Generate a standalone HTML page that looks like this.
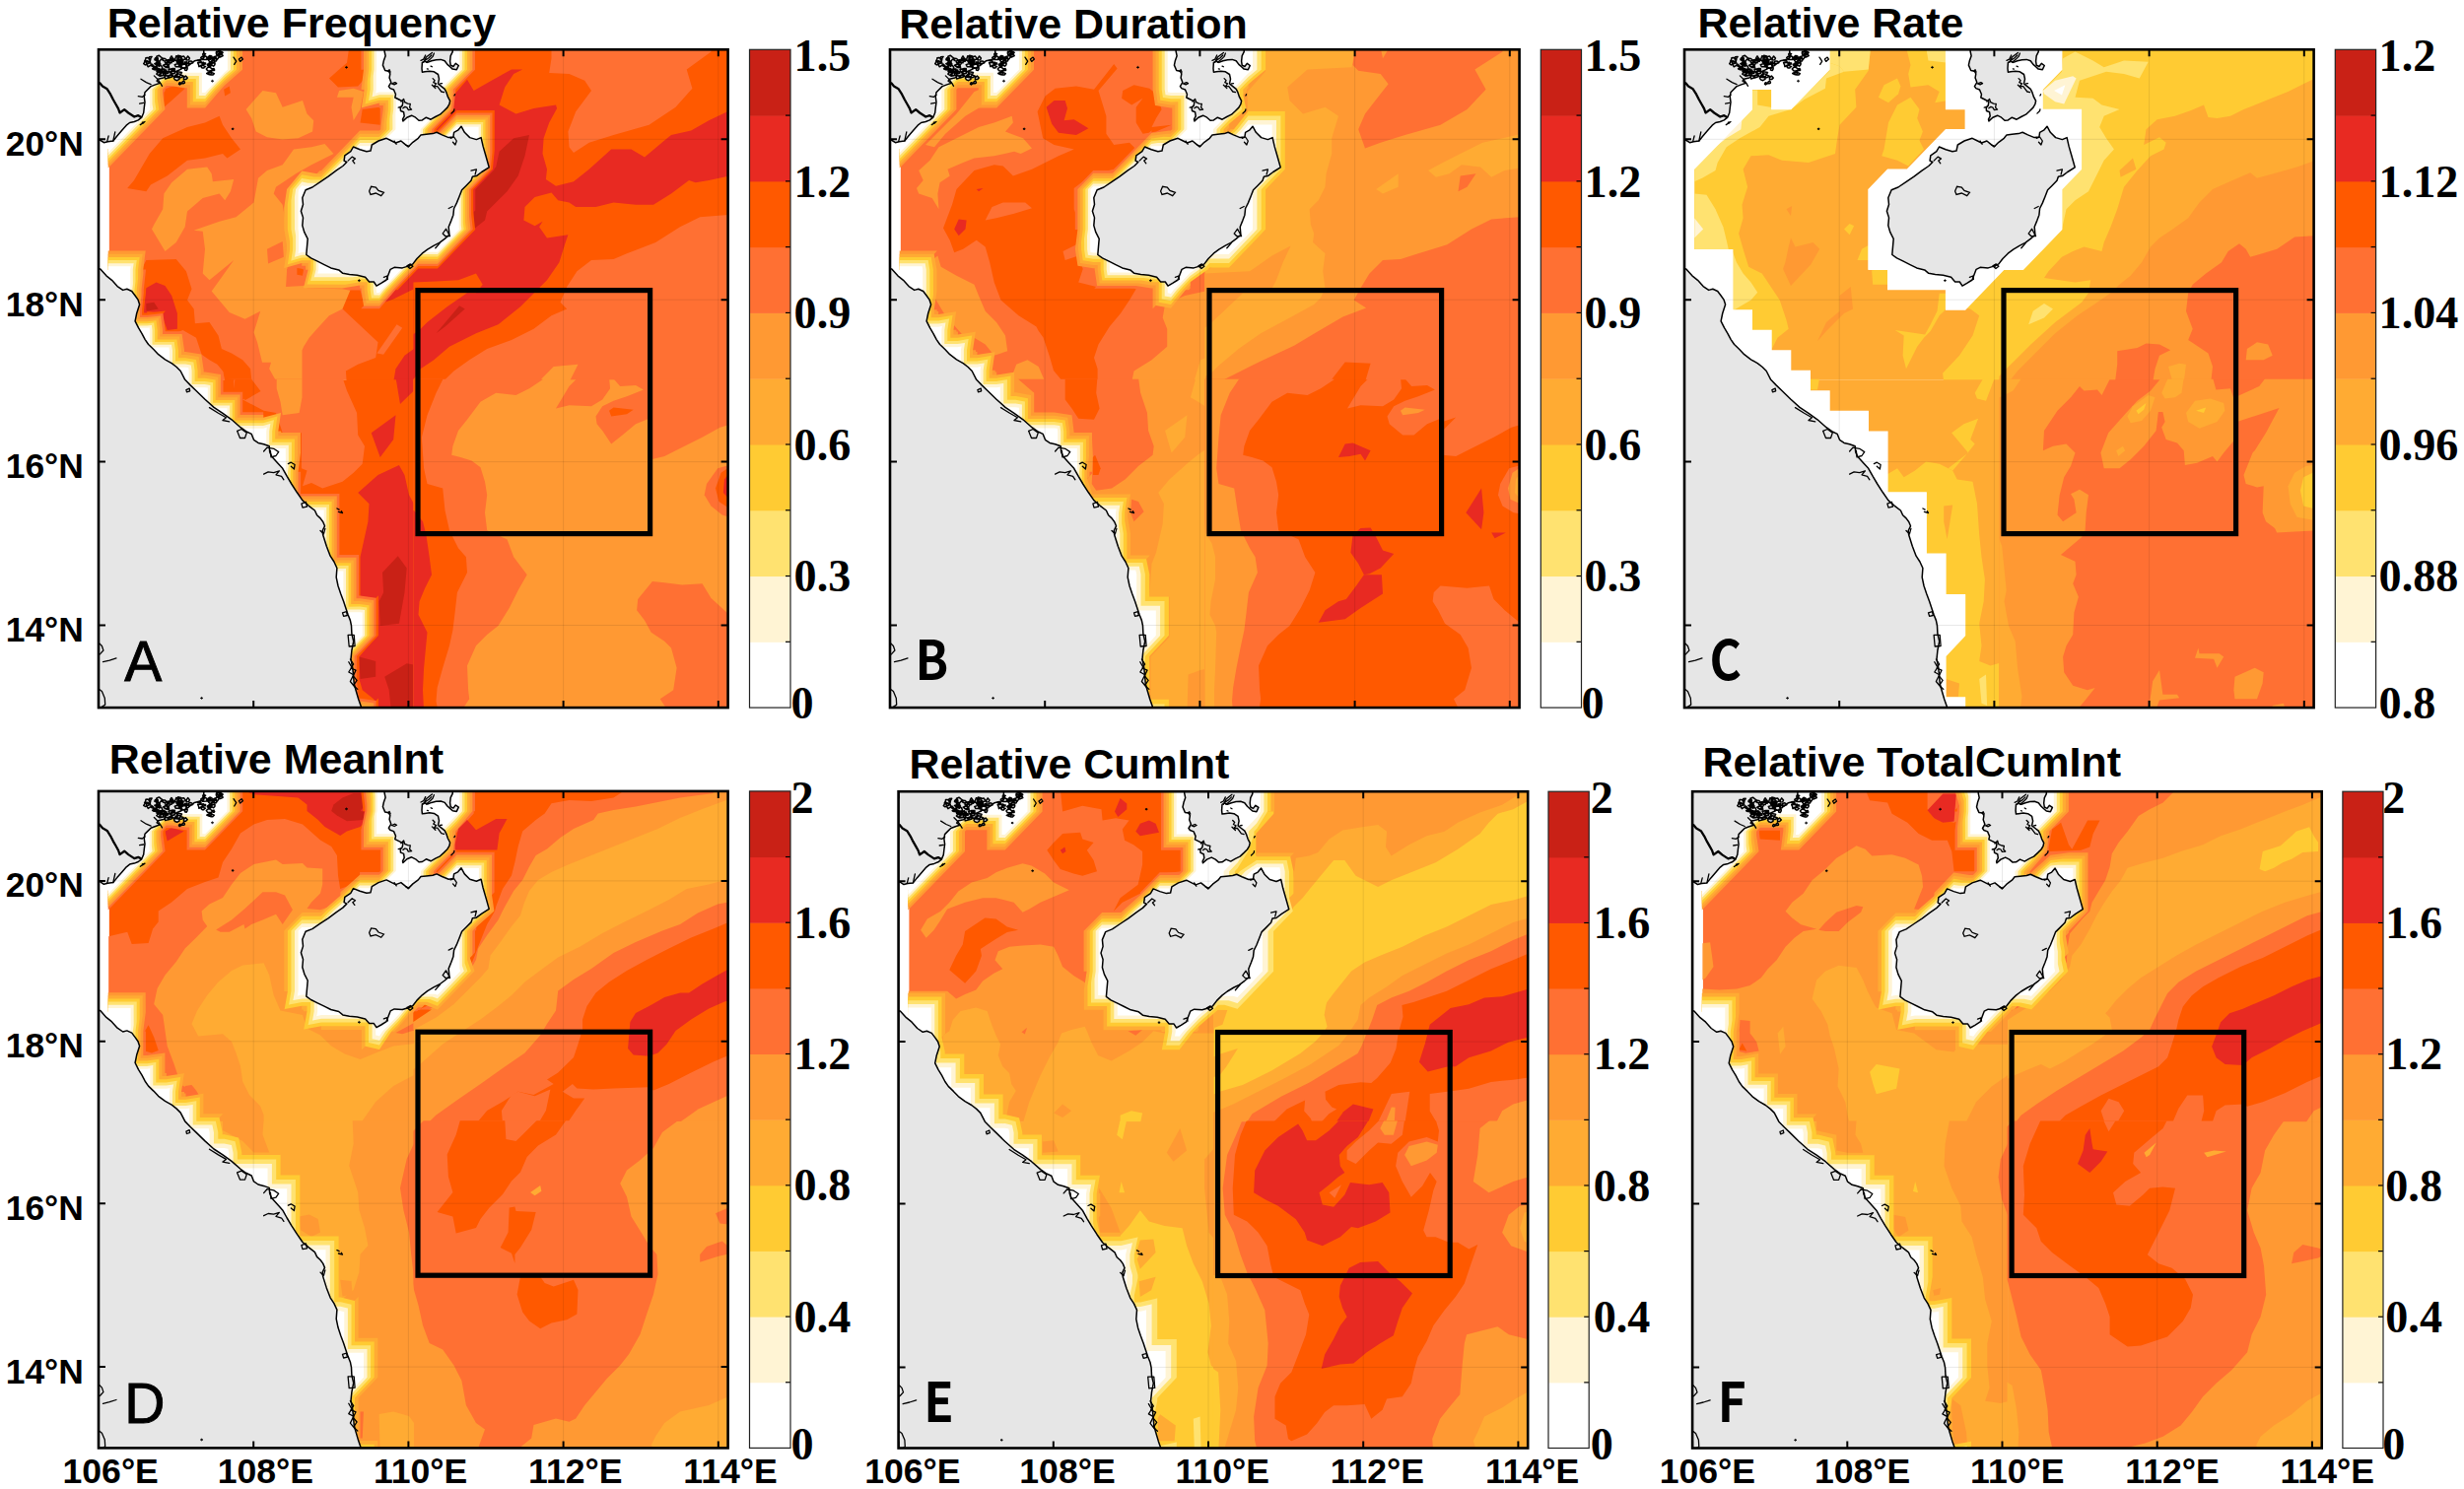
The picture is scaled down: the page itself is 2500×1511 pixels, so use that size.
<!DOCTYPE html>
<html><head><meta charset="utf-8"><title>Relative MHW metrics</title>
<style>html,body{margin:0;padding:0;background:#fff}svg{display:block}</style></head>
<body>
<svg width="2500" height="1511" viewBox="0 0 2500 1511">
<rect width="2500" height="1511" fill="#fff"/>
<clipPath id="cpA"><rect x="0" y="0" width="638.6" height="667.8"/></clipPath>
<g transform="translate(100.0,50.3)" clip-path="url(#cpA)">
<clipPath id="cqATL"><rect x="10.200000000000001" y="-0.6" width="310.4" height="336.2"/></clipPath>
<g clip-path="url(#cqATL)">
<rect x="10.8" y="0" width="309.2" height="335" fill="#ff7033"/>
<polygon points="166.5,41.6 180.0,43.9 186.7,58.5 207.0,51.7 211.5,65.2 218.2,72.0 217.1,83.2 202.5,90.0 186.7,91.1 171.0,88.9 159.7,83.2 155.2,69.7 149.6,60.7 157.5,51.7" fill="#ff9933"/>
<polygon points="244.1,41.6 258.7,39.4 268.9,42.7 265.5,60.7 258.7,72.0 256.5,58.5 258.7,48.4 241.9,48.4" fill="#ff9933"/>
<polygon points="74.2,135.0 90.0,121.5 110.2,119.2 114.7,126.0 115.9,133.9 137.2,131.6 133.9,144.0 128.2,153.0 122.6,146.2 105.7,150.7 90.0,164.2 87.7,180.0 78.7,195.7 67.5,204.7 54.0,182.2 56.2,177.7 65.2,162.0 66.4,146.2" fill="#ff9933"/>
<polygon points="96.7,183.4 122.6,174.4 139.5,169.9 157.5,155.2 162.0,130.5 171.0,122.6 186.7,117.0 198.0,101.2 216.0,99.0 229.5,95.6 238.5,105.7 216.0,117.0 200.2,126.0 180.0,139.5 177.7,146.2 186.7,157.5 189.0,171.0 193.5,202.5 191.2,225.0 211.5,241.9 247.5,243.0 258.7,245.2 247.5,263.2 234.0,270.0 221.6,283.5 213.7,292.5 208.1,301.5 206.5,305.3 206.5,337.5 180.7,337.5 173.2,324.0 175.0,317.5 166.0,317.5 161.1,297.2 157.5,286.9 164.2,265.5 148.5,273.4 132.7,266.6 114.7,245.2 126.0,229.5 137.2,213.7 112.5,234.0 105.7,227.2 108.0,202.5 105.7,184.5" fill="#ff9933"/>
<polygon points="171.0,202.5 186.7,194.6 187.9,210.4 172.1,217.1" fill="#ff7033"/>
<polygon points="191.2,222.7 210.4,219.4 208.1,239.6 190.1,240.7" fill="#ff7033"/>
<polygon points="201.4,221.6 208.1,222.7 207.0,229.5 201.4,228.4" fill="#ff5900"/>
<polygon points="29.2,140.6 36.0,132.7 51.7,105.7 65.2,90.0 90.0,78.7 108.0,74.2 122.6,67.5 126.0,76.5 135.0,90.0 144.0,101.2 130.5,110.2 126.0,105.7 108.0,110.2 90.0,112.5 69.7,128.2 52.9,137.2 48.4,144.0" fill="#ff5900"/>
<polygon points="66.4,39.4 76.5,37.1 87.7,39.4 74.2,51.7 66.4,58.5" fill="#ff5900"/>
<polygon points="234.0,29.2 245.2,19.1 252.0,13.5 254.2,-2.2 272.2,-2.2 270.0,29.2 263.2,37.1 243.0,38.2" fill="#ff5900"/>
<polygon points="267.7,60.7 285.7,58.5 285.7,76.5 265.5,74.2" fill="#ff5900"/>
<polygon points="127.1,40.5 132.7,37.1 133.9,43.9 128.2,47.2" fill="#ff5900"/>
<polygon points="48.4,213.7 78.7,212.6 88.9,225.0 94.5,243.0 90.0,254.2 96.7,263.2 97.9,277.9 112.5,276.7 121.5,290.2 124.9,303.7 135.0,308.2 146.2,315.0 154.1,324.0 155.5,337.5 128.7,337.5 126.0,326.2 120.4,319.5 112.5,315.0 104.6,309.4 99.0,292.5 85.5,284.6 67.5,292.5 45.0,281.2 40.5,247.5 45.0,220.5" fill="#ff5900"/>
<polygon points="48.4,241.9 58.5,236.2 67.5,239.6 74.2,249.7 79.9,267.7 79.9,283.5 69.7,284.6 65.2,272.2 58.5,266.6 45.0,265.5" fill="#e82a22"/>
<polygon points="48.4,257.6 56.2,256.5 60.7,263.2 48.4,265.5" fill="#c92116"/>
<polygon points="247.5,263.2 255.4,244.1 265.5,244.1 270.0,261.0 285.7,261.0 319.9,225.0 326.2,225.0 326.2,342.0 252.0,342.0 250.9,326.2 263.2,319.5 281.2,312.7 283.5,297.0" fill="#ff5900"/>
<polygon points="282.4,308.2 302.6,279.0 308.2,282.4 289.1,309.4" fill="#ff7033"/>
<polygon points="290.2,256.5 319.9,222.7 326.2,222.7 326.2,240.7 319.9,243.0 299.2,253.1" fill="#e82a22"/>
<polygon points="326.2,301.5 319.9,303.7 310.5,310.5 301.5,324.0 299.2,337.5 326.2,337.5" fill="#e82a22"/>
</g>
<clipPath id="cqATR"><rect x="319.4" y="-0.6" width="321.2" height="336.2"/></clipPath>
<g clip-path="url(#cqATR)">
<rect x="320" y="0" width="320" height="335" fill="#ff5900"/>
<polygon points="459.5,-2.2 621.5,-2.2 621.5,2.2 596.7,20.2 602.4,39.4 585.5,58.5 558.5,76.5 522.5,86.6 497.7,94.5 482.0,104.6 477.5,99.0 476.4,83.2 484.2,63.0 500.0,41.6 493.2,31.5 477.5,24.7 457.2,23.6 459.5,9.0" fill="#ff7033"/>
<polygon points="646.2,167.6 639.9,167.6 610.2,169.9 590.0,180.0 565.2,195.7 536.0,207.0 522.5,212.6 500.0,213.7 485.4,225.0 475.2,240.7 468.5,256.5 475.2,263.2 459.5,270.0 441.5,283.5 419.0,294.7 394.2,303.7 376.2,315.0 360.5,326.2 351.5,335.0 349.2,342.0 646.2,342.0" fill="#ff7033"/>
<polygon points="446.0,337.5 461.7,321.7 486.5,319.5 477.5,337.5" fill="#ff9933"/>
<polygon points="361.6,45.0 374.0,30.4 380.7,41.6 398.7,31.5 419.0,20.2 430.2,20.2 421.2,24.7 412.2,38.2 406.6,56.2 423.5,65.2 441.5,59.6 464.0,56.2 465.1,59.6 457.2,74.2 451.6,90.0 450.5,105.7 455.0,121.5 453.9,131.6 464.0,138.4 482.0,133.9 497.7,121.5 520.2,101.2 540.5,101.2 554.0,109.1 574.2,92.2 581.0,86.6 601.2,82.1 619.2,72.0 639.9,61.9 646.2,61.9 646.2,128.2 639.9,128.2 619.2,132.7 605.7,135.0 599.0,132.7 581.0,146.2 563.0,157.5 545.0,157.5 522.5,155.2 504.5,159.7 484.2,159.7 477.5,155.2 466.2,153.0 459.5,145.1 442.6,149.6 432.5,159.7 431.4,173.2 442.6,178.9 450.5,174.4 447.1,180.0 455.0,191.2 476.4,187.9 473.0,198.0 467.4,216.0 455.0,234.0 446.0,243.0 428.0,261.0 405.5,279.0 383.0,288.0 356.0,301.5 340.2,315.0 326.7,324.0 317.8,337.5 317.8,67.5 342.5,67.5" fill="#e82a22"/>
<polygon points="317.8,236.2 342.5,235.1 365.0,234.0 383.0,227.2 389.7,238.5 383.0,247.0 374.0,247.0 353.7,261.0 333.5,276.7 326.7,283.5 317.8,290.2" fill="#ff5900"/>
<polygon points="437.0,86.6 432.5,108.0 425.7,128.2 414.5,144.0 394.2,164.2 392.0,173.2 380.7,182.2 380.7,144.0 387.5,135.0 403.2,119.2 406.6,103.5 421.2,90.0" fill="#c92116"/>
<polygon points="342.5,288.0 366.1,259.9 371.7,263.2 351.5,281.2" fill="#c92116"/>
</g>
<clipPath id="cqABL"><rect x="10.200000000000001" y="334.4" width="310.4" height="336.2"/></clipPath>
<g clip-path="url(#cqABL)">
<rect x="10.8" y="335" width="309.2" height="335" fill="#ff5900"/>
<polygon points="126.0,332.8 137.2,335.0 137.2,344.0 147.4,354.1 146.2,355.2 167.6,366.5 180.0,368.7 186.7,389.0 205.9,389.0 205.9,425.0 211.5,427.2 207.0,443.0 216.0,439.6 227.2,445.2 247.5,438.5 258.7,429.5 267.7,420.5 270.0,402.5 263.2,391.2 262.1,368.7 252.0,346.2 247.5,332.8" fill="#ff7033"/>
<polygon points="127.8,332.8 127.8,337.0 135.0,336.1 138.4,335.0 136.8,345.8 148.9,355.7 164.5,346.7 155.5,335.0 155.5,332.8" fill="#ff5900"/>
<polygon points="180.7,332.8 206.5,332.8 206.5,353.0 203.6,368.7 186.7,371.0 184.5,357.5 180.7,344.0" fill="#ff9933"/>
<polygon points="301.5,332.8 326.2,332.8 326.2,346.2 319.9,346.2 306.0,359.7" fill="#e82a22"/>
<polygon points="276.7,389.0 301.5,371.0 299.2,395.7 285.7,413.7" fill="#e82a22"/>
<polygon points="263.2,449.7 283.5,431.7 304.9,421.6 310.5,431.7 315.0,452.0 319.9,461.0 326.2,461.0 326.2,672.5 285.7,672.5 279.0,659.0 267.7,650.0 264.4,638.7 264.4,616.2 281.2,596.0 281.2,562.2 265.5,557.7 265.5,515.0 273.4,479.0 274.5,461.0" fill="#e82a22"/>
<polygon points="288.0,530.7 303.7,513.9 312.7,526.2 310.5,551.0 304.9,582.5 285.7,584.7 284.6,560.0 289.1,551.0" fill="#c92116"/>
<polygon points="264.4,616.2 281.2,620.7 281.2,636.5 265.5,638.7" fill="#c92116"/>
<polygon points="290.2,636.5 312.7,623.0 326.2,625.2 326.2,672.5 297.0,672.5 294.7,650.0" fill="#c92116"/>
</g>
<clipPath id="cqABR"><rect x="319.4" y="334.4" width="321.2" height="336.2"/></clipPath>
<g clip-path="url(#cqABR)">
<rect x="320" y="335" width="320" height="335" fill="#ff9933"/>
<polygon points="317.8,332.8 450.5,332.8 450.5,335.0 437.0,344.0 423.5,350.7 403.2,348.5 387.5,357.5 374.0,375.5 365.0,386.7 359.4,402.5 358.2,411.5 367.2,413.7 378.5,417.1 387.5,423.9 392.0,438.5 394.2,452.0 392.0,470.0 394.2,488.0 414.5,497.0 421.2,515.0 434.7,533.0 425.7,548.7 416.7,566.7 405.5,584.7 394.2,593.7 383.0,605.0 374.0,625.2 375.1,650.0 376.2,659.0 367.2,672.5 317.8,672.5" fill="#ff7033"/>
<polygon points="317.8,332.8 349.2,332.8 349.2,335.0 342.5,348.5 333.5,371.0 327.9,393.5 330.1,425.0 333.5,440.7 349.2,445.2 351.5,467.7 356.0,488.0 365.0,506.0 372.9,515.0 374.0,530.7 363.9,551.0 361.6,571.2 359.4,589.2 356.0,605.0 349.2,627.5 343.6,647.7 342.5,661.2 344.7,672.5 317.8,672.5" fill="#ff5900"/>
<polygon points="317.8,467.7 320.0,467.7 329.0,479.0 332.4,492.5 335.7,515.0 338.0,533.0 331.2,546.5 325.6,560.0 324.5,573.5 330.1,584.7 333.5,591.5 330.1,627.5 329.0,650.0 330.1,672.5 317.8,672.5" fill="#e82a22"/>
<polygon points="464.0,364.2 477.5,341.7 486.5,332.8 518.0,332.8 519.1,344.0 511.2,355.2 500.0,362.0 477.5,360.9" fill="#ff7033"/>
<polygon points="504.5,372.1 511.2,362.0 522.5,356.4 536.0,351.9 552.9,345.1 545.0,340.6 529.2,341.7 521.4,332.8 558.5,332.8 558.5,374.4 545.0,380.0 531.5,391.2 520.2,400.2 511.2,386.7 505.6,380.0" fill="#ff7033"/>
<polygon points="518.0,366.5 522.5,363.1 542.7,365.4 536.0,369.9 520.2,372.1" fill="#ff5900"/>
<polygon points="560.7,332.8 646.2,332.8 646.2,378.9 630.5,383.4 612.5,393.5 590.0,404.7 574.2,412.6 560.7,416.0" fill="#ff7033"/>
<polygon points="646.2,421.6 639.9,421.6 628.2,425.0 617.0,440.7 614.7,452.0 621.5,463.2 632.7,472.2 639.9,474.5 646.2,474.5" fill="#ff7033"/>
<polygon points="646.2,423.9 639.9,423.9 631.6,429.5 626.0,445.2 629.4,458.7 639.9,465.5 646.2,465.5" fill="#ff5900"/>
<polygon points="646.2,429.5 639.9,429.5 635.0,436.2 633.9,449.7 639.9,456.5 646.2,456.5" fill="#e82a22"/>
<polygon points="561.9,539.7 574.2,540.9 592.2,543.1 612.5,542.0 621.5,556.6 639.9,573.5 646.2,573.5 646.2,672.5 578.7,672.5 569.7,659.0 583.2,650.0 586.6,627.5 581.0,607.2 574.2,600.5 560.7,591.5 554.0,579.1 546.1,569.0 547.2,557.7" fill="#ff7033"/>
</g>
<path d="M383.3,121.1 363.1,141.9 363.4,141.9 363.4,162.1 363.1,162.3 363.4,162.3 363.4,182.9 382.3,163.3 382.3,141.9 402.1,121.3 383.3,121.3ZM29.3,284.8 29.3,285.0 29.5,284.8 49.2,284.8 49.2,265.1 48.2,265.1 48.2,264.0 29.3,264.0 29.3,284.6 29.1,284.8Z" fill="#e82a22" fill-rule="evenodd"/>
<path d="M29.3,284.6 29.1,284.8 29.3,284.8 29.3,285.0 29.5,284.8 48.9,284.8 48.9,285.0 68.0,265.2 49.1,267.3 46.1,267.3 46.1,264.2 48.1,245.0 48.1,243.6 29.3,243.6 29.3,264.1 29.1,264.3 29.3,264.3ZM283.9,553.9 264.9,574.0 265.1,574.0 265.1,594.6 245.3,615.7 245.4,615.7 245.4,636.3 245.3,636.6 245.4,636.6 245.4,657.7 264.2,637.7 264.2,615.6 284.1,594.5 283.9,594.5ZM283.9,678.4 283.9,658.2 264.9,678.4ZM344.0,60.3 323.8,81.1 324.1,81.1 324.1,101.1 323.8,101.3 324.1,101.3 324.1,101.6 324.3,101.3 343.7,101.3 343.7,101.6 363.6,81.1 383.0,81.1 383.0,101.1 382.8,101.3 383.0,101.3 383.0,121.4 363.1,141.9 363.4,141.9 363.4,162.1 363.1,162.3 363.4,162.3 363.4,182.4 343.8,202.7 324.3,202.7 324.3,202.5 324.1,202.7 284.5,243.9 303.5,243.9 324.3,222.2 343.7,222.2 343.7,222.5 382.2,182.6 382.3,182.3 382.1,182.3 380.2,165.3 380.2,141.9 400.1,121.3 399.9,121.3 401.8,102.0 401.8,61.9 402.0,61.7 401.8,61.7 401.8,61.5 401.6,61.7 363.6,61.7 363.6,61.5 343.8,82.0 342.8,82.0 342.8,81.0 362.7,60.5 344.0,60.5Z" fill="#ff5900" fill-rule="evenodd"/>
<path d="M48.9,40.6 48.9,61.0 67.6,41.9 67.6,40.5 68.8,39.3 70.1,39.3 88.8,20.1 68.9,20.1 68.9,19.9 48.9,40.3 48.7,40.6ZM127.8,39.2 127.8,19.9 107.7,40.6 126.5,40.6ZM29.1,264.3 29.3,264.3 29.3,284.6 29.1,284.8 29.3,284.8 29.3,285.0 29.5,284.8 48.9,284.8 48.9,305.1 48.7,305.3 48.9,305.3 48.9,305.5 49.2,305.3 68.6,305.3 68.6,305.5 87.4,285.9 67.6,285.9 67.6,284.5 65.4,267.8 65.7,267.6 65.4,267.6 65.4,267.5 65.2,267.7 49.1,269.4 44.1,269.4 44.1,264.2 45.8,246.9 45.8,243.7 47.9,224.7 47.9,223.1 29.3,223.1 29.3,243.7 29.1,243.9 29.3,243.9 29.3,264.1ZM107.7,346.4 107.9,346.4 107.9,366.8 107.7,367.0 107.9,367.0 107.9,367.2 108.1,367.0 127.5,367.0 127.5,387.4 127.3,387.6 127.5,387.6 127.5,387.8 127.8,387.6 147.2,387.6 147.2,387.8 147.4,387.6 167.2,387.6 167.2,368.0 146.2,368.0 146.2,347.7 146.4,347.5 146.2,347.5 146.2,347.2 146.0,347.5 126.5,347.5 126.5,326.7ZM186.5,449.5 186.5,470.0 186.3,470.2 186.5,470.2 186.5,470.4 186.7,470.2 206.2,470.2 206.2,470.4 206.4,470.2 225.8,470.2 225.8,490.7 225.6,490.9 225.8,490.9 225.8,511.4 225.6,511.6 225.8,511.6 225.8,532.2 225.6,532.4 225.8,532.4 225.8,532.6 226.0,532.4 245.4,532.4 245.4,553.0 245.3,553.2 245.4,553.2 245.4,573.8 245.3,574.0 245.4,574.0 245.4,574.2 245.7,574.0 265.1,574.0 265.1,594.6 245.3,615.7 245.4,615.7 245.4,636.3 245.3,636.6 245.4,636.6 245.4,657.2 245.3,657.5 245.4,657.5 245.4,678.2 245.3,678.4 245.4,678.4 245.4,678.6 245.7,678.4 265.1,678.4 265.1,678.6 265.3,678.4 281.6,678.4 281.6,661.1 281.7,660.9 281.6,660.9 281.6,660.6 281.4,660.8 265.4,658.5 264.1,658.5 264.1,657.2 261.9,640.1 261.9,615.6 281.8,594.5 281.6,594.5 281.6,556.8 281.7,556.6 281.6,556.6 281.6,556.3 281.4,556.5 265.4,554.3 264.1,554.3 264.1,512.9 264.3,512.7 264.1,512.7 264.1,512.5 263.9,512.7 244.4,512.7 244.4,450.8 244.6,450.6 244.4,450.6 244.4,450.3 244.2,450.6 205.1,450.6 205.1,428.5 186.5,428.5 186.5,449.3 186.3,449.5ZM226.3,202.7 226.1,202.7 226.1,202.5 225.9,202.7 206.2,202.7 206.2,222.1 207.5,222.1 207.5,223.4 226.1,223.4 226.1,202.9ZM285.3,-0.1 285.0,-0.1 285.0,-0.3 284.8,-0.1 266.4,-0.1 266.4,20.4 285.0,20.4 285.0,0.1ZM284.8,40.3 284.8,59.5 286.1,59.5 286.1,60.8 304.7,60.8 304.7,40.5 304.9,40.3 304.7,40.3 304.7,40.1 304.5,40.3ZM323.8,101.3 324.1,101.3 324.1,101.6 324.3,101.3 343.7,101.3 343.7,101.6 363.6,81.1 383.0,81.1 383.0,101.1 382.8,101.3 383.0,101.3 383.0,121.4 363.1,141.9 363.4,141.9 363.4,162.1 363.1,162.3 363.4,162.3 363.4,182.4 343.8,202.7 324.3,202.7 324.3,202.5 324.1,202.7 266.2,263.0 284.8,263.0 284.8,263.2 301.2,243.8 324.3,219.8 343.7,219.8 343.7,220.1 380.0,182.3 379.8,182.3 378.1,167.5 378.1,141.9 398.0,121.3 397.8,121.3 399.5,104.4 399.5,64.3 399.7,64.1 399.5,64.1 399.5,63.9 399.3,64.1 363.6,64.1 363.6,63.9 343.8,84.3 340.5,84.3 340.5,81.0 360.4,60.5 360.2,60.5 362.3,41.9 362.3,40.5 382.2,20.1 382.0,20.1 382.0,-0.1 363.4,-0.1 363.4,20.2 343.5,40.6 343.7,40.6 343.7,60.6 323.8,81.1 324.1,81.1 324.1,101.1Z" fill="#ff7033" fill-rule="evenodd"/>
<path d="M88.5,39.0 89.8,39.0 89.8,59.1 89.6,59.3 89.8,59.3 89.8,59.5 90.0,59.3 107.9,59.3 107.9,59.5 123.9,40.6 127.8,36.5 146.2,20.1 146.0,20.1 146.0,-0.1 127.5,-0.1 127.5,20.2 108.2,40.1 108.2,20.3 108.4,20.1 108.2,20.1 108.2,19.9 108.0,20.1 88.5,20.1 88.5,19.9 88.3,20.1 68.9,20.1 68.9,19.9 68.6,20.1 48.7,40.6 48.9,40.6 48.9,60.6 9.4,101.3 9.7,101.3 9.7,120.3 67.4,60.8 67.6,60.5 67.4,60.5 65.0,44.5 65.0,40.5 68.8,36.6 72.7,36.6ZM9.7,204.3 9.7,223.2 9.4,223.4 9.7,223.4 9.7,223.7 9.9,223.4 29.3,223.4 29.3,243.7 29.1,243.9 29.3,243.9 29.3,264.1 29.1,264.3 29.3,264.3 29.3,284.6 29.1,284.8 29.3,284.8 29.3,285.0 29.5,284.8 48.9,284.8 48.9,305.1 48.7,305.3 48.9,305.3 48.9,305.5 49.2,305.3 68.6,305.3 68.6,325.6 68.4,325.8 68.6,325.8 68.6,326.1 68.8,325.8 88.2,325.8 88.2,346.2 88.0,346.4 88.2,346.4 88.2,346.6 88.5,346.4 107.9,346.4 107.9,366.8 107.7,367.0 107.9,367.0 107.9,367.2 108.1,367.0 127.5,367.0 127.5,387.4 127.3,387.6 127.5,387.6 127.5,387.8 127.8,387.6 147.2,387.6 147.2,387.8 147.4,387.6 166.8,387.6 166.8,408.0 166.6,408.2 166.8,408.2 166.8,408.4 167.1,408.2 186.5,408.2 186.5,428.6 186.3,428.8 186.5,428.8 186.5,449.3 186.3,449.5 186.5,449.5 186.5,470.0 186.3,470.2 186.5,470.2 186.5,470.4 186.7,470.2 206.2,470.2 206.2,470.4 206.4,470.2 225.8,470.2 225.8,490.7 225.6,490.9 225.8,490.9 225.8,511.4 225.6,511.6 225.8,511.6 225.8,532.2 225.6,532.4 225.8,532.4 225.8,532.6 226.0,532.4 245.4,532.4 245.4,553.0 245.3,553.2 245.4,553.2 245.4,573.8 245.3,574.0 245.4,574.0 245.4,574.2 245.7,574.0 265.1,574.0 265.1,594.6 245.3,615.7 245.4,615.7 245.4,636.3 245.3,636.6 245.4,636.6 245.4,657.2 245.3,657.5 245.4,657.5 245.4,678.2 245.3,678.4 245.4,678.4 245.4,678.6 245.7,678.4 265.1,678.4 265.1,678.6 265.3,678.4 279.3,678.4 279.3,663.5 279.4,663.3 279.3,663.3 279.3,663.1 279.1,663.3 265.4,661.3 261.5,661.3 261.5,657.2 259.6,642.5 259.6,615.6 279.5,594.5 279.3,594.5 279.3,559.2 279.4,559.0 279.3,559.0 279.3,558.8 279.1,559.0 265.4,557.0 261.5,557.0 261.5,515.7 261.7,515.5 261.5,515.5 261.5,515.3 261.3,515.5 241.8,515.5 241.8,453.5 242.0,453.3 241.8,453.3 241.8,453.1 241.6,453.3 202.5,453.3 202.5,428.7 205.0,409.2 204.9,389.1 205.1,388.8 204.9,388.8 204.9,388.6 204.7,388.8 185.3,388.8 185.3,387.3 167.2,387.3 167.2,370.8 143.6,370.8 143.6,350.4 143.8,350.2 143.6,350.2 143.6,350.0 143.4,350.2 123.9,350.2 123.9,329.9 124.1,329.7 123.9,329.7 123.9,329.4 123.7,329.6 108.2,327.1 106.7,327.1 106.7,325.5 104.3,309.3 104.4,309.2 104.3,309.1 104.2,308.9 104.1,309.1 88.5,306.6 87.0,306.6 87.0,305.0 84.6,288.8 84.8,288.6 84.6,288.6 84.6,288.4 84.4,288.6 65.0,288.6 65.0,284.5 63.1,270.3 63.4,270.0 63.1,270.0 63.1,269.9 62.9,270.1 49.1,271.6 42.0,271.6 42.0,264.2 43.5,249.3 43.5,243.7 45.4,227.0 45.3,223.3 47.7,204.5 47.9,204.3 47.8,204.3 47.8,204.0 47.5,204.3ZM225.8,142.2 265.3,101.3 284.8,101.3 284.8,101.6 304.9,80.8 304.7,80.8 304.7,60.7 304.9,60.5 304.7,60.5 304.7,40.5 304.9,40.3 304.7,40.3 304.7,40.1 304.5,40.3 285.0,40.3 285.0,20.3 285.3,20.1 285.0,20.1 285.0,0.1 285.3,-0.1 285.0,-0.1 285.0,-0.3 284.8,-0.1 269.0,-0.1 269.0,20.2 266.6,39.3 266.6,40.6 284.8,40.6 284.8,56.8 288.7,56.8 288.7,60.7 286.3,79.3 286.3,80.9 284.8,82.3 265.4,82.3 265.4,82.1 265.1,82.3 225.9,122.9 224.4,122.9 205.9,141.9 225.8,141.9ZM206.2,219.4 210.1,219.4 210.1,223.4 226.1,223.4 226.1,202.9 226.3,202.7 226.1,202.7 226.1,202.5 225.9,202.7 206.5,202.7 206.5,182.1 188.0,201.3 188.0,203.0 206.2,203.0ZM269.1,260.4 269.2,260.2 284.8,260.2 284.8,260.5 298.9,243.8 324.3,217.4 343.7,217.4 343.7,217.7 377.7,182.3 377.5,182.3 376.1,169.6 376.1,141.9 395.9,121.3 395.7,121.3 397.2,106.7 397.2,66.7 397.4,66.5 397.2,66.5 397.2,66.3 397.0,66.5 363.6,66.5 363.6,66.3 343.8,86.7 338.2,86.7 338.2,81.0 358.1,60.5 357.9,60.5 359.8,44.1 359.7,40.5 379.6,20.1 379.4,20.1 379.4,-0.1 363.4,-0.1 363.4,20.2 343.5,40.6 343.7,40.6 343.7,60.6 323.8,81.1 324.1,81.1 324.1,101.1 323.8,101.3 324.1,101.3 324.1,101.6 324.3,101.3 343.7,101.3 343.7,101.6 363.6,81.1 383.0,81.1 383.0,101.1 382.8,101.3 383.0,101.3 383.0,121.4 363.1,141.9 363.4,141.9 363.4,162.1 363.1,162.3 363.4,162.3 363.4,182.4 343.8,202.7 324.3,202.7 324.3,202.5 324.1,202.7 285.0,243.4 285.0,223.4 285.3,223.1 285.0,223.1 285.0,222.9 284.8,223.1 265.1,223.1 265.1,242.3 266.6,242.3 266.6,243.9 269.0,260.0 268.8,260.2 269.1,260.2Z" fill="#ff9933" fill-rule="evenodd"/>
<path d="M88.5,35.9 92.8,35.9 92.8,55.9 92.6,56.2 92.8,56.2 92.8,56.4 93.0,56.2 107.9,56.2 107.9,56.4 121.3,40.6 127.8,33.8 143.2,20.1 143.0,20.1 143.0,-0.1 127.5,-0.1 127.5,20.2 108.2,40.1 108.2,20.3 108.4,20.1 108.2,20.1 108.2,19.9 108.0,20.1 88.5,20.1 88.5,19.9 88.3,20.1 68.9,20.1 68.9,19.9 68.6,20.1 48.7,40.6 48.9,40.6 48.9,60.6 9.4,101.3 9.7,101.3 9.7,117.2 64.4,60.8 64.6,60.5 64.3,60.5 62.3,47.2 62.3,40.5 68.8,33.9 75.3,33.9ZM44.5,207.4 9.7,207.4 9.7,223.2 9.4,223.4 9.7,223.4 9.7,223.7 9.9,223.4 29.3,223.4 29.3,243.7 29.1,243.9 29.3,243.9 29.3,264.1 29.1,264.3 29.3,264.3 29.3,284.6 29.1,284.8 29.3,284.8 29.3,285.0 29.5,284.8 48.9,284.8 48.9,305.1 48.7,305.3 48.9,305.3 48.9,305.5 49.2,305.3 68.6,305.3 68.6,325.6 68.4,325.8 68.6,325.8 68.6,326.1 68.8,325.8 88.2,325.8 88.2,346.2 88.0,346.4 88.2,346.4 88.2,346.6 88.5,346.4 107.9,346.4 107.9,366.8 107.7,367.0 107.9,367.0 107.9,367.2 108.1,367.0 127.5,367.0 127.5,387.4 127.3,387.6 127.5,387.6 127.5,387.8 127.8,387.6 147.2,387.6 147.2,387.8 147.4,387.6 166.8,387.6 166.8,408.0 166.6,408.2 166.8,408.2 166.8,408.4 167.1,408.2 186.5,408.2 186.5,428.6 186.3,428.8 186.5,428.8 186.5,449.3 186.3,449.5 186.5,449.5 186.5,470.0 186.3,470.2 186.5,470.2 186.5,470.4 186.7,470.2 206.2,470.2 206.2,470.4 206.4,470.2 225.8,470.2 225.8,490.7 225.6,490.9 225.8,490.9 225.8,511.4 225.6,511.6 225.8,511.6 225.8,532.2 225.6,532.4 225.8,532.4 225.8,532.6 226.0,532.4 245.4,532.4 245.4,553.0 245.3,553.2 245.4,553.2 245.4,573.8 245.3,574.0 245.4,574.0 245.4,574.2 245.7,574.0 265.1,574.0 265.1,594.6 245.3,615.7 245.4,615.7 245.4,636.3 245.3,636.6 245.4,636.6 245.4,657.2 245.3,657.5 245.4,657.5 245.4,678.2 245.3,678.4 245.4,678.4 245.4,678.6 245.7,678.4 265.1,678.4 265.1,678.6 265.3,678.4 277.0,678.4 277.0,666.0 277.1,665.8 277.0,665.8 277.0,665.5 276.8,665.8 265.4,664.1 258.8,664.1 258.8,657.2 257.3,645.0 257.3,615.6 277.2,594.5 277.0,594.5 277.0,561.7 277.1,561.5 277.0,561.5 277.0,561.2 276.8,561.4 265.4,559.8 258.8,559.8 258.8,518.5 259.0,518.3 258.8,518.3 258.8,518.0 258.6,518.3 239.2,518.3 239.2,456.3 239.4,456.1 239.2,456.1 239.2,455.9 239.0,456.1 199.9,456.1 199.9,428.7 202.0,412.4 201.9,392.2 202.1,392.0 201.9,392.0 201.9,391.8 201.7,392.0 182.3,392.0 182.3,387.4 185.0,368.8 185.3,368.4 185.0,368.5 185.1,368.2 184.8,368.6 167.0,373.5 140.9,373.5 140.9,353.2 141.2,352.9 140.9,352.9 140.9,352.7 140.7,352.9 121.3,352.9 121.3,332.6 121.5,332.4 121.3,332.4 121.3,332.2 121.1,332.4 108.2,330.3 103.7,330.3 103.7,325.5 101.7,312.1 101.8,311.9 101.6,311.9 101.6,311.7 101.4,311.8 88.5,309.8 84.0,309.8 84.0,305.0 82.0,291.5 82.2,291.3 82.0,291.3 82.0,291.2 81.8,291.3 62.3,291.3 62.3,284.5 60.8,272.7 61.1,272.4 60.8,272.4 60.8,272.3 60.6,272.5 49.1,273.7 39.9,273.7 39.9,264.2 41.2,251.7 41.2,243.7 42.7,229.7 42.7,223.3 44.7,207.7 44.9,207.4 44.7,207.4 44.8,207.2ZM190.9,141.9 191.0,141.9 188.2,160.7 188.3,182.3 191.0,198.2 191.0,202.9 188.3,221.4 187.9,221.7 188.3,221.6 188.2,221.9 188.5,221.6 206.3,216.6 212.7,216.6 212.7,223.3 208.0,241.8 207.7,242.0 207.9,242.0 207.8,242.4 208.2,242.0 247.0,242.1 265.3,239.2 269.6,239.2 269.6,243.9 271.6,257.3 271.4,257.5 271.7,257.5 271.7,257.7 271.9,257.5 284.8,257.5 284.8,257.8 296.6,243.8 324.3,215.0 343.7,215.0 343.7,215.3 344.0,215.0 375.4,182.3 375.2,182.3 374.0,171.8 374.0,141.9 393.8,121.3 393.7,121.3 394.9,109.1 394.9,69.1 395.1,68.9 394.9,68.9 394.9,68.6 394.6,68.9 363.6,68.9 363.6,68.6 343.8,89.1 335.9,89.1 335.9,81.0 355.8,60.5 355.6,60.5 357.1,46.8 357.1,40.5 377.0,20.1 376.7,20.1 376.7,-0.1 363.4,-0.1 363.4,20.2 343.5,40.6 343.7,40.6 343.7,60.6 323.8,81.1 324.1,81.1 324.1,101.1 323.8,101.3 324.1,101.3 324.1,101.6 324.3,101.3 343.7,101.3 343.7,101.6 363.6,81.1 383.0,81.1 383.0,101.1 382.8,101.3 383.0,101.3 383.0,121.4 363.1,141.9 363.4,141.9 363.4,162.1 363.1,162.3 363.4,162.3 363.4,182.4 343.8,202.7 324.3,202.7 324.3,202.5 285.0,243.4 285.0,223.4 285.3,223.1 285.0,223.1 285.0,222.9 284.8,223.1 265.4,223.1 265.4,222.9 265.2,223.1 245.8,223.1 245.8,222.9 245.5,223.1 226.1,223.1 226.1,202.9 226.3,202.7 226.1,202.7 226.1,202.5 225.9,202.7 206.5,202.7 206.5,182.6 206.7,182.3 206.5,182.3 206.5,162.2 206.7,162.0 206.5,162.0 206.5,141.9 225.8,141.9 225.8,142.2 265.3,101.3 284.8,101.3 284.8,101.6 304.9,80.8 304.7,80.8 304.7,60.7 304.9,60.5 304.7,60.5 304.7,40.5 304.9,40.3 304.7,40.3 304.7,40.1 304.5,40.3 285.0,40.3 285.0,20.3 285.3,20.1 285.0,20.1 285.0,0.1 285.3,-0.1 285.0,-0.1 285.0,-0.3 284.8,-0.1 271.7,-0.1 271.7,20.2 269.6,36.2 269.6,40.4 266.9,58.8 266.5,59.1 266.9,59.0 266.8,59.3 267.1,59.0 284.9,54.1 291.3,54.1 291.3,60.7 289.2,76.7 289.3,80.9 284.8,85.4 265.4,85.4 265.4,85.2 225.9,126.0 221.4,126.0 206.5,123.2 206.5,122.9Z" fill="#ffab33" fill-rule="evenodd"/>
<path d="M88.5,32.8 95.8,32.8 95.8,52.8 95.6,53.0 95.8,53.0 95.8,53.3 96.0,53.0 107.9,53.0 107.9,53.3 118.6,40.6 127.8,31.1 140.2,20.1 139.9,20.1 139.9,-0.1 127.5,-0.1 127.5,20.2 108.2,40.1 108.2,20.3 108.4,20.1 108.2,20.1 108.2,19.9 108.0,20.1 88.5,20.1 88.5,19.9 88.3,20.1 68.9,20.1 68.9,19.9 68.6,20.1 48.7,40.6 48.9,40.6 48.9,60.6 9.4,101.3 9.7,101.3 9.7,114.0 61.4,60.8 61.5,60.5 61.3,60.5 59.7,49.9 59.7,40.5 68.8,31.2 77.9,31.2ZM41.5,210.6 9.7,210.6 9.7,223.2 9.4,223.4 9.7,223.4 9.7,223.7 9.9,223.4 29.3,223.4 29.3,243.7 29.1,243.9 29.3,243.9 29.3,264.1 29.1,264.3 29.3,264.3 29.3,284.6 29.1,284.8 29.3,284.8 29.3,285.0 29.5,284.8 48.9,284.8 48.9,305.1 48.7,305.3 48.9,305.3 48.9,305.5 49.2,305.3 68.6,305.3 68.6,325.6 68.4,325.8 68.6,325.8 68.6,326.1 68.8,325.8 88.2,325.8 88.2,346.2 88.0,346.4 88.2,346.4 88.2,346.6 88.5,346.4 107.9,346.4 107.9,366.8 107.7,367.0 107.9,367.0 107.9,367.2 108.1,367.0 127.5,367.0 127.5,387.4 127.3,387.6 127.5,387.6 127.5,387.8 127.8,387.6 147.2,387.6 147.2,387.8 147.4,387.6 166.8,387.6 166.8,408.0 166.6,408.2 166.8,408.2 166.8,408.4 167.1,408.2 186.5,408.2 186.5,428.6 186.3,428.8 186.5,428.8 186.5,449.3 186.3,449.5 186.5,449.5 186.5,470.0 186.3,470.2 186.5,470.2 186.5,470.4 186.7,470.2 206.2,470.2 206.2,470.4 206.4,470.2 225.8,470.2 225.8,490.7 225.6,490.9 225.8,490.9 225.8,511.4 225.6,511.6 225.8,511.6 225.8,532.2 225.6,532.4 225.8,532.4 225.8,532.6 226.0,532.4 245.4,532.4 245.4,553.0 245.3,553.2 245.4,553.2 245.4,573.8 245.3,574.0 245.4,574.0 245.4,574.2 245.7,574.0 265.1,574.0 265.1,594.6 245.3,615.7 245.4,615.7 245.4,636.3 245.3,636.6 245.4,636.6 245.4,657.2 245.3,657.5 245.4,657.5 245.4,678.2 245.3,678.4 245.4,678.4 245.4,678.6 245.7,678.4 265.1,678.4 265.1,678.6 265.3,678.4 274.6,678.4 274.6,668.4 274.8,668.3 274.6,668.3 274.6,668.0 274.4,668.2 265.1,666.9 256.2,666.9 256.2,657.5 255.0,647.5 255.0,615.6 274.8,594.5 274.6,594.5 274.6,564.1 274.8,563.9 274.6,563.9 274.6,563.7 274.4,563.9 265.1,562.6 256.2,562.6 256.2,521.2 256.4,521.0 256.2,521.0 256.2,520.8 256.0,521.0 236.6,521.0 236.6,459.1 236.8,458.8 236.6,458.8 236.6,458.6 236.4,458.8 197.3,458.8 197.3,428.7 198.9,415.5 198.9,395.4 199.1,395.2 198.9,395.2 198.9,395.0 198.7,395.2 179.2,395.2 179.2,387.4 181.4,372.5 181.8,372.1 181.5,372.2 181.5,372.0 181.2,372.3 167.0,376.3 138.3,376.3 138.3,355.9 138.5,355.7 138.3,355.7 138.3,355.5 138.1,355.7 118.7,355.7 118.7,335.3 118.8,335.2 118.7,335.2 118.7,334.9 118.5,335.1 107.9,333.4 100.6,333.4 100.6,325.5 99.0,314.8 99.2,314.6 99.0,314.6 99.0,314.4 98.8,314.6 88.2,312.9 81.0,312.9 81.0,305.3 79.4,294.3 79.6,294.1 79.4,294.1 79.3,293.9 79.2,294.1 59.7,294.1 59.8,284.8 58.5,275.1 58.7,274.8 58.5,274.9 58.5,274.7 58.3,274.9 49.1,275.9 37.9,275.9 37.9,264.2 38.9,254.1 38.8,243.7 40.1,232.4 40.1,223.3 41.7,210.8 41.9,210.6 41.7,210.6 41.7,210.3ZM193.9,141.9 194.0,141.9 191.8,157.0 191.8,182.3 194.1,195.1 194.1,202.9 191.9,217.7 191.5,218.0 191.8,217.9 191.8,218.2 192.1,217.9 206.3,213.9 215.3,213.9 215.3,223.3 211.5,238.1 211.3,238.3 211.5,238.3 211.4,238.7 211.7,238.3 250.5,238.4 265.3,236.0 272.7,236.0 272.6,243.6 274.3,254.6 274.1,254.8 274.3,254.8 274.3,255.0 274.5,254.8 284.8,254.8 284.8,255.0 294.3,243.8 324.3,212.6 343.7,212.6 343.7,212.9 344.0,212.6 373.1,182.3 372.9,182.3 371.9,173.9 371.9,141.9 391.8,121.3 391.6,121.3 392.6,111.5 392.5,71.5 392.8,71.2 392.5,71.2 392.5,71.0 392.3,71.2 363.6,71.2 363.6,71.0 343.8,91.5 333.6,91.5 333.6,81.0 353.5,60.5 353.3,60.5 354.5,49.5 354.5,40.5 374.3,20.1 374.1,20.1 374.1,-0.1 363.4,-0.1 363.4,20.2 343.5,40.6 343.7,40.6 343.7,60.6 323.8,81.1 324.1,81.1 324.1,101.1 323.8,101.3 324.1,101.3 324.1,101.6 324.3,101.3 343.7,101.3 343.7,101.6 363.6,81.1 383.0,81.1 383.0,101.1 382.8,101.3 383.0,101.3 383.0,121.4 363.1,141.9 363.4,141.9 363.4,162.1 363.1,162.3 363.4,162.3 363.4,182.4 343.8,202.7 324.3,202.7 324.3,202.5 285.0,243.4 285.0,223.4 285.3,223.1 285.0,223.1 285.0,222.9 284.8,223.1 265.4,223.1 265.4,222.9 265.2,223.1 245.8,223.1 245.8,222.9 245.5,223.1 226.1,223.1 226.1,202.9 226.3,202.7 226.1,202.7 226.1,202.5 225.9,202.7 206.5,202.7 206.5,182.6 206.7,182.3 206.5,182.3 206.5,162.2 206.7,162.0 206.5,162.0 206.5,141.9 225.8,141.9 225.8,142.2 265.3,101.3 284.8,101.3 284.8,101.6 304.9,80.8 304.7,80.8 304.7,60.7 304.9,60.5 304.7,60.5 304.7,40.5 304.9,40.3 304.7,40.3 304.7,40.1 304.5,40.3 285.0,40.3 285.0,20.3 285.3,20.1 285.0,20.1 285.0,0.1 285.3,-0.1 285.0,-0.1 285.0,-0.3 284.8,-0.1 274.3,-0.1 274.3,20.2 272.6,33.1 272.7,40.4 270.5,55.1 270.1,55.4 270.4,55.4 270.4,55.6 270.7,55.3 284.9,51.4 293.9,51.4 293.9,60.7 292.3,73.6 292.3,80.9 284.8,88.6 265.4,88.6 265.4,88.3 225.9,129.1 218.4,129.1 206.5,126.9 206.5,126.6Z" fill="#ffcb33" fill-rule="evenodd"/>
<path d="M88.5,29.7 98.8,29.7 98.8,49.7 98.6,49.9 98.8,49.9 98.8,50.2 99.0,49.9 107.9,49.9 107.9,50.2 116.0,40.6 127.8,28.4 137.2,20.1 136.9,20.1 136.9,-0.1 127.5,-0.1 127.5,20.2 108.2,40.1 108.2,20.3 108.4,20.1 108.2,20.1 108.2,19.9 108.0,20.1 88.5,20.1 88.5,19.9 88.3,20.1 68.9,20.1 68.9,19.9 68.6,20.1 48.7,40.6 48.9,40.6 48.9,60.6 9.7,101.0 9.4,101.3 9.7,101.3 9.7,110.9 58.3,60.8 58.5,60.5 58.3,60.5 57.1,52.6 57.1,40.5 68.8,28.5 80.5,28.5ZM38.5,213.7 9.7,213.7 9.7,223.2 9.4,223.4 9.7,223.4 9.7,223.7 9.9,223.4 29.3,223.4 29.3,243.7 29.1,243.9 29.3,243.9 29.3,264.1 29.1,264.3 29.3,264.3 29.3,284.6 29.1,284.8 29.3,284.8 29.3,285.0 29.5,284.8 48.9,284.8 48.9,305.1 48.7,305.3 48.9,305.3 48.9,305.5 49.2,305.3 68.6,305.3 68.6,325.6 68.4,325.8 68.6,325.8 68.6,326.1 68.8,325.8 88.2,325.8 88.2,346.2 88.0,346.4 88.2,346.4 88.2,346.6 88.5,346.4 107.9,346.4 107.9,366.8 107.7,367.0 107.9,367.0 107.9,367.2 108.1,367.0 127.5,367.0 127.5,387.4 127.3,387.6 127.5,387.6 127.5,387.8 127.8,387.6 147.2,387.6 147.2,387.8 147.4,387.6 166.8,387.6 166.8,408.0 166.6,408.2 166.8,408.2 166.8,408.4 167.1,408.2 186.5,408.2 186.5,428.6 186.3,428.8 186.5,428.8 186.5,449.3 186.3,449.5 186.5,449.5 186.5,470.0 186.3,470.2 186.5,470.2 186.5,470.4 186.7,470.2 206.2,470.2 206.2,470.4 206.4,470.2 225.8,470.2 225.8,490.7 225.6,490.9 225.8,490.9 225.8,511.4 225.6,511.6 225.8,511.6 225.8,532.2 225.6,532.4 225.8,532.4 225.8,532.6 226.0,532.4 245.4,532.4 245.4,553.0 245.3,553.2 245.4,553.2 245.4,573.8 245.3,574.0 245.4,574.0 245.4,574.2 245.7,574.0 265.1,574.0 265.1,594.6 245.3,615.7 245.4,615.7 245.4,636.3 245.3,636.6 245.4,636.6 245.4,657.2 245.3,657.5 245.4,657.5 245.4,678.2 245.3,678.4 245.4,678.4 245.4,678.6 245.7,678.4 265.1,678.4 265.1,678.6 265.3,678.4 272.3,678.4 272.3,670.9 272.5,670.7 272.3,670.7 272.3,670.5 272.1,670.7 265.1,669.7 253.6,669.7 253.6,657.5 252.7,649.9 252.7,615.6 272.5,594.5 272.3,594.5 272.3,566.6 272.5,566.4 272.3,566.4 272.3,566.1 272.1,566.3 265.1,565.3 253.6,565.4 253.6,524.0 253.8,523.8 253.6,523.8 253.6,523.6 253.4,523.8 234.0,523.8 234.0,461.8 234.2,461.6 234.0,461.6 234.0,461.4 233.7,461.6 194.7,461.6 194.7,428.7 195.9,418.7 195.9,398.6 196.1,398.4 195.9,398.4 195.9,398.1 195.7,398.4 176.2,398.4 176.2,387.4 177.9,376.2 178.2,375.9 177.9,376.0 177.9,375.7 177.6,376.0 167.0,379.0 135.7,379.0 135.7,358.6 135.9,358.4 135.7,358.4 135.7,358.2 135.5,358.4 116.1,358.4 116.1,338.1 116.2,337.9 116.1,337.9 116.1,337.6 115.9,337.9 107.9,336.6 97.6,336.6 97.6,325.8 96.4,317.5 96.6,317.4 96.4,317.3 96.4,317.2 96.2,317.3 88.2,316.0 78.0,316.1 78.0,305.3 76.8,297.0 77.0,296.8 76.7,296.8 76.7,296.6 76.5,296.8 57.1,296.8 57.1,284.8 56.2,277.5 56.4,277.2 56.2,277.3 56.1,277.1 56.0,277.3 49.1,278.0 35.8,278.0 35.8,264.2 36.6,256.5 36.5,243.7 37.5,235.1 37.5,223.3 38.7,213.9 38.9,213.7 38.7,213.7 38.7,213.4ZM196.9,141.9 197.1,141.9 195.4,153.3 195.4,182.3 197.1,191.9 197.1,202.9 195.4,213.9 195.1,214.3 195.4,214.2 195.4,214.5 195.7,214.1 206.3,211.2 217.9,211.2 217.9,223.3 215.1,234.4 214.9,234.6 215.0,234.6 214.9,235.0 215.3,234.6 254.1,234.7 265.3,232.9 275.7,232.9 275.7,243.6 276.9,251.9 276.7,252.1 276.9,252.1 276.9,252.2 277.1,252.1 284.8,252.1 284.8,252.3 291.9,243.8 324.3,210.2 343.7,210.2 343.7,210.5 344.0,210.2 370.8,182.3 370.6,182.3 369.9,176.1 369.9,141.9 389.7,121.3 389.5,121.3 390.3,113.9 390.2,73.8 390.4,73.6 390.2,73.6 390.2,73.4 390.0,73.6 363.6,73.6 363.6,73.4 343.8,93.9 331.3,93.9 331.3,81.0 351.1,60.5 351.0,60.5 351.9,52.2 351.9,40.5 371.7,20.1 371.5,20.1 371.5,-0.1 363.4,-0.1 363.4,20.2 343.5,40.6 343.7,40.6 343.7,60.6 323.8,81.1 324.1,81.1 324.1,101.1 323.8,101.3 324.1,101.3 324.1,101.6 324.3,101.3 343.7,101.3 343.7,101.6 363.6,81.1 383.0,81.1 383.0,101.1 382.8,101.3 383.0,101.3 383.0,121.4 363.1,141.9 363.4,141.9 363.4,162.1 363.1,162.3 363.4,162.3 363.4,182.4 343.8,202.7 324.3,202.7 324.3,202.5 285.0,243.4 285.0,223.4 285.3,223.1 285.0,223.1 285.0,222.9 284.8,223.1 265.4,223.1 265.4,222.9 265.2,223.1 245.8,223.1 245.8,222.9 245.5,223.1 226.1,223.1 226.1,202.9 226.3,202.7 226.1,202.7 226.1,202.5 225.9,202.7 206.5,202.7 206.5,182.6 206.7,182.3 206.5,182.3 206.5,162.2 206.7,162.0 206.5,162.0 206.5,141.9 225.8,141.9 225.8,142.2 265.3,101.3 284.8,101.3 284.8,101.6 304.9,80.8 304.7,80.8 304.7,60.7 304.9,60.5 304.7,60.5 304.7,40.5 304.9,40.3 304.7,40.3 304.7,40.1 304.5,40.3 285.0,40.3 285.0,20.3 285.3,20.1 285.0,20.1 285.0,0.1 285.3,-0.1 285.0,-0.1 285.0,-0.3 284.8,-0.1 276.9,-0.1 276.9,20.2 275.6,30.0 275.7,40.4 274.0,51.4 273.7,51.8 274.0,51.7 274.0,51.9 274.3,51.6 284.9,48.7 296.5,48.7 296.5,60.7 295.3,70.4 295.3,80.9 284.8,91.7 265.4,91.7 265.4,91.5 265.1,91.7 225.9,132.3 215.4,132.3 206.5,130.6 206.5,130.3Z" fill="#ffe270" fill-rule="evenodd"/>
<path d="M88.5,26.6 101.9,26.6 101.9,46.6 101.6,46.8 101.9,46.8 101.9,47.0 102.1,46.8 107.9,46.8 107.9,47.1 113.4,40.6 127.8,25.7 134.1,20.1 133.9,20.1 133.9,-0.1 127.5,-0.1 127.5,20.2 108.2,40.1 108.2,20.3 108.4,20.1 108.2,20.1 108.2,19.9 108.0,20.1 88.5,20.1 88.5,19.9 88.3,20.1 68.9,20.1 68.9,19.9 68.6,20.1 48.7,40.6 48.9,40.6 48.9,60.6 9.7,101.0 9.4,101.3 9.7,101.3 9.7,107.8 55.3,60.8 55.5,60.5 55.3,60.5 54.5,55.3 54.5,40.5 68.8,25.8 83.1,25.8ZM35.4,216.9 9.7,216.9 9.7,223.2 9.4,223.4 9.7,223.4 9.7,223.7 9.9,223.4 29.3,223.4 29.3,243.7 29.1,243.9 29.3,243.9 29.3,264.1 29.1,264.3 29.3,264.3 29.3,284.6 29.1,284.8 29.3,284.8 29.3,285.0 29.5,284.8 48.9,284.8 48.9,305.1 48.7,305.3 48.9,305.3 48.9,305.5 49.2,305.3 68.6,305.3 68.6,325.6 68.4,325.8 68.6,325.8 68.6,326.1 68.8,325.8 88.2,325.8 88.2,346.2 88.0,346.4 88.2,346.4 88.2,346.6 88.5,346.4 107.9,346.4 107.9,366.8 107.7,367.0 107.9,367.0 107.9,367.2 108.1,367.0 127.5,367.0 127.5,387.4 127.3,387.6 127.5,387.6 127.5,387.8 127.8,387.6 147.2,387.6 147.2,387.8 147.4,387.6 166.8,387.6 166.8,408.0 166.6,408.2 166.8,408.2 166.8,408.4 167.1,408.2 186.5,408.2 186.5,428.6 186.3,428.8 186.5,428.8 186.5,449.3 186.3,449.5 186.5,449.5 186.5,470.0 186.3,470.2 186.5,470.2 186.5,470.4 186.7,470.2 206.2,470.2 206.2,470.4 206.4,470.2 225.8,470.2 225.8,490.7 225.6,490.9 225.8,490.9 225.8,511.4 225.6,511.6 225.8,511.6 225.8,532.2 225.6,532.4 225.8,532.4 225.8,532.6 226.0,532.4 245.4,532.4 245.4,553.0 245.3,553.2 245.4,553.2 245.4,573.8 245.3,574.0 245.4,574.0 245.4,574.2 245.7,574.0 265.1,574.0 265.1,594.6 245.3,615.7 245.4,615.7 245.4,636.3 245.3,636.6 245.4,636.6 245.4,657.2 245.3,657.5 245.4,657.5 245.4,678.2 245.3,678.4 245.4,678.4 245.4,678.6 245.7,678.4 265.1,678.4 265.1,678.6 265.3,678.4 270.0,678.4 270.0,673.4 270.2,673.2 270.0,673.2 270.0,672.9 269.8,673.1 265.1,672.5 251.0,672.5 251.0,657.5 250.4,652.4 250.4,615.6 270.2,594.5 270.0,594.5 270.0,569.0 270.2,568.8 270.0,568.8 270.0,568.6 269.8,568.8 265.1,568.1 251.0,568.1 251.0,526.8 251.2,526.6 251.0,526.6 251.0,526.3 250.8,526.6 231.3,526.6 231.3,464.6 231.5,464.4 231.3,464.4 231.3,464.1 231.1,464.4 192.0,464.4 192.0,428.7 192.9,421.9 192.8,401.7 193.0,401.5 192.8,401.5 192.8,401.3 192.6,401.5 173.2,401.5 173.2,387.4 174.3,380.0 174.6,379.6 174.3,379.7 174.4,379.5 174.1,379.8 167.0,381.8 133.1,381.8 133.1,361.4 133.3,361.2 133.1,361.2 133.1,361.0 132.9,361.2 113.4,361.2 113.4,340.8 113.6,340.7 113.4,340.6 113.4,340.4 113.2,340.6 107.9,339.7 94.6,339.8 94.6,325.8 93.8,320.3 93.9,320.1 93.8,320.1 93.7,319.9 93.6,320.1 88.2,319.2 74.9,319.2 75.0,305.3 74.1,299.7 74.3,299.5 74.1,299.5 74.1,299.4 73.9,299.5 54.5,299.5 54.5,284.8 53.9,279.9 54.1,279.6 53.9,279.7 53.8,279.5 53.7,279.7 49.1,280.2 33.7,280.2 33.7,264.2 34.3,259.0 34.2,243.7 34.9,237.9 34.8,223.3 35.6,217.1 35.8,216.9 35.7,216.9 35.7,216.6ZM199.9,141.9 200.1,141.9 198.9,149.6 199.0,182.3 200.1,188.8 200.1,202.9 199.0,210.2 198.7,210.6 199.0,210.5 198.9,210.7 199.2,210.4 206.3,208.5 220.6,208.5 220.6,223.3 218.7,230.6 218.5,230.9 218.6,230.9 218.5,231.2 218.9,230.9 257.7,230.9 265.3,229.7 278.7,229.7 278.7,243.6 279.5,249.1 279.3,249.3 279.5,249.3 279.6,249.5 279.7,249.3 284.8,249.3 284.8,249.6 289.6,243.8 324.3,207.8 343.7,207.8 343.7,208.1 344.0,207.8 368.5,182.3 368.3,182.3 367.8,178.2 367.8,141.9 387.6,121.3 387.5,121.3 388.0,116.3 387.9,76.2 388.1,76.0 387.9,76.0 387.9,75.8 387.7,76.0 363.6,76.0 363.6,75.8 343.8,96.3 329.0,96.3 329.0,81.0 348.8,60.5 348.6,60.5 349.3,54.9 349.2,40.5 369.1,20.1 368.9,20.1 368.9,-0.1 363.4,-0.1 363.4,20.2 343.5,40.6 343.7,40.6 343.7,60.6 323.8,81.1 324.1,81.1 324.1,101.1 323.8,101.3 324.1,101.3 324.1,101.6 324.3,101.3 343.7,101.3 343.7,101.6 363.6,81.1 383.0,81.1 383.0,101.1 382.8,101.3 383.0,101.3 383.0,121.4 363.1,141.9 363.4,141.9 363.4,162.1 363.1,162.3 363.4,162.3 363.4,182.4 343.8,202.7 324.3,202.7 324.3,202.5 285.0,243.4 285.0,223.4 285.3,223.1 285.0,223.1 285.0,222.9 284.8,223.1 265.4,223.1 265.4,222.9 265.2,223.1 245.8,223.1 245.8,222.9 245.5,223.1 226.1,223.1 226.1,202.9 226.3,202.7 226.1,202.7 226.1,202.5 225.9,202.7 206.5,202.7 206.5,182.6 206.7,182.3 206.5,182.3 206.5,162.2 206.7,162.0 206.5,162.0 206.5,141.9 225.8,141.9 225.8,142.2 265.3,101.3 284.8,101.3 284.8,101.6 304.9,80.8 304.7,80.8 304.7,60.7 304.9,60.5 304.7,60.5 304.7,40.5 304.9,40.3 304.7,40.3 304.7,40.1 304.5,40.3 285.0,40.3 285.0,20.3 285.3,20.1 285.0,20.1 285.0,0.1 285.3,-0.1 285.0,-0.1 285.0,-0.3 284.8,-0.1 279.5,-0.1 279.5,20.2 278.6,26.9 278.7,40.4 277.6,47.7 277.3,48.1 277.6,48.0 277.5,48.2 277.8,47.9 284.9,46.0 299.2,46.0 299.2,60.7 298.3,67.3 298.4,80.9 284.8,94.8 265.4,94.8 265.4,94.6 265.1,94.8 225.9,135.4 212.4,135.4 206.5,134.3 206.5,134.0Z" fill="#fff4d4" fill-rule="evenodd"/>
<path d="M9.7,60.5 9.4,60.8 9.7,60.8 9.7,80.9 9.4,81.1 9.7,81.1 9.7,101.1 9.4,101.3 9.7,101.3 9.7,104.7 52.3,60.8 52.5,60.5 52.3,60.5 51.9,58.0 51.9,40.5 68.8,23.1 85.8,23.1 88.5,23.5 104.9,23.5 104.9,43.5 104.7,43.7 104.9,43.7 104.9,43.9 105.1,43.7 107.9,43.7 107.9,44.0 110.8,40.6 127.8,23.1 131.1,20.1 130.9,20.1 130.9,-0.1 127.8,-0.1 127.8,-0.3 127.6,-0.1 108.2,-0.1 108.2,-0.3 108.0,-0.1 88.5,-0.1 88.5,-0.3 88.3,-0.1 68.9,-0.1 68.9,-0.3 68.7,-0.1 49.2,-0.1 49.2,-0.3 49.0,-0.1 29.6,-0.1 29.6,-0.3 29.4,-0.1 9.7,-0.1 9.7,20.2 9.4,20.4 9.7,20.4 9.7,40.4 9.4,40.6 9.7,40.6ZM9.7,223.2 9.4,223.4 9.7,223.4 9.7,243.7 9.4,243.9 9.7,243.9 9.7,264.1 9.4,264.3 9.7,264.3 9.7,284.6 9.4,284.8 9.7,284.8 9.7,305.1 9.4,305.3 9.7,305.3 9.7,325.6 9.4,325.8 9.7,325.8 9.7,346.2 9.4,346.4 9.7,346.4 9.7,366.8 9.4,367.0 9.7,367.0 9.7,387.4 9.4,387.6 9.7,387.6 9.7,408.0 9.4,408.2 9.7,408.2 9.7,428.6 9.5,428.8 9.7,428.8 9.7,449.3 9.5,449.5 9.7,449.5 9.7,470.0 9.5,470.2 9.7,470.2 9.7,490.7 9.5,490.9 9.7,490.9 9.7,511.4 9.5,511.6 9.7,511.6 9.7,532.2 9.5,532.4 9.7,532.4 9.7,553.0 9.5,553.2 9.7,553.2 9.7,573.8 9.5,574.0 9.7,574.0 9.7,594.6 9.5,594.8 9.7,594.8 9.7,615.5 9.5,615.7 9.7,615.7 9.7,636.3 9.5,636.6 9.7,636.6 9.7,657.2 9.5,657.5 9.7,657.5 9.7,678.2 9.5,678.4 9.7,678.4 9.7,678.6 9.9,678.4 29.3,678.4 29.3,678.6 29.5,678.4 48.9,678.4 48.9,678.6 49.2,678.4 68.6,678.4 68.6,678.6 68.8,678.4 88.2,678.4 88.2,678.6 88.5,678.4 107.9,678.4 107.9,678.6 108.1,678.4 127.5,678.4 127.5,678.6 127.8,678.4 147.2,678.4 147.2,678.6 147.4,678.4 166.8,678.4 166.8,678.6 167.1,678.4 186.5,678.4 186.5,678.6 186.7,678.4 206.2,678.4 206.2,678.6 206.4,678.4 225.8,678.4 225.8,678.6 226.0,678.4 245.4,678.4 245.4,678.6 245.7,678.4 265.1,678.4 265.1,678.6 265.3,678.4 267.7,678.4 267.7,675.8 267.9,675.7 267.7,675.6 267.7,675.4 267.5,675.6 265.1,675.3 248.4,675.3 248.4,657.5 248.1,654.8 248.1,615.6 267.9,594.5 267.7,594.5 267.7,571.4 267.9,571.3 267.7,571.3 267.7,571.0 267.5,571.2 265.1,570.9 248.4,570.9 248.4,529.5 248.6,529.3 248.4,529.3 248.4,529.1 248.2,529.3 228.7,529.3 228.7,467.3 228.9,467.1 228.7,467.1 228.7,466.9 228.5,467.1 189.4,467.1 189.4,428.7 189.9,425.1 189.8,404.9 190.0,404.7 189.8,404.7 189.8,404.5 189.6,404.7 170.2,404.7 170.2,387.4 170.7,383.7 171.1,383.4 170.8,383.5 170.8,383.2 170.5,383.5 167.0,384.5 130.5,384.5 130.5,364.1 130.7,363.9 130.5,363.9 130.5,363.7 130.3,363.9 110.8,363.9 110.8,343.6 111.0,343.4 110.8,343.4 110.8,343.1 110.6,343.3 107.9,342.9 91.6,342.9 91.6,325.8 91.2,323.0 91.3,322.9 91.2,322.8 91.1,322.6 91.0,322.8 88.2,322.4 71.9,322.4 71.9,305.3 71.5,302.5 71.7,302.3 71.5,302.3 71.5,302.1 71.3,302.3 51.9,302.3 51.9,284.8 51.6,282.3 51.8,282.1 51.5,282.1 51.5,281.9 51.3,282.1 49.1,282.4 31.7,282.4 31.7,264.2 32.0,261.4 31.9,243.7 32.3,240.6 32.2,223.3 32.6,220.2 32.8,220.0 32.6,220.0 32.7,219.7 32.4,220.0 9.7,220.0ZM202.6,145.4 202.5,182.3 203.1,185.6 203.1,202.9 202.6,206.5 202.2,206.9 202.5,206.8 202.5,207.0 202.8,206.7 206.3,205.8 223.2,205.8 223.2,223.3 222.2,226.9 222.0,227.2 222.2,227.2 222.1,227.5 222.4,227.2 261.3,227.2 265.3,226.6 281.7,226.6 281.7,243.6 282.1,246.4 281.9,246.6 282.2,246.6 282.2,246.8 282.3,246.6 284.8,246.6 284.8,246.9 287.3,243.8 324.3,205.4 343.7,205.4 343.7,205.7 344.0,205.4 366.2,182.3 365.9,182.3 365.7,180.3 365.7,141.9 385.6,121.3 385.4,121.3 385.7,118.7 385.6,78.6 385.8,78.4 385.6,78.4 385.6,78.2 385.4,78.4 363.6,78.4 363.6,78.2 343.8,98.7 326.7,98.7 326.7,81.0 346.5,60.5 346.3,60.5 346.7,57.6 346.6,40.5 366.5,20.1 366.3,20.1 366.3,-0.1 363.6,-0.1 363.6,-0.3 363.4,-0.1 344.0,-0.1 344.0,-0.3 343.8,-0.1 324.3,-0.1 324.3,-0.3 324.1,-0.1 304.7,-0.1 304.7,-0.3 304.5,-0.1 285.0,-0.1 285.0,-0.3 284.8,-0.1 282.1,-0.1 282.1,20.2 281.7,23.8 281.7,40.4 281.2,44.1 280.8,44.4 281.1,44.3 281.1,44.6 281.4,44.3 284.9,43.3 301.8,43.3 301.8,60.7 301.3,64.2 301.4,80.9 284.8,97.9 265.4,97.9 265.4,97.7 265.1,97.9 225.9,138.5 209.3,138.5 206.5,138.0 206.5,137.7 203.0,141.9 203.1,141.9Z" fill="#ffffff" fill-rule="evenodd"/>
<line x1="157.2" y1="0" x2="157.2" y2="667.8" stroke="#000" stroke-opacity="0.09" stroke-width="1"/>
<line x1="314.4" y1="0" x2="314.4" y2="667.8" stroke="#000" stroke-opacity="0.09" stroke-width="1"/>
<line x1="471.6" y1="0" x2="471.6" y2="667.8" stroke="#000" stroke-opacity="0.09" stroke-width="1"/>
<line x1="628.8" y1="0" x2="628.8" y2="667.8" stroke="#000" stroke-opacity="0.09" stroke-width="1"/>
<line x1="0" y1="584.2" x2="638.6" y2="584.2" stroke="#000" stroke-opacity="0.09" stroke-width="1"/>
<line x1="0" y1="418.3" x2="638.6" y2="418.3" stroke="#000" stroke-opacity="0.09" stroke-width="1"/>
<line x1="0" y1="253.9" x2="638.6" y2="253.9" stroke="#000" stroke-opacity="0.09" stroke-width="1"/>
<line x1="0" y1="91.0" x2="638.6" y2="91.0" stroke="#000" stroke-opacity="0.09" stroke-width="1"/>
<polygon points="-13.4,-13.7 106.8,-13.7 106.8,1.7 106.4,9.1 102.1,10.4 97.4,11.5 92.7,15.1 87.3,15.5 83.9,19.8 79.2,21.9 75.9,24.5 70.5,26.6 65.8,28.6 60.4,29.9 59.1,31.9 62.5,34.0 58.4,35.3 53.1,37.3 49.7,40.7 47.0,43.4 46.3,48.1 47.0,53.4 46.3,58.8 45.7,64.2 43.7,68.9 40.3,71.6 36.3,73.2 31.6,74.2 28.2,76.9 23.5,82.3 18.8,87.7 14.8,92.7 9.4,93.4 5.4,94.4 1.3,91.7 -13.4,91.7" fill="#e6e6e6" stroke="#000" stroke-width="1.5" stroke-linejoin="round"/>
<polygon points="-9.0,221.6 1.8,222.7 7.9,229.5 13.5,234.0 19.1,240.3 24.7,244.1 28.8,243.0 33.7,245.2 37.1,249.7 40.0,253.8 41.6,258.7 38.7,267.7 37.1,275.6 40.5,282.4 43.9,288.0 47.2,294.3 50.6,299.2 55.8,304.2 60.7,309.4 67.5,314.5 74.2,318.3 79.2,322.2 83.2,326.2 87.7,335.0 93.4,340.8 99.0,346.2 108.0,355.0 117.0,363.1 126.0,369.0 135.0,375.5 144.0,383.4 149.6,387.4 155.2,390.1 157.5,396.0 162.0,399.1 167.6,400.5 173.2,402.5 173.7,408.3 175.5,412.6 181.1,418.9 186.7,425.0 191.2,433.1 195.7,440.7 201.4,449.5 207.0,457.6 213.3,463.0 219.4,467.7 221.6,472.5 225.0,475.6 227.7,479.2 229.5,483.5 227.2,488.2 227.7,492.5 231.3,504.0 235.1,513.9 238.9,519.7 241.9,526.2 241.2,535.5 243.0,544.2 245.7,552.3 248.6,560.0 250.9,567.0 253.1,573.5 255.4,579.3 256.5,584.7 256.9,592.8 258.7,600.5 256.9,609.7 256.0,618.5 257.8,627.7 258.7,636.5 259.2,643.4 261.0,650.0 263.7,659.2 266.6,667.5 267.7,677.2 -9.0,677.2" fill="#e6e6e6" stroke="#000" stroke-width="1.5" stroke-linejoin="round"/>
<polygon points="249.1,112.8 249.8,107.5 255.8,103.4 258.5,98.7 265.2,101.4 271.9,103.4 276.0,102.8 277.3,96.7 284.0,92.7 292.1,90.0 297.5,92.7 301.5,94.7 306.9,92.7 310.9,96.0 314.2,98.7 318.9,94.0 324.3,90.0 327.0,86.6 332.4,86.0 339.1,85.3 343.1,84.0 348.5,86.6 355.2,89.3 359.9,88.7 360.6,84.0 364.6,81.9 368.0,77.9 371.3,84.0 376.7,89.3 383.4,91.3 388.1,89.3 390.1,98.1 392.8,107.5 396.2,119.5 388.8,124.2 383.4,128.3 379.4,128.9 378.0,133.0 372.7,138.4 368.6,142.4 366.0,149.1 363.3,155.8 360.6,161.2 359.9,167.9 357.9,173.3 355.2,180.0 355.9,188.0 351.2,192.1 345.8,196.1 340.4,198.8 333.7,202.8 328.3,206.9 323.0,212.2 318.9,217.6 314.9,219.6 308.2,221.6 300.1,221.0 296.1,223.0 294.1,228.3 292.1,233.7 286.7,237.1 282.0,239.8 279.3,235.7 274.6,235.7 270.6,231.0 262.5,229.0 254.5,228.3 247.8,227.0 243.7,223.6 235.7,221.6 229.0,218.3 222.2,214.9 215.5,211.6 210.8,208.2 211.5,200.1 212.2,192.1 208.8,185.4 206.8,178.6 207.5,170.6 205.4,163.9 207.5,157.2 206.8,150.4 210.1,142.4 216.9,139.7 224.9,134.3 233.0,128.9 241.0,122.9 247.8,118.2 251.8,114.2" fill="#e6e6e6" stroke="#000" stroke-width="1.5" stroke-linejoin="round"/>
<polygon points="290.1,-13.7 290.1,1.7 291.1,6.4 289.4,11.1 288.4,15.8 290.7,21.2 294.4,21.9 295.8,24.5 295.1,28.6 296.8,33.3 294.4,37.3 295.8,39.3 299.5,40.7 301.5,45.4 300.8,48.7 304.8,50.7 308.9,52.8 308.2,56.8 306.2,58.8 306.5,62.2 309.6,63.5 310.2,67.5 308.5,70.9 308.9,72.6 312.9,68.9 317.6,66.9 321.6,68.9 325.0,71.9 328.4,71.6 332.4,68.9 337.1,70.9 341.8,68.2 346.5,65.9 350.5,62.2 353.9,58.8 355.9,55.4 356.6,52.1 354.5,48.1 352.9,43.4 351.2,40.0 347.8,37.3 344.5,34.6 345.5,29.9 344.5,25.2 340.4,22.5 335.7,21.9 331.0,22.5 328.4,22.9 328.0,19.2 328.4,13.1 331.0,11.8 333.7,13.1 337.8,11.5 342.5,10.4 347.2,10.1 351.2,11.5 353.9,15.1 356.6,17.5 359.2,19.8 363.3,20.5 365.3,16.2 362.3,14.1 359.9,17.2 357.2,15.8 356.6,11.8 357.2,6.4 359.2,2.4 359.9,-13.7" fill="#e6e6e6" stroke="#000" stroke-width="1.5" stroke-linejoin="round"/>
<polyline points="-1.3,33.3 1.3,34.0 4.0,37.3 8.7,40.0 12.1,45.4 14.8,50.7 17.5,55.4 20.1,60.1 21.5,64.2 26.2,60.8 30.2,64.2 36.3,68.2 40.3,66.9 43.7,68.9" fill="none" stroke="#000" stroke-width="2.3" stroke-linejoin="round"/>
<polygon points="274.6,143.7 276.6,139.0 281.3,139.7 284.0,143.1 289.4,145.1 286.7,148.4 281.3,145.7 276.0,147.1" fill="#e6e6e6" stroke="#000" stroke-width="1.3"/>
<path d="M43.0,29.9 48.4,33.3 53.1,35.3M40.3,47.4 44.3,48.1 47.0,46.0M41.6,54.8 45.7,54.1M56.4,26.6 60.4,30.6 63.1,34.6 64.5,37.0M8.7,93.1 10.1,87.7M14.8,92.7 16.8,83.6M42.3,76.3 47.0,73.2M137.0,7.8 139.7,11.8 137.7,15.1M142.4,9.8 145.1,7.8 146.4,9.8 143.7,12.1 142.4,9.8M167.6,430.8 172.1,428.6 177.7,429.3 183.4,427.5 180.0,431.5 185.6,433.1 187.9,436.5M112.5,363.3 121.5,369.0 129.4,373.5 126.0,376.2 132.7,377.5M140.6,387.0 145.1,385.2 150.3,388.8 148.5,394.2 143.5,394.2 140.6,387.0M167.6,407.7 171.0,403.8 177.7,405.0 182.7,408.3 180.0,412.2 175.0,413.5 174.4,407.2M205.9,460.8 210.4,459.0 211.5,463.9 207.0,464.8 205.9,460.8M225.0,488.2 228.4,491.6 229.9,486.0M247.5,571.5 251.5,570.3 252.4,574.2 248.6,575.1 247.5,571.5M253.1,594.0 259.2,594.0 260.1,605.2 254.2,605.7 253.1,594.0M255.4,618.7 258.7,623.7 256.0,627.7 261.0,629.9 258.3,635.6 262.1,640.1 258.7,645.2 262.8,649.1M253.8,621.4 256.9,626.8 253.8,631.7 258.7,634.4 255.4,641.2 259.9,646.8M-1.1,600.7 3.4,605.2 4.9,609.7 1.8,613.1 -1.1,615.3M4.5,621.4 11.2,619.8 18.0,617.6M-1.1,647.9 3.4,651.3 6.3,658.1 6.7,664.8 2.2,667.7M88.9,345.3 92.2,343.8 92.7,346.5 89.5,347.6 88.9,345.3M192.4,420.3 195.3,418.9 199.1,421.2 198.4,425.7 195.3,423.0M241.9,465.7 244.1,466.8M243.4,469.1 247.5,470.2 246.4,468.4M253.1,112.8 257.2,108.8 260.5,110.8 257.8,112.8 259.8,115.5M357.2,90.0 360.6,88.7 363.3,92.7 361.9,96.7 359.5,94.0M378.0,122.9 383.4,121.6 382.1,126.9M349.2,186.7 352.5,182.0 356.6,189.4 351.9,189.4 349.2,186.7M312.9,219.6 316.3,217.6 318.9,220.0 316.0,222.3 312.9,219.6M289.4,231.0 292.8,229.7 293.4,233.0M355.2,161.2 359.2,159.2M341.8,201.5 346.5,196.1M300.1,92.7 302.2,96.0M311.6,96.7 314.9,98.1M329.7,13.1 332.4,7.8 335.7,5.1 338.4,3.1M331.0,11.1 335.1,8.4 337.8,5.7M332.4,13.1 336.4,9.8 339.1,7.1 340.4,3.7M327.0,11.1 329.7,9.8 331.7,5.7M297.5,34.6 300.8,33.3 302.5,34.3 300.1,35.6 297.5,34.6M293.8,21.9 295.1,20.5 296.1,22.9M306.9,52.8 309.6,50.1 310.6,53.4 313.6,54.8 316.3,55.1 315.6,58.8 317.6,60.8 314.3,61.2 312.9,58.8 310.9,58.1 308.9,59.5M304.2,58.8 306.9,58.1M339.1,29.3 341.1,31.3 339.8,33.3 342.5,34.6 340.4,37.3 343.8,37.3 345.8,40.0 347.8,42.7 350.5,43.4M338.4,36.0 341.8,39.3M346.5,34.6 348.5,34.3M360.9,46.7 361.6,45.4M357.9,64.8 360.6,62.2 360.9,60.5M337.1,16.8 338.4,17.5M333.4,19.5 334.4,19.8" fill="none" stroke="#000" stroke-width="1.3" stroke-linejoin="round" stroke-linecap="round"/>
<path d="M81.0,14.6 81.6,13.6 82.5,12.6 84.6,12.3 84.8,14.0 84.9,15.4 83.4,16.5 81.4,16.0ZM76.7,10.2 75.2,12.1 73.3,10.6 73.9,9.2 75.6,8.8ZM46.7,12.9 47.3,11.6 49.2,11.4 51.1,12.3 51.2,14.1 49.2,14.7 47.4,15.6 45.7,14.4ZM77.2,15.3 79.8,14.4 81.1,13.8 84.0,13.3 83.7,15.6 83.6,17.8 80.9,17.4 78.3,17.4ZM67.7,29.7 67.1,27.6 68.8,26.2 70.4,27.4 71.9,28.5 69.9,29.0ZM67.9,14.6 69.3,14.1 70.3,15.1 71.1,16.0 71.6,18.5 68.6,18.2 66.9,17.1 66.6,15.5ZM83.7,19.3 83.0,15.3 87.7,13.6 89.9,16.8 87.6,18.5ZM85.8,10.9 85.7,12.8 85.8,14.6 83.6,15.4 81.7,14.5 80.9,13.0 81.2,11.1 83.4,10.1ZM74.9,19.2 76.1,19.4 76.5,19.9 76.6,20.8 75.3,21.3 74.1,20.3ZM59.3,15.7 58.4,14.6 58.9,12.6 61.3,13.4 62.4,14.8 61.7,17.1ZM67.7,17.5 65.6,16.0 68.0,14.9 69.7,15.5 70.4,17.5ZM56.4,18.6 56.7,17.7 57.9,17.0 59.3,17.8 58.7,19.0 57.3,19.5ZM67.6,21.1 68.7,20.7 68.9,21.7 68.9,22.2 68.3,22.4 67.7,22.3 67.5,21.8ZM91.2,16.4 89.8,17.1 88.7,16.2 89.1,15.2 89.5,13.9 90.9,14.5 92.1,15.4ZM86.4,30.3 86.4,28.4 88.4,26.8 90.2,28.8 88.6,30.3ZM61.7,20.7 62.2,21.4 61.8,22.2 60.5,23.4 59.0,22.3 59.4,21.0 60.1,20.3 61.2,19.5ZM86.6,31.8 87.2,32.9 87.4,33.5 87.1,34.1 86.2,34.4 84.8,34.4 84.9,33.3 85.4,32.4ZM70.1,16.3 68.7,14.4 69.8,12.3 72.8,13.0 71.8,14.8ZM71.5,11.1 72.2,9.7 73.1,9.4 73.7,10.0 73.5,11.0ZM92.4,8.8 91.6,10.5 89.1,10.8 89.2,8.9 90.6,6.7ZM53.0,8.9 51.4,10.3 51.1,8.4 51.6,7.4 54.1,7.1ZM67.9,11.7 66.1,11.4 64.6,10.4 65.7,9.0 67.5,9.2 68.8,10.3ZM72.3,26.5 73.2,26.5 75.5,27.0 73.7,28.1 72.0,28.6 71.1,27.3ZM63.4,10.0 62.0,11.6 58.8,11.6 58.5,9.1 58.9,7.0 61.4,6.0 63.2,7.5 64.9,8.7ZM62.9,14.8 61.5,14.7 60.4,14.9 60.3,13.9 60.9,13.4 62.1,12.6 62.1,13.9ZM58.6,11.0 56.9,10.4 57.7,9.1 60.0,8.3 59.9,10.3ZM85.2,10.7 83.2,10.6 80.1,9.0 83.3,7.4 86.5,6.8 88.5,9.5ZM75.7,9.0 77.1,10.5 76.1,12.0 74.1,11.6 73.3,9.8ZM95.7,13.5 93.7,13.9 91.7,14.1 91.4,12.4 93.0,11.6 94.6,12.0ZM57.2,20.4 57.3,18.7 59.1,18.6 61.4,19.4 59.5,21.1ZM72.8,8.3 74.0,6.6 75.1,8.3 75.5,9.8 73.7,9.9 72.8,9.3ZM71.7,11.4 71.1,12.5 70.5,13.2 69.1,13.7 67.4,13.0 67.8,11.5 69.2,11.0 70.5,10.6ZM83.0,26.0 81.9,28.0 78.0,27.9 79.2,25.0 80.3,22.4 84.5,23.1ZM84.0,16.0 86.2,14.7 89.0,15.0 89.7,17.1 88.4,18.4 87.3,19.1 85.9,18.8 84.2,18.0ZM80.0,10.4 80.0,8.2 80.7,5.9 83.6,6.6 84.1,8.2 84.2,9.5 82.7,9.8ZM77.4,10.7 78.8,6.5 83.2,7.6 85.6,10.4 81.7,11.8ZM55.6,16.1 56.1,16.9 55.1,17.3 54.3,16.9 53.6,16.5 53.8,15.8 54.3,14.9 55.1,15.8ZM56.4,18.9 56.9,19.5 56.5,20.4 55.4,20.1 54.6,19.5 55.5,18.8ZM76.4,28.8 78.2,26.4 81.7,27.4 82.0,30.1 79.7,31.4 77.5,30.6ZM81.7,34.1 82.5,33.4 83.6,33.8 84.3,34.6 83.2,35.0 82.5,35.6 81.5,35.0ZM64.3,20.4 61.5,20.3 59.4,20.2 57.2,18.6 58.9,16.7 61.1,15.6 63.6,16.3 64.7,18.2ZM74.4,19.4 77.3,19.3 77.4,21.5 77.4,23.6 74.7,24.6 72.3,23.0 71.0,20.3ZM58.8,24.8 61.5,21.9 65.6,22.8 65.8,26.2 62.0,26.9ZM78.8,22.4 80.7,24.7 78.9,27.0 76.2,27.1 74.5,25.9 73.1,23.9 75.3,21.7ZM74.0,13.4 72.0,13.1 71.1,12.1 69.5,10.7 71.8,10.2 73.0,10.1 75.0,10.3 74.4,11.8ZM79.6,11.2 80.4,10.9 81.8,10.7 81.4,11.8 80.7,12.2 79.6,13.0 79.0,11.9ZM63.3,24.1 60.4,22.3 62.4,19.9 65.0,19.8 67.6,20.9 66.0,22.9ZM65.5,19.7 67.0,19.6 67.1,20.7 67.0,22.0 65.3,22.5 63.7,21.5 64.4,20.2ZM59.7,13.9 60.1,15.0 59.2,16.1 58.1,15.2 56.8,14.3 58.3,13.7ZM89.1,21.3 87.5,20.8 87.6,19.6 88.2,18.9 88.9,18.2 90.2,18.5 90.1,19.5 89.9,20.2ZM87.9,14.3 88.0,13.3 87.5,12.6 88.6,12.6 89.4,12.5 90.0,13.0 89.7,13.7 88.9,13.9ZM67.9,24.7 66.5,23.8 66.9,22.2 68.8,22.8 70.4,22.5 70.8,23.9 69.2,24.4ZM67.2,26.2 64.2,26.2 61.7,25.2 63.4,23.2 63.5,21.6 65.9,20.2 67.7,22.1 68.2,24.0ZM60.1,8.7 60.3,9.7 60.2,11.9 58.3,10.3 57.0,9.6 57.8,8.5 59.1,8.2ZM79.5,28.2 77.7,26.2 79.9,24.4 82.2,24.7 83.3,25.6 86.2,26.8 84.0,28.4 81.8,28.4ZM77.4,21.8 77.3,24.0 74.5,25.0 73.1,22.8 74.6,20.4ZM50.3,17.5 48.8,15.0 48.3,12.4 52.3,12.5 53.4,15.5ZM47.8,9.7 47.9,8.4 49.5,8.2 50.6,8.8 52.8,9.7 52.3,11.9 49.5,12.6 46.6,11.9ZM117.0,9.3 118.6,8.3 120.2,9.7 119.4,11.8 115.9,11.6ZM111.3,9.9 110.9,8.4 112.4,8.0 113.9,8.6 112.7,9.4ZM106.3,8.8 104.7,9.6 103.7,8.2 104.7,7.4 106.0,6.5 107.1,7.7ZM110.2,15.2 111.6,14.3 112.8,13.1 114.7,13.7 114.7,15.2 114.3,16.4 112.8,17.5 111.1,16.6ZM114.8,6.7 115.5,8.2 113.9,9.0 112.5,8.5 111.4,7.3 112.9,6.1ZM114.8,15.8 113.4,15.4 112.5,13.7 114.5,12.9 115.9,13.7 118.1,13.8 117.9,15.5 116.6,16.9ZM107.9,6.5 109.8,7.4 109.9,10.2 105.5,10.3 106.5,7.5ZM104.1,12.0 102.0,11.7 100.3,11.3 101.9,10.5 103.0,10.5ZM121.4,6.6 120.2,5.3 122.2,5.5 122.8,6.1 122.5,7.1ZM115.8,20.4 115.9,19.6 117.0,19.2 117.4,20.1 117.7,20.7 117.2,21.3 116.0,21.3ZM119.5,2.7 121.7,1.2 123.9,1.7 126.1,3.3 123.5,4.5 121.5,4.2ZM119.5,9.2 118.2,9.6 116.5,9.2 116.7,7.7 118.4,7.0 119.1,8.2ZM112.3,10.1 110.6,9.5 111.3,8.2 111.9,7.6 113.3,7.1 113.6,8.3 114.3,9.8ZM107.6,5.2 106.8,6.1 105.8,5.2 105.9,4.1 107.2,3.8 108.6,4.3ZM117.9,7.3 119.7,6.6 120.8,5.6 122.6,6.1 122.3,7.6 121.6,8.4 120.4,10.1 119.0,8.6ZM113.2,22.4 115.2,23.5 117.3,24.3 115.8,25.8 114.2,25.8 113.0,25.4 111.6,24.0ZM112.4,25.4 109.7,24.2 112.3,23.0 114.9,22.5 114.1,24.5ZM114.7,12.5 114.5,11.7 115.2,11.1 116.8,10.0 117.8,11.5 117.8,13.3 115.6,13.7ZM113.5,12.6 112.2,11.8 111.1,10.3 112.9,9.2 115.2,9.2 116.3,10.8 114.8,11.9ZM106.1,12.8 107.2,13.6 108.6,13.7 108.3,14.8 107.1,14.9 106.3,15.0 105.2,14.7 104.9,13.5ZM122.3,5.9 119.8,5.4 119.3,3.6 119.6,1.9 121.7,1.9 123.7,1.5 126.0,2.9 124.7,5.1ZM104.0,16.0 101.9,17.4 101.5,15.3 100.6,13.4 103.1,13.3 105.4,13.3 106.1,15.3ZM114.2,18.9 115.5,19.9 114.6,21.3 112.8,21.6 110.7,21.5 109.3,19.7 110.9,18.0 113.0,17.8ZM108.6,17.2 107.3,17.9 106.8,18.8 105.3,18.8 104.1,17.7 104.9,16.4 106.2,15.6 107.2,16.8ZM123.3,7.7 121.3,5.6 121.9,3.6 124.3,2.6 125.1,4.5 126.2,6.3ZM115.1,14.6 114.1,15.5 112.7,16.3 111.9,15.0 112.3,13.8 113.6,14.2Z" fill="#e6e6e6" stroke="#000" stroke-width="1.5" stroke-linejoin="round"/>
<path d="M134.9,80.5l1.2,-0.9 1.2,0.9 -1.2,0.9ZM250.3,18.0l1.2,-0.9 1.2,0.9 -1.2,0.9ZM263.2,234.4l1.2,-0.9 1.2,0.9 -1.2,0.9ZM103.4,658.1l1.2,-0.9 1.2,0.9 -1.2,0.9ZM313.8,219.4l1.2,-0.9 1.2,0.9 -1.2,0.9ZM43.8,74.2l1.2,-0.9 1.2,0.9 -1.2,0.9ZM114.3,31.9l1.2,-0.9 1.2,0.9 -1.2,0.9Z" fill="#000" stroke="#000" stroke-width="0.8"/>
<rect x="324" y="244.3" width="235.6" height="247" fill="none" stroke="#000" stroke-width="5.2"/>
<path d="M0.0,0v7M0.0,667.8v-7" stroke="#000" stroke-width="2"/>
<path d="M157.2,0v7M157.2,667.8v-7" stroke="#000" stroke-width="2"/>
<path d="M314.4,0v7M314.4,667.8v-7" stroke="#000" stroke-width="2"/>
<path d="M471.6,0v7M471.6,667.8v-7" stroke="#000" stroke-width="2"/>
<path d="M628.8,0v7M628.8,667.8v-7" stroke="#000" stroke-width="2"/>
<path d="M0,584.2h7M638.6,584.2h-7" stroke="#000" stroke-width="2"/>
<path d="M0,418.3h7M638.6,418.3h-7" stroke="#000" stroke-width="2"/>
<path d="M0,253.9h7M638.6,253.9h-7" stroke="#000" stroke-width="2"/>
<path d="M0,91.0h7M638.6,91.0h-7" stroke="#000" stroke-width="2"/>
</g>
<rect x="100.0" y="50.3" width="638.6" height="667.8" fill="none" stroke="#000" stroke-width="2.6"/>
<text x="126.2" y="691.0999999999999" font-family="Liberation Sans, Arial, sans-serif" font-size="57" fill="#000" stroke="#000" stroke-width="0.9">A</text>
<text x="108.8" y="37.5" font-family="Liberation Sans, Arial, sans-serif" font-weight="bold" font-size="43" fill="#000">Relative Frequency</text>
<rect x="760.5" y="651.32" width="41.5" height="67.28" fill="#ffffff"/>
<rect x="760.5" y="584.54" width="41.5" height="67.28" fill="#fff4d4"/>
<rect x="760.5" y="517.76" width="41.5" height="67.28" fill="#ffe270"/>
<rect x="760.5" y="450.98" width="41.5" height="67.28" fill="#ffcb33"/>
<rect x="760.5" y="384.20" width="41.5" height="67.28" fill="#ffab33"/>
<rect x="760.5" y="317.42" width="41.5" height="67.28" fill="#ff9933"/>
<rect x="760.5" y="250.64" width="41.5" height="67.28" fill="#ff7033"/>
<rect x="760.5" y="183.86" width="41.5" height="67.28" fill="#ff5900"/>
<rect x="760.5" y="117.08" width="41.5" height="67.28" fill="#e82a22"/>
<rect x="760.5" y="50.30" width="41.5" height="67.28" fill="#c92116"/>
<line x1="797.0" y1="651.32" x2="802.0" y2="651.32" stroke="#000" stroke-width="1.2"/>
<line x1="797.0" y1="584.54" x2="802.0" y2="584.54" stroke="#000" stroke-width="1.2"/>
<line x1="797.0" y1="517.76" x2="802.0" y2="517.76" stroke="#000" stroke-width="1.2"/>
<line x1="797.0" y1="450.98" x2="802.0" y2="450.98" stroke="#000" stroke-width="1.2"/>
<line x1="797.0" y1="384.20" x2="802.0" y2="384.20" stroke="#000" stroke-width="1.2"/>
<line x1="797.0" y1="317.42" x2="802.0" y2="317.42" stroke="#000" stroke-width="1.2"/>
<line x1="797.0" y1="250.64" x2="802.0" y2="250.64" stroke="#000" stroke-width="1.2"/>
<line x1="797.0" y1="183.86" x2="802.0" y2="183.86" stroke="#000" stroke-width="1.2"/>
<line x1="797.0" y1="117.08" x2="802.0" y2="117.08" stroke="#000" stroke-width="1.2"/>
<rect x="760.5" y="50.3" width="41.5" height="667.8" fill="none" stroke="#222" stroke-width="1.2"/>
<text transform="translate(802.6,729.2) scale(0.975,1)" font-family="Liberation Serif, Times New Roman, serif" font-weight="bold" font-size="47.3" fill="#000">0</text>
<text transform="translate(805.6,600.1) scale(0.975,1)" font-family="Liberation Serif, Times New Roman, serif" font-weight="bold" font-size="47.3" fill="#000">0.3</text>
<text transform="translate(805.6,466.6) scale(0.975,1)" font-family="Liberation Serif, Times New Roman, serif" font-weight="bold" font-size="47.3" fill="#000">0.6</text>
<text transform="translate(805.6,333.0) scale(0.975,1)" font-family="Liberation Serif, Times New Roman, serif" font-weight="bold" font-size="47.3" fill="#000">0.9</text>
<text transform="translate(805.6,199.5) scale(0.975,1)" font-family="Liberation Serif, Times New Roman, serif" font-weight="bold" font-size="47.3" fill="#000">1.2</text>
<text transform="translate(805.6,72.4) scale(0.975,1)" font-family="Liberation Serif, Times New Roman, serif" font-weight="bold" font-size="47.3" fill="#000">1.5</text>
<text x="84.8" y="651.0" text-anchor="end" font-family="Liberation Sans, Arial, sans-serif" font-weight="bold" font-size="35.4" fill="#000">14°N</text>
<text x="84.8" y="485.1" text-anchor="end" font-family="Liberation Sans, Arial, sans-serif" font-weight="bold" font-size="35.4" fill="#000">16°N</text>
<text x="84.8" y="320.7" text-anchor="end" font-family="Liberation Sans, Arial, sans-serif" font-weight="bold" font-size="35.4" fill="#000">18°N</text>
<text x="84.8" y="157.8" text-anchor="end" font-family="Liberation Sans, Arial, sans-serif" font-weight="bold" font-size="35.4" fill="#000">20°N</text>
<clipPath id="cpB"><rect x="0" y="0" width="638.6" height="667.8"/></clipPath>
<g transform="translate(903.0,50.3)" clip-path="url(#cpB)">
<clipPath id="cqBTL"><rect x="10.200000000000001" y="-0.6" width="310.4" height="336.2"/></clipPath>
<g clip-path="url(#cqBTL)">
<rect x="10.8" y="0" width="309.2" height="335" fill="#ff7033"/>
<polygon points="36.0,96.7 67.5,65.2 85.5,42.7 96.7,38.2 99.0,54.0 76.5,67.5 56.2,85.5 45.0,99.0" fill="#ff9933"/>
<polygon points="29.2,122.6 40.5,112.5 49.5,99.0 67.5,90.0 90.0,78.7 105.7,74.2 123.7,67.5 124.9,74.2 117.0,83.2 126.0,86.6 135.0,90.0 144.0,100.1 132.7,105.7 126.0,103.5 105.7,108.0 85.5,110.2 74.2,114.7 58.5,121.5 60.7,128.2 50.6,135.0 48.4,146.2 49.5,162.0 42.7,150.7 29.2,146.2 27.0,140.6 33.7,132.7" fill="#ff9933"/>
<polygon points="48.4,209.2 51.7,220.5 67.5,229.5 85.5,238.5 90.0,249.7 96.7,265.5 108.0,276.7 117.0,290.2 119.2,306.0 105.7,310.5 96.7,299.2 85.5,292.5 74.2,290.2 56.2,270.0 42.7,247.5 42.7,213.7" fill="#ff9933"/>
<polygon points="128.2,319.5 139.5,315.0 150.7,321.7 157.5,337.5 121.5,337.5" fill="#ff9933"/>
<polygon points="326.2,245.2 319.9,245.2 299.2,249.7 279.0,258.7 276.7,272.2 281.2,283.5 281.2,301.5 265.5,315.0 247.5,326.2 245.2,337.5 326.2,337.5" fill="#ff9933"/>
<polygon points="326.2,310.5 315.0,315.0 308.2,337.5 326.2,337.5" fill="#ffab33"/>
<polygon points="167.6,39.4 189.0,37.1 207.0,40.5 227.2,14.6 230.6,19.1 211.5,41.6 219.4,67.5 219.4,85.5 227.2,96.7 243.0,94.5 249.7,101.2 238.5,112.5 227.2,121.5 211.5,124.9 200.2,130.5 186.7,140.6 186.7,162.0 193.5,180.0 189.0,198.0 175.5,204.7 177.7,213.7 191.2,209.2 195.7,222.7 191.2,236.2 209.2,240.7 225.0,238.5 249.7,243.0 243.0,254.2 234.0,267.7 222.7,281.2 211.5,299.2 207.0,312.7 210.6,324.0 210.6,337.5 175.7,337.5 166.0,325.6 162.0,311.8 155.5,292.3 150.5,285.1 148.5,281.2 130.5,270.0 112.5,254.2 105.7,236.2 101.2,216.0 96.7,200.2 87.7,193.5 74.2,202.5 65.2,205.9 60.7,193.5 54.0,181.1 63.0,157.5 67.5,141.7 85.5,122.6 105.7,117.0 114.7,118.1 124.9,128.2 144.0,121.5 171.0,108.0 186.7,101.2 166.5,96.7 155.2,90.0 149.6,63.0 157.5,47.2" fill="#ff5900"/>
<polygon points="96.7,173.2 103.5,159.7 114.7,155.2 137.2,155.2 144.0,160.9 126.0,166.5 108.0,171.0" fill="#ff7033"/>
<polygon points="158.6,58.5 166.5,51.7 177.7,51.7 180.0,59.6 176.6,72.0 186.7,70.9 201.4,79.9 189.0,86.6 171.0,84.4 164.2,75.4" fill="#e82a22"/>
<polygon points="65.2,182.2 69.7,172.1 77.6,173.2 76.5,182.2 69.7,189.0" fill="#e82a22"/>
<polygon points="87.7,141.7 94.5,140.6 90.0,144.0" fill="#e82a22"/>
<polygon points="235.1,49.5 236.2,41.6 247.5,36.0 263.2,39.4 270.0,45.0 275.6,60.7 270.0,69.7 265.5,78.7 285.7,76.5 270.0,83.2 256.5,85.5 249.7,74.2 249.7,58.5 256.5,49.5 245.2,56.2" fill="#ff5900"/>
</g>
<clipPath id="cqBTR"><rect x="319.4" y="-0.6" width="321.2" height="336.2"/></clipPath>
<g clip-path="url(#cqBTR)">
<rect x="320" y="0" width="320" height="335" fill="#ff9933"/>
<polygon points="380.7,-2.2 473.0,-2.2 470.7,6.7 468.5,18.0 423.5,20.2 403.2,38.2 405.5,51.7 419.0,65.2 441.5,58.5 455.0,67.5 448.2,90.0 448.2,105.7 442.6,126.0 441.5,139.5 434.7,153.0 425.7,162.0 426.9,177.7 430.2,186.7 429.1,195.7 441.5,207.0 439.2,225.0 441.5,241.9 437.0,252.0 430.2,258.7 405.5,272.2 376.2,288.0 353.7,303.7 333.5,320.6 326.7,327.4 317.8,333.0 317.8,225.0 342.5,213.7 378.5,180.0 378.5,139.5 396.5,121.5 396.5,65.2 362.7,65.2 362.7,42.7 380.7,22.5" fill="#ffab33"/>
<polygon points="317.8,227.2 365.0,225.0 387.5,209.2 406.6,199.1 398.7,216.0 392.0,234.0 385.2,247.0 358.2,247.0 326.7,276.7 317.8,283.5" fill="#ff9933"/>
<polygon points="470.7,6.7 473.0,-2.2 497.7,-2.2 500.0,9.0 506.7,-2.2 621.5,-2.2 621.5,2.2 593.4,20.2 604.6,40.5 585.5,60.7 558.5,76.5 522.5,86.6 497.7,94.5 482.0,100.1 475.2,81.0 482.0,65.2 497.7,45.0 505.6,34.9 497.7,24.7 475.2,21.4 469.6,15.7" fill="#ff7033"/>
<polygon points="646.2,169.9 639.9,169.9 610.2,172.1 590.0,182.2 565.2,198.0 536.0,207.0 518.0,212.6 500.0,213.7 486.5,227.2 477.5,241.9 470.7,254.2 483.1,262.1 459.5,271.1 432.5,286.9 410.0,300.4 376.2,316.1 349.2,329.6 333.5,337.5 333.5,342.0 646.2,342.0" fill="#ff7033"/>
<polygon points="576.5,144.0 578.7,128.2 594.5,126.0 585.5,139.5" fill="#ff7033"/>
<polygon points="446.0,337.5 461.7,317.2 487.6,318.4 482.0,337.5" fill="#ff5900"/>
<polygon points="546.1,122.6 558.5,115.9 578.7,105.7 601.2,94.5 621.5,90.0 646.2,84.4 646.2,119.2 623.7,122.6 610.2,129.4 599.0,119.2 579.9,117.0 567.5,126.0 554.0,129.4" fill="#ffab33"/>
<polygon points="493.2,141.7 515.7,126.0 515.7,139.5 500.0,146.2" fill="#ffab33"/>
</g>
<clipPath id="cqBBL"><rect x="10.200000000000001" y="334.4" width="310.4" height="336.2"/></clipPath>
<g clip-path="url(#cqBBL)">
<rect x="10.8" y="335" width="309.2" height="335" fill="#ff9933"/>
<polygon points="128.2,332.8 252.0,332.8 254.2,348.5 261.0,368.7 262.1,386.7 267.7,402.5 266.6,411.5 252.0,422.7 238.5,436.2 225.0,445.2 209.2,447.5 204.7,440.7 205.9,413.7 204.7,389.0 186.7,389.0 184.5,371.0 146.2,368.7 146.2,348.5" fill="#ff7033"/>
<polygon points="177.7,332.8 210.4,332.8 209.2,348.5 212.6,364.2 207.0,375.5 191.2,374.4 184.5,364.2 177.7,355.2" fill="#ff5900"/>
<polygon points="205.9,413.7 208.1,411.5 213.7,425.0 211.5,431.7 205.9,431.7" fill="#ff5900"/>
<polygon points="303.7,418.2 283.5,436.2 272.2,449.7 277.9,461.0 276.7,481.2 270.0,510.5 265.5,521.7 263.2,555.5 283.5,555.5 283.5,596.0 264.4,616.2 264.4,672.5 326.2,672.5 326.2,402.5 315.0,409.2" fill="#ffab33"/>
<polygon points="279.0,386.7 301.5,371.0 299.2,393.5 285.7,409.2" fill="#ffab33"/>
<polygon points="310.5,332.8 326.2,332.8 326.2,366.5 312.7,357.5 304.9,353.0" fill="#ffab33"/>
<polygon points="301.5,672.5 302.6,634.2 315.0,629.7 326.2,627.5 326.2,672.5" fill="#ff9933"/>
<polygon points="245.2,456.5 252.0,458.7 257.6,468.9 247.5,479.0 244.1,470.0" fill="#ff7033"/>
</g>
<clipPath id="cqBBR"><rect x="319.4" y="334.4" width="321.2" height="336.2"/></clipPath>
<g clip-path="url(#cqBBR)">
<rect x="320" y="335" width="320" height="335" fill="#ff5900"/>
<polygon points="317.8,332.8 450.5,332.8 450.5,335.0 437.0,344.0 423.5,350.7 403.2,348.5 387.5,357.5 374.0,375.5 365.0,386.7 359.4,402.5 358.2,411.5 367.2,413.7 378.5,417.1 387.5,423.9 392.0,438.5 394.2,452.0 392.0,470.0 394.2,488.0 414.5,497.0 421.2,515.0 431.4,530.7 425.7,548.7 416.7,566.7 405.5,584.7 394.2,593.7 383.0,605.0 374.0,625.2 375.1,650.0 376.2,659.0 374.0,672.5 317.8,672.5" fill="#ff7033"/>
<polygon points="317.8,332.8 356.0,332.8 353.7,335.0 344.7,348.5 335.7,371.0 333.5,393.5 331.2,425.0 333.5,440.7 349.2,445.2 352.6,467.7 356.0,488.0 365.0,506.0 370.6,515.0 372.9,530.7 363.9,551.0 361.6,571.2 359.4,589.2 356.0,605.0 351.5,627.5 348.1,647.7 347.0,661.2 348.1,672.5 317.8,672.5" fill="#ff9933"/>
<polygon points="317.8,467.7 320.0,490.2 326.7,501.5 330.1,515.0 330.1,537.5 325.6,560.0 324.5,573.5 330.1,584.7 331.2,591.5 330.1,627.5 329.0,650.0 329.0,672.5 317.8,672.5" fill="#ffab33"/>
<polygon points="464.0,364.2 477.5,341.7 486.5,332.8 518.0,332.8 519.1,344.0 511.2,355.2 500.0,362.0 477.5,360.9" fill="#ff7033"/>
<polygon points="504.5,372.1 511.2,362.0 522.5,356.4 536.0,351.9 552.9,345.1 545.0,340.6 529.2,341.7 521.4,332.8 558.5,332.8 558.5,374.4 545.0,380.0 531.5,391.2 520.2,391.2 506.7,380.0" fill="#ff7033"/>
<polygon points="518.0,366.5 522.5,363.1 542.7,365.4 536.0,368.7 520.2,371.0" fill="#ff9933"/>
<polygon points="560.7,332.8 646.2,332.8 646.2,378.9 630.5,383.4 612.5,393.5 590.0,404.7 574.2,412.6 560.7,411.5 560.7,386.7 574.2,373.2 560.7,377.7" fill="#ff7033"/>
<polygon points="646.2,421.6 639.9,421.6 628.2,425.0 619.2,440.7 617.0,452.0 621.5,463.2 632.7,470.0 639.9,471.1 646.2,471.1" fill="#ff7033"/>
<polygon points="646.2,423.9 639.9,423.9 631.6,429.5 627.1,445.2 629.4,456.5 639.9,461.0 646.2,461.0" fill="#ff9933"/>
<polygon points="646.2,429.5 639.9,429.5 635.0,436.2 633.9,449.7 639.9,456.5 646.2,456.5" fill="#ffab33"/>
<polygon points="551.7,551.0 558.5,544.2 585.5,546.5 608.0,544.2 612.5,557.7 623.7,569.0 639.9,582.5 646.2,582.5 646.2,672.5 578.7,672.5 572.0,659.0 583.2,650.0 590.0,627.5 586.6,607.2 578.7,593.7 563.0,582.5 556.2,569.0 550.6,560.0" fill="#ff7033"/>
<polygon points="455.0,413.7 461.7,400.2 469.6,399.1 487.6,407.0 482.0,417.1 477.5,410.4 466.2,412.6" fill="#e82a22"/>
<polygon points="467.4,510.5 469.6,492.5 477.5,485.7 487.6,485.3 493.2,494.7 500.0,508.2 511.2,511.6 497.7,526.2 486.5,531.9 480.9,533.0 475.2,521.7" fill="#e82a22"/>
<polygon points="480.9,533.0 498.9,533.0 500.0,552.1 477.5,566.7 461.7,578.0 434.7,581.4 441.5,569.0 455.0,560.0 462.9,557.7 473.0,544.2" fill="#e82a22"/>
<polygon points="584.4,470.0 600.1,445.2 602.4,470.0 600.1,486.9" fill="#e82a22"/>
<polygon points="610.2,490.2 624.9,490.2 613.6,495.9" fill="#e82a22"/>
</g>
<path d="M187.8,141.9 187.8,182.6 206.5,182.6 206.5,162.2 206.7,162.0 206.5,162.0 206.5,141.9 225.8,141.9 225.8,142.2 226.1,141.9 265.6,101.0 265.4,101.0 265.4,81.9 225.9,122.7 206.5,122.7 206.5,122.5 206.2,122.7 187.6,141.9ZM186.5,428.5 186.5,449.7 205.1,430.1 205.1,428.5ZM207.3,242.5 247.0,242.5 265.6,223.1 245.8,223.1 245.8,222.9 245.5,223.1 226.1,223.1 226.1,222.9Z" fill="#ff7033" fill-rule="evenodd"/>
<path d="M108.2,20.3 108.4,20.1 108.2,20.1 108.2,19.9 108.0,20.1 88.5,20.1 88.5,19.9 88.3,20.1 68.9,20.1 68.9,19.9 68.6,20.1 48.7,40.6 48.9,40.6 48.9,60.6 9.4,101.3 9.7,101.3 9.7,120.3 67.4,60.8 67.6,60.5 67.4,60.5 67.4,40.5 68.8,39.0 89.8,39.0 89.8,59.1 89.6,59.3 89.8,59.3 89.8,59.5 90.0,59.3 107.9,59.3 107.9,59.5 146.2,20.1 146.0,20.1 146.0,-0.1 127.5,-0.1 127.5,20.2 108.2,40.1ZM29.3,223.7 47.9,204.3 9.7,204.3 9.7,223.2 9.4,223.4 9.7,223.4 9.7,223.7 9.9,223.4 29.3,223.4ZM48.9,284.8 48.9,305.1 48.7,305.3 48.9,305.3 48.9,305.5 49.2,305.3 68.6,305.3 68.6,325.6 68.4,325.8 68.6,325.8 68.6,326.1 68.8,325.8 88.2,325.8 88.2,346.2 88.0,346.4 88.2,346.4 88.2,346.6 88.5,346.4 108.2,346.4 108.2,327.1 106.7,327.1 106.7,325.5 88.5,325.5 88.5,306.6 87.0,306.6 87.0,305.0 68.9,305.0 68.9,286.1 67.4,286.1 67.4,284.5 49.2,284.5 49.2,265.6 47.7,265.6 47.7,264.0 29.3,264.0 29.3,284.6 29.1,284.8 29.3,284.8 29.3,285.0 29.5,284.8ZM127.5,367.0 127.5,387.4 127.3,387.6 127.5,387.6 127.5,387.8 127.8,387.6 147.2,387.6 147.2,387.8 147.4,387.6 166.8,387.6 166.8,408.0 166.6,408.2 166.8,408.2 166.8,408.4 167.1,408.2 186.5,408.2 186.5,428.6 186.3,428.8 186.5,428.8 186.5,449.7 202.5,432.9 202.5,428.7 205.0,409.2 204.9,389.1 205.1,388.8 204.9,388.8 204.9,388.6 204.7,388.8 185.3,388.8 185.3,387.3 182.9,371.0 183.0,370.8 182.9,370.8 182.8,370.6 182.7,370.8 166.8,368.2 146.0,368.2 146.0,347.4 127.5,366.7 127.3,367.0ZM190.4,141.9 190.4,182.5 188.0,201.7 188.0,203.0 190.4,219.2 190.3,219.3 190.4,219.3 190.5,219.5 190.6,219.4 206.2,221.9 207.7,221.9 207.7,223.4 210.1,239.6 209.9,239.8 210.1,239.8 210.1,240.0 210.3,239.8 249.5,239.8 265.1,242.3 266.6,242.3 266.6,263.0 285.0,243.9 303.1,243.9 304.7,242.2 304.7,222.9 285.0,243.4 285.0,223.4 285.3,223.1 285.0,223.1 285.0,222.9 284.8,223.1 265.4,223.1 265.4,222.9 265.2,223.1 245.8,223.1 245.8,222.9 245.5,223.1 226.1,223.1 226.1,202.9 226.3,202.7 226.1,202.7 226.1,202.5 225.9,202.7 206.5,202.7 206.5,182.6 206.7,182.3 206.5,182.3 206.5,162.2 206.7,162.0 206.5,162.0 206.5,141.9 225.8,141.9 225.8,142.2 265.3,101.3 284.8,101.3 284.8,101.6 304.9,80.8 304.7,80.8 304.7,60.7 304.9,60.5 304.7,60.5 304.7,40.5 304.9,40.3 304.7,40.3 304.7,40.1 304.5,40.3 285.0,40.3 285.0,20.3 285.3,20.1 285.0,20.1 285.0,0.1 285.3,-0.1 285.0,-0.1 285.0,-0.3 284.8,-0.1 266.6,-0.1 266.6,40.3 269.0,56.6 268.9,56.7 269.0,56.8 269.1,57.0 269.2,56.8 284.8,59.3 286.3,59.3 286.3,80.9 284.8,82.3 283.3,82.3 265.4,84.8 265.4,84.6 225.9,125.4 206.5,125.4 206.5,125.2 206.2,125.4 190.2,141.9ZM244.2,469.9 225.8,469.9 225.8,491.1 244.2,471.7Z" fill="#ff9933" fill-rule="evenodd"/>
<path d="M68.9,19.9 48.7,40.6 48.9,40.6 48.9,60.6 9.4,101.3 9.7,101.3 9.7,117.2 64.4,60.8 64.6,60.5 64.4,60.5 64.4,40.5 68.8,35.9 92.8,35.9 92.8,55.9 92.6,56.2 92.8,56.2 92.8,56.4 93.0,56.2 107.9,56.2 107.9,56.4 143.2,20.1 143.0,20.1 143.0,-0.1 127.5,-0.1 127.5,20.2 108.2,40.1 108.2,20.3 108.4,20.1 108.2,20.1 108.2,19.9 108.0,20.1 88.5,20.1 88.5,19.9 88.3,20.1 68.9,20.1ZM29.1,243.9 29.3,243.9 29.3,264.1 29.1,264.3 29.3,264.3 29.3,284.6 29.1,284.8 29.3,284.8 29.3,285.0 29.5,284.8 48.9,284.8 48.9,305.1 48.7,305.3 48.9,305.3 48.9,305.5 49.2,305.3 68.6,305.3 68.6,325.6 68.4,325.8 68.6,325.8 68.6,326.1 68.8,325.8 88.2,325.8 88.2,346.2 88.0,346.4 88.2,346.4 88.2,346.6 88.5,346.4 107.9,346.4 107.9,366.8 107.7,367.0 107.9,367.0 107.9,367.2 108.1,367.0 127.5,367.0 127.5,387.4 127.3,387.6 127.5,387.6 127.5,387.8 127.8,387.6 147.2,387.6 147.2,387.8 147.4,387.6 166.8,387.6 166.8,408.0 166.6,408.2 166.8,408.2 166.8,408.4 167.1,408.2 186.5,408.2 186.5,428.6 186.3,428.8 186.5,428.8 186.5,449.3 186.3,449.5 186.5,449.5 186.5,470.0 186.3,470.2 186.5,470.2 186.5,470.4 186.7,470.2 206.2,470.2 206.2,470.4 206.4,470.2 225.8,470.2 225.8,490.7 225.6,490.9 225.8,490.9 225.8,511.4 225.6,511.6 225.8,511.6 225.8,532.2 225.6,532.4 225.8,532.4 225.8,532.6 226.0,532.4 245.4,532.4 245.4,532.6 263.8,513.2 244.0,513.2 244.0,490.9 241.2,474.8 241.2,470.0 244.0,451.3 244.2,451.1 244.0,451.1 244.0,450.8 243.7,451.1 204.7,451.1 204.7,449.2 199.9,435.5 199.9,428.7 202.0,412.4 201.9,392.2 202.1,392.0 201.9,392.0 201.9,391.8 201.7,392.0 182.3,392.0 182.3,387.3 180.3,373.7 180.4,373.6 180.2,373.5 180.2,373.4 180.0,373.5 166.8,371.4 143.0,371.4 143.0,351.0 143.1,350.9 143.0,350.9 143.0,350.6 142.8,350.8 127.8,348.0 126.1,348.0 126.1,327.6 126.3,327.3 126.1,327.4 126.1,327.2 125.8,327.4 108.0,330.3 103.7,330.3 103.7,325.7 106.4,307.1 106.7,306.8 106.4,306.8 106.5,306.6 106.2,306.9 88.4,309.8 84.0,309.8 84.0,305.2 86.8,286.6 87.0,286.3 86.8,286.3 86.8,286.1 86.5,286.4 68.7,289.2 64.4,289.2 64.4,284.7 67.1,266.1 67.4,265.8 67.1,265.9 67.2,265.6 66.9,265.9 49.1,268.8 44.7,268.8 44.7,264.2 47.5,245.1 47.5,223.4 44.7,207.6 44.9,207.4 44.7,207.4 44.7,207.3 44.5,207.4 9.7,207.4 9.7,223.2 9.4,223.4 9.7,223.4 9.7,223.7 9.9,223.4 29.3,223.4 29.3,243.7ZM225.9,128.1 206.5,128.1 206.5,127.9 192.8,141.9 193.1,141.9 193.1,182.5 191.0,198.6 191.0,203.0 193.0,216.4 192.9,216.6 193.1,216.6 193.1,216.8 193.3,216.6 206.2,218.7 210.7,218.7 210.7,223.4 212.7,236.9 212.5,237.1 212.7,237.1 212.7,237.2 212.9,237.1 252.1,237.1 265.1,239.2 269.6,239.2 269.6,259.4 269.5,259.6 269.6,259.6 269.6,259.8 269.8,259.6 284.8,262.4 284.8,262.7 300.1,243.8 304.7,239.1 304.7,222.9 285.0,243.4 285.0,223.4 285.3,223.1 285.0,223.1 285.0,222.9 284.8,223.1 265.4,223.1 265.4,222.9 265.2,223.1 245.8,223.1 245.8,222.9 245.5,223.1 226.1,223.1 226.1,202.9 226.3,202.7 226.1,202.7 226.1,202.5 225.9,202.7 206.5,202.7 206.5,182.6 206.7,182.3 206.5,182.3 206.5,162.2 206.7,162.0 206.5,162.0 206.5,141.9 225.8,141.9 225.8,142.2 265.3,101.3 284.8,101.3 284.8,101.6 304.9,80.8 304.7,80.8 304.7,60.7 304.9,60.5 304.7,60.5 304.7,40.5 304.9,40.3 304.7,40.3 304.7,40.1 304.5,40.3 285.0,40.3 285.0,20.3 285.3,20.1 285.0,20.1 285.0,0.1 285.3,-0.1 285.0,-0.1 285.0,-0.3 284.8,-0.1 269.6,-0.1 269.6,40.3 271.6,53.9 271.5,54.0 271.7,54.1 271.7,54.3 271.9,54.1 284.8,56.2 289.3,56.2 289.3,80.9 284.8,85.4 280.8,85.4 265.4,87.5 265.4,87.3ZM363.6,19.9 343.5,40.6 343.7,40.6 343.7,60.6 323.8,81.1 324.1,81.1 324.1,101.1 323.8,101.3 324.1,101.3 324.1,101.6 324.3,101.3 343.7,101.3 343.7,101.6 363.9,80.8 345.6,80.8 343.8,82.6 342.2,82.6 342.2,81.0 344.0,79.1 344.0,60.7 361.9,42.4 361.9,40.5 363.6,38.7Z" fill="#ffab33" fill-rule="evenodd"/>
<path d="M68.9,19.9 48.7,40.6 48.9,40.6 48.9,60.6 9.4,101.3 9.7,101.3 9.7,114.0 61.3,60.8 61.5,60.5 61.3,60.5 61.3,40.5 68.8,32.8 95.8,32.8 95.8,52.8 95.6,53.0 95.8,53.0 95.8,53.3 96.0,53.0 107.9,53.0 107.9,53.3 140.1,20.1 139.9,20.1 139.9,-0.1 127.5,-0.1 127.5,20.2 108.2,40.1 108.2,20.3 108.4,20.1 108.2,20.1 108.2,19.9 108.0,20.1 88.5,20.1 88.5,19.9 88.3,20.1 68.9,20.1ZM9.7,223.2 9.4,223.4 9.7,223.4 9.7,223.7 9.9,223.4 29.3,223.4 29.3,243.7 29.1,243.9 29.3,243.9 29.3,264.1 29.1,264.3 29.3,264.3 29.3,284.6 29.1,284.8 29.3,284.8 29.3,285.0 29.5,284.8 48.9,284.8 48.9,305.1 48.7,305.3 48.9,305.3 48.9,305.5 49.2,305.3 68.6,305.3 68.6,325.6 68.4,325.8 68.6,325.8 68.6,326.1 68.8,325.8 88.2,325.8 88.2,346.2 88.0,346.4 88.2,346.4 88.2,346.6 88.5,346.4 107.9,346.4 107.9,366.8 107.7,367.0 107.9,367.0 107.9,367.2 108.1,367.0 127.5,367.0 127.5,387.4 127.3,387.6 127.5,387.6 127.5,387.8 127.8,387.6 147.2,387.6 147.2,387.8 147.4,387.6 166.8,387.6 166.8,408.0 166.6,408.2 166.8,408.2 166.8,408.4 167.1,408.2 186.5,408.2 186.5,428.6 186.3,428.8 186.5,428.8 186.5,449.3 186.3,449.5 186.5,449.5 186.5,470.0 186.3,470.2 186.5,470.2 186.5,470.4 186.7,470.2 206.2,470.2 206.2,470.4 206.4,470.2 225.8,470.2 225.8,490.7 225.6,490.9 225.8,490.9 225.8,511.4 225.6,511.6 225.8,511.6 225.8,532.2 225.6,532.4 225.8,532.4 225.8,532.6 226.0,532.4 245.4,532.4 245.4,553.0 245.3,553.2 245.4,553.2 245.4,573.8 245.3,574.0 245.4,574.0 245.4,574.2 245.7,574.0 265.1,574.0 265.1,594.6 245.3,615.7 245.4,615.7 245.4,636.3 245.3,636.6 245.4,636.6 245.4,657.2 245.3,657.5 245.4,657.5 245.4,678.2 245.3,678.4 245.4,678.4 245.4,678.6 245.7,678.4 265.1,678.4 265.1,678.6 265.3,678.4 282.9,678.4 282.9,659.7 283.1,659.5 282.9,659.5 282.9,659.2 282.7,659.5 263.2,659.5 263.2,615.6 283.1,594.5 282.9,594.5 282.9,555.4 283.1,555.2 282.9,555.2 282.9,555.0 282.7,555.2 263.2,555.2 263.3,532.4 260.1,517.2 260.2,517.0 260.0,517.0 260.0,516.8 259.8,517.0 240.4,517.0 240.4,490.9 238.2,478.0 238.2,470.0 240.4,455.1 240.6,454.8 240.4,454.8 240.5,454.5 240.2,454.8 201.1,454.8 201.1,449.2 197.3,438.3 197.3,428.7 198.9,415.5 198.9,395.4 199.1,395.2 198.9,395.2 198.9,395.0 198.7,395.2 179.2,395.2 179.2,387.3 177.6,376.5 177.8,376.3 177.6,376.3 177.6,376.1 177.4,376.3 166.8,374.6 139.9,374.6 139.9,354.2 140.1,354.1 139.9,354.0 139.9,353.8 139.7,354.0 127.8,351.7 122.5,351.7 122.5,331.4 122.8,331.1 122.5,331.1 122.5,330.9 122.3,331.2 108.0,333.4 100.6,333.4 100.6,325.7 102.8,310.8 103.1,310.5 102.9,310.6 102.9,310.3 102.6,310.6 88.4,312.9 81.0,312.9 81.0,305.2 83.2,290.3 83.5,290.0 83.2,290.1 83.3,289.8 83.0,290.1 68.7,292.4 61.3,292.4 61.3,284.7 63.5,269.8 63.8,269.5 63.6,269.6 63.6,269.3 63.3,269.6 49.1,271.9 41.7,271.9 41.7,264.2 44.0,248.9 43.9,223.4 41.7,210.8 41.9,210.6 41.7,210.6 41.6,210.4 41.5,210.6 9.7,210.6ZM206.5,130.6 195.5,141.9 195.7,141.9 195.7,182.5 194.0,195.5 194.1,203.0 195.7,213.7 195.5,213.9 195.7,213.9 195.7,214.1 195.9,213.9 206.5,215.6 213.7,215.6 213.7,223.4 215.3,234.1 215.1,234.3 215.3,234.3 215.4,234.5 215.5,234.3 254.8,234.3 265.1,236.0 272.7,236.0 272.7,256.3 272.5,256.4 272.7,256.4 272.7,256.7 272.9,256.5 284.8,258.7 284.8,259.0 297.1,243.8 304.6,236.0 322.5,223.1 322.4,223.1 324.3,221.2 343.7,221.2 343.7,221.4 344.0,221.2 381.3,182.3 381.1,182.3 381.1,141.9 401.0,121.3 400.8,121.3 400.8,63.0 401.0,62.8 400.8,62.8 400.8,62.6 400.6,62.8 363.6,62.8 363.6,62.5 349.1,80.8 343.8,86.3 338.6,86.3 338.6,81.0 344.0,75.5 361.7,60.5 361.4,60.5 358.3,46.0 358.3,40.5 363.6,35.1 381.4,20.1 381.1,20.1 381.1,-0.1 363.4,-0.1 363.4,20.2 343.5,40.6 343.7,40.6 343.7,60.6 323.8,81.1 324.1,81.1 324.1,101.1 323.8,101.3 324.1,101.3 324.1,101.6 324.3,101.3 343.7,101.3 343.7,101.6 363.6,81.1 383.0,81.1 383.0,101.1 382.8,101.3 383.0,101.3 383.0,121.4 363.1,141.9 363.4,141.9 363.4,162.1 363.1,162.3 363.4,162.3 363.4,182.4 343.8,202.7 324.3,202.7 324.3,202.5 285.0,243.4 285.0,223.4 285.3,223.1 285.0,223.1 285.0,222.9 284.8,223.1 265.4,223.1 265.4,222.9 265.2,223.1 245.8,223.1 245.8,222.9 245.5,223.1 226.1,223.1 226.1,202.9 226.3,202.7 226.1,202.7 226.1,202.5 225.9,202.7 206.5,202.7 206.5,182.6 206.7,182.3 206.5,182.3 206.5,162.2 206.7,162.0 206.5,162.0 206.5,141.9 225.8,141.9 225.8,142.2 265.3,101.3 284.8,101.3 284.8,101.6 304.9,80.8 304.7,80.8 304.7,60.7 304.9,60.5 304.7,60.5 304.7,40.5 304.9,40.3 304.7,40.3 304.7,40.1 304.5,40.3 285.0,40.3 285.0,20.3 285.3,20.1 285.0,20.1 285.0,0.1 285.3,-0.1 285.0,-0.1 285.0,-0.3 284.8,-0.1 272.7,-0.1 272.7,40.6 274.3,51.2 274.1,51.3 274.3,51.4 274.3,51.6 274.5,51.4 285.0,53.1 292.3,53.0 292.3,80.9 284.8,88.6 277.8,88.5 265.4,90.2 265.4,90.0 225.9,130.8 206.5,130.8Z" fill="#ffcb33" fill-rule="evenodd"/>
<path d="M68.9,19.9 48.7,40.6 48.9,40.6 48.9,60.6 9.7,101.0 9.4,101.3 9.7,101.3 9.7,110.9 58.3,60.8 58.5,60.5 58.3,60.5 58.3,40.5 68.8,29.7 98.8,29.7 98.8,49.7 98.6,49.9 98.8,49.9 98.8,50.2 99.0,49.9 107.9,49.9 107.9,50.2 137.1,20.1 136.9,20.1 136.9,-0.1 127.5,-0.1 127.5,20.2 108.2,40.1 108.2,20.3 108.4,20.1 108.2,20.1 108.2,19.9 108.0,20.1 88.5,20.1 88.5,19.9 88.3,20.1 68.9,20.1ZM9.7,223.2 9.4,223.4 9.7,223.4 9.7,223.7 9.9,223.4 29.3,223.4 29.3,243.7 29.1,243.9 29.3,243.9 29.3,264.1 29.1,264.3 29.3,264.3 29.3,284.6 29.1,284.8 29.3,284.8 29.3,285.0 29.5,284.8 48.9,284.8 48.9,305.1 48.7,305.3 48.9,305.3 48.9,305.5 49.2,305.3 68.6,305.3 68.6,325.6 68.4,325.8 68.6,325.8 68.6,326.1 68.8,325.8 88.2,325.8 88.2,346.2 88.0,346.4 88.2,346.4 88.2,346.6 88.5,346.4 107.9,346.4 107.9,366.8 107.7,367.0 107.9,367.0 107.9,367.2 108.1,367.0 127.5,367.0 127.5,387.4 127.3,387.6 127.5,387.6 127.5,387.8 127.8,387.6 147.2,387.6 147.2,387.8 147.4,387.6 166.8,387.6 166.8,408.0 166.6,408.2 166.8,408.2 166.8,408.4 167.1,408.2 186.5,408.2 186.5,428.6 186.3,428.8 186.5,428.8 186.5,449.3 186.3,449.5 186.5,449.5 186.5,470.0 186.3,470.2 186.5,470.2 186.5,470.4 186.7,470.2 206.2,470.2 206.2,470.4 206.4,470.2 225.8,470.2 225.8,490.7 225.6,490.9 225.8,490.9 225.8,511.4 225.6,511.6 225.8,511.6 225.8,532.2 225.6,532.4 225.8,532.4 225.8,532.6 226.0,532.4 245.4,532.4 245.4,553.0 245.3,553.2 245.4,553.2 245.4,573.8 245.3,574.0 245.4,574.0 245.4,574.2 245.7,574.0 265.1,574.0 265.1,594.6 245.3,615.7 245.4,615.7 245.4,636.3 245.3,636.6 245.4,636.6 245.4,657.2 245.3,657.5 245.4,657.5 245.4,678.2 245.3,678.4 245.4,678.4 245.4,678.6 245.7,678.4 265.1,678.4 265.1,678.6 265.3,678.4 278.5,678.4 278.5,664.3 278.7,664.1 278.5,664.1 278.5,663.9 278.3,664.1 258.8,664.1 258.8,615.6 278.7,594.5 278.5,594.5 278.5,560.0 278.7,559.8 278.5,559.8 278.5,559.6 278.3,559.8 258.8,559.8 258.9,532.4 256.5,521.0 256.7,520.8 256.4,520.8 256.4,520.6 256.3,520.8 236.8,520.8 236.8,490.9 235.2,481.2 235.2,470.0 236.8,458.8 237.0,458.6 236.8,458.6 236.9,458.3 236.6,458.6 197.5,458.6 197.6,449.5 194.7,441.0 194.7,428.7 195.9,418.7 195.9,398.6 196.1,398.4 195.9,398.4 195.9,398.1 195.7,398.4 176.2,398.4 176.2,387.6 175.0,379.2 175.2,379.1 175.0,379.0 175.0,378.8 174.8,379.0 166.8,377.7 136.9,377.8 136.9,357.4 137.1,357.2 136.9,357.2 136.9,356.9 136.7,357.2 127.5,355.4 118.9,355.4 118.9,335.1 119.2,334.8 118.9,334.9 118.9,334.7 118.7,334.9 108.0,336.6 97.6,336.6 97.6,325.7 99.3,314.6 99.5,314.3 99.3,314.3 99.3,314.1 99.0,314.4 88.4,316.1 78.0,316.1 78.0,305.2 79.6,294.0 79.9,293.8 79.6,293.8 79.7,293.5 79.4,293.8 68.7,295.6 58.3,295.6 58.3,284.7 60.0,273.6 60.2,273.3 60.0,273.3 60.0,273.0 59.7,273.3 49.1,275.1 38.7,275.1 38.7,264.2 40.4,252.6 40.3,223.4 38.7,213.9 38.9,213.7 38.6,213.7 38.6,213.6 38.5,213.7 9.7,213.7ZM206.5,133.3 198.1,141.9 198.3,141.9 198.3,182.5 197.0,192.3 197.1,203.0 198.3,211.0 198.1,211.1 198.3,211.2 198.3,211.4 198.5,211.2 206.5,212.5 216.7,212.5 216.7,223.1 217.9,231.4 217.7,231.6 218.0,231.6 218.0,231.8 218.2,231.6 257.4,231.6 265.4,232.9 275.7,232.9 275.7,253.1 275.5,253.3 275.7,253.3 275.7,253.5 275.9,253.3 284.8,255.0 284.8,255.3 294.1,243.8 304.6,232.8 318.1,223.1 318.0,223.1 324.3,216.6 343.7,216.6 343.7,216.9 344.0,216.6 377.0,182.3 376.7,182.3 376.7,141.9 396.6,121.3 396.4,121.3 396.4,67.5 396.6,67.3 396.4,67.3 396.4,67.1 396.2,67.3 363.6,67.3 363.6,67.0 352.7,80.8 343.8,90.0 335.1,90.0 335.1,81.0 344.0,71.8 357.4,60.5 357.1,60.5 354.7,49.6 354.7,40.5 363.6,31.4 377.0,20.1 376.7,20.1 376.7,-0.1 363.4,-0.1 363.4,20.2 343.5,40.6 343.7,40.6 343.7,60.6 323.8,81.1 324.1,81.1 324.1,101.1 323.8,101.3 324.1,101.3 324.1,101.6 324.3,101.3 343.7,101.3 343.7,101.6 363.6,81.1 383.0,81.1 383.0,101.1 382.8,101.3 383.0,101.3 383.0,121.4 363.1,141.9 363.4,141.9 363.4,162.1 363.1,162.3 363.4,162.3 363.4,182.4 343.8,202.7 324.3,202.7 324.3,202.5 285.0,243.4 285.0,223.4 285.3,223.1 285.0,223.1 285.0,222.9 284.8,223.1 265.4,223.1 265.4,222.9 265.2,223.1 245.8,223.1 245.8,222.9 245.5,223.1 226.1,223.1 226.1,202.9 226.3,202.7 226.1,202.7 226.1,202.5 225.9,202.7 206.5,202.7 206.5,182.6 206.7,182.3 206.5,182.3 206.5,162.2 206.7,162.0 206.5,162.0 206.5,141.9 225.8,141.9 225.8,142.2 265.3,101.3 284.8,101.3 284.8,101.6 304.9,80.8 304.7,80.8 304.7,60.7 304.9,60.5 304.7,60.5 304.7,40.5 304.9,40.3 304.7,40.3 304.7,40.1 304.5,40.3 285.0,40.3 285.0,20.3 285.3,20.1 285.0,20.1 285.0,0.1 285.3,-0.1 285.0,-0.1 285.0,-0.3 284.8,-0.1 275.7,-0.1 275.7,40.6 276.9,48.5 276.7,48.6 276.9,48.7 276.9,48.9 277.1,48.7 285.0,50.0 295.3,49.9 295.3,80.9 284.8,91.7 274.7,91.6 265.4,92.9 265.4,92.7 225.9,133.5 206.5,133.5Z" fill="#ffe270" fill-rule="evenodd"/>
<path d="M68.9,19.9 48.7,40.6 48.9,40.6 48.9,60.6 9.7,101.0 9.4,101.3 9.7,101.3 9.7,107.8 55.3,60.8 55.5,60.5 55.3,60.5 55.3,40.5 68.8,26.6 101.9,26.6 101.9,46.6 101.6,46.8 101.9,46.8 101.9,47.0 102.1,46.8 107.9,46.8 107.9,47.0 134.1,20.1 133.9,20.1 133.9,-0.1 127.5,-0.1 127.5,20.2 108.2,40.1 108.2,20.3 108.4,20.1 108.2,20.1 108.2,19.9 108.0,20.1 88.5,20.1 88.5,19.9 88.3,20.1 68.9,20.1ZM9.7,223.2 9.4,223.4 9.7,223.4 9.7,223.7 9.9,223.4 29.3,223.4 29.3,243.7 29.1,243.9 29.3,243.9 29.3,264.1 29.1,264.3 29.3,264.3 29.3,284.6 29.1,284.8 29.3,284.8 29.3,285.0 29.5,284.8 48.9,284.8 48.9,305.1 48.7,305.3 48.9,305.3 48.9,305.5 49.2,305.3 68.6,305.3 68.6,325.6 68.4,325.8 68.6,325.8 68.6,326.1 68.8,325.8 88.2,325.8 88.2,346.2 88.0,346.4 88.2,346.4 88.2,346.6 88.5,346.4 107.9,346.4 107.9,366.8 107.7,367.0 107.9,367.0 107.9,367.2 108.1,367.0 127.5,367.0 127.5,387.4 127.3,387.6 127.5,387.6 127.5,387.8 127.8,387.6 147.2,387.6 147.2,387.8 147.4,387.6 166.8,387.6 166.8,408.0 166.6,408.2 166.8,408.2 166.8,408.4 167.1,408.2 186.5,408.2 186.5,428.6 186.3,428.8 186.5,428.8 186.5,449.3 186.3,449.5 186.5,449.5 186.5,470.0 186.3,470.2 186.5,470.2 186.5,470.4 186.7,470.2 206.2,470.2 206.2,470.4 206.4,470.2 225.8,470.2 225.8,490.7 225.6,490.9 225.8,490.9 225.8,511.4 225.6,511.6 225.8,511.6 225.8,532.2 225.6,532.4 225.8,532.4 225.8,532.6 226.0,532.4 245.4,532.4 245.4,553.0 245.3,553.2 245.4,553.2 245.4,573.8 245.3,574.0 245.4,574.0 245.4,574.2 245.7,574.0 265.1,574.0 265.1,594.6 245.3,615.7 245.4,615.7 245.4,636.3 245.3,636.6 245.4,636.6 245.4,657.2 245.3,657.5 245.4,657.5 245.4,678.2 245.3,678.4 245.4,678.4 245.4,678.6 245.7,678.4 265.1,678.4 265.1,678.6 265.3,678.4 274.1,678.4 274.1,669.0 274.3,668.8 274.1,668.8 274.1,668.5 273.9,668.8 254.5,668.8 254.5,615.6 274.3,594.5 274.1,594.5 274.1,564.6 274.3,564.4 274.1,564.4 274.1,564.2 273.9,564.4 254.5,564.4 254.5,532.4 252.9,524.7 253.1,524.5 252.9,524.5 252.8,524.4 252.7,524.5 233.2,524.5 233.3,490.9 232.1,484.4 232.1,470.0 233.2,462.6 233.4,462.4 233.3,462.4 233.3,462.1 233.0,462.4 193.9,462.4 194.0,449.5 192.0,443.8 192.0,428.7 192.9,421.9 192.8,401.7 193.0,401.5 192.8,401.5 192.8,401.3 192.6,401.5 173.2,401.5 173.2,387.6 172.4,382.0 172.5,381.8 172.4,381.8 172.3,381.6 172.2,381.8 166.8,380.9 133.9,380.9 133.9,360.5 134.0,360.4 133.9,360.4 133.9,360.1 133.7,360.3 127.5,359.2 115.3,359.2 115.3,338.8 115.6,338.5 115.3,338.6 115.3,338.4 115.1,338.6 108.0,339.8 94.6,339.8 94.6,325.7 95.7,318.3 96.0,318.0 95.7,318.0 95.8,317.8 95.5,318.1 88.4,319.2 74.9,319.2 74.9,305.2 76.0,297.8 76.3,297.5 76.1,297.5 76.1,297.3 75.8,297.6 68.7,298.7 55.3,298.7 55.3,284.7 56.4,277.3 56.7,277.0 56.4,277.0 56.5,276.8 56.2,277.1 49.1,278.2 35.6,278.2 35.6,264.2 36.8,256.3 36.8,223.4 35.7,217.1 35.8,216.9 35.6,216.9 35.6,216.7 35.4,216.9 9.7,216.9ZM206.5,136.0 200.7,141.9 200.9,141.9 200.9,182.5 200.0,189.2 200.1,202.7 200.9,208.3 200.8,208.4 200.9,208.5 201.0,208.6 201.1,208.5 206.5,209.3 219.8,209.3 219.7,223.1 220.6,228.7 220.4,228.9 220.6,228.9 220.6,229.1 220.8,228.9 260.0,228.9 265.4,229.8 278.7,229.7 278.7,250.0 278.6,250.1 278.7,250.1 278.7,250.4 278.9,250.2 284.8,251.3 284.8,251.6 291.1,243.8 304.6,229.7 313.7,223.1 313.6,223.1 324.3,212.1 343.7,212.1 343.7,212.3 344.0,212.1 372.6,182.3 372.4,182.3 372.4,141.9 392.2,121.3 392.0,121.3 392.0,72.0 392.2,71.8 392.0,71.8 392.0,71.6 391.8,71.8 363.6,71.8 363.6,71.5 356.2,80.8 343.8,93.7 331.5,93.7 331.5,81.0 344.0,68.1 353.0,60.5 352.7,60.5 351.1,53.3 351.1,40.5 363.6,27.7 372.6,20.1 372.4,20.1 372.4,-0.1 363.4,-0.1 363.4,20.2 343.5,40.6 343.7,40.6 343.7,60.6 323.8,81.1 324.1,81.1 324.1,101.1 323.8,101.3 324.1,101.3 324.1,101.6 324.3,101.3 343.7,101.3 343.7,101.6 363.6,81.1 383.0,81.1 383.0,101.1 382.8,101.3 383.0,101.3 383.0,121.4 363.1,141.9 363.4,141.9 363.4,162.1 363.1,162.3 363.4,162.3 363.4,182.4 343.8,202.7 324.3,202.7 324.3,202.5 285.0,243.4 285.0,223.4 285.3,223.1 285.0,223.1 285.0,222.9 284.8,223.1 265.4,223.1 265.4,222.9 265.2,223.1 245.8,223.1 245.8,222.9 245.5,223.1 226.1,223.1 226.1,202.9 226.3,202.7 226.1,202.7 226.1,202.5 225.9,202.7 206.5,202.7 206.5,182.6 206.7,182.3 206.5,182.3 206.5,162.2 206.7,162.0 206.5,162.0 206.5,141.9 225.8,141.9 225.8,142.2 265.3,101.3 284.8,101.3 284.8,101.6 304.9,80.8 304.7,80.8 304.7,60.7 304.9,60.5 304.7,60.5 304.7,40.5 304.9,40.3 304.7,40.3 304.7,40.1 304.5,40.3 285.0,40.3 285.0,20.3 285.3,20.1 285.0,20.1 285.0,0.1 285.3,-0.1 285.0,-0.1 285.0,-0.3 284.8,-0.1 278.7,-0.1 278.7,40.3 279.5,45.8 279.4,45.9 279.5,46.0 279.6,46.2 279.7,46.0 285.0,46.8 298.4,46.8 298.4,80.9 284.8,94.8 271.7,94.7 265.4,95.6 265.4,95.4 225.9,136.2 206.5,136.2Z" fill="#fff4d4" fill-rule="evenodd"/>
<path d="M9.7,60.5 9.4,60.8 9.7,60.8 9.7,80.9 9.4,81.1 9.7,81.1 9.7,101.1 9.4,101.3 9.7,101.3 9.7,104.7 52.3,60.8 52.5,60.5 52.3,60.5 52.3,40.5 68.8,23.5 104.9,23.5 104.9,43.5 104.7,43.7 104.9,43.7 104.9,43.9 105.1,43.7 107.9,43.7 107.9,43.9 131.1,20.1 130.9,20.1 130.9,-0.1 127.8,-0.1 127.8,-0.3 127.6,-0.1 108.2,-0.1 108.2,-0.3 108.0,-0.1 88.5,-0.1 88.5,-0.3 88.3,-0.1 68.9,-0.1 68.9,-0.3 68.7,-0.1 49.2,-0.1 49.2,-0.3 49.0,-0.1 29.6,-0.1 29.6,-0.3 29.4,-0.1 9.7,-0.1 9.7,20.2 9.4,20.4 9.7,20.4 9.7,40.4 9.4,40.6 9.7,40.6ZM9.7,223.2 9.4,223.4 9.7,223.4 9.7,243.7 9.4,243.9 9.7,243.9 9.7,264.1 9.4,264.3 9.7,264.3 9.7,284.6 9.4,284.8 9.7,284.8 9.7,305.1 9.4,305.3 9.7,305.3 9.7,325.6 9.4,325.8 9.7,325.8 9.7,346.2 9.4,346.4 9.7,346.4 9.7,366.8 9.4,367.0 9.7,367.0 9.7,387.4 9.4,387.6 9.7,387.6 9.7,408.0 9.4,408.2 9.7,408.2 9.7,428.6 9.5,428.8 9.7,428.8 9.7,449.3 9.5,449.5 9.7,449.5 9.7,470.0 9.5,470.2 9.7,470.2 9.7,490.7 9.5,490.9 9.7,490.9 9.7,511.4 9.5,511.6 9.7,511.6 9.7,532.2 9.5,532.4 9.7,532.4 9.7,553.0 9.5,553.2 9.7,553.2 9.7,573.8 9.5,574.0 9.7,574.0 9.7,594.6 9.5,594.8 9.7,594.8 9.7,615.5 9.5,615.7 9.7,615.7 9.7,636.3 9.5,636.6 9.7,636.6 9.7,657.2 9.5,657.5 9.7,657.5 9.7,678.2 9.5,678.4 9.7,678.4 9.7,678.6 9.9,678.4 29.3,678.4 29.3,678.6 29.5,678.4 48.9,678.4 48.9,678.6 49.2,678.4 68.6,678.4 68.6,678.6 68.8,678.4 88.2,678.4 88.2,678.6 88.5,678.4 107.9,678.4 107.9,678.6 108.1,678.4 127.5,678.4 127.5,678.6 127.8,678.4 147.2,678.4 147.2,678.6 147.4,678.4 166.8,678.4 166.8,678.6 167.1,678.4 186.5,678.4 186.5,678.6 186.7,678.4 206.2,678.4 206.2,678.6 206.4,678.4 225.8,678.4 225.8,678.6 226.0,678.4 245.4,678.4 245.4,678.6 245.7,678.4 265.1,678.4 265.1,678.6 265.3,678.4 269.8,678.4 269.8,673.6 270.0,673.4 269.8,673.4 269.8,673.2 269.6,673.4 250.1,673.4 250.1,615.6 270.0,594.5 269.8,594.5 269.8,569.3 270.0,569.1 269.8,569.1 269.8,568.8 269.6,569.1 250.1,569.1 250.2,532.4 249.3,528.5 249.5,528.3 249.3,528.3 249.3,528.2 249.1,528.3 229.7,528.3 229.7,490.9 229.1,487.5 229.1,470.0 229.7,466.3 229.9,466.1 229.7,466.1 229.7,465.8 229.5,466.1 190.4,466.1 190.4,449.5 189.4,446.6 189.4,428.7 189.9,425.1 189.8,404.9 190.0,404.7 189.8,404.7 189.8,404.5 189.6,404.7 170.2,404.7 170.2,387.6 169.8,384.7 169.9,384.6 169.8,384.5 169.7,384.3 169.6,384.5 166.8,384.1 130.9,384.1 130.9,363.7 131.0,363.6 130.9,363.5 130.9,363.3 130.7,363.5 127.5,362.9 111.8,362.9 111.8,342.6 112.0,342.3 111.8,342.3 111.8,342.1 111.5,342.4 108.0,342.9 91.6,342.9 91.6,325.7 92.1,322.0 92.4,321.7 92.2,321.8 92.2,321.5 91.9,321.8 88.4,322.4 71.9,322.4 71.9,305.2 72.5,301.5 72.7,301.2 72.5,301.3 72.5,301.0 72.2,301.3 68.7,301.9 52.3,301.9 52.3,284.7 52.8,281.0 53.1,280.7 52.9,280.8 52.9,280.5 52.6,280.8 49.1,281.4 32.6,281.4 32.6,264.2 33.2,260.0 33.2,223.4 32.6,220.2 32.8,220.0 32.6,220.0 32.6,219.8 32.4,220.0 9.7,220.0ZM203.5,182.5 203.1,186.1 203.1,202.7 203.5,205.6 203.4,205.7 203.5,205.7 203.6,205.9 203.7,205.8 206.5,206.2 222.8,206.2 222.8,223.1 223.2,226.0 223.0,226.2 223.2,226.2 223.2,226.3 223.4,226.2 262.6,226.2 265.4,226.6 281.7,226.6 281.7,246.8 281.6,247.0 281.7,247.0 281.7,247.2 281.9,247.0 284.8,247.6 284.8,247.9 288.0,243.8 304.6,226.5 309.4,223.1 309.3,223.1 324.3,207.6 343.7,207.6 343.7,207.8 368.0,182.6 368.2,182.3 368.0,182.3 368.0,141.9 387.9,121.3 387.7,121.3 387.7,76.5 387.9,76.3 387.7,76.3 387.7,76.0 387.5,76.3 363.6,76.3 363.6,76.0 359.8,80.8 343.8,97.4 327.9,97.4 327.9,81.0 344.0,64.5 348.6,60.5 348.3,60.5 347.6,57.0 347.6,40.5 363.6,24.0 368.3,20.1 368.0,20.1 368.0,-0.1 363.6,-0.1 363.6,-0.3 363.4,-0.1 344.0,-0.1 344.0,-0.3 343.8,-0.1 324.3,-0.1 324.3,-0.3 324.1,-0.1 304.7,-0.1 304.7,-0.3 304.5,-0.1 285.0,-0.1 285.0,-0.3 284.8,-0.1 281.7,-0.1 281.7,40.3 282.1,43.1 282.0,43.3 282.1,43.3 282.2,43.5 282.3,43.3 285.0,43.7 301.4,43.7 301.4,80.9 284.8,97.9 268.7,97.9 265.4,98.3 265.4,98.1 225.9,138.9 206.5,138.9 206.5,138.7 203.5,141.6 203.3,141.9 203.5,141.9Z" fill="#ffffff" fill-rule="evenodd"/>
<line x1="157.2" y1="0" x2="157.2" y2="667.8" stroke="#000" stroke-opacity="0.09" stroke-width="1"/>
<line x1="314.4" y1="0" x2="314.4" y2="667.8" stroke="#000" stroke-opacity="0.09" stroke-width="1"/>
<line x1="471.6" y1="0" x2="471.6" y2="667.8" stroke="#000" stroke-opacity="0.09" stroke-width="1"/>
<line x1="628.8" y1="0" x2="628.8" y2="667.8" stroke="#000" stroke-opacity="0.09" stroke-width="1"/>
<line x1="0" y1="584.2" x2="638.6" y2="584.2" stroke="#000" stroke-opacity="0.09" stroke-width="1"/>
<line x1="0" y1="418.3" x2="638.6" y2="418.3" stroke="#000" stroke-opacity="0.09" stroke-width="1"/>
<line x1="0" y1="253.9" x2="638.6" y2="253.9" stroke="#000" stroke-opacity="0.09" stroke-width="1"/>
<line x1="0" y1="91.0" x2="638.6" y2="91.0" stroke="#000" stroke-opacity="0.09" stroke-width="1"/>
<polygon points="-13.4,-13.7 106.8,-13.7 106.8,1.7 106.4,9.1 102.1,10.4 97.4,11.5 92.7,15.1 87.3,15.5 83.9,19.8 79.2,21.9 75.9,24.5 70.5,26.6 65.8,28.6 60.4,29.9 59.1,31.9 62.5,34.0 58.4,35.3 53.1,37.3 49.7,40.7 47.0,43.4 46.3,48.1 47.0,53.4 46.3,58.8 45.7,64.2 43.7,68.9 40.3,71.6 36.3,73.2 31.6,74.2 28.2,76.9 23.5,82.3 18.8,87.7 14.8,92.7 9.4,93.4 5.4,94.4 1.3,91.7 -13.4,91.7" fill="#e6e6e6" stroke="#000" stroke-width="1.5" stroke-linejoin="round"/>
<polygon points="-9.0,221.6 1.8,222.7 7.9,229.5 13.5,234.0 19.1,240.3 24.7,244.1 28.8,243.0 33.7,245.2 37.1,249.7 40.0,253.8 41.6,258.7 38.7,267.7 37.1,275.6 40.5,282.4 43.9,288.0 47.2,294.3 50.6,299.2 55.8,304.2 60.7,309.4 67.5,314.5 74.2,318.3 79.2,322.2 83.2,326.2 87.7,335.0 93.4,340.8 99.0,346.2 108.0,355.0 117.0,363.1 126.0,369.0 135.0,375.5 144.0,383.4 149.6,387.4 155.2,390.1 157.5,396.0 162.0,399.1 167.6,400.5 173.2,402.5 173.7,408.3 175.5,412.6 181.1,418.9 186.7,425.0 191.2,433.1 195.7,440.7 201.4,449.5 207.0,457.6 213.3,463.0 219.4,467.7 221.6,472.5 225.0,475.6 227.7,479.2 229.5,483.5 227.2,488.2 227.7,492.5 231.3,504.0 235.1,513.9 238.9,519.7 241.9,526.2 241.2,535.5 243.0,544.2 245.7,552.3 248.6,560.0 250.9,567.0 253.1,573.5 255.4,579.3 256.5,584.7 256.9,592.8 258.7,600.5 256.9,609.7 256.0,618.5 257.8,627.7 258.7,636.5 259.2,643.4 261.0,650.0 263.7,659.2 266.6,667.5 267.7,677.2 -9.0,677.2" fill="#e6e6e6" stroke="#000" stroke-width="1.5" stroke-linejoin="round"/>
<polygon points="249.1,112.8 249.8,107.5 255.8,103.4 258.5,98.7 265.2,101.4 271.9,103.4 276.0,102.8 277.3,96.7 284.0,92.7 292.1,90.0 297.5,92.7 301.5,94.7 306.9,92.7 310.9,96.0 314.2,98.7 318.9,94.0 324.3,90.0 327.0,86.6 332.4,86.0 339.1,85.3 343.1,84.0 348.5,86.6 355.2,89.3 359.9,88.7 360.6,84.0 364.6,81.9 368.0,77.9 371.3,84.0 376.7,89.3 383.4,91.3 388.1,89.3 390.1,98.1 392.8,107.5 396.2,119.5 388.8,124.2 383.4,128.3 379.4,128.9 378.0,133.0 372.7,138.4 368.6,142.4 366.0,149.1 363.3,155.8 360.6,161.2 359.9,167.9 357.9,173.3 355.2,180.0 355.9,188.0 351.2,192.1 345.8,196.1 340.4,198.8 333.7,202.8 328.3,206.9 323.0,212.2 318.9,217.6 314.9,219.6 308.2,221.6 300.1,221.0 296.1,223.0 294.1,228.3 292.1,233.7 286.7,237.1 282.0,239.8 279.3,235.7 274.6,235.7 270.6,231.0 262.5,229.0 254.5,228.3 247.8,227.0 243.7,223.6 235.7,221.6 229.0,218.3 222.2,214.9 215.5,211.6 210.8,208.2 211.5,200.1 212.2,192.1 208.8,185.4 206.8,178.6 207.5,170.6 205.4,163.9 207.5,157.2 206.8,150.4 210.1,142.4 216.9,139.7 224.9,134.3 233.0,128.9 241.0,122.9 247.8,118.2 251.8,114.2" fill="#e6e6e6" stroke="#000" stroke-width="1.5" stroke-linejoin="round"/>
<polygon points="290.1,-13.7 290.1,1.7 291.1,6.4 289.4,11.1 288.4,15.8 290.7,21.2 294.4,21.9 295.8,24.5 295.1,28.6 296.8,33.3 294.4,37.3 295.8,39.3 299.5,40.7 301.5,45.4 300.8,48.7 304.8,50.7 308.9,52.8 308.2,56.8 306.2,58.8 306.5,62.2 309.6,63.5 310.2,67.5 308.5,70.9 308.9,72.6 312.9,68.9 317.6,66.9 321.6,68.9 325.0,71.9 328.4,71.6 332.4,68.9 337.1,70.9 341.8,68.2 346.5,65.9 350.5,62.2 353.9,58.8 355.9,55.4 356.6,52.1 354.5,48.1 352.9,43.4 351.2,40.0 347.8,37.3 344.5,34.6 345.5,29.9 344.5,25.2 340.4,22.5 335.7,21.9 331.0,22.5 328.4,22.9 328.0,19.2 328.4,13.1 331.0,11.8 333.7,13.1 337.8,11.5 342.5,10.4 347.2,10.1 351.2,11.5 353.9,15.1 356.6,17.5 359.2,19.8 363.3,20.5 365.3,16.2 362.3,14.1 359.9,17.2 357.2,15.8 356.6,11.8 357.2,6.4 359.2,2.4 359.9,-13.7" fill="#e6e6e6" stroke="#000" stroke-width="1.5" stroke-linejoin="round"/>
<polyline points="-1.3,33.3 1.3,34.0 4.0,37.3 8.7,40.0 12.1,45.4 14.8,50.7 17.5,55.4 20.1,60.1 21.5,64.2 26.2,60.8 30.2,64.2 36.3,68.2 40.3,66.9 43.7,68.9" fill="none" stroke="#000" stroke-width="2.3" stroke-linejoin="round"/>
<polygon points="274.6,143.7 276.6,139.0 281.3,139.7 284.0,143.1 289.4,145.1 286.7,148.4 281.3,145.7 276.0,147.1" fill="#e6e6e6" stroke="#000" stroke-width="1.3"/>
<path d="M43.0,29.9 48.4,33.3 53.1,35.3M40.3,47.4 44.3,48.1 47.0,46.0M41.6,54.8 45.7,54.1M56.4,26.6 60.4,30.6 63.1,34.6 64.5,37.0M8.7,93.1 10.1,87.7M14.8,92.7 16.8,83.6M42.3,76.3 47.0,73.2M137.0,7.8 139.7,11.8 137.7,15.1M142.4,9.8 145.1,7.8 146.4,9.8 143.7,12.1 142.4,9.8M167.6,430.8 172.1,428.6 177.7,429.3 183.4,427.5 180.0,431.5 185.6,433.1 187.9,436.5M112.5,363.3 121.5,369.0 129.4,373.5 126.0,376.2 132.7,377.5M140.6,387.0 145.1,385.2 150.3,388.8 148.5,394.2 143.5,394.2 140.6,387.0M167.6,407.7 171.0,403.8 177.7,405.0 182.7,408.3 180.0,412.2 175.0,413.5 174.4,407.2M205.9,460.8 210.4,459.0 211.5,463.9 207.0,464.8 205.9,460.8M225.0,488.2 228.4,491.6 229.9,486.0M247.5,571.5 251.5,570.3 252.4,574.2 248.6,575.1 247.5,571.5M253.1,594.0 259.2,594.0 260.1,605.2 254.2,605.7 253.1,594.0M255.4,618.7 258.7,623.7 256.0,627.7 261.0,629.9 258.3,635.6 262.1,640.1 258.7,645.2 262.8,649.1M253.8,621.4 256.9,626.8 253.8,631.7 258.7,634.4 255.4,641.2 259.9,646.8M-1.1,600.7 3.4,605.2 4.9,609.7 1.8,613.1 -1.1,615.3M4.5,621.4 11.2,619.8 18.0,617.6M-1.1,647.9 3.4,651.3 6.3,658.1 6.7,664.8 2.2,667.7M88.9,345.3 92.2,343.8 92.7,346.5 89.5,347.6 88.9,345.3M192.4,420.3 195.3,418.9 199.1,421.2 198.4,425.7 195.3,423.0M241.9,465.7 244.1,466.8M243.4,469.1 247.5,470.2 246.4,468.4M253.1,112.8 257.2,108.8 260.5,110.8 257.8,112.8 259.8,115.5M357.2,90.0 360.6,88.7 363.3,92.7 361.9,96.7 359.5,94.0M378.0,122.9 383.4,121.6 382.1,126.9M349.2,186.7 352.5,182.0 356.6,189.4 351.9,189.4 349.2,186.7M312.9,219.6 316.3,217.6 318.9,220.0 316.0,222.3 312.9,219.6M289.4,231.0 292.8,229.7 293.4,233.0M355.2,161.2 359.2,159.2M341.8,201.5 346.5,196.1M300.1,92.7 302.2,96.0M311.6,96.7 314.9,98.1M329.7,13.1 332.4,7.8 335.7,5.1 338.4,3.1M331.0,11.1 335.1,8.4 337.8,5.7M332.4,13.1 336.4,9.8 339.1,7.1 340.4,3.7M327.0,11.1 329.7,9.8 331.7,5.7M297.5,34.6 300.8,33.3 302.5,34.3 300.1,35.6 297.5,34.6M293.8,21.9 295.1,20.5 296.1,22.9M306.9,52.8 309.6,50.1 310.6,53.4 313.6,54.8 316.3,55.1 315.6,58.8 317.6,60.8 314.3,61.2 312.9,58.8 310.9,58.1 308.9,59.5M304.2,58.8 306.9,58.1M339.1,29.3 341.1,31.3 339.8,33.3 342.5,34.6 340.4,37.3 343.8,37.3 345.8,40.0 347.8,42.7 350.5,43.4M338.4,36.0 341.8,39.3M346.5,34.6 348.5,34.3M360.9,46.7 361.6,45.4M357.9,64.8 360.6,62.2 360.9,60.5M337.1,16.8 338.4,17.5M333.4,19.5 334.4,19.8" fill="none" stroke="#000" stroke-width="1.3" stroke-linejoin="round" stroke-linecap="round"/>
<path d="M81.0,14.6 81.6,13.6 82.5,12.6 84.6,12.3 84.8,14.0 84.9,15.4 83.4,16.5 81.4,16.0ZM76.7,10.2 75.2,12.1 73.3,10.6 73.9,9.2 75.6,8.8ZM46.7,12.9 47.3,11.6 49.2,11.4 51.1,12.3 51.2,14.1 49.2,14.7 47.4,15.6 45.7,14.4ZM77.2,15.3 79.8,14.4 81.1,13.8 84.0,13.3 83.7,15.6 83.6,17.8 80.9,17.4 78.3,17.4ZM67.7,29.7 67.1,27.6 68.8,26.2 70.4,27.4 71.9,28.5 69.9,29.0ZM67.9,14.6 69.3,14.1 70.3,15.1 71.1,16.0 71.6,18.5 68.6,18.2 66.9,17.1 66.6,15.5ZM83.7,19.3 83.0,15.3 87.7,13.6 89.9,16.8 87.6,18.5ZM85.8,10.9 85.7,12.8 85.8,14.6 83.6,15.4 81.7,14.5 80.9,13.0 81.2,11.1 83.4,10.1ZM74.9,19.2 76.1,19.4 76.5,19.9 76.6,20.8 75.3,21.3 74.1,20.3ZM59.3,15.7 58.4,14.6 58.9,12.6 61.3,13.4 62.4,14.8 61.7,17.1ZM67.7,17.5 65.6,16.0 68.0,14.9 69.7,15.5 70.4,17.5ZM56.4,18.6 56.7,17.7 57.9,17.0 59.3,17.8 58.7,19.0 57.3,19.5ZM67.6,21.1 68.7,20.7 68.9,21.7 68.9,22.2 68.3,22.4 67.7,22.3 67.5,21.8ZM91.2,16.4 89.8,17.1 88.7,16.2 89.1,15.2 89.5,13.9 90.9,14.5 92.1,15.4ZM86.4,30.3 86.4,28.4 88.4,26.8 90.2,28.8 88.6,30.3ZM61.7,20.7 62.2,21.4 61.8,22.2 60.5,23.4 59.0,22.3 59.4,21.0 60.1,20.3 61.2,19.5ZM86.6,31.8 87.2,32.9 87.4,33.5 87.1,34.1 86.2,34.4 84.8,34.4 84.9,33.3 85.4,32.4ZM70.1,16.3 68.7,14.4 69.8,12.3 72.8,13.0 71.8,14.8ZM71.5,11.1 72.2,9.7 73.1,9.4 73.7,10.0 73.5,11.0ZM92.4,8.8 91.6,10.5 89.1,10.8 89.2,8.9 90.6,6.7ZM53.0,8.9 51.4,10.3 51.1,8.4 51.6,7.4 54.1,7.1ZM67.9,11.7 66.1,11.4 64.6,10.4 65.7,9.0 67.5,9.2 68.8,10.3ZM72.3,26.5 73.2,26.5 75.5,27.0 73.7,28.1 72.0,28.6 71.1,27.3ZM63.4,10.0 62.0,11.6 58.8,11.6 58.5,9.1 58.9,7.0 61.4,6.0 63.2,7.5 64.9,8.7ZM62.9,14.8 61.5,14.7 60.4,14.9 60.3,13.9 60.9,13.4 62.1,12.6 62.1,13.9ZM58.6,11.0 56.9,10.4 57.7,9.1 60.0,8.3 59.9,10.3ZM85.2,10.7 83.2,10.6 80.1,9.0 83.3,7.4 86.5,6.8 88.5,9.5ZM75.7,9.0 77.1,10.5 76.1,12.0 74.1,11.6 73.3,9.8ZM95.7,13.5 93.7,13.9 91.7,14.1 91.4,12.4 93.0,11.6 94.6,12.0ZM57.2,20.4 57.3,18.7 59.1,18.6 61.4,19.4 59.5,21.1ZM72.8,8.3 74.0,6.6 75.1,8.3 75.5,9.8 73.7,9.9 72.8,9.3ZM71.7,11.4 71.1,12.5 70.5,13.2 69.1,13.7 67.4,13.0 67.8,11.5 69.2,11.0 70.5,10.6ZM83.0,26.0 81.9,28.0 78.0,27.9 79.2,25.0 80.3,22.4 84.5,23.1ZM84.0,16.0 86.2,14.7 89.0,15.0 89.7,17.1 88.4,18.4 87.3,19.1 85.9,18.8 84.2,18.0ZM80.0,10.4 80.0,8.2 80.7,5.9 83.6,6.6 84.1,8.2 84.2,9.5 82.7,9.8ZM77.4,10.7 78.8,6.5 83.2,7.6 85.6,10.4 81.7,11.8ZM55.6,16.1 56.1,16.9 55.1,17.3 54.3,16.9 53.6,16.5 53.8,15.8 54.3,14.9 55.1,15.8ZM56.4,18.9 56.9,19.5 56.5,20.4 55.4,20.1 54.6,19.5 55.5,18.8ZM76.4,28.8 78.2,26.4 81.7,27.4 82.0,30.1 79.7,31.4 77.5,30.6ZM81.7,34.1 82.5,33.4 83.6,33.8 84.3,34.6 83.2,35.0 82.5,35.6 81.5,35.0ZM64.3,20.4 61.5,20.3 59.4,20.2 57.2,18.6 58.9,16.7 61.1,15.6 63.6,16.3 64.7,18.2ZM74.4,19.4 77.3,19.3 77.4,21.5 77.4,23.6 74.7,24.6 72.3,23.0 71.0,20.3ZM58.8,24.8 61.5,21.9 65.6,22.8 65.8,26.2 62.0,26.9ZM78.8,22.4 80.7,24.7 78.9,27.0 76.2,27.1 74.5,25.9 73.1,23.9 75.3,21.7ZM74.0,13.4 72.0,13.1 71.1,12.1 69.5,10.7 71.8,10.2 73.0,10.1 75.0,10.3 74.4,11.8ZM79.6,11.2 80.4,10.9 81.8,10.7 81.4,11.8 80.7,12.2 79.6,13.0 79.0,11.9ZM63.3,24.1 60.4,22.3 62.4,19.9 65.0,19.8 67.6,20.9 66.0,22.9ZM65.5,19.7 67.0,19.6 67.1,20.7 67.0,22.0 65.3,22.5 63.7,21.5 64.4,20.2ZM59.7,13.9 60.1,15.0 59.2,16.1 58.1,15.2 56.8,14.3 58.3,13.7ZM89.1,21.3 87.5,20.8 87.6,19.6 88.2,18.9 88.9,18.2 90.2,18.5 90.1,19.5 89.9,20.2ZM87.9,14.3 88.0,13.3 87.5,12.6 88.6,12.6 89.4,12.5 90.0,13.0 89.7,13.7 88.9,13.9ZM67.9,24.7 66.5,23.8 66.9,22.2 68.8,22.8 70.4,22.5 70.8,23.9 69.2,24.4ZM67.2,26.2 64.2,26.2 61.7,25.2 63.4,23.2 63.5,21.6 65.9,20.2 67.7,22.1 68.2,24.0ZM60.1,8.7 60.3,9.7 60.2,11.9 58.3,10.3 57.0,9.6 57.8,8.5 59.1,8.2ZM79.5,28.2 77.7,26.2 79.9,24.4 82.2,24.7 83.3,25.6 86.2,26.8 84.0,28.4 81.8,28.4ZM77.4,21.8 77.3,24.0 74.5,25.0 73.1,22.8 74.6,20.4ZM50.3,17.5 48.8,15.0 48.3,12.4 52.3,12.5 53.4,15.5ZM47.8,9.7 47.9,8.4 49.5,8.2 50.6,8.8 52.8,9.7 52.3,11.9 49.5,12.6 46.6,11.9ZM117.0,9.3 118.6,8.3 120.2,9.7 119.4,11.8 115.9,11.6ZM111.3,9.9 110.9,8.4 112.4,8.0 113.9,8.6 112.7,9.4ZM106.3,8.8 104.7,9.6 103.7,8.2 104.7,7.4 106.0,6.5 107.1,7.7ZM110.2,15.2 111.6,14.3 112.8,13.1 114.7,13.7 114.7,15.2 114.3,16.4 112.8,17.5 111.1,16.6ZM114.8,6.7 115.5,8.2 113.9,9.0 112.5,8.5 111.4,7.3 112.9,6.1ZM114.8,15.8 113.4,15.4 112.5,13.7 114.5,12.9 115.9,13.7 118.1,13.8 117.9,15.5 116.6,16.9ZM107.9,6.5 109.8,7.4 109.9,10.2 105.5,10.3 106.5,7.5ZM104.1,12.0 102.0,11.7 100.3,11.3 101.9,10.5 103.0,10.5ZM121.4,6.6 120.2,5.3 122.2,5.5 122.8,6.1 122.5,7.1ZM115.8,20.4 115.9,19.6 117.0,19.2 117.4,20.1 117.7,20.7 117.2,21.3 116.0,21.3ZM119.5,2.7 121.7,1.2 123.9,1.7 126.1,3.3 123.5,4.5 121.5,4.2ZM119.5,9.2 118.2,9.6 116.5,9.2 116.7,7.7 118.4,7.0 119.1,8.2ZM112.3,10.1 110.6,9.5 111.3,8.2 111.9,7.6 113.3,7.1 113.6,8.3 114.3,9.8ZM107.6,5.2 106.8,6.1 105.8,5.2 105.9,4.1 107.2,3.8 108.6,4.3ZM117.9,7.3 119.7,6.6 120.8,5.6 122.6,6.1 122.3,7.6 121.6,8.4 120.4,10.1 119.0,8.6ZM113.2,22.4 115.2,23.5 117.3,24.3 115.8,25.8 114.2,25.8 113.0,25.4 111.6,24.0ZM112.4,25.4 109.7,24.2 112.3,23.0 114.9,22.5 114.1,24.5ZM114.7,12.5 114.5,11.7 115.2,11.1 116.8,10.0 117.8,11.5 117.8,13.3 115.6,13.7ZM113.5,12.6 112.2,11.8 111.1,10.3 112.9,9.2 115.2,9.2 116.3,10.8 114.8,11.9ZM106.1,12.8 107.2,13.6 108.6,13.7 108.3,14.8 107.1,14.9 106.3,15.0 105.2,14.7 104.9,13.5ZM122.3,5.9 119.8,5.4 119.3,3.6 119.6,1.9 121.7,1.9 123.7,1.5 126.0,2.9 124.7,5.1ZM104.0,16.0 101.9,17.4 101.5,15.3 100.6,13.4 103.1,13.3 105.4,13.3 106.1,15.3ZM114.2,18.9 115.5,19.9 114.6,21.3 112.8,21.6 110.7,21.5 109.3,19.7 110.9,18.0 113.0,17.8ZM108.6,17.2 107.3,17.9 106.8,18.8 105.3,18.8 104.1,17.7 104.9,16.4 106.2,15.6 107.2,16.8ZM123.3,7.7 121.3,5.6 121.9,3.6 124.3,2.6 125.1,4.5 126.2,6.3ZM115.1,14.6 114.1,15.5 112.7,16.3 111.9,15.0 112.3,13.8 113.6,14.2Z" fill="#e6e6e6" stroke="#000" stroke-width="1.5" stroke-linejoin="round"/>
<path d="M134.9,80.5l1.2,-0.9 1.2,0.9 -1.2,0.9ZM250.3,18.0l1.2,-0.9 1.2,0.9 -1.2,0.9ZM263.2,234.4l1.2,-0.9 1.2,0.9 -1.2,0.9ZM103.4,658.1l1.2,-0.9 1.2,0.9 -1.2,0.9ZM313.8,219.4l1.2,-0.9 1.2,0.9 -1.2,0.9ZM43.8,74.2l1.2,-0.9 1.2,0.9 -1.2,0.9ZM114.3,31.9l1.2,-0.9 1.2,0.9 -1.2,0.9Z" fill="#000" stroke="#000" stroke-width="0.8"/>
<rect x="324" y="244.3" width="235.6" height="247" fill="none" stroke="#000" stroke-width="5.2"/>
<path d="M0.0,0v7M0.0,667.8v-7" stroke="#000" stroke-width="2"/>
<path d="M157.2,0v7M157.2,667.8v-7" stroke="#000" stroke-width="2"/>
<path d="M314.4,0v7M314.4,667.8v-7" stroke="#000" stroke-width="2"/>
<path d="M471.6,0v7M471.6,667.8v-7" stroke="#000" stroke-width="2"/>
<path d="M628.8,0v7M628.8,667.8v-7" stroke="#000" stroke-width="2"/>
<path d="M0,584.2h7M638.6,584.2h-7" stroke="#000" stroke-width="2"/>
<path d="M0,418.3h7M638.6,418.3h-7" stroke="#000" stroke-width="2"/>
<path d="M0,253.9h7M638.6,253.9h-7" stroke="#000" stroke-width="2"/>
<path d="M0,91.0h7M638.6,91.0h-7" stroke="#000" stroke-width="2"/>
</g>
<rect x="903.0" y="50.3" width="638.6" height="667.8" fill="none" stroke="#000" stroke-width="2.6"/>
<text transform="translate(928.6,689.9) scale(0.9,1)" font-family="Noto Sans CJK SC, Liberation Sans, sans-serif" font-weight="bold" font-size="55" fill="#000">B</text>
<text x="912.2" y="38.5" font-family="Liberation Sans, Arial, sans-serif" font-weight="bold" font-size="43" fill="#000">Relative Duration</text>
<rect x="1563.3" y="651.32" width="41.2" height="67.28" fill="#ffffff"/>
<rect x="1563.3" y="584.54" width="41.2" height="67.28" fill="#fff4d4"/>
<rect x="1563.3" y="517.76" width="41.2" height="67.28" fill="#ffe270"/>
<rect x="1563.3" y="450.98" width="41.2" height="67.28" fill="#ffcb33"/>
<rect x="1563.3" y="384.20" width="41.2" height="67.28" fill="#ffab33"/>
<rect x="1563.3" y="317.42" width="41.2" height="67.28" fill="#ff9933"/>
<rect x="1563.3" y="250.64" width="41.2" height="67.28" fill="#ff7033"/>
<rect x="1563.3" y="183.86" width="41.2" height="67.28" fill="#ff5900"/>
<rect x="1563.3" y="117.08" width="41.2" height="67.28" fill="#e82a22"/>
<rect x="1563.3" y="50.30" width="41.2" height="67.28" fill="#c92116"/>
<line x1="1599.5" y1="651.32" x2="1604.5" y2="651.32" stroke="#000" stroke-width="1.2"/>
<line x1="1599.5" y1="584.54" x2="1604.5" y2="584.54" stroke="#000" stroke-width="1.2"/>
<line x1="1599.5" y1="517.76" x2="1604.5" y2="517.76" stroke="#000" stroke-width="1.2"/>
<line x1="1599.5" y1="450.98" x2="1604.5" y2="450.98" stroke="#000" stroke-width="1.2"/>
<line x1="1599.5" y1="384.20" x2="1604.5" y2="384.20" stroke="#000" stroke-width="1.2"/>
<line x1="1599.5" y1="317.42" x2="1604.5" y2="317.42" stroke="#000" stroke-width="1.2"/>
<line x1="1599.5" y1="250.64" x2="1604.5" y2="250.64" stroke="#000" stroke-width="1.2"/>
<line x1="1599.5" y1="183.86" x2="1604.5" y2="183.86" stroke="#000" stroke-width="1.2"/>
<line x1="1599.5" y1="117.08" x2="1604.5" y2="117.08" stroke="#000" stroke-width="1.2"/>
<rect x="1563.3" y="50.3" width="41.2" height="667.8" fill="none" stroke="#222" stroke-width="1.2"/>
<text transform="translate(1604.6,729.2) scale(0.975,1)" font-family="Liberation Serif, Times New Roman, serif" font-weight="bold" font-size="47.3" fill="#000">0</text>
<text transform="translate(1607.6,600.1) scale(0.975,1)" font-family="Liberation Serif, Times New Roman, serif" font-weight="bold" font-size="47.3" fill="#000">0.3</text>
<text transform="translate(1607.6,466.6) scale(0.975,1)" font-family="Liberation Serif, Times New Roman, serif" font-weight="bold" font-size="47.3" fill="#000">0.6</text>
<text transform="translate(1607.6,333.0) scale(0.975,1)" font-family="Liberation Serif, Times New Roman, serif" font-weight="bold" font-size="47.3" fill="#000">0.9</text>
<text transform="translate(1607.6,199.5) scale(0.975,1)" font-family="Liberation Serif, Times New Roman, serif" font-weight="bold" font-size="47.3" fill="#000">1.2</text>
<text transform="translate(1607.6,72.4) scale(0.975,1)" font-family="Liberation Serif, Times New Roman, serif" font-weight="bold" font-size="47.3" fill="#000">1.5</text>
<clipPath id="cpC"><rect x="0" y="0" width="638.6" height="667.8"/></clipPath>
<g transform="translate(1709.0,50.3)" clip-path="url(#cpC)">
<clipPath id="cqCTL"><rect x="10.200000000000001" y="-0.6" width="310.4" height="336.2"/></clipPath>
<g clip-path="url(#cqCTL)">
<rect x="10.8" y="0" width="309.2" height="335" fill="#ffab33"/>
<polygon points="189.0,-2.2 186.7,21.4 173.2,40.5 174.4,58.5 157.5,76.5 155.2,90.0 153.0,105.7 126.0,114.7 99.0,112.5 85.5,106.9 67.5,108.0 59.6,121.5 64.1,139.5 58.5,157.5 59.6,171.0 55.1,186.7 59.6,202.5 65.2,220.5 78.7,227.2 87.7,240.7 96.7,254.2 103.5,274.5 105.7,283.5 94.5,292.5 87.7,306.0 85.5,337.5 -2.2,337.5 -2.2,-2.2" fill="#ffcb33"/>
<polygon points="10.1,117.0 58.5,69.7 68.2,58.9 68.2,41.2 74.2,41.2 74.2,56.2 90.0,58.9 109.1,58.9 147.4,21.4 147.4,13.5 157.5,16.9 162.0,22.5 144.0,29.2 142.9,39.4 121.5,50.6 108.0,60.7 85.5,67.5 76.5,78.7 56.2,90.0 42.7,99.0 33.7,114.7 31.5,122.6 18.0,130.5 10.1,133.9" fill="#ffe270"/>
<polygon points="147.4,-2.2 189.0,-2.2 186.7,20.2 162.0,22.5 157.5,16.9 147.4,13.5" fill="#ffe270"/>
<polygon points="10.1,117.0 58.5,69.7 57.4,81.0 42.7,90.0 22.5,105.7" fill="#fff4d4"/>
<polygon points="10.1,146.2 22.5,147.4 31.5,162.0 39.4,180.0 42.7,193.5 45.0,203.6 10.1,203.6" fill="#ffe270"/>
<polygon points="10.1,171.0 19.1,182.2 10.1,191.2" fill="#fff4d4"/>
<polygon points="48.4,203.6 52.9,216.0 59.6,227.2 67.5,236.2 74.2,246.4 67.5,254.2 48.4,265.5" fill="#ffe270"/>
<polygon points="225.0,-2.2 267.7,-2.2 267.7,51.7 254.2,54.0 258.7,42.7 247.5,36.0 229.5,38.2 227.2,24.7 229.5,15.7" fill="#ffcb33"/>
<polygon points="245.2,-2.2 267.7,-2.2 267.7,13.5 247.5,11.2" fill="#ffe270"/>
<polygon points="196.9,48.4 202.5,36.0 216.0,29.2 219.4,37.1 217.1,45.0 207.0,54.0" fill="#ffcb33"/>
<polygon points="202.5,101.2 207.0,74.2 216.0,56.2 229.5,48.4 238.5,60.7 236.2,69.7 241.9,83.2 238.5,92.2 243.0,101.2 227.2,118.1 216.0,112.5 200.2,108.0" fill="#ffcb33"/>
<polygon points="162.0,182.2 167.6,176.6 172.1,178.9 167.6,187.9" fill="#ffcb33"/>
<polygon points="175.5,213.7 180.0,202.5 187.9,198.0 187.9,213.7" fill="#ffcb33"/>
<polygon points="190.1,223.9 207.0,222.7 207.0,238.5 191.2,238.5" fill="#ffcb33"/>
<polygon points="213.7,284.6 244.1,289.1 249.7,279.0 256.5,265.5 258.7,247.5 266.6,247.5 266.6,262.1 258.7,270.0 249.7,285.7 243.0,292.5 236.2,301.5 225.0,324.0 221.6,310.5 222.7,290.2" fill="#ffcb33"/>
<polygon points="285.7,262.1 319.9,227.2 326.2,227.2 326.2,337.5 263.2,337.5 262.1,328.5 279.0,310.5 292.5,290.2 299.2,270.0 290.2,263.2" fill="#ffcb33"/>
<polygon points="102.4,216.0 105.7,200.2 108.0,191.2 112.5,200.2 130.5,195.7 137.2,202.5 128.2,218.2 108.0,239.6 100.1,222.7" fill="#ff9933"/>
<polygon points="157.5,249.7 168.7,240.7 171.0,263.2 162.0,267.7 144.0,285.7 135.0,295.9 144.0,276.7 157.5,265.5" fill="#ff9933"/>
<polygon points="103.5,162.0 109.1,158.6 108.0,168.7" fill="#ff9933"/>
</g>
<clipPath id="cqCTR"><rect x="319.4" y="-0.6" width="321.2" height="336.2"/></clipPath>
<g clip-path="url(#cqCTR)">
<rect x="320" y="0" width="320" height="335" fill="#ffcb33"/>
<polygon points="646.2,27.0 639.9,29.2 630.5,33.7 612.5,42.7 590.0,51.7 567.5,60.7 554.0,67.5 540.5,69.7 531.5,68.6 527.0,56.2 513.5,61.9 497.7,67.5 479.7,70.9 468.5,81.0 466.2,96.7 482.0,88.9 488.7,94.5 486.5,101.2 473.0,108.0 459.5,122.6 446.0,139.5 439.2,162.0 432.5,180.0 425.7,195.7 423.5,204.7 405.5,200.2 394.2,204.7 383.0,210.4 369.5,225.0 365.0,231.7 396.5,236.2 412.2,234.0 410.0,247.0 403.2,256.5 376.2,276.7 351.5,299.2 333.5,317.2 326.7,324.0 317.8,333.0 317.8,342.0 646.2,342.0" fill="#ffab33"/>
<polygon points="646.2,110.2 639.9,112.5 621.5,119.2 601.2,124.9 581.0,130.5 574.2,124.9 556.2,132.7 536.0,141.7 522.5,155.2 511.2,171.0 495.5,182.2 482.0,191.2 473.0,200.2 464.0,216.0 452.7,229.5 441.5,238.5 432.5,247.0 419.0,256.5 398.7,270.0 376.2,288.0 353.7,310.5 338.0,326.2 329.0,337.5 329.0,342.0 646.2,342.0" fill="#ff9933"/>
<polygon points="646.2,189.0 639.9,189.0 619.2,190.1 601.2,202.5 574.2,210.4 569.7,202.5 563.0,196.9 551.7,204.7 545.0,216.0 529.2,227.2 515.7,238.5 511.2,247.0 509.0,265.5 515.7,283.5 511.2,294.7 518.0,299.2 531.5,308.2 536.0,321.7 533.7,342.0 646.2,342.0" fill="#ff7033"/>
<polygon points="570.9,303.7 581.0,297.0 592.2,299.2 596.7,310.5 587.7,315.0 569.7,315.0" fill="#ff9933"/>
<polygon points="439.2,306.0 459.5,302.6 468.5,298.1 482.0,299.2 493.2,304.9 482.0,310.5 477.5,324.0 475.2,337.5 437.0,337.5 439.2,319.5" fill="#ff7033"/>
<polygon points="491.0,321.7 502.2,318.4 509.0,319.5 506.7,337.5 495.5,337.5" fill="#ffab33"/>
<polygon points="362.7,61.9 362.7,42.7 383.0,22.5 384.1,9.0 396.5,2.2 414.5,11.2 425.7,18.0 446.0,11.2 470.7,12.4 461.7,29.2 446.0,24.7 428.0,22.5 401.0,31.5 396.5,48.4 414.5,49.5 423.5,56.2 441.5,60.7 425.7,67.5 421.2,78.7 428.0,90.0 435.9,101.2 425.7,112.5 419.0,126.0 410.0,144.0 396.5,153.0 387.5,162.0 383.0,182.2 383.0,141.7 402.1,122.6 402.1,61.9" fill="#ffe270"/>
<polygon points="363.9,41.6 376.2,31.5 394.2,27.0 397.6,29.2 385.2,55.1 376.2,52.9 365.0,45.0" fill="#fff4d4"/>
<polygon points="375.1,41.6 386.4,36.0 383.0,46.1" fill="#ffffff"/>
<polygon points="349.2,279.0 353.7,265.5 365.0,257.6 374.0,263.2 365.0,272.2" fill="#ffe270"/>
<polygon points="441.5,122.6 455.0,110.2 458.4,121.5 442.6,129.4" fill="#ffab33"/>
</g>
<clipPath id="cqCBL"><rect x="10.200000000000001" y="334.4" width="310.4" height="336.2"/></clipPath>
<g clip-path="url(#cqCBL)">
<rect x="10.8" y="335" width="309.2" height="335" fill="#ffab33"/>
<polygon points="204.7,431.7 216.0,425.0 222.7,434.0 234.0,427.2 245.2,418.2 258.7,420.5 267.7,425.0 272.2,427.2 276.7,436.2 292.5,438.5 297.0,461.0 299.2,492.5 301.5,515.0 304.9,537.5 303.7,560.0 299.2,582.5 301.5,605.0 299.2,620.7 310.5,625.2 326.2,620.7 326.2,672.5 225.0,672.5 225.0,450.9 204.7,450.9" fill="#ffcb33"/>
<polygon points="267.7,425.0 288.0,409.2 271.1,389.0 283.5,380.0 298.1,374.4 290.2,395.7 294.7,400.2 285.7,411.5 272.2,427.2" fill="#ffcb33"/>
<polygon points="263.2,463.2 272.2,462.1 266.6,497.0 263.2,479.0" fill="#ffab33"/>
<polygon points="265.5,638.7 279.0,643.2 277.9,656.7 265.5,656.7" fill="#ffab33"/>
<polygon points="299.2,638.7 306.0,634.2 307.1,665.7 301.5,663.5" fill="#ffe270"/>
<polygon points="294.7,348.5 303.7,332.8 315.0,332.8 306.0,356.4 297.0,354.1" fill="#ffcb33"/>
<polygon points="127.1,332.8 137.2,332.8 135.0,345.1 127.1,345.1" fill="#ffcb33"/>
</g>
<clipPath id="cqCBR"><rect x="319.4" y="334.4" width="321.2" height="336.2"/></clipPath>
<g clip-path="url(#cqCBR)">
<rect x="320" y="335" width="320" height="335" fill="#ff7033"/>
<polygon points="317.8,332.8 432.5,332.8 423.5,350.7 419.0,345.1 405.5,346.2 401.0,341.7 392.0,353.0 378.5,366.5 365.0,386.7 363.9,407.0 374.0,402.5 387.5,400.2 396.5,409.2 392.0,422.7 385.2,434.0 380.7,452.0 378.5,472.2 384.1,479.0 397.6,470.0 395.4,456.5 392.0,450.9 401.0,446.4 410.0,452.0 407.7,470.0 406.6,488.0 403.2,494.7 381.9,512.7 396.5,519.5 397.6,533.0 394.2,542.0 399.9,555.5 395.4,571.2 394.2,593.7 387.5,605.0 384.1,616.2 385.2,632.0 394.2,645.5 408.9,650.0 416.7,647.7 407.7,659.0 396.5,672.5 317.8,672.5" fill="#ff9933"/>
<polygon points="317.8,492.5 322.2,503.7 326.7,548.7 324.5,560.0 329.0,584.7 335.7,600.5 338.0,627.5 342.5,656.7 340.2,672.5 317.8,672.5" fill="#ffab33"/>
<polygon points="317.8,332.8 342.5,332.8 333.5,346.2 320.0,353.0 317.8,353.0" fill="#ffab33"/>
<polygon points="425.7,425.0 422.4,409.2 430.2,389.0 448.2,368.7 459.5,356.4 473.0,346.2 484.2,332.8 536.0,332.8 539.4,345.1 554.0,344.0 558.5,357.5 558.5,395.7 547.2,409.2 540.5,418.2 536.0,412.6 520.2,419.4 507.9,421.6 506.7,407.0 500.0,399.1 488.7,395.7 484.2,383.4 487.6,377.7 485.4,367.6 480.9,367.6 478.6,386.7 466.2,402.5 452.7,416.0 441.5,425.0" fill="#ff9933"/>
<polygon points="449.4,372.1 455.0,362.0 470.7,350.7 477.5,353.0 473.0,366.5 464.0,376.6 452.7,378.9" fill="#ffab33"/>
<polygon points="484.2,348.5 491.0,332.8 506.7,332.8 504.5,348.5 497.7,353.0 487.6,354.1" fill="#ffab33"/>
<polygon points="509.0,368.7 518.0,356.4 533.7,354.1 547.2,358.6 548.4,366.5 540.5,377.7 522.5,384.5 511.2,377.7" fill="#ffab33"/>
<polygon points="458.4,366.5 468.5,358.6 466.2,365.4 460.6,369.9" fill="#ffcb33"/>
<polygon points="519.1,366.5 529.2,363.1 527.0,368.7" fill="#ffcb33"/>
<polygon points="438.1,407.0 444.9,402.5 447.1,407.0 440.4,412.6" fill="#ffab33"/>
<polygon points="560.7,351.9 583.2,341.7 590.0,332.8 646.2,332.8 646.2,488.0 619.2,489.1 601.2,490.2 599.0,485.7 590.0,479.0 586.6,470.0 587.7,443.0 581.0,444.1 569.7,440.7 567.5,431.7 572.0,420.5 576.5,409.2 578.7,407.0 590.0,389.0 603.5,363.8 560.7,377.7" fill="#ff9933"/>
<polygon points="612.5,443.0 619.2,429.5 630.5,422.7 646.2,420.5 646.2,479.0 621.5,474.5 614.7,461.0" fill="#ffab33"/>
<polygon points="624.9,447.5 628.2,434.0 646.2,425.0 646.2,467.7 628.2,463.2" fill="#ffcb33"/>
<polygon points="518.0,617.4 521.4,607.2 522.5,612.9 542.7,612.9 547.2,616.2 540.5,627.5 537.1,618.5" fill="#ff9933"/>
<polygon points="558.5,636.5 578.7,627.5 587.7,632.0 586.6,643.2 581.0,659.0 558.5,659.0 557.4,650.0" fill="#ff9933"/>
<polygon points="475.2,641.0 482.0,629.7 485.4,654.5 500.0,654.5 502.2,657.9 482.0,660.1 477.5,672.5 470.7,672.5" fill="#ff9933"/>
<polygon points="596.7,665.7 608.0,663.5 610.2,672.5 596.7,672.5" fill="#ff9933"/>
</g>
<path d="M9.7,-0.2 9.7,-0.2 9.7,-0.2 9.6,-0.2 9.6,-0.2 9.6,-0.1 9.6,-0.1 9.6,-0.1 9.5,-0.1 9.5,-0.0 9.5,-0.0 9.5,0.0 9.5,0.0 9.5,0.1 9.5,20.3 9.5,40.5 9.5,60.7 9.5,80.9 9.5,101.2 9.5,121.5 9.5,121.5 9.5,121.5 9.5,121.6 9.5,121.6 9.5,121.6 9.6,121.6 9.6,121.7 9.6,121.7 9.6,121.7 9.6,121.7 9.7,121.7 9.7,121.8 9.7,121.8 9.7,121.8 9.8,121.8 9.8,121.8 9.8,121.8 9.9,121.8 9.9,121.8 9.9,121.8 9.9,121.7 10.0,121.7 10.0,121.7 10.0,121.7 29.7,101.4 49.3,81.1 69.0,60.9 69.0,60.9 69.0,60.9 69.0,60.9 69.0,60.9 69.0,60.8 69.0,60.8 69.0,60.8 69.0,60.8 69.0,60.8 69.0,60.8 69.0,60.8 69.0,60.8 69.0,60.8 69.0,60.8 69.0,60.8 69.0,60.8 69.0,60.8 69.0,60.8 69.0,60.8 69.0,60.8 69.0,60.7 69.0,60.7 69.0,60.7 69.0,60.7 69.0,60.7 69.0,60.7 69.0,60.7 69.0,60.7 69.0,60.7 69.0,60.7 69.0,40.8 88.1,40.8 88.1,60.7 88.1,60.7 88.1,60.7 88.1,60.7 88.1,60.7 88.1,60.7 88.1,60.7 88.1,60.7 88.1,60.7 88.1,60.7 88.1,60.7 88.1,60.7 88.1,60.8 88.1,60.8 88.1,60.8 88.1,60.8 88.1,60.8 88.1,60.8 88.1,60.8 88.1,60.8 88.1,60.8 88.1,60.8 88.1,60.8 88.1,60.8 88.2,60.8 88.2,60.8 88.2,60.8 88.2,60.9 88.2,60.9 88.2,60.9 88.2,60.9 88.2,60.9 88.2,60.9 88.2,60.9 88.2,60.9 88.2,60.9 88.2,60.9 88.2,60.9 88.2,60.9 88.2,60.9 88.3,60.9 88.3,60.9 88.3,60.9 88.3,60.9 88.3,61.0 88.3,61.0 88.3,61.0 88.3,61.0 88.3,61.0 88.3,61.0 88.3,61.0 88.3,61.0 88.3,61.0 88.3,61.0 88.3,61.0 88.4,61.0 88.4,61.0 88.4,61.0 88.4,61.0 88.4,61.0 88.4,61.0 108.0,61.0 108.1,61.0 108.1,61.0 108.1,61.0 108.1,61.0 108.1,61.0 108.1,61.0 108.1,61.0 108.1,61.0 108.1,61.0 108.1,61.0 108.1,61.0 108.1,61.0 108.1,61.0 108.1,61.0 108.2,61.0 108.2,61.0 108.2,60.9 108.2,60.9 108.2,60.9 108.2,60.9 108.2,60.9 108.2,60.9 108.2,60.9 108.2,60.9 108.2,60.9 108.2,60.9 108.2,60.9 108.2,60.9 108.2,60.9 108.2,60.9 108.3,60.9 108.3,60.9 108.3,60.9 108.3,60.9 127.9,40.7 147.6,20.5 147.6,20.5 147.6,20.4 147.6,20.4 147.6,20.4 147.6,20.4 147.6,20.4 147.6,20.4 147.6,20.4 147.6,20.4 147.6,20.4 147.6,20.4 147.6,20.4 147.6,20.4 147.6,20.4 147.6,20.4 147.6,20.4 147.6,20.4 147.6,20.3 147.6,20.3 147.6,20.3 147.6,20.3 147.6,20.3 147.6,20.3 147.6,20.3 147.6,20.3 147.6,20.3 147.6,20.3 147.6,20.3 147.6,20.3 147.7,20.3 147.7,0.1 147.6,0.1 147.6,0.1 147.6,0.1 147.6,0.0 147.6,0.0 147.6,0.0 147.6,0.0 147.6,0.0 147.6,0.0 147.6,0.0 147.6,0.0 147.6,-0.0 147.6,-0.0 147.6,-0.0 147.6,-0.0 147.6,-0.0 147.6,-0.0 147.6,-0.0 147.6,-0.1 147.6,-0.1 147.6,-0.1 147.6,-0.1 147.6,-0.1 147.6,-0.1 147.6,-0.1 147.6,-0.1 147.6,-0.1 147.6,-0.1 147.6,-0.1 147.6,-0.1 147.6,-0.1 147.5,-0.2 147.5,-0.2 147.5,-0.2 147.5,-0.2 147.5,-0.2 147.5,-0.2 147.5,-0.2 147.5,-0.2 147.5,-0.2 147.5,-0.2 147.5,-0.2 147.5,-0.2 147.5,-0.2 147.5,-0.2 147.5,-0.2 147.5,-0.2 147.4,-0.2 147.4,-0.2 147.4,-0.2 147.4,-0.2 147.4,-0.2 147.4,-0.2 147.4,-0.2 147.4,-0.2 147.4,-0.2 147.4,-0.2 147.4,-0.2 147.4,-0.2 147.3,-0.2 127.7,-0.2 108.0,-0.2 88.4,-0.2 68.8,-0.2 49.1,-0.2 29.4,-0.2 9.8,-0.2 9.8,-0.2 9.7,-0.2ZM9.7,202.6 9.7,202.6 9.7,202.6 9.7,202.6 9.6,202.6 9.6,202.7 9.6,202.7 9.6,202.7 9.6,202.7 9.5,202.7 9.5,202.8 9.5,202.8 9.5,202.8 9.5,202.9 9.5,202.9 9.5,223.3 9.5,243.7 9.5,264.2 9.5,284.7 9.5,305.2 9.5,325.7 9.5,346.2 9.5,366.8 9.5,387.4 9.5,408.0 9.5,428.7 9.5,449.3 9.5,470.0 9.5,490.7 9.5,511.5 9.5,532.2 9.5,553.0 9.5,573.8 9.5,594.7 9.5,615.5 9.5,636.4 9.5,657.3 9.5,678.2 9.5,678.2 9.5,678.2 9.5,678.2 9.5,678.3 9.5,678.3 9.5,678.3 9.5,678.3 9.5,678.3 9.5,678.3 9.5,678.3 9.5,678.3 9.5,678.3 9.5,678.3 9.5,678.3 9.5,678.3 9.5,678.3 9.5,678.3 9.5,678.3 9.5,678.4 9.5,678.4 9.5,678.4 9.5,678.4 9.5,678.4 9.6,678.4 9.6,678.4 9.6,678.4 9.6,678.4 9.6,678.4 9.6,678.4 9.6,678.4 9.6,678.4 9.6,678.5 9.6,678.5 9.6,678.5 9.6,678.5 9.6,678.5 9.6,678.5 9.6,678.5 9.6,678.5 9.7,678.5 9.7,678.5 9.7,678.5 9.7,678.5 9.7,678.5 9.7,678.5 9.7,678.5 9.7,678.5 9.7,678.5 9.7,678.5 9.7,678.5 9.7,678.5 9.7,678.5 9.7,678.5 9.7,678.5 9.8,678.5 9.8,678.5 9.8,678.5 9.8,678.5 9.8,678.5 9.8,678.5 29.4,678.5 49.1,678.5 68.8,678.5 88.4,678.5 108.0,678.5 127.7,678.5 147.3,678.5 167.0,678.5 186.7,678.5 206.3,678.5 225.9,678.5 245.6,678.5 265.2,678.5 284.9,678.5 284.9,678.5 285.0,678.5 285.0,678.5 285.0,678.5 285.0,678.5 285.1,678.5 285.1,678.5 285.1,678.4 285.1,678.4 285.1,678.4 285.2,678.4 285.2,678.3 285.2,678.3 285.2,678.3 285.2,678.3 285.2,678.2 285.2,657.3 285.2,657.3 285.2,657.3 285.2,657.3 285.2,657.3 285.2,657.3 285.2,657.3 285.2,657.3 285.2,657.2 285.2,657.2 285.2,657.2 285.2,657.2 285.2,657.2 285.2,657.2 285.2,657.2 285.2,657.2 285.2,657.2 285.2,657.2 285.2,657.2 285.2,657.2 285.2,657.2 285.2,657.2 285.2,657.2 285.2,657.1 285.1,657.1 285.1,657.1 285.1,657.1 285.1,657.1 285.1,657.1 285.1,657.1 285.1,657.1 285.1,657.1 285.1,657.1 285.1,657.1 285.1,657.1 285.1,657.1 285.1,657.1 285.1,657.1 285.1,657.1 285.1,657.0 285.0,657.0 285.0,657.0 285.0,657.0 285.0,657.0 285.0,657.0 285.0,657.0 285.0,657.0 285.0,657.0 285.0,657.0 285.0,657.0 285.0,657.0 285.0,657.0 285.0,657.0 285.0,657.0 285.0,657.0 284.9,657.0 284.9,657.0 284.9,657.0 284.9,657.0 284.9,657.0 284.9,657.0 265.6,657.0 265.6,636.4 265.6,615.6 285.1,594.9 285.1,594.9 285.1,594.9 285.1,594.9 285.1,594.9 285.1,594.8 285.1,594.8 285.2,594.8 285.2,594.8 285.2,594.8 285.2,594.8 285.2,594.8 285.2,594.8 285.2,594.8 285.2,594.8 285.2,594.8 285.2,594.8 285.2,594.8 285.2,594.8 285.2,594.8 285.2,594.7 285.2,594.7 285.2,594.7 285.2,594.7 285.2,594.7 285.2,594.7 285.2,594.7 285.2,594.7 285.2,594.7 285.2,594.7 285.2,594.7 285.2,573.8 285.2,553.0 285.2,553.0 285.2,553.0 285.2,553.0 285.2,553.0 285.2,553.0 285.2,553.0 285.2,553.0 285.2,553.0 285.2,553.0 285.2,553.0 285.2,553.0 285.2,552.9 285.2,552.9 285.2,552.9 285.2,552.9 285.2,552.9 285.2,552.9 285.2,552.9 285.2,552.9 285.2,552.9 285.2,552.9 285.2,552.9 285.2,552.9 285.1,552.9 285.1,552.9 285.1,552.9 285.1,552.8 285.1,552.8 285.1,552.8 285.1,552.8 285.1,552.8 285.1,552.8 285.1,552.8 285.1,552.8 285.1,552.8 285.1,552.8 285.1,552.8 285.1,552.8 285.1,552.8 285.0,552.8 285.0,552.8 285.0,552.8 285.0,552.8 285.0,552.8 285.0,552.8 285.0,552.8 285.0,552.7 285.0,552.7 285.0,552.7 285.0,552.7 285.0,552.7 285.0,552.7 285.0,552.7 285.0,552.7 284.9,552.7 284.9,552.7 284.9,552.7 284.9,552.7 284.9,552.7 284.9,552.7 265.6,552.7 265.6,532.2 265.6,511.5 265.5,511.5 265.5,511.5 265.5,511.5 265.5,511.5 265.5,511.5 265.5,511.4 265.5,511.4 265.5,511.4 265.5,511.4 265.5,511.4 265.5,511.4 265.5,511.4 265.5,511.4 265.5,511.4 265.5,511.4 265.5,511.4 265.5,511.4 265.5,511.4 265.5,511.4 265.5,511.3 265.5,511.3 265.5,511.3 265.5,511.3 265.5,511.3 265.5,511.3 265.5,511.3 265.5,511.3 265.5,511.3 265.5,511.3 265.5,511.3 265.5,511.3 265.4,511.3 265.4,511.3 265.4,511.3 265.4,511.2 265.4,511.2 265.4,511.2 265.4,511.2 265.4,511.2 265.4,511.2 265.4,511.2 265.4,511.2 265.4,511.2 265.4,511.2 265.4,511.2 265.4,511.2 265.3,511.2 265.3,511.2 265.3,511.2 265.3,511.2 265.3,511.2 265.3,511.2 265.3,511.2 265.3,511.2 265.3,511.2 265.3,511.2 265.3,511.2 265.3,511.2 265.3,511.2 265.2,511.2 245.9,511.2 245.9,490.7 245.9,470.0 245.9,449.3 245.9,449.3 245.9,449.3 245.9,449.3 245.9,449.3 245.9,449.3 245.9,449.3 245.9,449.3 245.9,449.3 245.9,449.3 245.9,449.3 245.9,449.3 245.9,449.3 245.9,449.3 245.9,449.3 245.9,449.2 245.9,449.2 245.9,449.2 245.9,449.2 245.9,449.2 245.9,449.2 245.9,449.2 245.9,449.2 245.9,449.2 245.8,449.2 245.8,449.2 245.8,449.2 245.8,449.2 245.8,449.1 245.8,449.1 245.8,449.1 245.8,449.1 245.8,449.1 245.8,449.1 245.8,449.1 245.8,449.1 245.8,449.1 245.8,449.1 245.8,449.1 245.8,449.1 245.7,449.1 245.7,449.1 245.7,449.1 245.7,449.1 245.7,449.1 245.7,449.1 245.7,449.1 245.7,449.1 245.7,449.1 245.7,449.1 245.7,449.1 245.7,449.1 245.7,449.0 245.7,449.0 245.7,449.0 245.6,449.0 245.6,449.0 245.6,449.0 245.6,449.0 245.6,449.0 245.6,449.0 225.9,449.0 206.6,449.0 206.6,428.7 206.6,408.0 206.6,387.4 206.6,387.4 206.6,387.4 206.6,387.4 206.6,387.4 206.6,387.4 206.6,387.4 206.6,387.4 206.6,387.4 206.6,387.3 206.6,387.3 206.6,387.3 206.6,387.3 206.6,387.3 206.6,387.3 206.6,387.3 206.6,387.3 206.6,387.3 206.6,387.3 206.6,387.3 206.6,387.3 206.6,387.3 206.6,387.3 206.6,387.3 206.5,387.2 206.5,387.2 206.5,387.2 206.5,387.2 206.5,387.2 206.5,387.2 206.5,387.2 206.5,387.2 206.5,387.2 206.5,387.2 206.5,387.2 206.5,387.2 206.5,387.2 206.5,387.2 206.5,387.2 206.5,387.2 206.4,387.1 206.4,387.1 206.4,387.1 206.4,387.1 206.4,387.1 206.4,387.1 206.4,387.1 206.4,387.1 206.4,387.1 206.4,387.1 206.4,387.1 206.4,387.1 206.4,387.1 206.4,387.1 206.4,387.1 206.3,387.1 206.3,387.1 206.3,387.1 206.3,387.1 206.3,387.1 206.3,387.1 187.0,387.1 187.0,366.8 186.9,366.8 186.9,366.8 186.9,366.8 186.9,366.8 186.9,366.8 186.9,366.8 186.9,366.8 186.9,366.8 186.9,366.8 186.9,366.8 186.9,366.7 186.9,366.7 186.9,366.7 186.9,366.7 186.9,366.7 186.9,366.7 186.9,366.7 186.9,366.7 186.9,366.7 186.9,366.7 186.9,366.7 186.9,366.7 186.9,366.7 186.9,366.6 186.9,366.6 186.9,366.6 186.9,366.6 186.9,366.6 186.9,366.6 186.9,366.6 186.9,366.6 186.8,366.6 186.8,366.6 186.8,366.6 186.8,366.6 186.8,366.6 186.8,366.6 186.8,366.6 186.8,366.6 186.8,366.5 186.8,366.5 186.8,366.5 186.8,366.5 186.8,366.5 186.8,366.5 186.8,366.5 186.8,366.5 186.7,366.5 186.7,366.5 186.7,366.5 186.7,366.5 186.7,366.5 186.7,366.5 186.7,366.5 186.7,366.5 186.7,366.5 186.7,366.5 186.7,366.5 186.7,366.5 186.7,366.5 167.0,366.5 147.7,366.5 147.7,346.2 147.6,346.2 147.6,346.2 147.6,346.2 147.6,346.2 147.6,346.2 147.6,346.2 147.6,346.2 147.6,346.2 147.6,346.2 147.6,346.2 147.6,346.2 147.6,346.2 147.6,346.2 147.6,346.1 147.6,346.1 147.6,346.1 147.6,346.1 147.6,346.1 147.6,346.1 147.6,346.1 147.6,346.1 147.6,346.1 147.6,346.1 147.6,346.1 147.6,346.1 147.6,346.1 147.6,346.1 147.6,346.0 147.6,346.0 147.6,346.0 147.6,346.0 147.5,346.0 147.5,346.0 147.5,346.0 147.5,346.0 147.5,346.0 147.5,346.0 147.5,346.0 147.5,346.0 147.5,346.0 147.5,346.0 147.5,346.0 147.5,346.0 147.5,346.0 147.5,346.0 147.5,346.0 147.5,346.0 147.4,346.0 147.4,346.0 147.4,346.0 147.4,345.9 147.4,345.9 147.4,345.9 147.4,345.9 147.4,345.9 147.4,345.9 147.4,345.9 147.4,345.9 147.4,345.9 147.3,345.9 128.0,345.9 128.0,325.7 128.0,325.7 128.0,325.7 128.0,325.7 128.0,325.7 128.0,325.7 128.0,325.7 128.0,325.6 128.0,325.6 128.0,325.6 128.0,325.6 128.0,325.6 128.0,325.6 128.0,325.6 128.0,325.6 128.0,325.6 128.0,325.6 128.0,325.6 128.0,325.6 128.0,325.6 128.0,325.5 128.0,325.5 128.0,325.5 128.0,325.5 127.9,325.5 127.9,325.5 127.9,325.5 127.9,325.5 127.9,325.5 127.9,325.5 127.9,325.5 127.9,325.5 127.9,325.5 127.9,325.5 127.9,325.5 127.9,325.5 127.9,325.4 127.9,325.4 127.9,325.4 127.9,325.4 127.8,325.4 127.8,325.4 127.8,325.4 127.8,325.4 127.8,325.4 127.8,325.4 127.8,325.4 127.8,325.4 127.8,325.4 127.8,325.4 127.8,325.4 127.8,325.4 127.8,325.4 127.8,325.4 127.8,325.4 127.7,325.4 127.7,325.4 127.7,325.4 127.7,325.4 127.7,325.4 127.7,325.4 108.3,325.4 108.3,305.2 108.3,305.2 108.3,305.2 108.3,305.1 108.3,305.1 108.3,305.1 108.3,305.1 108.3,305.1 108.3,305.1 108.3,305.1 108.3,305.1 108.3,305.1 108.3,305.1 108.3,305.1 108.3,305.1 108.3,305.1 108.3,305.0 108.3,305.0 108.3,305.0 108.3,305.0 108.3,305.0 108.3,305.0 108.3,305.0 108.3,305.0 108.3,305.0 108.3,305.0 108.3,305.0 108.3,305.0 108.3,305.0 108.3,305.0 108.3,305.0 108.3,305.0 108.2,304.9 108.2,304.9 108.2,304.9 108.2,304.9 108.2,304.9 108.2,304.9 108.2,304.9 108.2,304.9 108.2,304.9 108.2,304.9 108.2,304.9 108.2,304.9 108.2,304.9 108.2,304.9 108.2,304.9 108.2,304.9 108.1,304.9 108.1,304.9 108.1,304.9 108.1,304.9 108.1,304.9 108.1,304.9 108.1,304.9 108.1,304.9 108.1,304.9 108.1,304.9 108.1,304.9 108.1,304.9 108.0,304.9 88.7,304.9 88.7,284.7 88.7,284.7 88.7,284.7 88.7,284.6 88.7,284.6 88.7,284.6 88.7,284.6 88.7,284.6 88.7,284.6 88.7,284.6 88.7,284.6 88.7,284.6 88.7,284.6 88.7,284.6 88.7,284.6 88.7,284.6 88.7,284.5 88.7,284.5 88.7,284.5 88.7,284.5 88.7,284.5 88.7,284.5 88.7,284.5 88.7,284.5 88.6,284.5 88.6,284.5 88.6,284.5 88.6,284.5 88.6,284.5 88.6,284.5 88.6,284.5 88.6,284.4 88.6,284.4 88.6,284.4 88.6,284.4 88.6,284.4 88.6,284.4 88.6,284.4 88.6,284.4 88.6,284.4 88.5,284.4 88.5,284.4 88.5,284.4 88.5,284.4 88.5,284.4 88.5,284.4 88.5,284.4 88.5,284.4 88.5,284.4 88.5,284.4 88.5,284.4 88.5,284.4 88.5,284.4 88.5,284.4 88.5,284.4 88.4,284.4 88.4,284.4 88.4,284.4 88.4,284.4 88.4,284.4 88.4,284.4 69.0,284.4 69.0,264.2 69.0,264.2 69.0,264.2 69.0,264.2 69.0,264.2 69.0,264.1 69.0,264.1 69.0,264.1 69.0,264.1 69.0,264.1 69.0,264.1 69.0,264.1 69.0,264.1 69.0,264.1 69.0,264.1 69.0,264.1 69.0,264.1 69.0,264.1 69.0,264.1 69.0,264.0 69.0,264.0 69.0,264.0 69.0,264.0 69.0,264.0 69.0,264.0 69.0,264.0 69.0,264.0 69.0,264.0 69.0,264.0 69.0,264.0 69.0,264.0 69.0,264.0 68.9,263.9 68.9,263.9 68.9,263.9 68.9,263.9 68.9,263.9 68.9,263.9 68.9,263.9 68.9,263.9 68.9,263.9 68.9,263.9 68.9,263.9 68.9,263.9 68.9,263.9 68.9,263.9 68.9,263.9 68.9,263.9 68.8,263.9 68.8,263.9 68.8,263.9 68.8,263.9 68.8,263.9 68.8,263.9 68.8,263.9 68.8,263.9 68.8,263.9 68.8,263.9 68.8,263.9 68.8,263.9 68.8,263.9 49.4,263.9 49.4,243.7 49.4,223.3 49.4,202.9 49.4,202.9 49.4,202.9 49.4,202.9 49.4,202.9 49.4,202.9 49.4,202.8 49.4,202.8 49.4,202.8 49.4,202.8 49.4,202.8 49.4,202.8 49.4,202.8 49.4,202.8 49.4,202.8 49.4,202.8 49.4,202.8 49.4,202.8 49.4,202.8 49.4,202.8 49.4,202.7 49.4,202.7 49.4,202.7 49.4,202.7 49.3,202.7 49.3,202.7 49.3,202.7 49.3,202.7 49.3,202.7 49.3,202.7 49.3,202.7 49.3,202.7 49.3,202.6 49.3,202.6 49.3,202.6 49.3,202.6 49.3,202.6 49.3,202.6 49.3,202.6 49.3,202.6 49.2,202.6 49.2,202.6 49.2,202.6 49.2,202.6 49.2,202.6 49.2,202.6 49.2,202.6 49.2,202.6 49.2,202.6 49.2,202.6 49.2,202.6 49.2,202.6 49.2,202.6 49.2,202.6 49.2,202.6 49.1,202.6 49.1,202.6 49.1,202.6 49.1,202.6 49.1,202.6 49.1,202.6 29.4,202.6 9.8,202.6 9.8,202.6ZM206.3,121.2 206.3,121.2 206.3,121.2 206.3,121.2 206.3,121.2 206.3,121.2 206.2,121.2 206.2,121.2 206.2,121.2 206.2,121.2 206.2,121.2 206.2,121.2 206.2,121.2 206.2,121.2 206.2,121.2 206.2,121.2 206.2,121.2 206.2,121.2 206.2,121.2 206.2,121.2 206.2,121.2 206.1,121.2 206.1,121.2 206.1,121.2 206.1,121.2 206.1,121.2 206.1,121.2 206.1,121.2 206.1,121.3 206.1,121.3 206.1,121.3 206.1,121.3 206.1,121.3 186.4,141.6 186.4,141.6 186.4,141.6 186.4,141.6 186.4,141.6 186.4,141.6 186.4,141.6 186.4,141.6 186.4,141.6 186.4,141.6 186.4,141.7 186.4,141.7 186.4,141.7 186.4,141.7 186.4,141.7 186.4,141.7 186.4,141.7 186.4,141.7 186.4,141.7 186.4,141.7 186.4,141.7 186.4,141.7 186.4,141.7 186.4,141.7 186.4,141.7 186.4,141.8 186.4,141.8 186.4,141.8 186.4,141.8 186.4,141.8 186.3,141.8 186.3,162.1 186.3,182.5 186.3,202.9 186.3,223.3 186.4,223.3 186.4,223.3 186.4,223.3 186.4,223.3 186.4,223.3 186.4,223.3 186.4,223.3 186.4,223.4 186.4,223.4 186.4,223.4 186.4,223.4 186.4,223.4 186.4,223.4 186.4,223.4 186.4,223.4 186.4,223.4 186.4,223.4 186.4,223.4 186.4,223.4 186.4,223.4 186.4,223.4 186.4,223.4 186.4,223.5 186.4,223.5 186.4,223.5 186.4,223.5 186.4,223.5 186.4,223.5 186.4,223.5 186.4,223.5 186.4,223.5 186.5,223.5 186.5,223.5 186.5,223.5 186.5,223.5 186.5,223.5 186.5,223.5 186.5,223.5 186.5,223.5 186.5,223.6 186.5,223.6 186.5,223.6 186.5,223.6 186.5,223.6 186.5,223.6 186.5,223.6 186.5,223.6 186.6,223.6 186.6,223.6 186.6,223.6 186.6,223.6 186.6,223.6 186.6,223.6 186.6,223.6 186.6,223.6 186.6,223.6 186.6,223.6 186.6,223.6 186.6,223.6 186.7,223.6 206.0,223.6 206.0,243.7 206.0,243.7 206.0,243.7 206.0,243.7 206.0,243.8 206.0,243.8 206.0,243.8 206.0,243.8 206.0,243.8 206.0,243.8 206.0,243.8 206.0,243.8 206.0,243.8 206.0,243.8 206.0,243.8 206.0,243.8 206.0,243.8 206.0,243.8 206.0,243.8 206.0,243.9 206.0,243.9 206.0,243.9 206.0,243.9 206.0,243.9 206.1,243.9 206.1,243.9 206.1,243.9 206.1,243.9 206.1,243.9 206.1,243.9 206.1,243.9 206.1,243.9 206.1,244.0 206.1,244.0 206.1,244.0 206.1,244.0 206.1,244.0 206.1,244.0 206.1,244.0 206.1,244.0 206.2,244.0 206.2,244.0 206.2,244.0 206.2,244.0 206.2,244.0 206.2,244.0 206.2,244.0 206.2,244.0 206.2,244.0 206.2,244.0 206.2,244.0 206.2,244.0 206.2,244.0 206.2,244.0 206.2,244.0 206.3,244.0 206.3,244.0 206.3,244.0 206.3,244.0 206.3,244.0 206.3,244.0 225.9,244.0 245.6,244.0 264.9,244.0 264.9,264.2 265.0,264.2 265.0,264.2 265.0,264.2 265.0,264.2 265.0,264.2 265.0,264.2 265.0,264.2 265.0,264.2 265.0,264.2 265.0,264.2 265.0,264.3 265.0,264.3 265.0,264.3 265.0,264.3 265.0,264.3 265.0,264.3 265.0,264.3 265.0,264.3 265.0,264.3 265.0,264.3 265.0,264.3 265.0,264.3 265.0,264.3 265.0,264.3 265.0,264.3 265.0,264.3 265.0,264.4 265.0,264.4 265.0,264.4 265.0,264.4 265.0,264.4 265.1,264.4 265.1,264.4 265.1,264.4 265.1,264.4 265.1,264.4 265.1,264.4 265.1,264.4 265.1,264.4 265.1,264.4 265.1,264.4 265.1,264.4 265.1,264.5 265.1,264.5 265.1,264.5 265.1,264.5 265.1,264.5 265.2,264.5 265.2,264.5 265.2,264.5 265.2,264.5 265.2,264.5 265.2,264.5 265.2,264.5 265.2,264.5 265.2,264.5 265.2,264.5 265.2,264.5 265.2,264.5 265.2,264.5 284.9,264.5 284.9,264.5 284.9,264.5 284.9,264.5 284.9,264.5 284.9,264.5 284.9,264.5 284.9,264.5 285.0,264.5 285.0,264.5 285.0,264.5 285.0,264.5 285.0,264.5 285.0,264.5 285.0,264.5 285.0,264.5 285.0,264.5 285.0,264.5 285.0,264.5 285.0,264.5 285.0,264.4 285.0,264.4 285.0,264.4 285.1,264.4 285.1,264.4 285.1,264.4 285.1,264.4 285.1,264.4 285.1,264.4 285.1,264.4 285.1,264.4 285.1,264.4 285.1,264.4 285.1,264.4 285.1,264.4 304.8,243.9 324.3,223.6 343.8,223.6 343.9,223.6 343.9,223.6 343.9,223.6 343.9,223.6 343.9,223.6 343.9,223.6 343.9,223.6 343.9,223.6 343.9,223.6 343.9,223.6 343.9,223.6 343.9,223.6 343.9,223.6 343.9,223.6 344.0,223.6 344.0,223.6 344.0,223.6 344.0,223.6 344.0,223.6 344.0,223.6 344.0,223.6 344.0,223.6 344.0,223.5 344.0,223.5 344.0,223.5 344.0,223.5 344.0,223.5 344.0,223.5 344.0,223.5 344.0,223.5 344.1,223.5 344.1,223.5 344.1,223.5 344.1,223.5 363.7,203.1 383.4,182.7 383.4,182.7 383.4,182.7 383.4,182.7 383.4,182.7 383.4,182.7 383.4,182.7 383.4,182.7 383.4,182.7 383.4,182.6 383.4,182.6 383.4,182.6 383.4,182.6 383.4,182.6 383.4,182.6 383.4,182.6 383.4,182.6 383.4,182.6 383.4,182.6 383.4,182.6 383.4,182.6 383.4,182.6 383.4,182.6 383.4,182.6 383.4,182.6 383.4,182.5 383.4,182.5 383.4,182.5 383.4,182.5 383.4,182.5 383.4,182.5 383.4,162.1 383.4,141.9 403.0,121.7 403.0,121.7 403.0,121.7 403.0,121.7 403.0,121.7 403.0,121.7 403.0,121.6 403.1,121.6 403.1,121.6 403.1,121.6 403.1,121.6 403.1,121.6 403.1,121.6 403.1,121.6 403.1,121.6 403.1,121.6 403.1,121.6 403.1,121.6 403.1,121.6 403.1,121.6 403.1,121.6 403.1,121.6 403.1,121.5 403.1,121.5 403.1,121.5 403.1,121.5 403.1,121.5 403.1,121.5 403.1,121.5 403.1,121.5 403.1,121.5 403.1,101.2 403.1,80.9 403.1,60.7 403.1,60.7 403.1,60.7 403.1,60.7 403.1,60.6 403.1,60.6 403.1,60.6 403.1,60.6 403.1,60.6 403.1,60.6 403.1,60.6 403.1,60.6 403.1,60.6 403.1,60.6 403.1,60.6 403.1,60.6 403.1,60.6 403.1,60.6 403.1,60.6 403.1,60.5 403.1,60.5 403.1,60.5 403.1,60.5 403.1,60.5 403.0,60.5 403.0,60.5 403.0,60.5 403.0,60.5 403.0,60.5 403.0,60.5 403.0,60.5 403.0,60.5 403.0,60.4 403.0,60.4 403.0,60.4 403.0,60.4 403.0,60.4 403.0,60.4 403.0,60.4 403.0,60.4 402.9,60.4 402.9,60.4 402.9,60.4 402.9,60.4 402.9,60.4 402.9,60.4 402.9,60.4 402.9,60.4 402.9,60.4 402.9,60.4 402.9,60.4 402.9,60.4 402.9,60.4 402.9,60.4 402.9,60.4 402.8,60.4 402.8,60.4 402.8,60.4 402.8,60.4 402.8,60.4 402.8,60.4 383.1,60.4 363.8,60.4 363.8,40.6 383.4,20.5 383.4,20.5 383.4,20.4 383.4,20.4 383.4,20.4 383.4,20.4 383.4,20.4 383.4,20.4 383.4,20.4 383.4,20.4 383.4,20.4 383.4,20.4 383.4,20.4 383.4,20.4 383.4,20.4 383.4,20.4 383.4,20.4 383.4,20.4 383.4,20.3 383.4,20.3 383.4,20.3 383.4,20.3 383.4,20.3 383.4,20.3 383.4,20.3 383.4,20.3 383.4,20.3 383.4,20.3 383.4,20.3 383.4,20.3 383.4,20.3 383.4,0.1 383.4,0.1 383.4,0.1 383.4,0.1 383.4,0.0 383.4,0.0 383.4,0.0 383.4,0.0 383.4,0.0 383.4,0.0 383.4,0.0 383.4,0.0 383.4,-0.0 383.4,-0.0 383.4,-0.0 383.4,-0.0 383.4,-0.0 383.4,-0.0 383.4,-0.0 383.4,-0.1 383.4,-0.1 383.4,-0.1 383.4,-0.1 383.4,-0.1 383.4,-0.1 383.4,-0.1 383.4,-0.1 383.4,-0.1 383.4,-0.1 383.4,-0.1 383.4,-0.1 383.4,-0.1 383.3,-0.2 383.3,-0.2 383.3,-0.2 383.3,-0.2 383.3,-0.2 383.3,-0.2 383.3,-0.2 383.3,-0.2 383.3,-0.2 383.3,-0.2 383.3,-0.2 383.3,-0.2 383.3,-0.2 383.3,-0.2 383.3,-0.2 383.3,-0.2 383.2,-0.2 383.2,-0.2 383.2,-0.2 383.2,-0.2 383.2,-0.2 383.2,-0.2 383.2,-0.2 383.2,-0.2 383.2,-0.2 383.2,-0.2 383.2,-0.2 383.2,-0.2 383.1,-0.2 363.5,-0.2 343.8,-0.2 324.2,-0.2 304.6,-0.2 284.9,-0.2 265.2,-0.2 265.2,-0.2 265.2,-0.2 265.2,-0.2 265.1,-0.2 265.1,-0.2 265.1,-0.2 265.1,-0.2 265.0,-0.1 265.0,-0.1 265.0,-0.1 265.0,-0.1 265.0,-0.0 265.0,-0.0 265.0,0.0 265.0,0.0 264.9,0.1 264.9,20.3 264.9,40.5 264.9,60.7 265.0,60.7 265.0,60.7 265.0,60.7 265.0,60.7 265.0,60.7 265.0,60.7 265.0,60.7 265.0,60.7 265.0,60.7 265.0,60.7 265.0,60.7 265.0,60.8 265.0,60.8 265.0,60.8 265.0,60.8 265.0,60.8 265.0,60.8 265.0,60.8 265.0,60.8 265.0,60.8 265.0,60.8 265.0,60.8 265.0,60.8 265.0,60.8 265.0,60.8 265.0,60.8 265.0,60.9 265.0,60.9 265.0,60.9 265.0,60.9 265.0,60.9 265.1,60.9 265.1,60.9 265.1,60.9 265.1,60.9 265.1,60.9 265.1,60.9 265.1,60.9 265.1,60.9 265.1,60.9 265.1,60.9 265.1,60.9 265.1,60.9 265.1,61.0 265.1,61.0 265.1,61.0 265.1,61.0 265.2,61.0 265.2,61.0 265.2,61.0 265.2,61.0 265.2,61.0 265.2,61.0 265.2,61.0 265.2,61.0 265.2,61.0 265.2,61.0 265.2,61.0 265.2,61.0 265.2,61.0 284.6,61.0 284.6,80.6 265.2,80.6 265.2,80.6 265.2,80.6 265.2,80.6 265.2,80.6 265.2,80.6 265.2,80.6 265.2,80.6 265.2,80.6 265.2,80.6 265.2,80.6 265.2,80.6 265.2,80.6 265.2,80.6 265.2,80.6 265.1,80.6 265.1,80.6 265.1,80.6 265.1,80.6 265.1,80.6 265.1,80.7 265.1,80.7 265.1,80.7 265.1,80.7 265.1,80.7 265.1,80.7 265.1,80.7 265.1,80.7 265.1,80.7 265.1,80.7 265.1,80.7 265.0,80.7 265.0,80.7 265.0,80.7 265.0,80.7 245.4,101.0 245.4,101.0 245.4,101.0 225.8,121.2 206.3,121.2 206.3,121.2Z" fill="#fff" fill-rule="evenodd"/>
<line x1="157.2" y1="0" x2="157.2" y2="667.8" stroke="#000" stroke-opacity="0.09" stroke-width="1"/>
<line x1="314.4" y1="0" x2="314.4" y2="667.8" stroke="#000" stroke-opacity="0.09" stroke-width="1"/>
<line x1="471.6" y1="0" x2="471.6" y2="667.8" stroke="#000" stroke-opacity="0.09" stroke-width="1"/>
<line x1="628.8" y1="0" x2="628.8" y2="667.8" stroke="#000" stroke-opacity="0.09" stroke-width="1"/>
<line x1="0" y1="584.2" x2="638.6" y2="584.2" stroke="#000" stroke-opacity="0.09" stroke-width="1"/>
<line x1="0" y1="418.3" x2="638.6" y2="418.3" stroke="#000" stroke-opacity="0.09" stroke-width="1"/>
<line x1="0" y1="253.9" x2="638.6" y2="253.9" stroke="#000" stroke-opacity="0.09" stroke-width="1"/>
<line x1="0" y1="91.0" x2="638.6" y2="91.0" stroke="#000" stroke-opacity="0.09" stroke-width="1"/>
<polygon points="-13.4,-13.7 106.8,-13.7 106.8,1.7 106.4,9.1 102.1,10.4 97.4,11.5 92.7,15.1 87.3,15.5 83.9,19.8 79.2,21.9 75.9,24.5 70.5,26.6 65.8,28.6 60.4,29.9 59.1,31.9 62.5,34.0 58.4,35.3 53.1,37.3 49.7,40.7 47.0,43.4 46.3,48.1 47.0,53.4 46.3,58.8 45.7,64.2 43.7,68.9 40.3,71.6 36.3,73.2 31.6,74.2 28.2,76.9 23.5,82.3 18.8,87.7 14.8,92.7 9.4,93.4 5.4,94.4 1.3,91.7 -13.4,91.7" fill="#e6e6e6" stroke="#000" stroke-width="1.5" stroke-linejoin="round"/>
<polygon points="-9.0,221.6 1.8,222.7 7.9,229.5 13.5,234.0 19.1,240.3 24.7,244.1 28.8,243.0 33.7,245.2 37.1,249.7 40.0,253.8 41.6,258.7 38.7,267.7 37.1,275.6 40.5,282.4 43.9,288.0 47.2,294.3 50.6,299.2 55.8,304.2 60.7,309.4 67.5,314.5 74.2,318.3 79.2,322.2 83.2,326.2 87.7,335.0 93.4,340.8 99.0,346.2 108.0,355.0 117.0,363.1 126.0,369.0 135.0,375.5 144.0,383.4 149.6,387.4 155.2,390.1 157.5,396.0 162.0,399.1 167.6,400.5 173.2,402.5 173.7,408.3 175.5,412.6 181.1,418.9 186.7,425.0 191.2,433.1 195.7,440.7 201.4,449.5 207.0,457.6 213.3,463.0 219.4,467.7 221.6,472.5 225.0,475.6 227.7,479.2 229.5,483.5 227.2,488.2 227.7,492.5 231.3,504.0 235.1,513.9 238.9,519.7 241.9,526.2 241.2,535.5 243.0,544.2 245.7,552.3 248.6,560.0 250.9,567.0 253.1,573.5 255.4,579.3 256.5,584.7 256.9,592.8 258.7,600.5 256.9,609.7 256.0,618.5 257.8,627.7 258.7,636.5 259.2,643.4 261.0,650.0 263.7,659.2 266.6,667.5 267.7,677.2 -9.0,677.2" fill="#e6e6e6" stroke="#000" stroke-width="1.5" stroke-linejoin="round"/>
<polygon points="249.1,112.8 249.8,107.5 255.8,103.4 258.5,98.7 265.2,101.4 271.9,103.4 276.0,102.8 277.3,96.7 284.0,92.7 292.1,90.0 297.5,92.7 301.5,94.7 306.9,92.7 310.9,96.0 314.2,98.7 318.9,94.0 324.3,90.0 327.0,86.6 332.4,86.0 339.1,85.3 343.1,84.0 348.5,86.6 355.2,89.3 359.9,88.7 360.6,84.0 364.6,81.9 368.0,77.9 371.3,84.0 376.7,89.3 383.4,91.3 388.1,89.3 390.1,98.1 392.8,107.5 396.2,119.5 388.8,124.2 383.4,128.3 379.4,128.9 378.0,133.0 372.7,138.4 368.6,142.4 366.0,149.1 363.3,155.8 360.6,161.2 359.9,167.9 357.9,173.3 355.2,180.0 355.9,188.0 351.2,192.1 345.8,196.1 340.4,198.8 333.7,202.8 328.3,206.9 323.0,212.2 318.9,217.6 314.9,219.6 308.2,221.6 300.1,221.0 296.1,223.0 294.1,228.3 292.1,233.7 286.7,237.1 282.0,239.8 279.3,235.7 274.6,235.7 270.6,231.0 262.5,229.0 254.5,228.3 247.8,227.0 243.7,223.6 235.7,221.6 229.0,218.3 222.2,214.9 215.5,211.6 210.8,208.2 211.5,200.1 212.2,192.1 208.8,185.4 206.8,178.6 207.5,170.6 205.4,163.9 207.5,157.2 206.8,150.4 210.1,142.4 216.9,139.7 224.9,134.3 233.0,128.9 241.0,122.9 247.8,118.2 251.8,114.2" fill="#e6e6e6" stroke="#000" stroke-width="1.5" stroke-linejoin="round"/>
<polygon points="290.1,-13.7 290.1,1.7 291.1,6.4 289.4,11.1 288.4,15.8 290.7,21.2 294.4,21.9 295.8,24.5 295.1,28.6 296.8,33.3 294.4,37.3 295.8,39.3 299.5,40.7 301.5,45.4 300.8,48.7 304.8,50.7 308.9,52.8 308.2,56.8 306.2,58.8 306.5,62.2 309.6,63.5 310.2,67.5 308.5,70.9 308.9,72.6 312.9,68.9 317.6,66.9 321.6,68.9 325.0,71.9 328.4,71.6 332.4,68.9 337.1,70.9 341.8,68.2 346.5,65.9 350.5,62.2 353.9,58.8 355.9,55.4 356.6,52.1 354.5,48.1 352.9,43.4 351.2,40.0 347.8,37.3 344.5,34.6 345.5,29.9 344.5,25.2 340.4,22.5 335.7,21.9 331.0,22.5 328.4,22.9 328.0,19.2 328.4,13.1 331.0,11.8 333.7,13.1 337.8,11.5 342.5,10.4 347.2,10.1 351.2,11.5 353.9,15.1 356.6,17.5 359.2,19.8 363.3,20.5 365.3,16.2 362.3,14.1 359.9,17.2 357.2,15.8 356.6,11.8 357.2,6.4 359.2,2.4 359.9,-13.7" fill="#e6e6e6" stroke="#000" stroke-width="1.5" stroke-linejoin="round"/>
<polyline points="-1.3,33.3 1.3,34.0 4.0,37.3 8.7,40.0 12.1,45.4 14.8,50.7 17.5,55.4 20.1,60.1 21.5,64.2 26.2,60.8 30.2,64.2 36.3,68.2 40.3,66.9 43.7,68.9" fill="none" stroke="#000" stroke-width="2.3" stroke-linejoin="round"/>
<polygon points="274.6,143.7 276.6,139.0 281.3,139.7 284.0,143.1 289.4,145.1 286.7,148.4 281.3,145.7 276.0,147.1" fill="#e6e6e6" stroke="#000" stroke-width="1.3"/>
<path d="M43.0,29.9 48.4,33.3 53.1,35.3M40.3,47.4 44.3,48.1 47.0,46.0M41.6,54.8 45.7,54.1M56.4,26.6 60.4,30.6 63.1,34.6 64.5,37.0M8.7,93.1 10.1,87.7M14.8,92.7 16.8,83.6M42.3,76.3 47.0,73.2M137.0,7.8 139.7,11.8 137.7,15.1M142.4,9.8 145.1,7.8 146.4,9.8 143.7,12.1 142.4,9.8M167.6,430.8 172.1,428.6 177.7,429.3 183.4,427.5 180.0,431.5 185.6,433.1 187.9,436.5M112.5,363.3 121.5,369.0 129.4,373.5 126.0,376.2 132.7,377.5M140.6,387.0 145.1,385.2 150.3,388.8 148.5,394.2 143.5,394.2 140.6,387.0M167.6,407.7 171.0,403.8 177.7,405.0 182.7,408.3 180.0,412.2 175.0,413.5 174.4,407.2M205.9,460.8 210.4,459.0 211.5,463.9 207.0,464.8 205.9,460.8M225.0,488.2 228.4,491.6 229.9,486.0M247.5,571.5 251.5,570.3 252.4,574.2 248.6,575.1 247.5,571.5M253.1,594.0 259.2,594.0 260.1,605.2 254.2,605.7 253.1,594.0M255.4,618.7 258.7,623.7 256.0,627.7 261.0,629.9 258.3,635.6 262.1,640.1 258.7,645.2 262.8,649.1M253.8,621.4 256.9,626.8 253.8,631.7 258.7,634.4 255.4,641.2 259.9,646.8M-1.1,600.7 3.4,605.2 4.9,609.7 1.8,613.1 -1.1,615.3M4.5,621.4 11.2,619.8 18.0,617.6M-1.1,647.9 3.4,651.3 6.3,658.1 6.7,664.8 2.2,667.7M88.9,345.3 92.2,343.8 92.7,346.5 89.5,347.6 88.9,345.3M192.4,420.3 195.3,418.9 199.1,421.2 198.4,425.7 195.3,423.0M241.9,465.7 244.1,466.8M243.4,469.1 247.5,470.2 246.4,468.4M253.1,112.8 257.2,108.8 260.5,110.8 257.8,112.8 259.8,115.5M357.2,90.0 360.6,88.7 363.3,92.7 361.9,96.7 359.5,94.0M378.0,122.9 383.4,121.6 382.1,126.9M349.2,186.7 352.5,182.0 356.6,189.4 351.9,189.4 349.2,186.7M312.9,219.6 316.3,217.6 318.9,220.0 316.0,222.3 312.9,219.6M289.4,231.0 292.8,229.7 293.4,233.0M355.2,161.2 359.2,159.2M341.8,201.5 346.5,196.1M300.1,92.7 302.2,96.0M311.6,96.7 314.9,98.1M329.7,13.1 332.4,7.8 335.7,5.1 338.4,3.1M331.0,11.1 335.1,8.4 337.8,5.7M332.4,13.1 336.4,9.8 339.1,7.1 340.4,3.7M327.0,11.1 329.7,9.8 331.7,5.7M297.5,34.6 300.8,33.3 302.5,34.3 300.1,35.6 297.5,34.6M293.8,21.9 295.1,20.5 296.1,22.9M306.9,52.8 309.6,50.1 310.6,53.4 313.6,54.8 316.3,55.1 315.6,58.8 317.6,60.8 314.3,61.2 312.9,58.8 310.9,58.1 308.9,59.5M304.2,58.8 306.9,58.1M339.1,29.3 341.1,31.3 339.8,33.3 342.5,34.6 340.4,37.3 343.8,37.3 345.8,40.0 347.8,42.7 350.5,43.4M338.4,36.0 341.8,39.3M346.5,34.6 348.5,34.3M360.9,46.7 361.6,45.4M357.9,64.8 360.6,62.2 360.9,60.5M337.1,16.8 338.4,17.5M333.4,19.5 334.4,19.8" fill="none" stroke="#000" stroke-width="1.3" stroke-linejoin="round" stroke-linecap="round"/>
<path d="M81.0,14.6 81.6,13.6 82.5,12.6 84.6,12.3 84.8,14.0 84.9,15.4 83.4,16.5 81.4,16.0ZM76.7,10.2 75.2,12.1 73.3,10.6 73.9,9.2 75.6,8.8ZM46.7,12.9 47.3,11.6 49.2,11.4 51.1,12.3 51.2,14.1 49.2,14.7 47.4,15.6 45.7,14.4ZM77.2,15.3 79.8,14.4 81.1,13.8 84.0,13.3 83.7,15.6 83.6,17.8 80.9,17.4 78.3,17.4ZM67.7,29.7 67.1,27.6 68.8,26.2 70.4,27.4 71.9,28.5 69.9,29.0ZM67.9,14.6 69.3,14.1 70.3,15.1 71.1,16.0 71.6,18.5 68.6,18.2 66.9,17.1 66.6,15.5ZM83.7,19.3 83.0,15.3 87.7,13.6 89.9,16.8 87.6,18.5ZM85.8,10.9 85.7,12.8 85.8,14.6 83.6,15.4 81.7,14.5 80.9,13.0 81.2,11.1 83.4,10.1ZM74.9,19.2 76.1,19.4 76.5,19.9 76.6,20.8 75.3,21.3 74.1,20.3ZM59.3,15.7 58.4,14.6 58.9,12.6 61.3,13.4 62.4,14.8 61.7,17.1ZM67.7,17.5 65.6,16.0 68.0,14.9 69.7,15.5 70.4,17.5ZM56.4,18.6 56.7,17.7 57.9,17.0 59.3,17.8 58.7,19.0 57.3,19.5ZM67.6,21.1 68.7,20.7 68.9,21.7 68.9,22.2 68.3,22.4 67.7,22.3 67.5,21.8ZM91.2,16.4 89.8,17.1 88.7,16.2 89.1,15.2 89.5,13.9 90.9,14.5 92.1,15.4ZM86.4,30.3 86.4,28.4 88.4,26.8 90.2,28.8 88.6,30.3ZM61.7,20.7 62.2,21.4 61.8,22.2 60.5,23.4 59.0,22.3 59.4,21.0 60.1,20.3 61.2,19.5ZM86.6,31.8 87.2,32.9 87.4,33.5 87.1,34.1 86.2,34.4 84.8,34.4 84.9,33.3 85.4,32.4ZM70.1,16.3 68.7,14.4 69.8,12.3 72.8,13.0 71.8,14.8ZM71.5,11.1 72.2,9.7 73.1,9.4 73.7,10.0 73.5,11.0ZM92.4,8.8 91.6,10.5 89.1,10.8 89.2,8.9 90.6,6.7ZM53.0,8.9 51.4,10.3 51.1,8.4 51.6,7.4 54.1,7.1ZM67.9,11.7 66.1,11.4 64.6,10.4 65.7,9.0 67.5,9.2 68.8,10.3ZM72.3,26.5 73.2,26.5 75.5,27.0 73.7,28.1 72.0,28.6 71.1,27.3ZM63.4,10.0 62.0,11.6 58.8,11.6 58.5,9.1 58.9,7.0 61.4,6.0 63.2,7.5 64.9,8.7ZM62.9,14.8 61.5,14.7 60.4,14.9 60.3,13.9 60.9,13.4 62.1,12.6 62.1,13.9ZM58.6,11.0 56.9,10.4 57.7,9.1 60.0,8.3 59.9,10.3ZM85.2,10.7 83.2,10.6 80.1,9.0 83.3,7.4 86.5,6.8 88.5,9.5ZM75.7,9.0 77.1,10.5 76.1,12.0 74.1,11.6 73.3,9.8ZM95.7,13.5 93.7,13.9 91.7,14.1 91.4,12.4 93.0,11.6 94.6,12.0ZM57.2,20.4 57.3,18.7 59.1,18.6 61.4,19.4 59.5,21.1ZM72.8,8.3 74.0,6.6 75.1,8.3 75.5,9.8 73.7,9.9 72.8,9.3ZM71.7,11.4 71.1,12.5 70.5,13.2 69.1,13.7 67.4,13.0 67.8,11.5 69.2,11.0 70.5,10.6ZM83.0,26.0 81.9,28.0 78.0,27.9 79.2,25.0 80.3,22.4 84.5,23.1ZM84.0,16.0 86.2,14.7 89.0,15.0 89.7,17.1 88.4,18.4 87.3,19.1 85.9,18.8 84.2,18.0ZM80.0,10.4 80.0,8.2 80.7,5.9 83.6,6.6 84.1,8.2 84.2,9.5 82.7,9.8ZM77.4,10.7 78.8,6.5 83.2,7.6 85.6,10.4 81.7,11.8ZM55.6,16.1 56.1,16.9 55.1,17.3 54.3,16.9 53.6,16.5 53.8,15.8 54.3,14.9 55.1,15.8ZM56.4,18.9 56.9,19.5 56.5,20.4 55.4,20.1 54.6,19.5 55.5,18.8ZM76.4,28.8 78.2,26.4 81.7,27.4 82.0,30.1 79.7,31.4 77.5,30.6ZM81.7,34.1 82.5,33.4 83.6,33.8 84.3,34.6 83.2,35.0 82.5,35.6 81.5,35.0ZM64.3,20.4 61.5,20.3 59.4,20.2 57.2,18.6 58.9,16.7 61.1,15.6 63.6,16.3 64.7,18.2ZM74.4,19.4 77.3,19.3 77.4,21.5 77.4,23.6 74.7,24.6 72.3,23.0 71.0,20.3ZM58.8,24.8 61.5,21.9 65.6,22.8 65.8,26.2 62.0,26.9ZM78.8,22.4 80.7,24.7 78.9,27.0 76.2,27.1 74.5,25.9 73.1,23.9 75.3,21.7ZM74.0,13.4 72.0,13.1 71.1,12.1 69.5,10.7 71.8,10.2 73.0,10.1 75.0,10.3 74.4,11.8ZM79.6,11.2 80.4,10.9 81.8,10.7 81.4,11.8 80.7,12.2 79.6,13.0 79.0,11.9ZM63.3,24.1 60.4,22.3 62.4,19.9 65.0,19.8 67.6,20.9 66.0,22.9ZM65.5,19.7 67.0,19.6 67.1,20.7 67.0,22.0 65.3,22.5 63.7,21.5 64.4,20.2ZM59.7,13.9 60.1,15.0 59.2,16.1 58.1,15.2 56.8,14.3 58.3,13.7ZM89.1,21.3 87.5,20.8 87.6,19.6 88.2,18.9 88.9,18.2 90.2,18.5 90.1,19.5 89.9,20.2ZM87.9,14.3 88.0,13.3 87.5,12.6 88.6,12.6 89.4,12.5 90.0,13.0 89.7,13.7 88.9,13.9ZM67.9,24.7 66.5,23.8 66.9,22.2 68.8,22.8 70.4,22.5 70.8,23.9 69.2,24.4ZM67.2,26.2 64.2,26.2 61.7,25.2 63.4,23.2 63.5,21.6 65.9,20.2 67.7,22.1 68.2,24.0ZM60.1,8.7 60.3,9.7 60.2,11.9 58.3,10.3 57.0,9.6 57.8,8.5 59.1,8.2ZM79.5,28.2 77.7,26.2 79.9,24.4 82.2,24.7 83.3,25.6 86.2,26.8 84.0,28.4 81.8,28.4ZM77.4,21.8 77.3,24.0 74.5,25.0 73.1,22.8 74.6,20.4ZM50.3,17.5 48.8,15.0 48.3,12.4 52.3,12.5 53.4,15.5ZM47.8,9.7 47.9,8.4 49.5,8.2 50.6,8.8 52.8,9.7 52.3,11.9 49.5,12.6 46.6,11.9ZM117.0,9.3 118.6,8.3 120.2,9.7 119.4,11.8 115.9,11.6ZM111.3,9.9 110.9,8.4 112.4,8.0 113.9,8.6 112.7,9.4ZM106.3,8.8 104.7,9.6 103.7,8.2 104.7,7.4 106.0,6.5 107.1,7.7ZM110.2,15.2 111.6,14.3 112.8,13.1 114.7,13.7 114.7,15.2 114.3,16.4 112.8,17.5 111.1,16.6ZM114.8,6.7 115.5,8.2 113.9,9.0 112.5,8.5 111.4,7.3 112.9,6.1ZM114.8,15.8 113.4,15.4 112.5,13.7 114.5,12.9 115.9,13.7 118.1,13.8 117.9,15.5 116.6,16.9ZM107.9,6.5 109.8,7.4 109.9,10.2 105.5,10.3 106.5,7.5ZM104.1,12.0 102.0,11.7 100.3,11.3 101.9,10.5 103.0,10.5ZM121.4,6.6 120.2,5.3 122.2,5.5 122.8,6.1 122.5,7.1ZM115.8,20.4 115.9,19.6 117.0,19.2 117.4,20.1 117.7,20.7 117.2,21.3 116.0,21.3ZM119.5,2.7 121.7,1.2 123.9,1.7 126.1,3.3 123.5,4.5 121.5,4.2ZM119.5,9.2 118.2,9.6 116.5,9.2 116.7,7.7 118.4,7.0 119.1,8.2ZM112.3,10.1 110.6,9.5 111.3,8.2 111.9,7.6 113.3,7.1 113.6,8.3 114.3,9.8ZM107.6,5.2 106.8,6.1 105.8,5.2 105.9,4.1 107.2,3.8 108.6,4.3ZM117.9,7.3 119.7,6.6 120.8,5.6 122.6,6.1 122.3,7.6 121.6,8.4 120.4,10.1 119.0,8.6ZM113.2,22.4 115.2,23.5 117.3,24.3 115.8,25.8 114.2,25.8 113.0,25.4 111.6,24.0ZM112.4,25.4 109.7,24.2 112.3,23.0 114.9,22.5 114.1,24.5ZM114.7,12.5 114.5,11.7 115.2,11.1 116.8,10.0 117.8,11.5 117.8,13.3 115.6,13.7ZM113.5,12.6 112.2,11.8 111.1,10.3 112.9,9.2 115.2,9.2 116.3,10.8 114.8,11.9ZM106.1,12.8 107.2,13.6 108.6,13.7 108.3,14.8 107.1,14.9 106.3,15.0 105.2,14.7 104.9,13.5ZM122.3,5.9 119.8,5.4 119.3,3.6 119.6,1.9 121.7,1.9 123.7,1.5 126.0,2.9 124.7,5.1ZM104.0,16.0 101.9,17.4 101.5,15.3 100.6,13.4 103.1,13.3 105.4,13.3 106.1,15.3ZM114.2,18.9 115.5,19.9 114.6,21.3 112.8,21.6 110.7,21.5 109.3,19.7 110.9,18.0 113.0,17.8ZM108.6,17.2 107.3,17.9 106.8,18.8 105.3,18.8 104.1,17.7 104.9,16.4 106.2,15.6 107.2,16.8ZM123.3,7.7 121.3,5.6 121.9,3.6 124.3,2.6 125.1,4.5 126.2,6.3ZM115.1,14.6 114.1,15.5 112.7,16.3 111.9,15.0 112.3,13.8 113.6,14.2Z" fill="#e6e6e6" stroke="#000" stroke-width="1.5" stroke-linejoin="round"/>
<path d="M134.9,80.5l1.2,-0.9 1.2,0.9 -1.2,0.9ZM250.3,18.0l1.2,-0.9 1.2,0.9 -1.2,0.9ZM263.2,234.4l1.2,-0.9 1.2,0.9 -1.2,0.9ZM103.4,658.1l1.2,-0.9 1.2,0.9 -1.2,0.9ZM313.8,219.4l1.2,-0.9 1.2,0.9 -1.2,0.9ZM43.8,74.2l1.2,-0.9 1.2,0.9 -1.2,0.9ZM114.3,31.9l1.2,-0.9 1.2,0.9 -1.2,0.9Z" fill="#000" stroke="#000" stroke-width="0.8"/>
<rect x="324" y="244.3" width="235.6" height="247" fill="none" stroke="#000" stroke-width="5.2"/>
<path d="M0.0,0v7M0.0,667.8v-7" stroke="#000" stroke-width="2"/>
<path d="M157.2,0v7M157.2,667.8v-7" stroke="#000" stroke-width="2"/>
<path d="M314.4,0v7M314.4,667.8v-7" stroke="#000" stroke-width="2"/>
<path d="M471.6,0v7M471.6,667.8v-7" stroke="#000" stroke-width="2"/>
<path d="M628.8,0v7M628.8,667.8v-7" stroke="#000" stroke-width="2"/>
<path d="M0,584.2h7M638.6,584.2h-7" stroke="#000" stroke-width="2"/>
<path d="M0,418.3h7M638.6,418.3h-7" stroke="#000" stroke-width="2"/>
<path d="M0,253.9h7M638.6,253.9h-7" stroke="#000" stroke-width="2"/>
<path d="M0,91.0h7M638.6,91.0h-7" stroke="#000" stroke-width="2"/>
</g>
<rect x="1709.0" y="50.3" width="638.6" height="667.8" fill="none" stroke="#000" stroke-width="2.6"/>
<text transform="translate(1734.6,689.9) scale(0.9,1)" font-family="Noto Sans CJK SC, Liberation Sans, sans-serif" font-weight="bold" font-size="55" fill="#000">C</text>
<text x="1722.4" y="37.5" font-family="Liberation Sans, Arial, sans-serif" font-weight="bold" font-size="43" fill="#000">Relative Rate</text>
<rect x="2369.3" y="651.32" width="41.3" height="67.28" fill="#ffffff"/>
<rect x="2369.3" y="584.54" width="41.3" height="67.28" fill="#fff4d4"/>
<rect x="2369.3" y="517.76" width="41.3" height="67.28" fill="#ffe270"/>
<rect x="2369.3" y="450.98" width="41.3" height="67.28" fill="#ffcb33"/>
<rect x="2369.3" y="384.20" width="41.3" height="67.28" fill="#ffab33"/>
<rect x="2369.3" y="317.42" width="41.3" height="67.28" fill="#ff9933"/>
<rect x="2369.3" y="250.64" width="41.3" height="67.28" fill="#ff7033"/>
<rect x="2369.3" y="183.86" width="41.3" height="67.28" fill="#ff5900"/>
<rect x="2369.3" y="117.08" width="41.3" height="67.28" fill="#e82a22"/>
<rect x="2369.3" y="50.30" width="41.3" height="67.28" fill="#c92116"/>
<line x1="2405.6" y1="651.32" x2="2410.6" y2="651.32" stroke="#000" stroke-width="1.2"/>
<line x1="2405.6" y1="584.54" x2="2410.6" y2="584.54" stroke="#000" stroke-width="1.2"/>
<line x1="2405.6" y1="517.76" x2="2410.6" y2="517.76" stroke="#000" stroke-width="1.2"/>
<line x1="2405.6" y1="450.98" x2="2410.6" y2="450.98" stroke="#000" stroke-width="1.2"/>
<line x1="2405.6" y1="384.20" x2="2410.6" y2="384.20" stroke="#000" stroke-width="1.2"/>
<line x1="2405.6" y1="317.42" x2="2410.6" y2="317.42" stroke="#000" stroke-width="1.2"/>
<line x1="2405.6" y1="250.64" x2="2410.6" y2="250.64" stroke="#000" stroke-width="1.2"/>
<line x1="2405.6" y1="183.86" x2="2410.6" y2="183.86" stroke="#000" stroke-width="1.2"/>
<line x1="2405.6" y1="117.08" x2="2410.6" y2="117.08" stroke="#000" stroke-width="1.2"/>
<rect x="2369.3" y="50.3" width="41.3" height="667.8" fill="none" stroke="#222" stroke-width="1.2"/>
<text transform="translate(2413.6,729.2) scale(0.975,1)" font-family="Liberation Serif, Times New Roman, serif" font-weight="bold" font-size="47.3" fill="#000">0.8</text>
<text transform="translate(2413.6,600.1) scale(0.975,1)" font-family="Liberation Serif, Times New Roman, serif" font-weight="bold" font-size="47.3" fill="#000">0.88</text>
<text transform="translate(2413.6,466.6) scale(0.975,1)" font-family="Liberation Serif, Times New Roman, serif" font-weight="bold" font-size="47.3" fill="#000">0.96</text>
<text transform="translate(2413.6,333.0) scale(0.975,1)" font-family="Liberation Serif, Times New Roman, serif" font-weight="bold" font-size="47.3" fill="#000">1.04</text>
<text transform="translate(2413.6,199.5) scale(0.975,1)" font-family="Liberation Serif, Times New Roman, serif" font-weight="bold" font-size="47.3" fill="#000">1.12</text>
<text transform="translate(2413.6,72.4) scale(0.975,1)" font-family="Liberation Serif, Times New Roman, serif" font-weight="bold" font-size="47.3" fill="#000">1.2</text>
<clipPath id="cpD"><rect x="0" y="0" width="638.6" height="666.5"/></clipPath>
<g transform="translate(100.0,802.9)" clip-path="url(#cpD)">
<clipPath id="cqDTL"><rect x="10.200000000000001" y="-0.6" width="310.4" height="336.2"/></clipPath>
<g clip-path="url(#cqDTL)">
<rect x="10.8" y="0" width="309.2" height="335" fill="#ff5900"/>
<polygon points="-2.2,147.4 10.1,147.4 29.2,142.9 33.7,155.2 50.6,154.1 55.1,139.5 60.7,132.7 60.7,121.5 74.2,112.5 90.0,99.0 108.0,92.2 121.5,87.7 126.0,72.0 135.0,58.5 144.0,42.7 157.5,33.7 171.0,29.2 189.0,28.1 207.0,33.7 216.0,41.6 225.0,49.5 236.2,56.2 241.9,65.2 243.0,85.5 245.2,99.0 270.0,90.0 326.2,90.0 326.2,337.5 -2.2,337.5" fill="#ff7033"/>
<polygon points="56.2,216.0 59.6,200.2 67.5,186.7 78.7,173.2 87.7,159.7 99.0,148.5 110.2,137.2 105.7,130.5 104.6,121.5 112.5,114.7 126.0,108.0 135.0,94.5 144.0,83.2 157.5,74.2 180.0,69.7 186.7,74.2 207.0,73.1 211.5,77.6 227.2,78.7 227.2,94.5 225.0,103.5 216.0,112.5 211.5,119.2 225.0,120.4 247.5,112.5 326.2,112.5 326.2,337.5 105.7,337.5 105.7,315.0 99.0,303.7 85.5,299.2 81.0,290.2 76.5,276.7 69.7,258.7 67.5,243.0 65.2,227.2" fill="#ff9933"/>
<polygon points="119.2,140.6 135.0,130.5 148.5,119.2 166.5,102.4 180.0,102.4 189.0,105.7 196.9,120.4 186.7,135.0 180.0,124.9 166.5,130.5 155.2,135.0 148.5,139.5 147.4,135.0 132.7,142.9 123.7,142.9" fill="#ff7033"/>
<polygon points="94.5,236.2 100.1,222.7 110.2,207.0 121.5,193.5 135.0,182.2 146.2,176.6 167.6,174.4 173.2,186.7 177.7,207.0 184.5,222.7 207.0,227.2 211.5,240.7 225.0,247.5 236.2,258.7 249.7,266.6 265.5,272.2 281.2,265.5 299.2,258.7 326.2,255.4 326.2,285.7 319.9,288.0 299.2,299.2 281.2,315.0 265.5,337.5 167.6,337.5 167.6,328.5 164.2,319.5 153.0,308.2 146.2,294.7 144.0,279.0 139.5,265.5 135.0,254.2 126.0,246.4 101.2,248.6" fill="#ffab33"/>
<polygon points="144.0,-2.2 272.2,-2.2 272.2,29.2 265.5,36.0 252.0,40.5 245.2,45.0 229.5,36.0 222.7,29.2 211.5,20.2 211.5,13.5 202.5,6.7 175.5,4.5 157.5,3.4" fill="#e82a22"/>
<polygon points="236.2,20.2 238.5,13.5 247.5,6.7 258.7,2.2 270.0,2.2 268.9,29.2 252.0,30.4 241.9,24.7" fill="#c92116"/>
<polygon points="67.5,40.5 74.2,37.1 86.6,40.5 69.7,50.6" fill="#e82a22"/>
<polygon points="46.1,245.2 50.6,237.4 56.2,249.7 60.7,263.2 54.0,265.5 45.0,263.2" fill="#ff5900"/>
<polygon points="67.5,267.7 75.4,281.2 67.5,283.5" fill="#ff7033"/>
<polygon points="87.7,299.2 94.5,298.1 99.0,303.7 90.0,304.9" fill="#ff7033"/>
<polygon points="301.5,245.2 326.2,231.7 326.2,240.7 308.2,246.4" fill="#ff7033"/>
</g>
<clipPath id="cqDTR"><rect x="319.4" y="-0.6" width="321.2" height="336.2"/></clipPath>
<g clip-path="url(#cqDTR)">
<rect x="320" y="0" width="320" height="335" fill="#ffab33"/>
<polygon points="646.2,6.7 639.9,7.9 612.5,18.0 590.0,27.0 567.5,38.2 545.0,47.2 522.5,56.2 500.0,65.2 477.5,74.2 459.5,82.1 446.0,90.0 437.0,101.2 431.4,114.7 428.0,126.0 419.0,137.2 407.7,153.0 397.6,166.5 395.4,180.0 387.5,189.0 374.0,202.5 360.5,216.0 342.5,229.5 320.0,241.9 317.8,243.0 317.8,-2.2 646.2,-2.2" fill="#ff9933"/>
<polygon points="623.7,-2.2 623.7,2.2 590.0,6.7 567.5,11.2 545.0,15.7 522.5,19.1 506.7,22.5 502.2,29.2 482.0,38.2 468.5,47.2 455.0,58.5 443.7,65.2 437.0,76.5 430.2,90.0 421.2,101.2 412.2,117.0 405.5,130.5 394.2,146.2 385.2,159.7 383.0,171.0 371.7,191.2 356.0,207.0 344.7,216.0 333.5,222.7 317.8,234.0 317.8,-2.2" fill="#ff7033"/>
<polygon points="380.7,-2.2 536.0,-2.2 522.5,6.7 500.0,10.1 477.5,9.0 459.5,12.4 452.7,22.5 443.7,29.2 430.2,40.5 425.7,56.2 422.4,72.0 419.0,85.5 410.0,99.0 403.2,117.0 402.1,121.5 394.2,135.0 385.2,157.5 381.9,166.5 376.2,180.0 342.5,213.7 317.8,225.0 317.8,67.5 362.7,65.2 362.7,42.7 380.7,22.5" fill="#ff5900"/>
<polygon points="317.8,221.6 338.0,221.6 317.8,235.1" fill="#ff5900"/>
<polygon points="361.6,54.0 365.0,38.2 374.0,29.2 383.0,39.4 403.2,28.1 414.5,28.1 406.6,42.7 404.4,59.6 396.5,59.6 361.6,59.6" fill="#e82a22"/>
<polygon points="646.2,87.7 639.9,88.9 619.2,94.5 596.7,99.0 578.7,110.2 556.2,121.5 533.7,132.7 511.2,144.0 488.7,157.5 466.2,168.7 450.5,180.0 432.5,193.5 419.0,207.0 405.5,218.2 387.5,231.7 371.7,241.9 349.2,256.5 326.7,276.7 317.8,283.5 317.8,342.0 646.2,342.0" fill="#ff9933"/>
<polygon points="646.2,111.4 639.9,112.5 628.2,114.7 608.0,123.7 590.0,135.0 572.0,141.7 545.0,153.0 522.5,164.2 500.0,180.0 482.0,191.2 466.2,202.5 464.0,222.7 455.0,236.2 448.2,247.5 432.5,265.5 410.0,281.2 387.5,297.0 365.0,312.7 342.5,328.5 333.5,337.5 333.5,342.0 646.2,342.0" fill="#ff7033"/>
<polygon points="646.2,130.5 639.9,132.7 623.7,139.5 601.2,148.5 578.7,159.7 556.2,171.0 536.0,182.2 518.0,193.5 504.5,204.7 495.5,218.2 491.0,231.7 491.0,241.9 486.5,256.5 482.0,270.0 466.2,285.7 455.0,292.5 461.7,297.0 441.5,308.2 425.7,304.9 410.0,315.0 394.2,324.0 383.0,337.5 383.0,342.0 646.2,342.0" fill="#ff5900"/>
<polygon points="408.9,324.0 419.0,308.2 425.7,304.9 442.6,309.4 458.4,302.6 453.9,324.0 446.0,337.5 410.0,337.5" fill="#ff7033"/>
<polygon points="646.2,265.5 639.9,267.7 623.7,274.5 601.2,285.7 578.7,297.0 563.0,303.7 558.5,300.4 522.5,301.5 502.2,302.6 485.4,301.5 480.9,297.0 470.7,304.9 482.0,311.6 493.2,311.6 484.2,324.0 475.2,337.5 646.2,337.5" fill="#ff7033"/>
<polygon points="646.2,306.0 639.9,308.2 608.9,322.4 587.5,337.5 646.2,337.5" fill="#ff9933"/>
<polygon points="646.2,177.7 639.9,180.0 628.2,186.7 612.5,195.7 599.0,204.7 590.0,204.7 574.2,209.2 558.5,218.2 545.0,225.0 539.4,234.0 538.2,247.5 537.1,261.0 542.7,267.7 558.5,268.9 567.5,265.5 576.5,256.5 585.5,243.0 601.2,231.7 619.2,220.5 635.0,213.7 646.2,210.4" fill="#e82a22"/>
</g>
<clipPath id="cqDBL"><rect x="10.200000000000001" y="334.4" width="310.4" height="336.2"/></clipPath>
<g clip-path="url(#cqDBL)">
<rect x="10.8" y="335" width="309.2" height="335" fill="#ffab33"/>
<polygon points="257.6,332.8 258.7,357.5 254.2,380.0 263.2,407.0 264.4,425.0 270.0,443.0 273.4,461.0 265.5,470.0 264.4,488.0 258.7,506.0 247.5,515.0 225.0,515.0 225.0,672.5 326.2,672.5 326.2,332.8" fill="#ff9933"/>
<polygon points="285.7,672.5 284.6,632.0 299.2,629.7 315.0,634.2 326.2,650.0 326.2,672.5" fill="#ffab33"/>
<polygon points="126.0,332.8 167.6,332.8 166.5,348.5 173.2,366.5 157.5,366.5 146.2,355.2 126.0,344.0" fill="#ff9933"/>
<polygon points="203.6,431.7 213.7,429.5 222.7,434.0 225.0,447.5 216.0,452.0 204.7,445.2" fill="#ff9933"/>
<polygon points="245.2,495.9 256.5,497.0 257.6,510.5 247.5,512.7" fill="#ff9933"/>
<polygon points="326.2,355.2 319.9,357.5 312.7,373.2 306.0,402.5 309.4,425.0 315.0,447.5 317.2,470.0 319.9,492.5 326.2,492.5" fill="#ff7033"/>
<polygon points="265.5,629.7 268.9,629.7 267.7,656.7 265.5,656.7" fill="#ff7033"/>
</g>
<clipPath id="cqDBR"><rect x="319.4" y="334.4" width="321.2" height="336.2"/></clipPath>
<g clip-path="url(#cqDBR)">
<rect x="320" y="335" width="320" height="335" fill="#ff9933"/>
<polygon points="331.2,332.8 590.0,332.8 572.0,346.2 563.0,362.0 549.5,374.4 536.0,384.5 529.2,398.0 536.0,411.5 540.5,431.7 551.7,449.7 558.5,461.0 566.4,470.0 567.5,490.2 563.0,510.5 556.2,530.7 549.5,551.0 538.2,571.2 529.2,582.5 515.7,596.0 504.5,609.5 493.2,623.0 484.2,636.5 477.5,639.9 464.0,636.5 441.5,643.2 439.2,656.7 428.0,665.7 419.0,672.5 383.0,672.5 392.0,647.7 383.0,641.0 372.9,623.0 368.4,598.2 360.5,582.5 349.2,566.7 335.7,560.0 329.0,542.0 324.5,521.7 320.0,506.0 317.8,492.5 317.8,346.2" fill="#ff7033"/>
<polygon points="367.2,332.8 412.2,332.8 413.4,353.0 423.5,355.2 430.2,348.5 446.0,332.8 475.2,332.8 464.0,348.5 446.0,359.7 434.7,371.0 428.0,386.7 419.0,395.7 410.0,409.2 396.5,422.7 387.5,434.0 383.0,443.0 362.7,448.6 359.4,431.7 343.6,427.2 359.4,407.0 354.9,391.2 353.7,368.7 362.7,348.5" fill="#ff5900"/>
<polygon points="416.7,422.7 422.4,421.6 423.5,426.1 443.7,427.2 439.2,445.2 428.0,463.2 422.4,470.0 422.4,479.0 419.0,468.9 407.7,463.2 415.6,447.5" fill="#ff5900"/>
<polygon points="428.0,492.5 448.2,492.5 452.7,499.2 461.7,502.6 482.0,495.9 486.5,506.0 485.4,530.7 475.2,536.4 459.5,539.7 448.2,545.4 437.0,537.5 430.2,528.5 424.6,510.5" fill="#ff5900"/>
<polygon points="438.1,407.0 448.2,400.2 449.4,405.9 442.6,410.4" fill="#ffab33"/>
<polygon points="626.0,428.4 646.2,419.4 646.2,440.7 630.5,438.5" fill="#ff7033"/>
<polygon points="610.2,470.0 617.0,462.1 632.7,456.5 646.2,467.7 628.2,472.2 610.2,477.9" fill="#ff7033"/>
<polygon points="646.2,611.7 639.9,614.0 619.2,623.0 590.0,629.7 574.2,641.0 565.2,654.5 560.7,663.5 567.5,672.5 646.2,672.5" fill="#ffab33"/>
</g>
<path d="M285.0,-0.3 266.1,19.1 266.1,20.4 285.0,20.4Z" fill="#e82a22" fill-rule="evenodd"/>
<path d="M268.2,20.4 285.0,20.4 285.0,0.1 285.3,-0.1 285.0,-0.1 285.0,-0.3 284.8,-0.1 266.2,-0.1 268.2,17.1ZM68.9,19.9 48.7,40.6 48.9,40.6 48.9,61.0 67.7,41.7 67.7,40.5 68.8,39.4 70.0,39.4 88.8,20.1 68.9,20.1Z" fill="#ff5900" fill-rule="evenodd"/>
<path d="M88.4,39.3 89.6,39.3 89.6,59.3 89.4,59.5 89.6,59.5 89.6,59.7 89.8,59.5 107.9,59.5 107.9,59.7 146.4,20.1 146.2,20.1 146.2,-0.1 127.5,-0.1 127.5,20.2 108.2,40.1 108.2,20.3 108.4,20.1 108.2,20.1 108.2,19.9 108.0,20.1 88.5,20.1 88.5,19.9 88.3,20.1 68.9,20.1 68.9,19.9 68.6,20.1 48.7,40.6 48.9,40.6 48.9,60.6 9.4,101.3 9.7,101.3 9.7,120.5 67.6,60.8 67.8,60.5 67.6,60.5 65.4,44.0 65.4,40.5 68.8,37.0 72.2,37.0ZM29.1,284.8 29.3,284.8 29.3,285.0 29.5,284.8 49.2,284.8 49.2,265.4 47.9,265.4 47.9,243.6 29.3,243.6 29.3,264.1 29.1,264.3 29.3,264.3 29.3,284.6ZM285.0,20.1 285.0,0.1 285.3,-0.1 285.0,-0.1 285.0,-0.3 284.8,-0.1 268.5,-0.1 270.3,15.0 270.3,20.2 266.3,39.6 266.4,39.5 266.4,59.3 266.2,59.5 266.4,59.5 266.4,59.7 266.6,59.5 286.1,59.5 286.1,80.9 284.8,82.1 265.1,82.1 265.1,101.1 264.9,101.3 265.1,101.3 265.1,101.6 265.3,101.3 284.8,101.3 284.8,101.6 304.9,80.8 304.7,80.8 304.7,60.7 304.9,60.5 304.7,60.5 304.7,40.5 304.9,40.3 304.7,40.3 304.7,40.1 304.5,40.3 285.0,40.3 285.0,20.3 285.3,20.1ZM323.8,81.1 324.1,81.1 324.1,101.1 323.8,101.3 324.1,101.3 324.1,101.6 324.3,101.3 343.7,101.3 343.7,101.6 363.6,81.1 383.0,81.1 383.0,101.1 382.8,101.3 383.0,101.3 383.0,121.4 363.1,141.9 363.4,141.9 363.4,162.1 363.1,162.3 363.4,162.3 363.4,182.9 382.0,163.6 382.0,141.9 383.3,140.5 383.3,121.5 401.6,102.6 401.6,62.1 401.8,61.9 401.6,61.9 401.6,61.7 401.4,61.9 363.6,61.9 363.6,61.7 343.8,82.1 342.7,82.1 342.7,81.0 362.5,60.5 344.0,60.5 344.0,60.3ZM324.3,202.5 324.1,202.8 304.2,223.4 323.0,223.4 324.3,222.1 325.6,222.1 344.2,202.7 324.3,202.7ZM382.0,20.4 382.0,-0.1 363.4,-0.1 363.4,20.2 363.1,20.4 363.4,20.4 363.4,20.6 363.6,20.4Z" fill="#ff7033" fill-rule="evenodd"/>
<path d="M88.5,36.6 92.2,36.6 92.2,56.6 92.0,56.8 92.2,56.8 92.2,57.0 92.4,56.8 107.9,56.8 107.9,57.0 143.8,20.1 143.6,20.1 143.6,-0.1 127.5,-0.1 127.5,20.2 108.2,40.1 108.2,20.3 108.4,20.1 108.2,20.1 108.2,19.9 108.0,20.1 88.5,20.1 88.5,19.9 88.3,20.1 68.9,20.1 68.9,19.9 68.6,20.1 48.7,40.6 48.9,40.6 48.9,60.6 9.4,101.3 9.7,101.3 9.7,117.8 65.0,60.8 65.2,60.5 65.0,60.5 63.1,46.4 63.1,40.5 68.8,34.7 74.5,34.7ZM9.7,204.3 9.7,223.2 9.4,223.4 9.7,223.4 9.7,223.7 9.9,223.4 29.3,223.4 29.3,243.7 29.1,243.9 29.3,243.9 29.3,264.1 29.1,264.3 29.3,264.3 29.3,284.6 29.1,284.8 29.3,284.8 29.3,285.0 29.5,284.8 48.9,284.8 48.9,305.1 48.7,305.3 48.9,305.3 48.9,305.5 49.2,305.3 68.6,305.3 68.6,325.6 68.4,325.8 68.6,325.8 68.6,326.1 68.8,325.8 88.5,325.8 88.5,306.6 87.0,306.6 87.0,305.0 68.9,305.0 68.9,286.1 67.4,286.1 67.4,265.8 67.6,265.5 67.4,265.6 67.4,265.4 67.2,265.6 49.1,268.1 45.3,268.1 45.3,243.7 47.8,224.4 47.7,204.5 47.9,204.3 47.7,204.3 47.7,204.1 47.5,204.3ZM285.0,-0.3 284.8,-0.1 270.9,-0.1 272.3,12.8 272.3,20.2 268.9,36.9 269.0,36.8 269.0,56.6 268.8,56.8 269.0,56.8 269.0,57.0 269.2,56.8 288.7,56.8 288.7,80.9 284.8,84.8 265.4,84.8 265.4,84.6 246.7,101.3 245.4,102.7 245.4,121.9 265.3,101.3 284.8,101.3 284.8,101.6 304.9,80.8 304.7,80.8 304.7,60.7 304.9,60.5 304.7,60.5 304.7,40.5 304.9,40.3 304.7,40.3 304.7,40.1 304.5,40.3 285.0,40.3 285.0,20.3 285.3,20.1 285.0,20.1 285.0,0.1 285.3,-0.1 285.0,-0.1ZM323.8,81.1 324.1,81.1 324.1,101.1 323.8,101.3 324.1,101.3 324.1,101.6 324.3,101.3 343.7,101.3 343.7,101.6 363.6,81.1 383.0,81.1 383.0,101.1 382.8,101.3 383.0,101.3 383.0,121.4 363.1,141.9 363.4,141.9 363.4,162.1 363.1,162.3 363.4,162.3 363.4,182.9 379.4,166.3 379.4,141.9 383.3,137.8 401.7,121.3 401.4,121.3 399.0,105.2 399.0,64.8 399.2,64.6 399.0,64.6 399.0,64.4 398.8,64.6 363.6,64.6 363.6,64.4 343.8,84.8 340.1,84.8 340.1,81.0 359.9,60.5 359.7,60.5 362.1,42.1 362.1,40.5 363.6,39.0 379.5,20.1 379.4,20.1 379.4,-0.1 363.4,-0.1 363.4,20.2 343.5,40.6 343.7,40.6 343.7,60.6ZM324.3,202.5 284.5,243.9 303.1,243.9 304.7,242.2 320.4,223.4 324.3,219.4 328.2,219.4 344.2,202.7 324.3,202.7Z" fill="#ff9933" fill-rule="evenodd"/>
<path d="M88.5,33.9 94.8,33.9 94.8,53.9 94.6,54.1 94.8,54.1 94.8,54.3 95.0,54.1 107.9,54.1 107.9,54.3 141.2,20.1 140.9,20.1 140.9,-0.1 127.5,-0.1 127.5,20.2 108.2,40.1 108.2,20.3 108.4,20.1 108.2,20.1 108.2,19.9 108.0,20.1 88.5,20.1 88.5,19.9 88.3,20.1 68.9,20.1 68.9,19.9 68.6,20.1 48.7,40.6 48.9,40.6 48.9,60.6 9.4,101.3 9.7,101.3 9.7,115.1 62.4,60.8 62.6,60.5 62.3,60.5 60.8,48.8 60.8,40.5 68.8,32.3 76.8,32.3ZM29.1,243.9 29.3,243.9 29.3,264.1 29.1,264.3 29.3,264.3 29.3,284.6 29.1,284.8 29.3,284.8 29.3,285.0 29.5,284.8 48.9,284.8 48.9,305.1 48.7,305.3 48.9,305.3 48.9,305.5 49.2,305.3 68.6,305.3 68.6,325.6 68.4,325.8 68.6,325.8 68.6,326.1 68.8,325.8 88.2,325.8 88.2,346.2 88.0,346.4 88.2,346.4 88.2,346.6 88.5,346.4 107.9,346.4 107.9,346.6 108.2,346.4 126.3,327.4 106.4,327.4 106.4,307.1 106.7,306.8 106.4,306.9 106.4,306.7 106.2,306.9 88.4,309.8 84.0,309.8 84.0,305.2 86.8,286.6 87.0,286.3 86.8,286.3 86.8,286.1 86.5,286.4 68.7,289.2 64.4,289.2 64.4,269.0 64.6,268.7 64.4,268.7 64.4,268.5 64.1,268.8 49.1,270.9 42.7,270.9 42.7,243.7 44.8,227.6 44.7,207.7 44.9,207.4 44.7,207.4 44.7,207.2 44.5,207.4 9.7,207.4 9.7,223.2 9.4,223.4 9.7,223.4 9.7,223.7 9.9,223.4 29.3,223.4 29.3,243.7ZM206.5,123.0 188.1,141.9 188.3,141.9 188.3,203.0 206.2,203.0 206.2,221.6 207.9,221.6 207.9,223.4 225.8,223.4 225.8,242.0 266.9,242.0 266.9,262.7 285.0,243.9 300.1,243.9 304.4,239.4 317.8,223.4 324.3,216.6 330.7,216.6 343.7,221.5 343.7,221.8 344.0,221.7 344.0,221.5 361.8,203.0 381.4,182.6 381.6,182.6 381.7,182.3 381.5,182.3 376.7,168.9 376.7,141.9 383.3,135.1 398.7,121.3 398.4,121.3 396.4,107.9 396.4,67.5 396.6,67.3 396.4,67.3 396.4,67.1 396.2,67.3 363.6,67.3 363.6,67.1 343.8,87.5 337.4,87.5 337.4,81.0 357.3,60.5 357.1,60.5 359.2,44.7 359.1,40.5 363.4,36.2 376.9,20.1 376.7,20.1 376.7,-0.1 363.4,-0.1 363.4,20.2 343.5,40.6 343.7,40.6 343.7,60.6 323.8,81.1 324.1,81.1 324.1,101.1 323.8,101.3 324.1,101.3 324.1,101.6 324.3,101.3 343.7,101.3 343.7,101.6 363.6,81.1 383.0,81.1 383.0,101.1 382.8,101.3 383.0,101.3 383.0,121.4 363.1,141.9 363.4,141.9 363.4,162.1 363.1,162.3 363.4,162.3 363.4,182.4 343.8,202.7 324.3,202.7 324.3,202.5 285.0,243.4 285.0,223.4 285.3,223.1 285.0,223.1 285.0,222.9 284.8,223.1 265.4,223.1 265.4,222.9 265.2,223.1 245.8,223.1 245.8,222.9 245.5,223.1 226.1,223.1 226.1,202.9 226.3,202.7 226.1,202.7 226.1,202.5 225.9,202.7 206.5,202.7 206.5,182.6 206.7,182.3 206.5,182.3 206.5,162.2 206.7,162.0 206.5,162.0 206.5,141.9 225.8,141.9 225.8,142.2 265.3,101.3 284.8,101.3 284.8,101.6 304.9,80.8 304.7,80.8 304.7,60.7 304.9,60.5 304.7,60.5 304.7,40.5 304.9,40.3 304.7,40.3 304.7,40.1 304.5,40.3 285.0,40.3 285.0,20.3 285.3,20.1 285.0,20.1 285.0,0.1 285.3,-0.1 285.0,-0.1 285.0,-0.3 284.8,-0.1 273.2,-0.1 274.4,10.7 274.4,20.2 271.6,34.2 271.7,34.1 271.7,53.9 271.4,54.1 271.7,54.1 271.7,54.3 271.9,54.1 291.3,54.1 291.3,80.9 284.8,87.5 265.4,87.5 265.4,87.3 265.1,87.5 249.7,101.3 245.5,105.8 227.7,121.3 225.9,123.2 206.5,123.2ZM245.4,552.9 245.3,553.2 245.4,553.2 245.4,573.8 245.3,574.0 245.4,574.0 245.4,574.2 245.7,574.0 265.1,574.0 265.1,594.6 245.3,615.7 245.4,615.7 245.4,636.3 245.3,636.6 245.4,636.6 245.4,657.2 245.3,657.5 245.4,657.5 245.4,678.2 245.3,678.4 245.4,678.4 245.4,678.6 245.7,678.4 265.1,678.4 265.1,678.6 265.3,678.4 283.3,678.4 283.3,659.3 283.5,659.1 283.3,659.1 283.3,658.8 283.0,659.1 263.6,659.1 263.6,615.6 283.5,594.5 283.3,594.5 283.3,555.0 283.5,554.8 283.3,554.8 283.3,554.5 283.0,554.8 263.6,554.8 263.6,513.0 245.3,532.4 245.4,532.4Z" fill="#ffab33" fill-rule="evenodd"/>
<path d="M88.5,31.2 97.4,31.2 97.4,51.2 97.2,51.4 97.4,51.4 97.4,51.6 97.6,51.4 107.9,51.4 107.9,51.6 138.5,20.1 138.3,20.1 138.3,-0.1 127.5,-0.1 127.5,20.2 108.2,40.1 108.2,20.3 108.4,20.1 108.2,20.1 108.2,19.9 108.0,20.1 88.5,20.1 88.5,19.9 88.3,20.1 68.9,20.1 68.9,19.9 68.6,20.1 48.7,40.6 48.9,40.6 48.9,60.6 9.4,101.3 9.7,101.3 9.7,112.4 59.8,60.8 59.9,60.5 59.7,60.5 58.5,51.1 58.5,40.5 68.8,29.9 79.1,29.9ZM9.7,223.2 9.4,223.4 9.7,223.4 9.7,223.7 9.9,223.4 29.3,223.4 29.3,243.7 29.1,243.9 29.3,243.9 29.3,264.1 29.1,264.3 29.3,264.3 29.3,284.6 29.1,284.8 29.3,284.8 29.3,285.0 29.5,284.8 48.9,284.8 48.9,305.1 48.7,305.3 48.9,305.3 48.9,305.5 49.2,305.3 68.6,305.3 68.6,325.6 68.4,325.8 68.6,325.8 68.6,326.1 68.8,325.8 88.2,325.8 88.2,346.2 88.0,346.4 88.2,346.4 88.2,346.6 88.5,346.4 107.9,346.4 107.9,366.8 107.7,367.0 107.9,367.0 107.9,367.2 108.1,367.0 127.5,367.0 127.5,387.4 127.3,387.6 127.5,387.6 127.5,387.8 127.8,387.6 147.2,387.6 147.2,387.8 147.4,387.6 166.8,387.6 166.8,408.0 166.6,408.2 166.8,408.2 166.8,408.4 167.1,408.2 186.5,408.2 186.5,428.6 186.3,428.8 186.5,428.8 186.5,449.3 186.3,449.5 186.5,449.5 186.5,470.0 186.3,470.2 186.5,470.2 186.5,470.4 186.7,470.2 206.2,470.2 206.2,470.4 206.4,470.2 225.8,470.2 225.8,490.7 225.6,490.9 225.8,490.9 225.8,511.4 225.6,511.6 225.8,511.6 225.8,532.2 225.6,532.4 225.8,532.4 225.8,532.6 226.0,532.4 245.4,532.4 245.4,553.0 245.3,553.2 245.4,553.2 245.4,573.8 245.3,574.0 245.4,574.0 245.4,574.2 245.7,574.0 265.1,574.0 265.1,594.6 245.3,615.7 245.4,615.7 245.4,636.3 245.3,636.6 245.4,636.6 245.4,657.2 245.3,657.5 245.4,657.5 245.4,678.2 245.3,678.4 245.4,678.4 245.4,678.6 245.7,678.4 265.1,678.4 265.1,678.6 265.3,678.4 279.7,678.4 279.7,663.1 279.9,662.9 279.7,662.9 279.7,662.6 279.5,662.9 260.0,662.9 260.0,615.6 279.9,594.5 279.7,594.5 279.7,558.8 279.9,558.6 279.7,558.6 279.7,558.3 279.5,558.6 260.0,558.6 260.0,517.2 260.2,517.1 260.0,517.0 260.0,516.8 259.8,517.0 245.8,513.6 243.6,513.6 243.6,451.7 243.8,451.5 243.6,451.5 243.6,451.3 243.4,451.5 204.3,451.5 204.3,389.8 204.5,389.6 204.3,389.6 204.3,389.3 204.1,389.6 184.6,389.6 184.6,369.2 184.8,369.0 184.6,369.0 184.6,368.7 184.4,369.0 145.3,369.0 145.3,366.7 142.2,351.9 142.3,351.8 142.1,351.5 141.9,351.7 127.8,348.4 125.7,348.4 125.7,346.1 122.5,331.3 122.7,331.1 122.5,331.1 122.4,331.0 122.3,331.1 102.8,331.1 102.8,310.8 103.1,310.5 102.8,310.6 102.8,310.4 102.6,310.6 88.4,312.9 81.0,312.9 81.0,305.2 83.2,290.3 83.5,290.0 83.2,290.1 83.3,289.8 83.0,290.1 68.7,292.4 61.3,292.4 61.3,272.1 61.6,271.8 61.3,271.9 61.3,271.7 61.1,271.9 49.1,273.6 40.1,273.6 40.1,243.7 41.7,230.7 41.7,210.8 41.9,210.6 41.7,210.6 41.7,210.4 41.5,210.6 9.7,210.6ZM206.5,126.6 191.7,141.9 191.9,141.9 191.9,202.9 188.7,221.0 188.4,221.3 188.6,221.2 188.6,221.5 188.9,221.2 206.3,217.9 211.5,217.9 211.5,223.3 208.3,241.4 208.0,241.7 208.3,241.6 208.3,241.9 208.6,241.6 226.0,238.3 270.5,238.3 270.5,258.5 270.3,258.7 270.5,258.7 270.5,259.0 270.7,258.8 284.8,262.0 284.8,262.4 297.1,243.8 304.4,236.3 315.1,223.4 324.3,213.9 333.3,213.9 343.7,217.8 343.7,218.1 344.0,217.9 344.0,217.8 377.9,182.6 378.0,182.6 378.1,182.3 377.9,182.3 374.1,171.6 374.1,141.9 383.3,132.4 395.6,121.3 395.4,121.3 393.8,110.6 393.8,70.2 394.0,70.0 393.8,70.0 393.8,69.8 393.6,70.0 363.6,70.0 363.6,69.8 343.8,90.2 334.8,90.2 334.8,81.0 354.7,60.5 354.5,60.5 356.1,47.8 356.1,40.5 363.4,33.1 374.3,20.1 374.1,20.1 374.1,-0.1 363.4,-0.1 363.4,20.2 343.5,40.6 343.7,40.6 343.7,60.6 323.8,81.1 324.1,81.1 324.1,101.1 323.8,101.3 324.1,101.3 324.1,101.6 324.3,101.3 343.7,101.3 343.7,101.6 363.6,81.1 383.0,81.1 383.0,101.1 382.8,101.3 383.0,101.3 383.0,121.4 363.1,141.9 363.4,141.9 363.4,162.1 363.1,162.3 363.4,162.3 363.4,182.4 343.8,202.7 324.3,202.7 324.3,202.5 285.0,243.4 285.0,223.4 285.3,223.1 285.0,223.1 285.0,222.9 284.8,223.1 265.4,223.1 265.4,222.9 265.2,223.1 245.8,223.1 245.8,222.9 245.5,223.1 226.1,223.1 226.1,202.9 226.3,202.7 226.1,202.7 226.1,202.5 225.9,202.7 206.5,202.7 206.5,182.6 206.7,182.3 206.5,182.3 206.5,162.2 206.7,162.0 206.5,162.0 206.5,141.9 225.8,141.9 225.8,142.2 265.3,101.3 284.8,101.3 284.8,101.6 304.9,80.8 304.7,80.8 304.7,60.7 304.9,60.5 304.7,60.5 304.7,40.5 304.9,40.3 304.7,40.3 304.7,40.1 304.5,40.3 285.0,40.3 285.0,20.3 285.3,20.1 285.0,20.1 285.0,0.1 285.3,-0.1 285.0,-0.1 285.0,-0.3 284.8,-0.1 275.5,-0.1 276.5,8.6 276.5,20.2 274.2,31.5 274.3,31.4 274.3,51.2 274.1,51.4 274.3,51.4 274.3,51.6 274.5,51.4 293.9,51.4 293.9,80.9 284.8,90.2 265.4,90.2 265.4,90.0 265.1,90.2 252.8,101.3 245.5,108.9 230.9,121.6 225.9,126.9 206.5,126.9Z" fill="#ffcb33" fill-rule="evenodd"/>
<path d="M88.5,28.5 100.0,28.5 100.0,48.5 99.8,48.7 100.0,48.7 100.0,48.9 100.3,48.7 107.9,48.7 107.9,48.9 135.9,20.1 135.7,20.1 135.7,-0.1 127.5,-0.1 127.5,20.2 108.2,40.1 108.2,20.3 108.4,20.1 108.2,20.1 108.2,19.9 108.0,20.1 88.5,20.1 88.5,19.9 88.3,20.1 68.9,20.1 68.9,19.9 68.6,20.1 48.7,40.6 48.9,40.6 48.9,60.6 9.7,101.0 9.4,101.3 9.7,101.3 9.7,109.7 57.1,60.8 57.3,60.5 57.1,60.5 56.2,53.5 56.2,40.5 68.8,27.5 81.5,27.5ZM9.7,223.2 9.4,223.4 9.7,223.4 9.7,223.7 9.9,223.4 29.3,223.4 29.3,243.7 29.1,243.9 29.3,243.9 29.3,264.1 29.1,264.3 29.3,264.3 29.3,284.6 29.1,284.8 29.3,284.8 29.3,285.0 29.5,284.8 48.9,284.8 48.9,305.1 48.7,305.3 48.9,305.3 48.9,305.5 49.2,305.3 68.6,305.3 68.6,325.6 68.4,325.8 68.6,325.8 68.6,326.1 68.8,325.8 88.2,325.8 88.2,346.2 88.0,346.4 88.2,346.4 88.2,346.6 88.5,346.4 107.9,346.4 107.9,366.8 107.7,367.0 107.9,367.0 107.9,367.2 108.1,367.0 127.5,367.0 127.5,387.4 127.3,387.6 127.5,387.6 127.5,387.8 127.8,387.6 147.2,387.6 147.2,387.8 147.4,387.6 166.8,387.6 166.8,408.0 166.6,408.2 166.8,408.2 166.8,408.4 167.1,408.2 186.5,408.2 186.5,428.6 186.3,428.8 186.5,428.8 186.5,449.3 186.3,449.5 186.5,449.5 186.5,470.0 186.3,470.2 186.5,470.2 186.5,470.4 186.7,470.2 206.2,470.2 206.2,470.4 206.4,470.2 225.8,470.2 225.8,490.7 225.6,490.9 225.8,490.9 225.8,511.4 225.6,511.6 225.8,511.6 225.8,532.2 225.6,532.4 225.8,532.4 225.8,532.6 226.0,532.4 245.4,532.4 245.4,553.0 245.3,553.2 245.4,553.2 245.4,573.8 245.3,574.0 245.4,574.0 245.4,574.2 245.7,574.0 265.1,574.0 265.1,594.6 245.3,615.7 245.4,615.7 245.4,636.3 245.3,636.6 245.4,636.6 245.4,657.2 245.3,657.5 245.4,657.5 245.4,678.2 245.3,678.4 245.4,678.4 245.4,678.6 245.7,678.4 265.1,678.4 265.1,678.6 265.3,678.4 276.1,678.4 276.1,666.9 276.3,666.7 276.1,666.7 276.1,666.4 275.9,666.7 256.5,666.7 256.5,615.6 276.3,594.5 276.1,594.5 276.1,562.5 276.3,562.3 276.1,562.3 276.1,562.1 275.9,562.3 256.5,562.3 256.5,521.0 256.6,520.8 256.5,520.8 256.5,520.5 256.3,520.8 245.8,518.3 239.2,518.3 239.2,456.3 239.4,456.1 239.2,456.1 239.2,455.9 239.0,456.1 199.9,456.1 199.9,394.3 200.1,394.1 199.9,394.1 199.9,393.9 199.7,394.1 180.2,394.1 180.2,373.7 180.5,373.5 180.2,373.5 180.2,373.3 180.0,373.5 140.9,373.5 140.9,366.7 138.6,355.6 138.7,355.5 138.5,355.3 138.4,355.4 127.8,352.9 121.3,352.9 121.3,346.1 118.9,335.1 119.1,334.9 118.9,334.9 118.9,334.7 118.7,334.9 99.3,334.9 99.3,314.6 99.5,314.3 99.3,314.3 99.3,314.1 99.0,314.4 88.4,316.1 78.0,316.1 78.0,305.2 79.6,294.0 79.9,293.8 79.6,293.8 79.7,293.5 79.4,293.8 68.7,295.6 58.3,295.6 58.3,275.3 58.6,275.0 58.3,275.0 58.3,274.8 58.1,275.1 49.1,276.3 37.5,276.3 37.5,243.7 38.7,233.9 38.7,213.9 38.9,213.7 38.7,213.7 38.7,213.5 38.5,213.7 9.7,213.7ZM206.5,130.3 195.2,141.9 195.4,141.9 195.4,202.9 193.1,216.4 192.8,216.7 193.0,216.7 193.0,216.9 193.3,216.6 206.3,214.2 215.1,214.2 215.1,223.3 212.7,236.8 212.4,237.1 212.7,237.1 212.6,237.4 212.9,237.1 226.0,234.6 274.0,234.6 274.0,254.8 273.9,255.0 274.0,255.0 274.0,255.3 274.2,255.0 284.8,257.5 284.8,257.9 294.1,243.8 304.4,233.1 312.5,223.4 324.3,211.2 336.0,211.2 343.7,214.1 343.7,214.4 344.0,214.2 344.0,214.1 354.7,203.0 374.3,182.6 374.4,182.6 374.6,182.3 374.3,182.3 371.5,174.3 371.5,141.9 383.3,129.7 392.6,121.3 392.3,121.3 391.2,113.4 391.2,72.9 391.4,72.7 391.2,72.7 391.2,72.5 390.9,72.7 363.6,72.7 363.6,72.5 343.8,92.9 332.2,92.9 332.2,81.0 352.1,60.5 351.9,60.5 353.1,50.9 353.1,40.5 363.4,30.0 371.7,20.1 371.5,20.1 371.5,-0.1 363.4,-0.1 363.4,20.2 343.5,40.6 343.7,40.6 343.7,60.6 323.8,81.1 324.1,81.1 324.1,101.1 323.8,101.3 324.1,101.3 324.1,101.6 324.3,101.3 343.7,101.3 343.7,101.6 363.6,81.1 383.0,81.1 383.0,101.1 382.8,101.3 383.0,101.3 383.0,121.4 363.1,141.9 363.4,141.9 363.4,162.1 363.1,162.3 363.4,162.3 363.4,182.4 343.8,202.7 324.3,202.7 324.3,202.5 285.0,243.4 285.0,223.4 285.3,223.1 285.0,223.1 285.0,222.9 284.8,223.1 265.4,223.1 265.4,222.9 265.2,223.1 245.8,223.1 245.8,222.9 245.5,223.1 226.1,223.1 226.1,202.9 226.3,202.7 226.1,202.7 226.1,202.5 225.9,202.7 206.5,202.7 206.5,182.6 206.7,182.3 206.5,182.3 206.5,162.2 206.7,162.0 206.5,162.0 206.5,141.9 225.8,141.9 225.8,142.2 265.3,101.3 284.8,101.3 284.8,101.6 304.9,80.8 304.7,80.8 304.7,60.7 304.9,60.5 304.7,60.5 304.7,40.5 304.9,40.3 304.7,40.3 304.7,40.1 304.5,40.3 285.0,40.3 285.0,20.3 285.3,20.1 285.0,20.1 285.0,0.1 285.3,-0.1 285.0,-0.1 285.0,-0.3 284.8,-0.1 277.8,-0.1 278.5,6.5 278.5,20.2 276.8,28.8 276.9,28.7 276.9,48.5 276.7,48.7 276.9,48.7 276.9,48.9 277.1,48.7 296.5,48.7 296.5,80.9 284.8,92.9 265.4,92.9 265.4,92.7 265.1,92.9 255.8,101.3 245.5,112.0 234.5,121.6 225.9,130.6 206.5,130.6Z" fill="#ffe270" fill-rule="evenodd"/>
<path d="M88.5,25.8 102.7,25.8 102.7,45.8 102.5,46.0 102.7,46.0 102.7,46.2 102.9,46.0 107.9,46.0 107.9,46.2 133.3,20.1 133.1,20.1 133.1,-0.1 127.5,-0.1 127.5,20.2 108.2,40.1 108.2,20.3 108.4,20.1 108.2,20.1 108.2,19.9 108.0,20.1 88.5,20.1 88.5,19.9 88.3,20.1 68.9,20.1 68.9,19.9 68.6,20.1 48.7,40.6 48.9,40.6 48.9,60.6 9.7,101.0 9.4,101.3 9.7,101.3 9.7,107.0 54.5,60.8 54.7,60.5 54.5,60.5 53.9,55.9 53.9,40.5 68.8,25.2 83.8,25.2ZM9.7,223.2 9.4,223.4 9.7,223.4 9.7,223.7 9.9,223.4 29.3,223.4 29.3,243.7 29.1,243.9 29.3,243.9 29.3,264.1 29.1,264.3 29.3,264.3 29.3,284.6 29.1,284.8 29.3,284.8 29.3,285.0 29.5,284.8 48.9,284.8 48.9,305.1 48.7,305.3 48.9,305.3 48.9,305.5 49.2,305.3 68.6,305.3 68.6,325.6 68.4,325.8 68.6,325.8 68.6,326.1 68.8,325.8 88.2,325.8 88.2,346.2 88.0,346.4 88.2,346.4 88.2,346.6 88.5,346.4 107.9,346.4 107.9,366.8 107.7,367.0 107.9,367.0 107.9,367.2 108.1,367.0 127.5,367.0 127.5,387.4 127.3,387.6 127.5,387.6 127.5,387.8 127.8,387.6 147.2,387.6 147.2,387.8 147.4,387.6 166.8,387.6 166.8,408.0 166.6,408.2 166.8,408.2 166.8,408.4 167.1,408.2 186.5,408.2 186.5,428.6 186.3,428.8 186.5,428.8 186.5,449.3 186.3,449.5 186.5,449.5 186.5,470.0 186.3,470.2 186.5,470.2 186.5,470.4 186.7,470.2 206.2,470.2 206.2,470.4 206.4,470.2 225.8,470.2 225.8,490.7 225.6,490.9 225.8,490.9 225.8,511.4 225.6,511.6 225.8,511.6 225.8,532.2 225.6,532.4 225.8,532.4 225.8,532.6 226.0,532.4 245.4,532.4 245.4,553.0 245.3,553.2 245.4,553.2 245.4,573.8 245.3,574.0 245.4,574.0 245.4,574.2 245.7,574.0 265.1,574.0 265.1,594.6 245.3,615.7 245.4,615.7 245.4,636.3 245.3,636.6 245.4,636.6 245.4,657.2 245.3,657.5 245.4,657.5 245.4,678.2 245.3,678.4 245.4,678.4 245.4,678.6 245.7,678.4 265.1,678.4 265.1,678.6 265.3,678.4 272.5,678.4 272.5,670.7 272.7,670.5 272.5,670.5 272.5,670.2 272.3,670.5 252.9,670.5 252.9,615.6 272.7,594.5 272.5,594.5 272.5,566.3 272.7,566.1 272.5,566.1 272.5,565.9 272.3,566.1 252.9,566.1 252.9,524.8 253.0,524.6 252.9,524.6 252.9,524.3 252.7,524.5 245.4,522.8 234.8,522.9 234.8,460.9 235.0,460.7 234.8,460.7 234.8,460.5 234.6,460.7 195.5,460.7 195.5,398.9 195.7,398.7 195.5,398.7 195.5,398.5 195.3,398.7 175.9,398.7 175.9,378.3 176.1,378.1 175.9,378.1 175.9,377.9 175.7,378.1 136.6,378.1 136.6,367.0 135.0,359.4 135.1,359.2 134.9,359.0 134.8,359.2 127.5,357.5 116.9,357.5 117.0,346.4 115.4,338.8 115.5,338.6 115.3,338.6 115.3,338.5 115.1,338.6 95.7,338.6 95.7,318.3 96.0,318.0 95.7,318.1 95.7,317.9 95.5,318.1 88.4,319.2 74.9,319.2 74.9,305.2 76.0,297.8 76.3,297.5 76.1,297.5 76.1,297.3 75.8,297.6 68.7,298.7 55.3,298.7 55.3,278.4 55.6,278.2 55.3,278.2 55.3,278.0 55.1,278.2 49.1,279.0 34.8,279.0 34.8,243.7 35.7,237.0 35.6,217.1 35.8,216.9 35.6,216.9 35.6,216.6 35.4,216.9 9.7,216.9ZM206.5,134.0 198.8,141.9 199.0,141.9 199.0,202.9 197.4,211.9 197.1,212.2 197.4,212.1 197.3,212.4 197.6,212.1 206.3,210.5 218.7,210.5 218.7,223.3 217.1,232.3 216.8,232.6 217.0,232.6 217.0,232.8 217.3,232.5 226.0,230.9 277.6,230.9 277.6,251.1 277.5,251.3 277.6,251.3 277.6,251.5 277.8,251.3 284.8,252.9 284.8,253.3 291.1,243.8 304.4,230.0 309.9,223.4 324.3,208.5 338.6,208.5 343.7,210.4 343.7,210.7 344.0,210.5 344.0,210.4 351.1,203.0 370.7,182.6 370.9,182.6 371.0,182.3 370.8,182.3 368.9,177.0 368.9,141.9 383.3,127.0 389.6,121.3 389.3,121.3 388.5,116.1 388.5,75.6 388.7,75.4 388.5,75.4 388.5,75.1 388.3,75.4 363.6,75.4 363.6,75.1 343.8,95.6 329.6,95.6 329.6,81.0 349.4,60.5 349.3,60.5 350.1,54.0 350.0,40.5 363.4,26.9 369.1,20.1 368.9,20.1 368.9,-0.1 363.4,-0.1 363.4,20.2 343.5,40.6 343.7,40.6 343.7,60.6 323.8,81.1 324.1,81.1 324.1,101.1 323.8,101.3 324.1,101.3 324.1,101.6 324.3,101.3 343.7,101.3 343.7,101.6 363.6,81.1 383.0,81.1 383.0,101.1 382.8,101.3 383.0,101.3 383.0,121.4 363.1,141.9 363.4,141.9 363.4,162.1 363.1,162.3 363.4,162.3 363.4,182.4 343.8,202.7 324.3,202.7 324.3,202.5 285.0,243.4 285.0,223.4 285.3,223.1 285.0,223.1 285.0,222.9 284.8,223.1 265.4,223.1 265.4,222.9 265.2,223.1 245.8,223.1 245.8,222.9 245.5,223.1 226.1,223.1 226.1,202.9 226.3,202.7 226.1,202.7 226.1,202.5 225.9,202.7 206.5,202.7 206.5,182.6 206.7,182.3 206.5,182.3 206.5,162.2 206.7,162.0 206.5,162.0 206.5,141.9 225.8,141.9 225.8,142.2 265.3,101.3 284.8,101.3 284.8,101.6 304.9,80.8 304.7,80.8 304.7,60.7 304.9,60.5 304.7,60.5 304.7,40.5 304.9,40.3 304.7,40.3 304.7,40.1 304.5,40.3 285.0,40.3 285.0,20.3 285.3,20.1 285.0,20.1 285.0,0.1 285.3,-0.1 285.0,-0.1 285.0,-0.3 284.8,-0.1 280.1,-0.1 280.6,4.3 280.6,20.2 279.4,26.1 279.5,26.0 279.5,45.8 279.3,46.0 279.5,46.0 279.5,46.2 279.7,46.0 299.2,46.0 299.2,80.9 284.8,95.6 265.4,95.6 265.4,95.4 265.1,95.6 258.8,101.3 245.5,115.1 238.1,121.6 225.9,134.3 206.5,134.3Z" fill="#fff4d4" fill-rule="evenodd"/>
<path d="M9.7,60.5 9.4,60.8 9.7,60.8 9.7,80.9 9.4,81.1 9.7,81.1 9.7,101.1 9.4,101.3 9.7,101.3 9.7,104.3 51.9,60.8 52.1,60.5 51.9,60.5 51.6,58.3 51.6,40.5 68.8,22.8 86.1,22.8 88.5,23.1 105.3,23.1 105.3,43.1 105.1,43.3 105.3,43.3 105.3,43.5 105.5,43.3 107.9,43.3 107.9,43.5 130.7,20.1 130.5,20.1 130.5,-0.1 127.8,-0.1 127.8,-0.3 127.6,-0.1 108.2,-0.1 108.2,-0.3 108.0,-0.1 88.5,-0.1 88.5,-0.3 88.3,-0.1 68.9,-0.1 68.9,-0.3 68.7,-0.1 49.2,-0.1 49.2,-0.3 49.0,-0.1 29.6,-0.1 29.6,-0.3 29.4,-0.1 9.7,-0.1 9.7,20.2 9.4,20.4 9.7,20.4 9.7,40.4 9.4,40.6 9.7,40.6ZM9.7,223.2 9.4,223.4 9.7,223.4 9.7,243.7 9.4,243.9 9.7,243.9 9.7,264.1 9.4,264.3 9.7,264.3 9.7,284.6 9.4,284.8 9.7,284.8 9.7,305.1 9.4,305.3 9.7,305.3 9.7,325.6 9.4,325.8 9.7,325.8 9.7,346.2 9.4,346.4 9.7,346.4 9.7,366.8 9.4,367.0 9.7,367.0 9.7,387.4 9.4,387.6 9.7,387.6 9.7,408.0 9.4,408.2 9.7,408.2 9.7,428.6 9.5,428.8 9.7,428.8 9.7,449.3 9.5,449.5 9.7,449.5 9.7,470.0 9.5,470.2 9.7,470.2 9.7,490.7 9.5,490.9 9.7,490.9 9.7,511.4 9.5,511.6 9.7,511.6 9.7,532.2 9.5,532.4 9.7,532.4 9.7,553.0 9.5,553.2 9.7,553.2 9.7,573.8 9.5,574.0 9.7,574.0 9.7,594.6 9.5,594.8 9.7,594.8 9.7,615.5 9.5,615.7 9.7,615.7 9.7,636.3 9.5,636.6 9.7,636.6 9.7,657.2 9.5,657.5 9.7,657.5 9.7,678.2 9.5,678.4 9.7,678.4 9.7,678.6 9.9,678.4 29.3,678.4 29.3,678.6 29.5,678.4 48.9,678.4 48.9,678.6 49.2,678.4 68.6,678.4 68.6,678.6 68.8,678.4 88.2,678.4 88.2,678.6 88.5,678.4 107.9,678.4 107.9,678.6 108.1,678.4 127.5,678.4 127.5,678.6 127.8,678.4 147.2,678.4 147.2,678.6 147.4,678.4 166.8,678.4 166.8,678.6 167.1,678.4 186.5,678.4 186.5,678.6 186.7,678.4 206.2,678.4 206.2,678.6 206.4,678.4 225.8,678.4 225.8,678.6 226.0,678.4 245.4,678.4 245.4,678.6 245.7,678.4 265.1,678.4 265.1,678.6 265.3,678.4 269.0,678.4 269.0,674.5 269.2,674.3 269.0,674.3 269.0,674.0 268.8,674.3 249.3,674.3 249.3,615.6 269.2,594.5 269.0,594.5 269.0,570.1 269.2,569.9 269.0,569.9 269.0,569.7 268.8,569.9 249.3,569.9 249.3,528.5 249.5,528.4 249.3,528.4 249.3,528.1 249.1,528.3 245.4,527.4 230.5,527.5 230.5,465.5 230.7,465.3 230.5,465.3 230.5,465.1 230.3,465.3 191.2,465.3 191.2,403.5 191.4,403.3 191.2,403.3 191.2,403.1 191.0,403.3 171.5,403.3 171.5,382.9 171.7,382.7 171.5,382.7 171.5,382.5 171.3,382.7 132.2,382.7 132.3,367.0 131.4,363.1 131.6,363.0 131.4,362.8 131.2,362.9 127.5,362.1 112.6,362.1 112.6,346.4 111.8,342.6 112.0,342.4 111.7,342.4 111.7,342.2 111.6,342.4 92.1,342.4 92.1,322.0 92.4,321.7 92.1,321.8 92.1,321.6 91.9,321.8 88.4,322.4 71.9,322.4 71.9,305.2 72.5,301.5 72.7,301.2 72.5,301.3 72.5,301.0 72.2,301.3 68.7,301.9 52.3,301.9 52.3,281.6 52.5,281.3 52.3,281.3 52.3,281.1 52.1,281.4 49.1,281.8 32.2,281.8 32.2,243.7 32.7,240.2 32.6,220.2 32.8,220.0 32.6,220.0 32.6,219.8 32.4,220.0 9.7,220.0ZM202.6,141.9 202.6,202.9 201.8,207.3 201.5,207.7 201.7,207.6 201.7,207.9 202.0,207.6 206.3,206.7 222.2,206.7 222.2,223.3 221.4,227.8 221.1,228.1 221.4,228.0 221.4,228.3 221.7,228.0 226.0,227.2 281.2,227.2 281.2,247.4 281.0,247.5 281.2,247.6 281.2,247.8 281.4,247.6 284.8,248.4 284.8,248.8 288.0,243.8 304.4,226.8 307.3,223.4 324.3,205.8 341.2,205.8 343.7,206.7 343.7,207.0 344.0,206.8 344.0,206.7 347.5,203.0 367.1,182.6 367.3,182.6 367.4,182.3 367.2,182.3 366.3,179.8 366.3,141.9 383.3,124.3 386.6,121.3 386.3,121.3 385.9,118.8 385.9,78.3 386.1,78.1 385.9,78.1 385.9,77.8 385.7,78.1 363.6,78.1 363.6,77.8 343.8,98.3 327.0,98.3 327.0,81.0 346.8,60.5 346.6,60.5 347.1,57.1 347.0,40.5 363.4,23.8 366.4,20.1 366.3,20.1 366.3,-0.1 363.6,-0.1 363.6,-0.3 363.4,-0.1 344.0,-0.1 344.0,-0.3 343.8,-0.1 324.3,-0.1 324.3,-0.3 324.1,-0.1 304.7,-0.1 304.7,-0.3 304.5,-0.1 285.0,-0.1 285.0,-0.3 284.8,-0.1 282.4,-0.1 282.7,2.2 282.7,20.2 282.0,23.4 282.1,23.3 282.1,43.1 281.9,43.3 282.1,43.3 282.1,43.5 282.3,43.3 301.8,43.3 301.8,80.9 284.8,98.3 265.4,98.3 265.4,98.1 265.1,98.3 261.8,101.3 245.5,118.2 241.6,121.6 225.9,138.0 206.5,138.0 206.5,137.7 206.2,138.0 202.4,141.9Z" fill="#ffffff" fill-rule="evenodd"/>
<line x1="157.2" y1="0" x2="157.2" y2="666.5" stroke="#000" stroke-opacity="0.09" stroke-width="1"/>
<line x1="314.4" y1="0" x2="314.4" y2="666.5" stroke="#000" stroke-opacity="0.09" stroke-width="1"/>
<line x1="471.6" y1="0" x2="471.6" y2="666.5" stroke="#000" stroke-opacity="0.09" stroke-width="1"/>
<line x1="628.8" y1="0" x2="628.8" y2="666.5" stroke="#000" stroke-opacity="0.09" stroke-width="1"/>
<line x1="0" y1="584.2" x2="638.6" y2="584.2" stroke="#000" stroke-opacity="0.09" stroke-width="1"/>
<line x1="0" y1="418.3" x2="638.6" y2="418.3" stroke="#000" stroke-opacity="0.09" stroke-width="1"/>
<line x1="0" y1="253.9" x2="638.6" y2="253.9" stroke="#000" stroke-opacity="0.09" stroke-width="1"/>
<line x1="0" y1="91.0" x2="638.6" y2="91.0" stroke="#000" stroke-opacity="0.09" stroke-width="1"/>
<polygon points="-13.4,-13.7 106.8,-13.7 106.8,1.7 106.4,9.1 102.1,10.4 97.4,11.5 92.7,15.1 87.3,15.5 83.9,19.8 79.2,21.9 75.9,24.5 70.5,26.6 65.8,28.6 60.4,29.9 59.1,31.9 62.5,34.0 58.4,35.3 53.1,37.3 49.7,40.7 47.0,43.4 46.3,48.1 47.0,53.4 46.3,58.8 45.7,64.2 43.7,68.9 40.3,71.6 36.3,73.2 31.6,74.2 28.2,76.9 23.5,82.3 18.8,87.7 14.8,92.7 9.4,93.4 5.4,94.4 1.3,91.7 -13.4,91.7" fill="#e6e6e6" stroke="#000" stroke-width="1.5" stroke-linejoin="round"/>
<polygon points="-9.0,221.6 1.8,222.7 7.9,229.5 13.5,234.0 19.1,240.3 24.7,244.1 28.8,243.0 33.7,245.2 37.1,249.7 40.0,253.8 41.6,258.7 38.7,267.7 37.1,275.6 40.5,282.4 43.9,288.0 47.2,294.3 50.6,299.2 55.8,304.2 60.7,309.4 67.5,314.5 74.2,318.3 79.2,322.2 83.2,326.2 87.7,335.0 93.4,340.8 99.0,346.2 108.0,355.0 117.0,363.1 126.0,369.0 135.0,375.5 144.0,383.4 149.6,387.4 155.2,390.1 157.5,396.0 162.0,399.1 167.6,400.5 173.2,402.5 173.7,408.3 175.5,412.6 181.1,418.9 186.7,425.0 191.2,433.1 195.7,440.7 201.4,449.5 207.0,457.6 213.3,463.0 219.4,467.7 221.6,472.5 225.0,475.6 227.7,479.2 229.5,483.5 227.2,488.2 227.7,492.5 231.3,504.0 235.1,513.9 238.9,519.7 241.9,526.2 241.2,535.5 243.0,544.2 245.7,552.3 248.6,560.0 250.9,567.0 253.1,573.5 255.4,579.3 256.5,584.7 256.9,592.8 258.7,600.5 256.9,609.7 256.0,618.5 257.8,627.7 258.7,636.5 259.2,643.4 261.0,650.0 263.7,659.2 266.6,667.5 267.7,677.2 -9.0,677.2" fill="#e6e6e6" stroke="#000" stroke-width="1.5" stroke-linejoin="round"/>
<polygon points="249.1,112.8 249.8,107.5 255.8,103.4 258.5,98.7 265.2,101.4 271.9,103.4 276.0,102.8 277.3,96.7 284.0,92.7 292.1,90.0 297.5,92.7 301.5,94.7 306.9,92.7 310.9,96.0 314.2,98.7 318.9,94.0 324.3,90.0 327.0,86.6 332.4,86.0 339.1,85.3 343.1,84.0 348.5,86.6 355.2,89.3 359.9,88.7 360.6,84.0 364.6,81.9 368.0,77.9 371.3,84.0 376.7,89.3 383.4,91.3 388.1,89.3 390.1,98.1 392.8,107.5 396.2,119.5 388.8,124.2 383.4,128.3 379.4,128.9 378.0,133.0 372.7,138.4 368.6,142.4 366.0,149.1 363.3,155.8 360.6,161.2 359.9,167.9 357.9,173.3 355.2,180.0 355.9,188.0 351.2,192.1 345.8,196.1 340.4,198.8 333.7,202.8 328.3,206.9 323.0,212.2 318.9,217.6 314.9,219.6 308.2,221.6 300.1,221.0 296.1,223.0 294.1,228.3 292.1,233.7 286.7,237.1 282.0,239.8 279.3,235.7 274.6,235.7 270.6,231.0 262.5,229.0 254.5,228.3 247.8,227.0 243.7,223.6 235.7,221.6 229.0,218.3 222.2,214.9 215.5,211.6 210.8,208.2 211.5,200.1 212.2,192.1 208.8,185.4 206.8,178.6 207.5,170.6 205.4,163.9 207.5,157.2 206.8,150.4 210.1,142.4 216.9,139.7 224.9,134.3 233.0,128.9 241.0,122.9 247.8,118.2 251.8,114.2" fill="#e6e6e6" stroke="#000" stroke-width="1.5" stroke-linejoin="round"/>
<polygon points="290.1,-13.7 290.1,1.7 291.1,6.4 289.4,11.1 288.4,15.8 290.7,21.2 294.4,21.9 295.8,24.5 295.1,28.6 296.8,33.3 294.4,37.3 295.8,39.3 299.5,40.7 301.5,45.4 300.8,48.7 304.8,50.7 308.9,52.8 308.2,56.8 306.2,58.8 306.5,62.2 309.6,63.5 310.2,67.5 308.5,70.9 308.9,72.6 312.9,68.9 317.6,66.9 321.6,68.9 325.0,71.9 328.4,71.6 332.4,68.9 337.1,70.9 341.8,68.2 346.5,65.9 350.5,62.2 353.9,58.8 355.9,55.4 356.6,52.1 354.5,48.1 352.9,43.4 351.2,40.0 347.8,37.3 344.5,34.6 345.5,29.9 344.5,25.2 340.4,22.5 335.7,21.9 331.0,22.5 328.4,22.9 328.0,19.2 328.4,13.1 331.0,11.8 333.7,13.1 337.8,11.5 342.5,10.4 347.2,10.1 351.2,11.5 353.9,15.1 356.6,17.5 359.2,19.8 363.3,20.5 365.3,16.2 362.3,14.1 359.9,17.2 357.2,15.8 356.6,11.8 357.2,6.4 359.2,2.4 359.9,-13.7" fill="#e6e6e6" stroke="#000" stroke-width="1.5" stroke-linejoin="round"/>
<polyline points="-1.3,33.3 1.3,34.0 4.0,37.3 8.7,40.0 12.1,45.4 14.8,50.7 17.5,55.4 20.1,60.1 21.5,64.2 26.2,60.8 30.2,64.2 36.3,68.2 40.3,66.9 43.7,68.9" fill="none" stroke="#000" stroke-width="2.3" stroke-linejoin="round"/>
<polygon points="274.6,143.7 276.6,139.0 281.3,139.7 284.0,143.1 289.4,145.1 286.7,148.4 281.3,145.7 276.0,147.1" fill="#e6e6e6" stroke="#000" stroke-width="1.3"/>
<path d="M43.0,29.9 48.4,33.3 53.1,35.3M40.3,47.4 44.3,48.1 47.0,46.0M41.6,54.8 45.7,54.1M56.4,26.6 60.4,30.6 63.1,34.6 64.5,37.0M8.7,93.1 10.1,87.7M14.8,92.7 16.8,83.6M42.3,76.3 47.0,73.2M137.0,7.8 139.7,11.8 137.7,15.1M142.4,9.8 145.1,7.8 146.4,9.8 143.7,12.1 142.4,9.8M167.6,430.8 172.1,428.6 177.7,429.3 183.4,427.5 180.0,431.5 185.6,433.1 187.9,436.5M112.5,363.3 121.5,369.0 129.4,373.5 126.0,376.2 132.7,377.5M140.6,387.0 145.1,385.2 150.3,388.8 148.5,394.2 143.5,394.2 140.6,387.0M167.6,407.7 171.0,403.8 177.7,405.0 182.7,408.3 180.0,412.2 175.0,413.5 174.4,407.2M205.9,460.8 210.4,459.0 211.5,463.9 207.0,464.8 205.9,460.8M225.0,488.2 228.4,491.6 229.9,486.0M247.5,571.5 251.5,570.3 252.4,574.2 248.6,575.1 247.5,571.5M253.1,594.0 259.2,594.0 260.1,605.2 254.2,605.7 253.1,594.0M255.4,618.7 258.7,623.7 256.0,627.7 261.0,629.9 258.3,635.6 262.1,640.1 258.7,645.2 262.8,649.1M253.8,621.4 256.9,626.8 253.8,631.7 258.7,634.4 255.4,641.2 259.9,646.8M-1.1,600.7 3.4,605.2 4.9,609.7 1.8,613.1 -1.1,615.3M4.5,621.4 11.2,619.8 18.0,617.6M-1.1,647.9 3.4,651.3 6.3,658.1 6.7,664.8 2.2,667.7M88.9,345.3 92.2,343.8 92.7,346.5 89.5,347.6 88.9,345.3M192.4,420.3 195.3,418.9 199.1,421.2 198.4,425.7 195.3,423.0M241.9,465.7 244.1,466.8M243.4,469.1 247.5,470.2 246.4,468.4M253.1,112.8 257.2,108.8 260.5,110.8 257.8,112.8 259.8,115.5M357.2,90.0 360.6,88.7 363.3,92.7 361.9,96.7 359.5,94.0M378.0,122.9 383.4,121.6 382.1,126.9M349.2,186.7 352.5,182.0 356.6,189.4 351.9,189.4 349.2,186.7M312.9,219.6 316.3,217.6 318.9,220.0 316.0,222.3 312.9,219.6M289.4,231.0 292.8,229.7 293.4,233.0M355.2,161.2 359.2,159.2M341.8,201.5 346.5,196.1M300.1,92.7 302.2,96.0M311.6,96.7 314.9,98.1M329.7,13.1 332.4,7.8 335.7,5.1 338.4,3.1M331.0,11.1 335.1,8.4 337.8,5.7M332.4,13.1 336.4,9.8 339.1,7.1 340.4,3.7M327.0,11.1 329.7,9.8 331.7,5.7M297.5,34.6 300.8,33.3 302.5,34.3 300.1,35.6 297.5,34.6M293.8,21.9 295.1,20.5 296.1,22.9M306.9,52.8 309.6,50.1 310.6,53.4 313.6,54.8 316.3,55.1 315.6,58.8 317.6,60.8 314.3,61.2 312.9,58.8 310.9,58.1 308.9,59.5M304.2,58.8 306.9,58.1M339.1,29.3 341.1,31.3 339.8,33.3 342.5,34.6 340.4,37.3 343.8,37.3 345.8,40.0 347.8,42.7 350.5,43.4M338.4,36.0 341.8,39.3M346.5,34.6 348.5,34.3M360.9,46.7 361.6,45.4M357.9,64.8 360.6,62.2 360.9,60.5M337.1,16.8 338.4,17.5M333.4,19.5 334.4,19.8" fill="none" stroke="#000" stroke-width="1.3" stroke-linejoin="round" stroke-linecap="round"/>
<path d="M81.0,14.6 81.6,13.6 82.5,12.6 84.6,12.3 84.8,14.0 84.9,15.4 83.4,16.5 81.4,16.0ZM76.7,10.2 75.2,12.1 73.3,10.6 73.9,9.2 75.6,8.8ZM46.7,12.9 47.3,11.6 49.2,11.4 51.1,12.3 51.2,14.1 49.2,14.7 47.4,15.6 45.7,14.4ZM77.2,15.3 79.8,14.4 81.1,13.8 84.0,13.3 83.7,15.6 83.6,17.8 80.9,17.4 78.3,17.4ZM67.7,29.7 67.1,27.6 68.8,26.2 70.4,27.4 71.9,28.5 69.9,29.0ZM67.9,14.6 69.3,14.1 70.3,15.1 71.1,16.0 71.6,18.5 68.6,18.2 66.9,17.1 66.6,15.5ZM83.7,19.3 83.0,15.3 87.7,13.6 89.9,16.8 87.6,18.5ZM85.8,10.9 85.7,12.8 85.8,14.6 83.6,15.4 81.7,14.5 80.9,13.0 81.2,11.1 83.4,10.1ZM74.9,19.2 76.1,19.4 76.5,19.9 76.6,20.8 75.3,21.3 74.1,20.3ZM59.3,15.7 58.4,14.6 58.9,12.6 61.3,13.4 62.4,14.8 61.7,17.1ZM67.7,17.5 65.6,16.0 68.0,14.9 69.7,15.5 70.4,17.5ZM56.4,18.6 56.7,17.7 57.9,17.0 59.3,17.8 58.7,19.0 57.3,19.5ZM67.6,21.1 68.7,20.7 68.9,21.7 68.9,22.2 68.3,22.4 67.7,22.3 67.5,21.8ZM91.2,16.4 89.8,17.1 88.7,16.2 89.1,15.2 89.5,13.9 90.9,14.5 92.1,15.4ZM86.4,30.3 86.4,28.4 88.4,26.8 90.2,28.8 88.6,30.3ZM61.7,20.7 62.2,21.4 61.8,22.2 60.5,23.4 59.0,22.3 59.4,21.0 60.1,20.3 61.2,19.5ZM86.6,31.8 87.2,32.9 87.4,33.5 87.1,34.1 86.2,34.4 84.8,34.4 84.9,33.3 85.4,32.4ZM70.1,16.3 68.7,14.4 69.8,12.3 72.8,13.0 71.8,14.8ZM71.5,11.1 72.2,9.7 73.1,9.4 73.7,10.0 73.5,11.0ZM92.4,8.8 91.6,10.5 89.1,10.8 89.2,8.9 90.6,6.7ZM53.0,8.9 51.4,10.3 51.1,8.4 51.6,7.4 54.1,7.1ZM67.9,11.7 66.1,11.4 64.6,10.4 65.7,9.0 67.5,9.2 68.8,10.3ZM72.3,26.5 73.2,26.5 75.5,27.0 73.7,28.1 72.0,28.6 71.1,27.3ZM63.4,10.0 62.0,11.6 58.8,11.6 58.5,9.1 58.9,7.0 61.4,6.0 63.2,7.5 64.9,8.7ZM62.9,14.8 61.5,14.7 60.4,14.9 60.3,13.9 60.9,13.4 62.1,12.6 62.1,13.9ZM58.6,11.0 56.9,10.4 57.7,9.1 60.0,8.3 59.9,10.3ZM85.2,10.7 83.2,10.6 80.1,9.0 83.3,7.4 86.5,6.8 88.5,9.5ZM75.7,9.0 77.1,10.5 76.1,12.0 74.1,11.6 73.3,9.8ZM95.7,13.5 93.7,13.9 91.7,14.1 91.4,12.4 93.0,11.6 94.6,12.0ZM57.2,20.4 57.3,18.7 59.1,18.6 61.4,19.4 59.5,21.1ZM72.8,8.3 74.0,6.6 75.1,8.3 75.5,9.8 73.7,9.9 72.8,9.3ZM71.7,11.4 71.1,12.5 70.5,13.2 69.1,13.7 67.4,13.0 67.8,11.5 69.2,11.0 70.5,10.6ZM83.0,26.0 81.9,28.0 78.0,27.9 79.2,25.0 80.3,22.4 84.5,23.1ZM84.0,16.0 86.2,14.7 89.0,15.0 89.7,17.1 88.4,18.4 87.3,19.1 85.9,18.8 84.2,18.0ZM80.0,10.4 80.0,8.2 80.7,5.9 83.6,6.6 84.1,8.2 84.2,9.5 82.7,9.8ZM77.4,10.7 78.8,6.5 83.2,7.6 85.6,10.4 81.7,11.8ZM55.6,16.1 56.1,16.9 55.1,17.3 54.3,16.9 53.6,16.5 53.8,15.8 54.3,14.9 55.1,15.8ZM56.4,18.9 56.9,19.5 56.5,20.4 55.4,20.1 54.6,19.5 55.5,18.8ZM76.4,28.8 78.2,26.4 81.7,27.4 82.0,30.1 79.7,31.4 77.5,30.6ZM81.7,34.1 82.5,33.4 83.6,33.8 84.3,34.6 83.2,35.0 82.5,35.6 81.5,35.0ZM64.3,20.4 61.5,20.3 59.4,20.2 57.2,18.6 58.9,16.7 61.1,15.6 63.6,16.3 64.7,18.2ZM74.4,19.4 77.3,19.3 77.4,21.5 77.4,23.6 74.7,24.6 72.3,23.0 71.0,20.3ZM58.8,24.8 61.5,21.9 65.6,22.8 65.8,26.2 62.0,26.9ZM78.8,22.4 80.7,24.7 78.9,27.0 76.2,27.1 74.5,25.9 73.1,23.9 75.3,21.7ZM74.0,13.4 72.0,13.1 71.1,12.1 69.5,10.7 71.8,10.2 73.0,10.1 75.0,10.3 74.4,11.8ZM79.6,11.2 80.4,10.9 81.8,10.7 81.4,11.8 80.7,12.2 79.6,13.0 79.0,11.9ZM63.3,24.1 60.4,22.3 62.4,19.9 65.0,19.8 67.6,20.9 66.0,22.9ZM65.5,19.7 67.0,19.6 67.1,20.7 67.0,22.0 65.3,22.5 63.7,21.5 64.4,20.2ZM59.7,13.9 60.1,15.0 59.2,16.1 58.1,15.2 56.8,14.3 58.3,13.7ZM89.1,21.3 87.5,20.8 87.6,19.6 88.2,18.9 88.9,18.2 90.2,18.5 90.1,19.5 89.9,20.2ZM87.9,14.3 88.0,13.3 87.5,12.6 88.6,12.6 89.4,12.5 90.0,13.0 89.7,13.7 88.9,13.9ZM67.9,24.7 66.5,23.8 66.9,22.2 68.8,22.8 70.4,22.5 70.8,23.9 69.2,24.4ZM67.2,26.2 64.2,26.2 61.7,25.2 63.4,23.2 63.5,21.6 65.9,20.2 67.7,22.1 68.2,24.0ZM60.1,8.7 60.3,9.7 60.2,11.9 58.3,10.3 57.0,9.6 57.8,8.5 59.1,8.2ZM79.5,28.2 77.7,26.2 79.9,24.4 82.2,24.7 83.3,25.6 86.2,26.8 84.0,28.4 81.8,28.4ZM77.4,21.8 77.3,24.0 74.5,25.0 73.1,22.8 74.6,20.4ZM50.3,17.5 48.8,15.0 48.3,12.4 52.3,12.5 53.4,15.5ZM47.8,9.7 47.9,8.4 49.5,8.2 50.6,8.8 52.8,9.7 52.3,11.9 49.5,12.6 46.6,11.9ZM117.0,9.3 118.6,8.3 120.2,9.7 119.4,11.8 115.9,11.6ZM111.3,9.9 110.9,8.4 112.4,8.0 113.9,8.6 112.7,9.4ZM106.3,8.8 104.7,9.6 103.7,8.2 104.7,7.4 106.0,6.5 107.1,7.7ZM110.2,15.2 111.6,14.3 112.8,13.1 114.7,13.7 114.7,15.2 114.3,16.4 112.8,17.5 111.1,16.6ZM114.8,6.7 115.5,8.2 113.9,9.0 112.5,8.5 111.4,7.3 112.9,6.1ZM114.8,15.8 113.4,15.4 112.5,13.7 114.5,12.9 115.9,13.7 118.1,13.8 117.9,15.5 116.6,16.9ZM107.9,6.5 109.8,7.4 109.9,10.2 105.5,10.3 106.5,7.5ZM104.1,12.0 102.0,11.7 100.3,11.3 101.9,10.5 103.0,10.5ZM121.4,6.6 120.2,5.3 122.2,5.5 122.8,6.1 122.5,7.1ZM115.8,20.4 115.9,19.6 117.0,19.2 117.4,20.1 117.7,20.7 117.2,21.3 116.0,21.3ZM119.5,2.7 121.7,1.2 123.9,1.7 126.1,3.3 123.5,4.5 121.5,4.2ZM119.5,9.2 118.2,9.6 116.5,9.2 116.7,7.7 118.4,7.0 119.1,8.2ZM112.3,10.1 110.6,9.5 111.3,8.2 111.9,7.6 113.3,7.1 113.6,8.3 114.3,9.8ZM107.6,5.2 106.8,6.1 105.8,5.2 105.9,4.1 107.2,3.8 108.6,4.3ZM117.9,7.3 119.7,6.6 120.8,5.6 122.6,6.1 122.3,7.6 121.6,8.4 120.4,10.1 119.0,8.6ZM113.2,22.4 115.2,23.5 117.3,24.3 115.8,25.8 114.2,25.8 113.0,25.4 111.6,24.0ZM112.4,25.4 109.7,24.2 112.3,23.0 114.9,22.5 114.1,24.5ZM114.7,12.5 114.5,11.7 115.2,11.1 116.8,10.0 117.8,11.5 117.8,13.3 115.6,13.7ZM113.5,12.6 112.2,11.8 111.1,10.3 112.9,9.2 115.2,9.2 116.3,10.8 114.8,11.9ZM106.1,12.8 107.2,13.6 108.6,13.7 108.3,14.8 107.1,14.9 106.3,15.0 105.2,14.7 104.9,13.5ZM122.3,5.9 119.8,5.4 119.3,3.6 119.6,1.9 121.7,1.9 123.7,1.5 126.0,2.9 124.7,5.1ZM104.0,16.0 101.9,17.4 101.5,15.3 100.6,13.4 103.1,13.3 105.4,13.3 106.1,15.3ZM114.2,18.9 115.5,19.9 114.6,21.3 112.8,21.6 110.7,21.5 109.3,19.7 110.9,18.0 113.0,17.8ZM108.6,17.2 107.3,17.9 106.8,18.8 105.3,18.8 104.1,17.7 104.9,16.4 106.2,15.6 107.2,16.8ZM123.3,7.7 121.3,5.6 121.9,3.6 124.3,2.6 125.1,4.5 126.2,6.3ZM115.1,14.6 114.1,15.5 112.7,16.3 111.9,15.0 112.3,13.8 113.6,14.2Z" fill="#e6e6e6" stroke="#000" stroke-width="1.5" stroke-linejoin="round"/>
<path d="M134.9,80.5l1.2,-0.9 1.2,0.9 -1.2,0.9ZM250.3,18.0l1.2,-0.9 1.2,0.9 -1.2,0.9ZM263.2,234.4l1.2,-0.9 1.2,0.9 -1.2,0.9ZM103.4,658.1l1.2,-0.9 1.2,0.9 -1.2,0.9ZM313.8,219.4l1.2,-0.9 1.2,0.9 -1.2,0.9ZM43.8,74.2l1.2,-0.9 1.2,0.9 -1.2,0.9ZM114.3,31.9l1.2,-0.9 1.2,0.9 -1.2,0.9Z" fill="#000" stroke="#000" stroke-width="0.8"/>
<rect x="324" y="244.3" width="235.6" height="247" fill="none" stroke="#000" stroke-width="5.2"/>
<path d="M0.0,0v7M0.0,666.5v-7" stroke="#000" stroke-width="2"/>
<path d="M157.2,0v7M157.2,666.5v-7" stroke="#000" stroke-width="2"/>
<path d="M314.4,0v7M314.4,666.5v-7" stroke="#000" stroke-width="2"/>
<path d="M471.6,0v7M471.6,666.5v-7" stroke="#000" stroke-width="2"/>
<path d="M628.8,0v7M628.8,666.5v-7" stroke="#000" stroke-width="2"/>
<path d="M0,584.2h7M638.6,584.2h-7" stroke="#000" stroke-width="2"/>
<path d="M0,418.3h7M638.6,418.3h-7" stroke="#000" stroke-width="2"/>
<path d="M0,253.9h7M638.6,253.9h-7" stroke="#000" stroke-width="2"/>
<path d="M0,91.0h7M638.6,91.0h-7" stroke="#000" stroke-width="2"/>
</g>
<rect x="100.0" y="802.9" width="638.6" height="666.5" fill="none" stroke="#000" stroke-width="2.6"/>
<text x="126.2" y="1443.6999999999998" font-family="Liberation Sans, Arial, sans-serif" font-size="57" fill="#000" stroke="#000" stroke-width="0.9">D</text>
<text x="110.8" y="785.0" font-family="Liberation Sans, Arial, sans-serif" font-weight="bold" font-size="43" fill="#000">Relative MeanInt</text>
<rect x="760.5" y="1402.75" width="41.5" height="67.15" fill="#ffffff"/>
<rect x="760.5" y="1336.10" width="41.5" height="67.15" fill="#fff4d4"/>
<rect x="760.5" y="1269.45" width="41.5" height="67.15" fill="#ffe270"/>
<rect x="760.5" y="1202.80" width="41.5" height="67.15" fill="#ffcb33"/>
<rect x="760.5" y="1136.15" width="41.5" height="67.15" fill="#ffab33"/>
<rect x="760.5" y="1069.50" width="41.5" height="67.15" fill="#ff9933"/>
<rect x="760.5" y="1002.85" width="41.5" height="67.15" fill="#ff7033"/>
<rect x="760.5" y="936.20" width="41.5" height="67.15" fill="#ff5900"/>
<rect x="760.5" y="869.55" width="41.5" height="67.15" fill="#e82a22"/>
<rect x="760.5" y="802.90" width="41.5" height="67.15" fill="#c92116"/>
<line x1="797.0" y1="1402.75" x2="802.0" y2="1402.75" stroke="#000" stroke-width="1.2"/>
<line x1="797.0" y1="1336.10" x2="802.0" y2="1336.10" stroke="#000" stroke-width="1.2"/>
<line x1="797.0" y1="1269.45" x2="802.0" y2="1269.45" stroke="#000" stroke-width="1.2"/>
<line x1="797.0" y1="1202.80" x2="802.0" y2="1202.80" stroke="#000" stroke-width="1.2"/>
<line x1="797.0" y1="1136.15" x2="802.0" y2="1136.15" stroke="#000" stroke-width="1.2"/>
<line x1="797.0" y1="1069.50" x2="802.0" y2="1069.50" stroke="#000" stroke-width="1.2"/>
<line x1="797.0" y1="1002.85" x2="802.0" y2="1002.85" stroke="#000" stroke-width="1.2"/>
<line x1="797.0" y1="936.20" x2="802.0" y2="936.20" stroke="#000" stroke-width="1.2"/>
<line x1="797.0" y1="869.55" x2="802.0" y2="869.55" stroke="#000" stroke-width="1.2"/>
<rect x="760.5" y="802.9" width="41.5" height="666.5" fill="none" stroke="#222" stroke-width="1.2"/>
<text transform="translate(802.6,1480.5) scale(0.975,1)" font-family="Liberation Serif, Times New Roman, serif" font-weight="bold" font-size="47.3" fill="#000">0</text>
<text transform="translate(805.6,1351.7) scale(0.975,1)" font-family="Liberation Serif, Times New Roman, serif" font-weight="bold" font-size="47.3" fill="#000">0.4</text>
<text transform="translate(805.6,1218.4) scale(0.975,1)" font-family="Liberation Serif, Times New Roman, serif" font-weight="bold" font-size="47.3" fill="#000">0.8</text>
<text transform="translate(805.6,1085.1) scale(0.975,1)" font-family="Liberation Serif, Times New Roman, serif" font-weight="bold" font-size="47.3" fill="#000">1.2</text>
<text transform="translate(805.6,951.8) scale(0.975,1)" font-family="Liberation Serif, Times New Roman, serif" font-weight="bold" font-size="47.3" fill="#000">1.6</text>
<text transform="translate(802.6,825.0) scale(0.975,1)" font-family="Liberation Serif, Times New Roman, serif" font-weight="bold" font-size="47.3" fill="#000">2</text>
<text x="84.8" y="1403.6" text-anchor="end" font-family="Liberation Sans, Arial, sans-serif" font-weight="bold" font-size="35.4" fill="#000">14°N</text>
<text x="84.8" y="1237.7" text-anchor="end" font-family="Liberation Sans, Arial, sans-serif" font-weight="bold" font-size="35.4" fill="#000">16°N</text>
<text x="84.8" y="1073.3" text-anchor="end" font-family="Liberation Sans, Arial, sans-serif" font-weight="bold" font-size="35.4" fill="#000">18°N</text>
<text x="84.8" y="910.4" text-anchor="end" font-family="Liberation Sans, Arial, sans-serif" font-weight="bold" font-size="35.4" fill="#000">20°N</text>
<text x="112.2" y="1504.8" text-anchor="middle" font-family="Liberation Sans, Arial, sans-serif" font-weight="bold" font-size="35.6" fill="#000">106°E</text>
<text x="269.4" y="1504.8" text-anchor="middle" font-family="Liberation Sans, Arial, sans-serif" font-weight="bold" font-size="35.6" fill="#000">108°E</text>
<text x="426.6" y="1504.8" text-anchor="middle" font-family="Liberation Sans, Arial, sans-serif" font-weight="bold" font-size="35.6" fill="#000">110°E</text>
<text x="583.8" y="1504.8" text-anchor="middle" font-family="Liberation Sans, Arial, sans-serif" font-weight="bold" font-size="35.6" fill="#000">112°E</text>
<text x="741.0" y="1504.8" text-anchor="middle" font-family="Liberation Sans, Arial, sans-serif" font-weight="bold" font-size="35.6" fill="#000">114°E</text>
<clipPath id="cpE"><rect x="0" y="0" width="638.6" height="666.3"/></clipPath>
<g transform="translate(911.6,803.2)" clip-path="url(#cpE)">
<clipPath id="cqETL"><rect x="10.200000000000001" y="-0.6" width="310.4" height="336.2"/></clipPath>
<g clip-path="url(#cqETL)">
<rect x="10.8" y="0" width="309.2" height="335" fill="#ff7033"/>
<polygon points="22.5,140.6 29.2,129.4 42.7,121.5 51.7,112.5 60.7,101.2 74.2,92.2 90.0,87.7 99.0,82.1 110.2,77.6 126.0,73.1 135.0,75.4 148.5,83.2 157.5,92.2 173.2,100.1 157.5,106.9 144.0,112.5 132.7,119.2 126.0,122.6 117.0,112.5 99.0,108.0 85.5,108.0 67.5,112.5 49.5,119.2 42.7,130.5 36.0,140.6 28.1,148.5" fill="#ff9933"/>
<polygon points="49.5,202.5 58.5,210.4 67.5,205.9 78.7,201.4 85.5,192.4 96.7,184.5 105.7,180.0 97.9,171.0 101.2,162.0 112.5,157.5 126.0,156.4 144.0,155.2 157.5,157.5 162.0,166.5 166.5,177.7 177.7,186.7 186.7,192.4 202.5,202.5 326.2,202.5 326.2,337.5 -2.2,337.5 -2.2,202.5" fill="#ff9933"/>
<polygon points="165.4,245.2 175.5,241.9 189.0,238.5 191.2,243.0 195.7,254.2 202.5,267.7 216.0,273.4 234.0,263.2 247.5,254.2 258.7,243.0 270.0,245.2 326.2,245.2 326.2,337.5 126.0,337.5 132.7,315.0 144.0,288.0 153.0,270.0 162.0,254.2" fill="#ffab33"/>
<polygon points="51.7,243.0 55.1,231.7 63.0,222.7 78.7,219.4 90.0,222.7 94.5,236.2 99.0,247.5 103.5,256.5 101.2,267.7 105.7,279.0 112.5,285.7 114.7,297.0 119.2,303.7 112.5,315.0 108.0,337.5 45.0,337.5 45.0,247.5" fill="#ffab33"/>
<polygon points="157.5,326.2 166.5,317.2 175.5,324.0 166.5,330.7" fill="#ff9933"/>
<polygon points="225.0,328.5 236.2,324.0 247.5,326.2 245.2,337.5 225.0,337.5" fill="#ffcb33"/>
<polygon points="232.9,243.0 247.5,241.9 240.7,247.5" fill="#ff7033"/>
<polygon points="124.9,244.1 130.5,239.6 128.2,246.4" fill="#ff7033"/>
<polygon points="164.2,-2.2 272.2,-2.2 272.2,56.2 288.0,56.2 288.0,81.0 265.5,83.2 245.2,103.5 227.2,112.5 218.2,121.5 225.0,108.0 243.0,94.5 247.5,74.2 247.5,60.7 238.5,54.0 229.5,49.5 227.2,38.2 234.0,29.2 220.5,27.0 207.0,29.2 205.9,18.0 186.7,14.6 166.5,20.2" fill="#ff5900"/>
<polygon points="150.7,59.6 157.5,51.7 166.5,42.7 184.5,41.6 186.7,48.4 198.0,51.7 191.2,59.6 198.0,69.7 201.4,81.0 186.7,85.5 177.7,83.2 164.2,78.7 157.5,69.7" fill="#ff5900"/>
<polygon points="164.2,59.6 168.7,56.2 169.9,60.7 166.5,63.0" fill="#e82a22"/>
<polygon points="219.4,20.2 225.0,6.7 231.7,12.4 231.7,18.0 222.7,25.9" fill="#e82a22"/>
<polygon points="240.7,40.5 245.2,32.6 254.2,29.2 261.0,32.6 264.4,41.6 245.2,45.0" fill="#e82a22"/>
<polygon points="51.7,181.1 58.5,166.5 65.2,155.2 67.5,141.7 87.7,128.2 99.0,129.4 110.2,137.2 121.5,140.6 110.2,142.9 99.0,149.6 83.2,159.7 84.4,166.5 78.7,182.2 67.5,194.6" fill="#ff5900"/>
</g>
<clipPath id="cqETR"><rect x="319.4" y="-0.6" width="321.2" height="336.2"/></clipPath>
<g clip-path="url(#cqETR)">
<rect x="320" y="0" width="320" height="335" fill="#ffcb33"/>
<polygon points="646.2,6.7 639.9,9.0 623.7,18.0 608.0,22.5 599.0,31.5 590.0,42.7 567.5,58.5 545.0,72.0 522.5,81.0 500.0,90.0 486.5,96.7 477.5,92.2 464.0,85.5 452.7,69.7 441.5,69.7 430.2,83.2 419.0,96.7 410.0,108.0 401.0,117.0 397.6,122.6 387.5,122.6 387.5,-2.2 646.2,-2.2" fill="#ffab33"/>
<polygon points="632.7,-2.2 630.5,2.2 612.5,13.5 590.0,21.4 567.5,31.5 554.0,40.5 536.0,45.0 518.0,54.0 500.0,65.2 494.4,56.2 495.5,40.5 486.5,33.7 470.7,36.0 450.5,39.4 437.0,48.4 425.7,61.9 416.7,65.2 403.2,67.5 401.0,85.5 398.7,94.5 396.5,94.5 396.5,65.2 362.7,65.2 362.7,42.7 380.7,22.5 380.7,-2.2" fill="#ff9933"/>
<polygon points="317.8,221.6 333.7,221.8 328.8,236.5 317.8,240.7" fill="#ffab33"/>
<polygon points="646.2,103.5 639.9,105.7 623.7,110.2 601.2,114.7 578.7,126.0 556.2,137.2 533.7,146.2 511.2,157.5 488.7,166.5 473.0,173.2 459.5,182.2 450.5,193.5 441.5,204.7 434.7,213.7 433.8,216.9 432.0,226.8 435.0,238.5 430.0,246.1 422.4,254.0 407.7,265.7 378.5,283.3 349.2,297.9 325.8,304.6 317.8,308.2 317.8,342.0 646.2,342.0" fill="#ffab33"/>
<polygon points="317.8,270.0 325.8,266.6 344.3,260.8 332.6,279.2 325.8,288.0 317.8,290.2" fill="#ffab33"/>
<polygon points="646.2,126.0 639.9,128.2 623.7,132.7 601.2,144.0 578.7,155.2 556.2,164.2 533.7,175.5 511.2,186.7 495.5,198.0 477.5,209.2 468.9,216.9 466.0,231.5 456.3,246.1 446.7,257.8 417.4,277.4 388.2,292.9 358.9,307.6 339.6,317.2 325.8,323.1 317.8,326.2 317.8,342.0 646.2,342.0" fill="#ff9933"/>
<polygon points="646.2,141.7 639.9,144.0 623.7,150.7 601.2,162.0 578.7,171.0 556.2,182.2 536.0,193.5 518.0,202.5 500.0,209.2 485.6,216.9 480.6,231.5 474.8,246.1 470.1,257.8 466.0,265.7 441.7,280.3 417.4,295.0 388.2,309.6 358.9,327.1 352.2,337.5 352.2,342.0 646.2,342.0" fill="#ff7033"/>
<polygon points="646.2,162.0 639.9,164.2 623.7,171.0 601.2,180.0 578.7,191.2 556.2,202.5 536.0,209.2 522.5,213.7 510.8,216.9 511.9,228.6 507.0,246.1 504.9,260.8 499.1,275.4 485.6,290.9 479.7,295.9 468.9,295.0 446.7,297.9 432.9,304.6 433.4,312.5 439.7,320.2 444.6,322.2 436.8,327.1 427.1,337.5 427.1,342.0 646.2,342.0" fill="#ff5900"/>
<polygon points="378.5,337.5 394.0,322.2 412.5,313.4 411.6,324.2 418.3,331.9 420.3,337.5" fill="#ff5900"/>
<polygon points="442.6,337.5 451.4,325.1 461.3,317.2 481.8,322.2 475.9,337.5" fill="#e82a22"/>
<polygon points="646.2,198.0 639.9,200.2 628.2,203.6 612.5,208.1 594.5,209.2 578.7,216.0 560.1,219.8 539.1,236.5 534.2,256.0 528.3,274.5 537.1,284.2 556.7,279.4 565.2,279.0 578.7,270.0 601.2,263.2 619.2,254.2 646.2,247.5" fill="#e82a22"/>
<polygon points="485.6,337.5 500.2,306.7 518.7,304.6 513.7,337.5" fill="#ff7033"/>
<polygon points="493.5,337.5 500.2,320.2 504.0,320.6 503.1,337.5" fill="#ff9933"/>
<polygon points="646.2,289.1 639.9,290.2 623.7,292.5 601.2,294.7 578.7,301.5 563.0,303.7 556.7,304.6 539.1,306.7 539.1,324.2 547.0,337.5 646.2,337.5" fill="#ff7033"/>
<polygon points="646.2,310.5 639.9,312.7 623.7,317.2 612.5,324.0 605.7,337.5 646.2,337.5" fill="#ff9933"/>
</g>
<clipPath id="cqEBL"><rect x="10.200000000000001" y="334.4" width="310.4" height="336.2"/></clipPath>
<g clip-path="url(#cqEBL)">
<rect x="10.8" y="335" width="309.2" height="335" fill="#ffab33"/>
<polygon points="225.0,450.9 234.0,440.7 245.2,425.0 254.2,436.2 270.0,440.7 288.0,443.0 292.5,461.0 299.2,479.0 308.2,497.0 315.0,519.5 317.2,542.0 313.9,569.0 317.2,582.5 326.2,589.2 326.2,672.5 225.0,672.5" fill="#ffcb33"/>
<polygon points="240.7,470.0 245.2,455.4 258.7,454.2 261.0,467.7 245.2,484.6" fill="#ffab33"/>
<polygon points="244.1,497.0 261.0,492.5 256.5,506.0 245.2,512.7" fill="#ffab33"/>
<polygon points="261.0,638.7 265.5,632.0 281.2,643.2 280.1,659.0 263.2,659.0" fill="#ffab33"/>
<polygon points="299.2,636.5 306.0,634.2 307.1,672.5 300.4,672.5" fill="#ffe270"/>
<polygon points="221.6,348.5 225.0,332.8 231.7,332.8 227.2,353.0" fill="#ffcb33"/>
<polygon points="223.9,407.0 226.1,395.7 229.5,407.0" fill="#ffcb33"/>
<polygon points="203.6,402.5 216.0,422.7 225.0,447.5 204.7,447.5 202.5,425.0" fill="#ff9933"/>
<polygon points="272.2,366.5 285.7,341.7 292.5,364.2 279.0,375.5" fill="#ff9933"/>
<polygon points="310.5,373.2 326.2,355.2 326.2,461.0 315.0,447.5 310.5,402.5" fill="#ff9933"/>
<polygon points="146.2,355.2 157.5,354.1 162.0,365.4 146.2,366.5" fill="#ff9933"/>
</g>
<clipPath id="cqEBR"><rect x="319.4" y="334.4" width="321.2" height="336.2"/></clipPath>
<g clip-path="url(#cqEBR)">
<rect x="320" y="335" width="320" height="335" fill="#ff7033"/>
<polygon points="317.8,332.8 349.2,332.8 342.5,348.5 333.5,368.7 329.0,402.5 331.2,429.5 340.2,447.5 347.0,470.0 353.7,488.0 362.7,506.0 371.7,526.2 375.1,560.0 374.0,582.5 365.0,605.0 360.5,634.2 361.6,659.0 365.0,672.5 317.8,672.5" fill="#ff9933"/>
<polygon points="317.8,490.2 326.7,492.5 333.5,510.5 335.7,537.5 334.6,560.0 342.5,578.0 344.7,605.0 342.5,627.5 335.7,650.0 329.0,672.5 317.8,672.5" fill="#ffab33"/>
<polygon points="317.8,584.7 324.5,589.2 326.7,627.5 324.5,672.5 317.8,672.5" fill="#ffcb33"/>
<polygon points="353.7,332.8 545.0,332.8 548.4,344.0 547.2,355.2 536.0,350.7 518.0,355.2 506.7,366.5 504.5,380.0 511.2,395.7 520.2,411.5 531.5,400.2 539.4,386.7 546.1,395.7 542.7,404.7 538.2,425.0 532.6,445.2 536.0,452.0 545.0,452.0 558.5,457.6 567.5,457.6 578.7,464.4 587.7,459.9 581.0,479.0 574.2,499.2 565.2,512.7 554.0,526.2 542.7,542.0 536.0,557.7 527.0,573.5 522.5,589.2 520.2,600.5 511.2,614.0 495.5,616.2 491.0,627.5 479.7,636.5 473.0,621.9 455.0,623.0 441.5,623.0 432.5,629.7 424.6,641.0 414.5,652.2 398.7,659.0 395.4,656.7 393.1,643.2 381.9,636.5 381.9,614.0 387.5,600.5 398.7,589.2 406.6,569.0 413.4,551.0 416.7,530.7 412.2,519.5 407.7,506.0 380.7,492.5 377.4,479.0 374.0,461.0 365.0,447.5 353.7,436.2 340.2,429.5 339.1,402.5 341.4,368.7 347.0,348.5" fill="#ff5900"/>
<polygon points="455.0,364.2 464.0,355.2 477.5,344.0 488.7,332.8 513.5,332.8 511.2,348.5 500.0,357.5 486.5,356.4 477.5,364.2 464.0,377.7 455.0,373.2" fill="#ff7033"/>
<polygon points="488.7,341.7 493.2,332.8 506.7,332.8 502.2,348.5 493.2,348.5" fill="#ff9933"/>
<polygon points="513.5,368.7 518.0,359.7 536.0,355.2 547.2,358.6 546.1,366.5 536.0,374.4 520.2,380.0" fill="#ff9933"/>
<polygon points="360.5,407.0 361.6,384.5 371.7,364.2 385.2,350.7 405.5,337.2 410.0,344.0 414.5,354.1 423.5,354.1 437.0,344.0 448.2,332.8 477.5,332.8 466.2,350.7 455.0,359.7 447.1,368.7 448.2,380.0 452.7,386.7 446.0,391.2 437.0,399.1 426.9,407.0 430.2,419.4 441.5,421.6 452.7,409.2 458.4,396.9 477.5,399.1 491.0,396.9 497.7,407.0 498.9,427.2 484.2,436.2 466.2,443.0 459.5,441.9 448.2,452.0 430.2,461.0 414.5,455.4 412.2,447.5 403.2,434.0 385.2,420.5 371.7,413.7" fill="#e82a22"/>
<polygon points="437.0,407.0 449.4,399.1 442.6,412.6" fill="#ff7033"/>
<polygon points="447.1,512.7 448.2,501.5 457.2,483.5 468.5,477.9 486.5,476.7 497.7,488.0 509.0,497.0 521.4,509.4 511.2,524.0 506.7,537.5 502.2,552.1 488.7,560.0 475.2,569.0 461.7,580.2 448.2,581.4 429.1,585.9 432.5,571.2 441.5,555.5 448.2,542.0 455.0,533.0 450.5,524.0" fill="#e82a22"/>
<polygon points="590.0,341.7 601.2,332.8 646.2,332.8 646.2,389.0 623.7,395.7 599.0,407.0 583.2,395.7 587.7,368.7" fill="#ff9933"/>
<polygon points="612.5,447.5 619.2,429.5 630.5,420.5 646.2,418.2 646.2,470.0 621.5,461.0" fill="#ff9933"/>
<polygon points="630.5,443.0 635.0,427.2 646.2,425.0 646.2,461.0 635.0,456.5" fill="#ffab33"/>
<polygon points="576.5,551.0 608.0,543.1 619.2,551.0 646.2,557.7 646.2,672.5 542.7,672.5 541.6,656.7 549.5,636.5 558.5,625.2 569.7,611.7 572.0,582.5 574.2,560.0" fill="#ff9933"/>
<polygon points="646.2,605.0 626.0,616.2 612.5,625.2 594.5,634.2 587.7,650.0 583.2,659.0 587.7,672.5 646.2,672.5" fill="#ffab33"/>
</g>
<path d="M266.4,-0.1 266.4,59.3 266.2,59.5 266.4,59.5 266.4,59.7 266.6,59.5 286.1,59.5 286.1,80.9 284.8,82.1 265.4,82.1 265.4,81.9 265.1,82.1 245.4,102.5 245.4,121.9 265.3,101.3 284.8,101.3 284.8,101.6 304.9,80.8 304.7,80.8 304.7,60.7 304.9,60.5 304.7,60.5 304.7,40.5 304.9,40.3 304.7,40.3 304.7,40.1 304.5,40.3 285.0,40.3 285.0,20.3 285.3,20.1 285.0,20.1 285.0,0.1 285.3,-0.1 285.0,-0.1 285.0,-0.3 284.8,-0.1Z" fill="#ff7033" fill-rule="evenodd"/>
<path d="M68.9,19.9 48.7,40.6 48.9,40.6 48.9,60.6 9.4,101.3 9.7,101.3 9.7,120.3 67.4,60.8 67.6,60.5 67.4,60.5 67.4,40.5 68.8,39.0 89.8,39.0 89.8,59.1 89.6,59.3 89.8,59.3 89.8,59.5 90.0,59.3 107.9,59.3 107.9,59.5 146.2,20.1 146.0,20.1 146.0,-0.1 127.5,-0.1 127.5,20.2 108.2,40.1 108.2,20.3 108.4,20.1 108.2,20.1 108.2,19.9 108.0,20.1 88.5,20.1 88.5,19.9 88.3,20.1 68.9,20.1ZM245.5,105.1 227.4,121.3 225.9,122.9 206.5,122.9 206.5,122.7 188.0,141.6 187.8,141.9 188.0,141.9 188.0,182.6 206.5,182.6 206.5,162.2 206.7,162.0 206.5,162.0 206.5,141.9 225.8,141.9 225.8,142.2 265.3,101.3 284.8,101.3 284.8,101.6 304.9,80.8 304.7,80.8 304.7,60.7 304.9,60.5 304.7,60.5 304.7,40.5 304.9,40.3 304.7,40.3 304.7,40.1 304.5,40.3 285.0,40.3 285.0,20.3 285.3,20.1 285.0,20.1 285.0,0.1 285.3,-0.1 285.0,-0.1 285.0,-0.3 284.8,-0.1 269.0,-0.1 269.0,56.6 268.8,56.8 269.0,56.8 269.0,57.0 269.2,56.8 288.7,56.8 288.7,80.9 284.8,84.8 265.4,84.8 265.4,84.6Z" fill="#ff9933" fill-rule="evenodd"/>
<path d="M108.2,20.3 108.4,20.1 108.2,20.1 108.2,19.9 108.0,20.1 88.5,20.1 88.5,19.9 88.3,20.1 68.9,20.1 68.9,19.9 68.6,20.1 48.7,40.6 48.9,40.6 48.9,60.6 9.4,101.3 9.7,101.3 9.7,117.2 64.4,60.8 64.6,60.5 64.4,60.5 64.4,40.5 68.8,35.9 92.8,35.9 92.8,55.9 92.6,56.2 92.8,56.2 92.8,56.4 93.0,56.2 107.9,56.2 107.9,56.4 143.2,20.1 143.0,20.1 143.0,-0.1 127.5,-0.1 127.5,20.2 108.2,40.1ZM47.2,204.6 9.7,204.6 9.7,223.2 9.4,223.4 9.7,223.4 9.7,223.7 9.9,223.4 29.3,223.4 29.3,243.7 29.1,243.9 29.3,243.9 29.3,264.6 47.5,245.6 47.5,204.8 47.7,204.6 47.5,204.6 47.5,204.4ZM230.4,121.3 225.9,126.0 206.5,126.0 206.5,125.8 190.8,141.9 191.0,141.9 191.0,182.5 188.2,201.5 188.3,221.4 188.1,221.6 188.3,221.6 188.3,221.8 188.5,221.6 207.9,221.6 207.9,241.8 207.7,242.0 207.9,242.0 207.9,242.2 208.2,242.0 266.9,242.0 266.9,243.9 302.8,243.9 304.7,241.9 304.7,222.9 285.0,243.4 285.0,223.4 285.3,223.1 285.0,223.1 285.0,222.9 284.8,223.1 265.4,223.1 265.4,222.9 265.2,223.1 245.8,223.1 245.8,222.9 245.5,223.1 226.1,223.1 226.1,202.9 226.3,202.7 226.1,202.7 226.1,202.5 225.9,202.7 206.5,202.7 206.5,182.6 206.7,182.3 206.5,182.3 206.5,162.2 206.7,162.0 206.5,162.0 206.5,141.9 225.8,141.9 225.8,142.2 265.3,101.3 284.8,101.3 284.8,101.6 304.9,80.8 304.7,80.8 304.7,60.7 304.9,60.5 304.7,60.5 304.7,40.5 304.9,40.3 304.7,40.3 304.7,40.1 304.5,40.3 285.0,40.3 285.0,20.3 285.3,20.1 285.0,20.1 285.0,0.1 285.3,-0.1 285.0,-0.1 285.0,-0.3 284.8,-0.1 271.7,-0.1 271.7,53.9 271.4,54.1 271.7,54.1 271.7,54.3 271.9,54.1 291.3,54.1 291.3,80.9 284.8,87.5 265.4,87.5 265.4,87.3 245.5,107.8ZM204.7,430.6 204.7,407.9 186.5,407.9 186.5,428.6 186.3,428.8 186.5,428.8 186.5,449.7ZM381.5,20.4 381.5,-0.1 363.4,-0.1 363.4,20.2 363.1,20.4 363.4,20.4 363.4,20.6 363.6,20.4ZM401.4,62.4 363.4,62.4 363.4,80.9 363.1,81.1 363.4,81.1 363.4,81.3 363.6,81.1 383.0,81.1 383.0,81.3Z" fill="#ffab33" fill-rule="evenodd"/>
<path d="M68.9,19.9 48.7,40.6 48.9,40.6 48.9,60.6 9.4,101.3 9.7,101.3 9.7,114.0 61.3,60.8 61.5,60.5 61.3,60.5 61.3,40.5 68.8,32.8 95.8,32.8 95.8,52.8 95.6,53.0 95.8,53.0 95.8,53.3 96.0,53.0 107.9,53.0 107.9,53.3 140.1,20.1 139.9,20.1 139.9,-0.1 127.5,-0.1 127.5,20.2 108.2,40.1 108.2,20.3 108.4,20.1 108.2,20.1 108.2,19.9 108.0,20.1 88.5,20.1 88.5,19.9 88.3,20.1 68.9,20.1ZM29.1,243.9 29.3,243.9 29.3,264.1 29.1,264.3 29.3,264.3 29.3,284.6 29.1,284.8 29.3,284.8 29.3,285.0 29.5,284.8 48.9,284.8 48.9,305.1 48.7,305.3 48.9,305.3 48.9,305.5 49.2,305.3 68.6,305.3 68.6,325.6 68.4,325.8 68.6,325.8 68.6,326.1 68.8,325.8 88.2,325.8 88.2,346.2 88.0,346.4 88.2,346.4 88.2,346.6 88.5,346.4 107.9,346.4 107.9,366.8 107.7,367.0 107.9,367.0 107.9,367.2 108.1,367.0 127.5,367.0 127.5,387.4 127.3,387.6 127.5,387.6 127.5,387.8 127.8,387.6 147.2,387.6 147.2,387.8 147.4,387.6 166.8,387.6 166.8,408.0 166.6,408.2 166.8,408.2 166.8,408.4 167.1,408.2 186.5,408.2 186.5,428.6 186.3,428.8 186.5,428.8 186.5,449.3 186.3,449.5 186.5,449.5 186.5,470.0 186.3,470.2 186.5,470.2 186.5,470.4 186.7,470.2 206.2,470.2 206.2,470.4 206.4,470.2 225.8,470.2 225.8,491.1 243.6,472.4 243.6,469.9 226.1,469.9 226.1,451.5 204.3,451.5 204.3,449.2 201.1,434.3 201.1,408.0 204.3,389.8 204.5,389.6 204.3,389.6 204.3,389.2 204.1,389.6 184.6,389.6 184.6,369.2 184.8,369.0 184.6,369.0 184.6,368.7 184.4,369.0 145.3,369.0 145.3,348.6 145.5,348.4 145.3,348.4 145.3,348.2 145.1,348.4 125.7,348.4 125.7,346.1 122.5,331.3 122.6,331.2 122.4,331.0 122.3,331.1 108.2,327.8 106.0,327.8 106.0,307.5 106.2,307.3 106.0,307.3 106.0,307.1 105.8,307.3 86.4,307.3 86.4,287.0 86.6,286.8 86.4,286.8 86.4,286.6 86.2,286.8 66.7,286.8 66.7,266.5 66.9,266.3 66.7,266.3 66.7,266.1 66.5,266.3 47.1,266.3 47.1,264.0 43.9,249.3 43.9,208.5 44.1,208.3 43.9,208.3 43.9,208.1 43.7,208.3 9.7,208.3 9.7,223.2 9.4,223.4 9.7,223.4 9.7,223.7 9.9,223.4 29.3,223.4 29.3,243.7ZM191.7,217.9 191.9,217.9 191.9,218.1 192.1,217.9 211.5,217.9 211.5,238.1 211.3,238.3 211.5,238.3 211.5,238.5 211.7,238.3 270.5,238.3 270.5,243.7 267.3,261.8 267.1,262.1 267.3,262.1 267.2,262.4 267.5,262.1 284.8,262.1 284.8,262.3 299.3,243.8 304.7,238.3 322.1,223.4 324.3,221.2 326.4,221.2 344.2,202.7 324.3,202.7 324.3,202.5 285.0,243.4 285.0,223.4 285.3,223.1 285.0,223.1 285.0,222.9 284.8,223.1 265.4,223.1 265.4,222.9 265.2,223.1 245.8,223.1 245.8,222.9 245.5,223.1 226.1,223.1 226.1,202.9 226.3,202.7 226.1,202.7 226.1,202.5 225.9,202.7 206.5,202.7 206.5,182.6 206.7,182.3 206.5,182.3 206.5,162.2 206.7,162.0 206.5,162.0 206.5,141.9 225.8,141.9 225.8,142.2 265.3,101.3 284.8,101.3 284.8,101.6 304.9,80.8 304.7,80.8 304.7,60.7 304.9,60.5 304.7,60.5 304.7,40.5 304.9,40.3 304.7,40.3 304.7,40.1 304.5,40.3 285.0,40.3 285.0,20.3 285.3,20.1 285.0,20.1 285.0,0.1 285.3,-0.1 285.0,-0.1 285.0,-0.3 284.8,-0.1 274.3,-0.1 274.3,51.2 274.1,51.4 274.3,51.4 274.3,51.6 274.5,51.4 293.9,51.4 293.9,80.9 284.8,90.2 265.4,90.2 265.4,90.0 245.5,110.5 233.1,121.6 225.9,129.1 206.5,129.1 206.5,128.9 194.1,141.6 193.9,141.9 194.1,141.9 194.1,182.5 191.8,197.8 191.9,217.7ZM245.8,513.6 243.6,513.6 243.6,511.3 225.8,511.3 225.8,532.2 225.6,532.4 225.8,532.4 225.8,532.6 226.0,532.4 245.8,532.4ZM263.2,659.5 263.2,636.3 245.4,636.3 245.4,657.2 245.3,657.5 245.4,657.5 245.4,678.2 245.3,678.4 245.4,678.4 245.4,678.6 245.7,678.4 265.4,678.4 265.4,659.5ZM377.9,20.4 377.9,-0.1 363.4,-0.1 363.4,20.2 363.1,20.4 363.4,20.4 363.4,20.6 363.6,20.4ZM363.4,81.3 363.6,81.1 383.0,81.1 383.0,101.1 382.8,101.3 383.0,101.3 383.0,121.9 400.8,103.5 400.8,81.1 397.6,66.2 397.8,66.0 397.6,66.0 397.5,65.9 397.4,66.0 363.4,66.0 363.4,80.9 363.1,81.1 363.4,81.1Z" fill="#ffcb33" fill-rule="evenodd"/>
<path d="M68.9,19.9 48.7,40.6 48.9,40.6 48.9,60.6 9.7,101.0 9.4,101.3 9.7,101.3 9.7,110.9 58.3,60.8 58.5,60.5 58.3,60.5 58.3,40.5 68.8,29.7 98.8,29.7 98.8,49.7 98.6,49.9 98.8,49.9 98.8,50.2 99.0,49.9 107.9,49.9 107.9,50.2 137.1,20.1 136.9,20.1 136.9,-0.1 127.5,-0.1 127.5,20.2 108.2,40.1 108.2,20.3 108.4,20.1 108.2,20.1 108.2,19.9 108.0,20.1 88.5,20.1 88.5,19.9 88.3,20.1 68.9,20.1ZM9.7,223.2 9.4,223.4 9.7,223.4 9.7,223.7 9.9,223.4 29.3,223.4 29.3,243.7 29.1,243.9 29.3,243.9 29.3,264.1 29.1,264.3 29.3,264.3 29.3,284.6 29.1,284.8 29.3,284.8 29.3,285.0 29.5,284.8 48.9,284.8 48.9,305.1 48.7,305.3 48.9,305.3 48.9,305.5 49.2,305.3 68.6,305.3 68.6,325.6 68.4,325.8 68.6,325.8 68.6,326.1 68.8,325.8 88.2,325.8 88.2,346.2 88.0,346.4 88.2,346.4 88.2,346.6 88.5,346.4 107.9,346.4 107.9,366.8 107.7,367.0 107.9,367.0 107.9,367.2 108.1,367.0 127.5,367.0 127.5,387.4 127.3,387.6 127.5,387.6 127.5,387.8 127.8,387.6 147.2,387.6 147.2,387.8 147.4,387.6 166.8,387.6 166.8,408.0 166.6,408.2 166.8,408.2 166.8,408.4 167.1,408.2 186.5,408.2 186.5,428.6 186.3,428.8 186.5,428.8 186.5,449.3 186.3,449.5 186.5,449.5 186.5,470.0 186.3,470.2 186.5,470.2 186.5,470.4 186.7,470.2 206.2,470.2 206.2,470.4 206.4,470.2 225.8,470.2 225.8,490.7 225.6,490.9 225.8,490.9 225.8,511.4 225.6,511.6 225.8,511.6 225.8,532.2 225.6,532.4 225.8,532.4 225.8,532.6 226.0,532.4 245.4,532.4 245.4,553.0 245.3,553.2 245.4,553.2 245.4,573.8 245.3,574.0 245.4,574.0 245.4,574.2 245.7,574.0 265.1,574.0 265.1,594.6 245.3,615.7 245.4,615.7 245.4,636.3 245.3,636.6 245.4,636.6 245.4,657.2 245.3,657.5 245.4,657.5 245.4,678.2 245.3,678.4 245.4,678.4 245.4,678.6 245.7,678.4 265.1,678.4 265.1,678.6 265.3,678.4 282.2,678.4 282.2,660.4 282.5,660.0 282.2,660.1 282.2,659.9 282.0,660.2 265.2,664.1 258.8,664.1 258.8,636.4 262.7,618.0 262.6,618.1 262.6,615.6 282.4,594.5 282.2,594.5 282.2,556.1 282.4,555.9 282.2,555.9 282.2,555.6 282.0,555.9 262.6,555.9 262.6,514.5 262.9,514.2 262.6,514.3 262.6,514.1 262.4,514.3 245.6,518.3 239.2,518.3 239.2,511.5 243.0,493.2 242.9,493.3 242.9,490.6 239.2,476.9 239.2,470.0 242.9,452.4 243.2,452.0 243.0,452.1 243.0,451.8 242.7,452.2 225.9,456.1 199.9,456.1 199.9,449.2 197.5,438.1 197.5,408.0 199.9,394.4 200.1,394.1 199.9,394.1 200.0,393.8 199.7,394.1 180.2,394.1 180.2,373.7 180.5,373.5 180.2,373.5 180.2,373.3 180.0,373.5 140.9,373.5 140.9,353.2 141.2,352.9 140.9,352.9 140.9,352.7 140.7,352.9 121.3,352.9 121.3,346.1 118.9,335.1 119.1,334.9 118.9,334.7 118.7,334.9 108.2,332.4 101.7,332.4 101.7,312.1 101.9,311.9 101.7,311.9 101.7,311.6 101.4,311.9 82.0,311.9 82.0,291.6 82.2,291.3 82.0,291.3 82.0,291.1 81.8,291.3 62.3,291.3 62.3,271.1 62.6,270.9 62.3,270.9 62.3,270.6 62.1,270.9 42.7,270.9 42.7,264.0 40.3,253.0 40.3,212.2 40.5,212.0 40.3,212.0 40.3,211.8 40.1,212.0 9.7,212.0ZM206.5,132.0 196.9,141.9 197.1,141.9 197.1,182.5 195.4,194.1 195.4,214.0 195.2,214.2 195.4,214.2 195.4,214.4 195.6,214.2 215.1,214.2 215.1,234.4 214.9,234.6 215.1,234.6 215.1,234.8 215.3,234.6 274.0,234.6 274.0,243.7 271.7,257.3 271.4,257.5 271.6,257.5 271.6,257.8 271.9,257.5 284.8,257.5 284.8,257.8 295.7,243.8 304.7,234.5 318.1,223.1 324.3,216.6 330.7,216.6 343.7,220.5 343.7,220.7 344.0,220.6 380.7,182.3 380.5,182.3 380.5,141.9 400.3,121.3 400.1,121.3 396.4,107.9 396.4,81.1 394.0,69.9 394.2,69.7 394.0,69.7 394.0,69.6 393.8,69.7 363.6,69.7 363.6,69.6 346.2,81.1 346.3,81.1 343.8,83.7 341.2,83.7 341.2,81.0 343.7,78.4 343.7,78.6 354.8,60.5 361.1,42.7 360.8,43.0 360.8,40.5 363.4,37.9 363.4,38.1 374.5,20.1 374.4,20.1 374.4,-0.1 363.4,-0.1 363.4,20.2 343.5,40.6 343.7,40.6 343.7,60.6 323.8,81.1 324.1,81.1 324.1,101.1 323.8,101.3 324.1,101.3 324.1,101.6 324.3,101.3 343.7,101.3 343.7,101.6 363.6,81.1 383.0,81.1 383.0,101.1 382.8,101.3 383.0,101.3 383.0,121.4 363.1,141.9 363.4,141.9 363.4,162.1 363.1,162.3 363.4,162.3 363.4,182.4 343.8,202.7 324.3,202.7 324.3,202.5 285.0,243.4 285.0,223.4 285.3,223.1 285.0,223.1 285.0,222.9 284.8,223.1 265.4,223.1 265.4,222.9 265.2,223.1 245.8,223.1 245.8,222.9 245.5,223.1 226.1,223.1 226.1,202.9 226.3,202.7 226.1,202.7 226.1,202.5 225.9,202.7 206.5,202.7 206.5,182.6 206.7,182.3 206.5,182.3 206.5,162.2 206.7,162.0 206.5,162.0 206.5,141.9 225.8,141.9 225.8,142.2 265.3,101.3 284.8,101.3 284.8,101.6 304.9,80.8 304.7,80.8 304.7,60.7 304.9,60.5 304.7,60.5 304.7,40.5 304.9,40.3 304.7,40.3 304.7,40.1 304.5,40.3 285.0,40.3 285.0,20.3 285.3,20.1 285.0,20.1 285.0,0.1 285.3,-0.1 285.0,-0.1 285.0,-0.3 284.8,-0.1 276.9,-0.1 276.9,48.5 276.7,48.7 276.9,48.7 276.9,48.9 277.1,48.7 296.5,48.7 296.5,80.9 284.8,92.9 265.4,92.9 265.4,92.7 245.5,113.3 236.1,121.6 225.9,132.3 206.5,132.3Z" fill="#ffe270" fill-rule="evenodd"/>
<path d="M68.9,19.9 48.7,40.6 48.9,40.6 48.9,60.6 9.7,101.0 9.4,101.3 9.7,101.3 9.7,107.8 55.3,60.8 55.5,60.5 55.3,60.5 55.3,40.5 68.8,26.6 101.9,26.6 101.9,46.6 101.6,46.8 101.9,46.8 101.9,47.0 102.1,46.8 107.9,46.8 107.9,47.0 134.1,20.1 133.9,20.1 133.9,-0.1 127.5,-0.1 127.5,20.2 108.2,40.1 108.2,20.3 108.4,20.1 108.2,20.1 108.2,19.9 108.0,20.1 88.5,20.1 88.5,19.9 88.3,20.1 68.9,20.1ZM9.7,223.2 9.4,223.4 9.7,223.4 9.7,223.7 9.9,223.4 29.3,223.4 29.3,243.7 29.1,243.9 29.3,243.9 29.3,264.1 29.1,264.3 29.3,264.3 29.3,284.6 29.1,284.8 29.3,284.8 29.3,285.0 29.5,284.8 48.9,284.8 48.9,305.1 48.7,305.3 48.9,305.3 48.9,305.5 49.2,305.3 68.6,305.3 68.6,325.6 68.4,325.8 68.6,325.8 68.6,326.1 68.8,325.8 88.2,325.8 88.2,346.2 88.0,346.4 88.2,346.4 88.2,346.6 88.5,346.4 107.9,346.4 107.9,366.8 107.7,367.0 107.9,367.0 107.9,367.2 108.1,367.0 127.5,367.0 127.5,387.4 127.3,387.6 127.5,387.6 127.5,387.8 127.8,387.6 147.2,387.6 147.2,387.8 147.4,387.6 166.8,387.6 166.8,408.0 166.6,408.2 166.8,408.2 166.8,408.4 167.1,408.2 186.5,408.2 186.5,428.6 186.3,428.8 186.5,428.8 186.5,449.3 186.3,449.5 186.5,449.5 186.5,470.0 186.3,470.2 186.5,470.2 186.5,470.4 186.7,470.2 206.2,470.2 206.2,470.4 206.4,470.2 225.8,470.2 225.8,490.7 225.6,490.9 225.8,490.9 225.8,511.4 225.6,511.6 225.8,511.6 225.8,532.2 225.6,532.4 225.8,532.4 225.8,532.6 226.0,532.4 245.4,532.4 245.4,553.0 245.3,553.2 245.4,553.2 245.4,573.8 245.3,574.0 245.4,574.0 245.4,574.2 245.7,574.0 265.1,574.0 265.1,594.6 245.3,615.7 245.4,615.7 245.4,636.3 245.3,636.6 245.4,636.6 245.4,657.2 245.3,657.5 245.4,657.5 245.4,678.2 245.3,678.4 245.4,678.4 245.4,678.6 245.7,678.4 265.1,678.4 265.1,678.6 265.3,678.4 276.6,678.4 276.6,666.3 276.9,666.0 276.6,666.1 276.6,665.9 276.4,666.1 265.2,668.8 254.5,668.8 254.5,636.4 257.1,624.0 257.0,624.1 257.0,615.6 276.8,594.5 276.6,594.5 276.6,562.0 276.8,561.8 276.6,561.8 276.6,561.6 276.4,561.8 257.0,561.8 257.0,520.4 257.3,520.1 257.0,520.2 257.0,520.0 256.8,520.2 245.6,522.9 234.8,522.9 234.8,511.5 237.4,499.1 237.3,499.3 237.4,490.9 234.8,481.5 234.8,470.0 237.3,458.3 237.6,457.9 237.4,458.0 237.4,457.7 237.1,458.1 225.9,460.7 195.5,460.7 195.6,449.5 193.9,441.8 193.9,408.0 195.5,398.9 195.7,398.7 195.6,398.7 195.6,398.4 195.3,398.7 175.9,398.7 175.9,378.3 176.1,378.1 175.9,378.1 175.9,377.9 175.7,378.1 136.6,378.1 136.6,357.7 136.8,357.5 136.6,357.5 136.6,357.3 136.4,357.5 116.9,357.5 117.0,346.4 115.4,338.8 115.5,338.7 115.3,338.5 115.1,338.6 107.9,336.9 97.3,337.0 97.3,316.6 97.5,316.4 97.3,316.4 97.3,316.2 97.1,316.4 77.6,316.4 77.6,296.1 77.8,295.9 77.6,295.9 77.6,295.7 77.4,295.9 58.0,295.9 58.0,275.6 58.2,275.4 58.0,275.4 58.0,275.2 57.8,275.4 38.3,275.4 38.4,264.3 36.7,256.7 36.7,215.9 36.9,215.7 36.7,215.7 36.7,215.5 36.5,215.7 9.7,215.7ZM206.5,135.2 199.9,141.9 200.1,141.9 200.1,182.5 198.9,190.4 199.0,210.2 198.8,210.5 199.0,210.5 199.0,210.7 199.2,210.5 218.7,210.5 218.7,230.7 218.5,230.9 218.7,230.9 218.7,231.1 218.9,230.9 277.6,230.9 277.6,243.7 276.0,252.7 275.8,253.0 276.0,253.0 275.9,253.3 276.2,253.0 284.8,253.0 284.8,253.3 292.2,243.8 304.7,230.8 313.7,223.1 324.3,212.1 335.1,212.1 343.7,214.7 343.7,214.9 344.0,214.7 375.1,182.3 374.9,182.3 374.9,141.9 394.7,121.3 394.5,121.3 392.0,112.4 392.1,81.1 390.5,73.6 390.7,73.4 390.4,73.4 390.4,73.3 390.2,73.4 363.6,73.4 363.6,73.3 351.8,81.1 351.9,81.1 343.8,89.5 335.6,89.5 335.6,81.0 343.7,72.6 343.7,72.8 351.3,60.5 355.4,48.5 355.2,48.7 355.2,40.5 363.4,32.2 363.4,32.3 370.9,20.1 370.8,20.1 370.8,-0.1 363.4,-0.1 363.4,20.2 343.5,40.6 343.7,40.6 343.7,60.6 323.8,81.1 324.1,81.1 324.1,101.1 323.8,101.3 324.1,101.3 324.1,101.6 324.3,101.3 343.7,101.3 343.7,101.6 363.6,81.1 383.0,81.1 383.0,101.1 382.8,101.3 383.0,101.3 383.0,121.4 363.1,141.9 363.4,141.9 363.4,162.1 363.1,162.3 363.4,162.3 363.4,182.4 343.8,202.7 324.3,202.7 324.3,202.5 285.0,243.4 285.0,223.4 285.3,223.1 285.0,223.1 285.0,222.9 284.8,223.1 265.4,223.1 265.4,222.9 265.2,223.1 245.8,223.1 245.8,222.9 245.5,223.1 226.1,223.1 226.1,202.9 226.3,202.7 226.1,202.7 226.1,202.5 225.9,202.7 206.5,202.7 206.5,182.6 206.7,182.3 206.5,182.3 206.5,162.2 206.7,162.0 206.5,162.0 206.5,141.9 225.8,141.9 225.8,142.2 265.3,101.3 284.8,101.3 284.8,101.6 304.9,80.8 304.7,80.8 304.7,60.7 304.9,60.5 304.7,60.5 304.7,40.5 304.9,40.3 304.7,40.3 304.7,40.1 304.5,40.3 285.0,40.3 285.0,20.3 285.3,20.1 285.0,20.1 285.0,0.1 285.3,-0.1 285.0,-0.1 285.0,-0.3 284.8,-0.1 279.5,-0.1 279.5,45.8 279.3,46.0 279.5,46.0 279.5,46.2 279.7,46.0 299.2,46.0 299.2,80.9 284.8,95.6 265.4,95.6 265.4,95.4 265.1,95.6 245.5,116.0 239.2,121.6 225.9,135.4 206.5,135.4Z" fill="#fff4d4" fill-rule="evenodd"/>
<path d="M9.7,60.5 9.4,60.8 9.7,60.8 9.7,80.9 9.4,81.1 9.7,81.1 9.7,101.1 9.4,101.3 9.7,101.3 9.7,104.7 52.3,60.8 52.5,60.5 52.3,60.5 52.3,40.5 68.8,23.5 104.9,23.5 104.9,43.5 104.7,43.7 104.9,43.7 104.9,43.9 105.1,43.7 107.9,43.7 107.9,43.9 131.1,20.1 130.9,20.1 130.9,-0.1 127.8,-0.1 127.8,-0.3 127.6,-0.1 108.2,-0.1 108.2,-0.3 108.0,-0.1 88.5,-0.1 88.5,-0.3 88.3,-0.1 68.9,-0.1 68.9,-0.3 68.7,-0.1 49.2,-0.1 49.2,-0.3 49.0,-0.1 29.6,-0.1 29.6,-0.3 29.4,-0.1 9.7,-0.1 9.7,20.2 9.4,20.4 9.7,20.4 9.7,40.4 9.4,40.6 9.7,40.6ZM9.7,223.2 9.4,223.4 9.7,223.4 9.7,243.7 9.4,243.9 9.7,243.9 9.7,264.1 9.4,264.3 9.7,264.3 9.7,284.6 9.4,284.8 9.7,284.8 9.7,305.1 9.4,305.3 9.7,305.3 9.7,325.6 9.4,325.8 9.7,325.8 9.7,346.2 9.4,346.4 9.7,346.4 9.7,366.8 9.4,367.0 9.7,367.0 9.7,387.4 9.4,387.6 9.7,387.6 9.7,408.0 9.4,408.2 9.7,408.2 9.7,428.6 9.5,428.8 9.7,428.8 9.7,449.3 9.5,449.5 9.7,449.5 9.7,470.0 9.5,470.2 9.7,470.2 9.7,490.7 9.5,490.9 9.7,490.9 9.7,511.4 9.5,511.6 9.7,511.6 9.7,532.2 9.5,532.4 9.7,532.4 9.7,553.0 9.5,553.2 9.7,553.2 9.7,573.8 9.5,574.0 9.7,574.0 9.7,594.6 9.5,594.8 9.7,594.8 9.7,615.5 9.5,615.7 9.7,615.7 9.7,636.3 9.5,636.6 9.7,636.6 9.7,657.2 9.5,657.5 9.7,657.5 9.7,678.2 9.5,678.4 9.7,678.4 9.7,678.6 9.9,678.4 29.3,678.4 29.3,678.6 29.5,678.4 48.9,678.4 48.9,678.6 49.2,678.4 68.6,678.4 68.6,678.6 68.8,678.4 88.2,678.4 88.2,678.6 88.5,678.4 107.9,678.4 107.9,678.6 108.1,678.4 127.5,678.4 127.5,678.6 127.8,678.4 147.2,678.4 147.2,678.6 147.4,678.4 166.8,678.4 166.8,678.6 167.1,678.4 186.5,678.4 186.5,678.6 186.7,678.4 206.2,678.4 206.2,678.6 206.4,678.4 225.8,678.4 225.8,678.6 226.0,678.4 245.4,678.4 245.4,678.6 245.7,678.4 265.1,678.4 265.1,678.6 265.3,678.4 271.0,678.4 271.0,672.3 271.3,672.0 271.0,672.1 271.0,671.9 270.8,672.1 265.2,673.4 250.1,673.4 250.1,636.4 251.5,629.9 251.4,630.1 251.4,615.6 271.2,594.5 271.0,594.5 271.0,568.0 271.2,567.7 271.0,567.7 271.0,567.5 270.8,567.7 251.4,567.7 251.4,526.4 251.7,526.1 251.4,526.1 251.4,525.9 251.1,526.2 245.6,527.5 230.5,527.5 230.5,511.5 231.8,505.1 231.7,505.2 231.8,490.9 230.5,486.1 230.5,470.0 231.7,464.2 232.0,463.9 231.8,463.9 231.8,463.6 231.5,464.0 225.9,465.3 191.2,465.3 191.2,449.5 190.4,445.6 190.4,408.0 191.2,403.5 191.4,403.3 191.2,403.3 191.2,403.0 191.0,403.3 171.5,403.3 171.5,382.9 171.7,382.7 171.5,382.7 171.5,382.5 171.3,382.7 132.2,382.7 132.2,362.3 132.4,362.1 132.2,362.1 132.2,361.9 132.0,362.1 112.6,362.1 112.6,346.4 111.8,342.6 111.9,342.4 111.7,342.2 111.6,342.3 107.9,341.5 92.9,341.5 92.9,321.2 93.1,321.0 92.9,321.0 92.9,320.8 92.7,321.0 73.3,321.0 73.3,300.7 73.5,300.5 73.3,300.5 73.3,300.2 73.1,300.5 53.6,300.5 53.6,280.2 53.8,280.0 53.6,280.0 53.6,279.7 53.4,280.0 34.0,280.0 34.0,264.3 33.2,260.4 33.2,219.6 33.4,219.4 33.2,219.4 33.2,219.2 33.0,219.4 9.7,219.4ZM203.1,182.5 202.5,186.6 202.6,206.5 202.4,206.7 202.6,206.7 202.6,207.0 202.8,206.7 222.2,206.7 222.2,226.9 222.0,227.2 222.2,227.2 222.2,227.4 222.4,227.2 281.2,227.2 281.2,243.7 280.4,248.2 280.2,248.4 280.4,248.4 280.3,248.7 280.6,248.4 284.8,248.4 284.8,248.7 288.6,243.8 304.7,227.1 309.3,223.1 324.3,207.6 339.5,207.6 343.7,208.8 343.7,209.1 369.3,182.6 369.5,182.3 369.3,182.3 369.3,141.9 389.1,121.3 388.9,121.3 387.7,116.9 387.7,81.1 386.9,77.3 387.1,77.1 386.8,77.1 386.8,76.9 386.7,77.1 363.6,77.1 363.6,77.0 357.4,81.1 357.5,81.1 343.8,95.2 330.0,95.2 330.0,81.0 343.7,66.8 343.7,67.0 347.7,60.5 349.8,54.3 349.6,54.5 349.6,40.5 363.4,26.4 363.4,26.6 367.3,20.1 367.2,20.1 367.2,-0.1 363.6,-0.1 363.6,-0.3 363.4,-0.1 344.0,-0.1 344.0,-0.3 343.8,-0.1 324.3,-0.1 324.3,-0.3 324.1,-0.1 304.7,-0.1 304.7,-0.3 304.5,-0.1 285.0,-0.1 285.0,-0.3 284.8,-0.1 282.1,-0.1 282.1,43.1 281.9,43.3 282.1,43.3 282.1,43.5 282.3,43.3 301.8,43.3 301.8,80.9 284.8,98.3 265.4,98.3 265.4,98.1 265.1,98.3 245.5,118.7 242.2,121.6 225.9,138.5 206.5,138.5 206.5,138.3 206.2,138.5 202.9,141.9 203.1,141.9Z" fill="#ffffff" fill-rule="evenodd"/>
<line x1="157.2" y1="0" x2="157.2" y2="666.3" stroke="#000" stroke-opacity="0.09" stroke-width="1"/>
<line x1="314.4" y1="0" x2="314.4" y2="666.3" stroke="#000" stroke-opacity="0.09" stroke-width="1"/>
<line x1="471.6" y1="0" x2="471.6" y2="666.3" stroke="#000" stroke-opacity="0.09" stroke-width="1"/>
<line x1="628.8" y1="0" x2="628.8" y2="666.3" stroke="#000" stroke-opacity="0.09" stroke-width="1"/>
<line x1="0" y1="584.2" x2="638.6" y2="584.2" stroke="#000" stroke-opacity="0.09" stroke-width="1"/>
<line x1="0" y1="418.3" x2="638.6" y2="418.3" stroke="#000" stroke-opacity="0.09" stroke-width="1"/>
<line x1="0" y1="253.9" x2="638.6" y2="253.9" stroke="#000" stroke-opacity="0.09" stroke-width="1"/>
<line x1="0" y1="91.0" x2="638.6" y2="91.0" stroke="#000" stroke-opacity="0.09" stroke-width="1"/>
<polygon points="-13.4,-13.7 106.8,-13.7 106.8,1.7 106.4,9.1 102.1,10.4 97.4,11.5 92.7,15.1 87.3,15.5 83.9,19.8 79.2,21.9 75.9,24.5 70.5,26.6 65.8,28.6 60.4,29.9 59.1,31.9 62.5,34.0 58.4,35.3 53.1,37.3 49.7,40.7 47.0,43.4 46.3,48.1 47.0,53.4 46.3,58.8 45.7,64.2 43.7,68.9 40.3,71.6 36.3,73.2 31.6,74.2 28.2,76.9 23.5,82.3 18.8,87.7 14.8,92.7 9.4,93.4 5.4,94.4 1.3,91.7 -13.4,91.7" fill="#e6e6e6" stroke="#000" stroke-width="1.5" stroke-linejoin="round"/>
<polygon points="-9.0,221.6 1.8,222.7 7.9,229.5 13.5,234.0 19.1,240.3 24.7,244.1 28.8,243.0 33.7,245.2 37.1,249.7 40.0,253.8 41.6,258.7 38.7,267.7 37.1,275.6 40.5,282.4 43.9,288.0 47.2,294.3 50.6,299.2 55.8,304.2 60.7,309.4 67.5,314.5 74.2,318.3 79.2,322.2 83.2,326.2 87.7,335.0 93.4,340.8 99.0,346.2 108.0,355.0 117.0,363.1 126.0,369.0 135.0,375.5 144.0,383.4 149.6,387.4 155.2,390.1 157.5,396.0 162.0,399.1 167.6,400.5 173.2,402.5 173.7,408.3 175.5,412.6 181.1,418.9 186.7,425.0 191.2,433.1 195.7,440.7 201.4,449.5 207.0,457.6 213.3,463.0 219.4,467.7 221.6,472.5 225.0,475.6 227.7,479.2 229.5,483.5 227.2,488.2 227.7,492.5 231.3,504.0 235.1,513.9 238.9,519.7 241.9,526.2 241.2,535.5 243.0,544.2 245.7,552.3 248.6,560.0 250.9,567.0 253.1,573.5 255.4,579.3 256.5,584.7 256.9,592.8 258.7,600.5 256.9,609.7 256.0,618.5 257.8,627.7 258.7,636.5 259.2,643.4 261.0,650.0 263.7,659.2 266.6,667.5 267.7,677.2 -9.0,677.2" fill="#e6e6e6" stroke="#000" stroke-width="1.5" stroke-linejoin="round"/>
<polygon points="249.1,112.8 249.8,107.5 255.8,103.4 258.5,98.7 265.2,101.4 271.9,103.4 276.0,102.8 277.3,96.7 284.0,92.7 292.1,90.0 297.5,92.7 301.5,94.7 306.9,92.7 310.9,96.0 314.2,98.7 318.9,94.0 324.3,90.0 327.0,86.6 332.4,86.0 339.1,85.3 343.1,84.0 348.5,86.6 355.2,89.3 359.9,88.7 360.6,84.0 364.6,81.9 368.0,77.9 371.3,84.0 376.7,89.3 383.4,91.3 388.1,89.3 390.1,98.1 392.8,107.5 396.2,119.5 388.8,124.2 383.4,128.3 379.4,128.9 378.0,133.0 372.7,138.4 368.6,142.4 366.0,149.1 363.3,155.8 360.6,161.2 359.9,167.9 357.9,173.3 355.2,180.0 355.9,188.0 351.2,192.1 345.8,196.1 340.4,198.8 333.7,202.8 328.3,206.9 323.0,212.2 318.9,217.6 314.9,219.6 308.2,221.6 300.1,221.0 296.1,223.0 294.1,228.3 292.1,233.7 286.7,237.1 282.0,239.8 279.3,235.7 274.6,235.7 270.6,231.0 262.5,229.0 254.5,228.3 247.8,227.0 243.7,223.6 235.7,221.6 229.0,218.3 222.2,214.9 215.5,211.6 210.8,208.2 211.5,200.1 212.2,192.1 208.8,185.4 206.8,178.6 207.5,170.6 205.4,163.9 207.5,157.2 206.8,150.4 210.1,142.4 216.9,139.7 224.9,134.3 233.0,128.9 241.0,122.9 247.8,118.2 251.8,114.2" fill="#e6e6e6" stroke="#000" stroke-width="1.5" stroke-linejoin="round"/>
<polygon points="290.1,-13.7 290.1,1.7 291.1,6.4 289.4,11.1 288.4,15.8 290.7,21.2 294.4,21.9 295.8,24.5 295.1,28.6 296.8,33.3 294.4,37.3 295.8,39.3 299.5,40.7 301.5,45.4 300.8,48.7 304.8,50.7 308.9,52.8 308.2,56.8 306.2,58.8 306.5,62.2 309.6,63.5 310.2,67.5 308.5,70.9 308.9,72.6 312.9,68.9 317.6,66.9 321.6,68.9 325.0,71.9 328.4,71.6 332.4,68.9 337.1,70.9 341.8,68.2 346.5,65.9 350.5,62.2 353.9,58.8 355.9,55.4 356.6,52.1 354.5,48.1 352.9,43.4 351.2,40.0 347.8,37.3 344.5,34.6 345.5,29.9 344.5,25.2 340.4,22.5 335.7,21.9 331.0,22.5 328.4,22.9 328.0,19.2 328.4,13.1 331.0,11.8 333.7,13.1 337.8,11.5 342.5,10.4 347.2,10.1 351.2,11.5 353.9,15.1 356.6,17.5 359.2,19.8 363.3,20.5 365.3,16.2 362.3,14.1 359.9,17.2 357.2,15.8 356.6,11.8 357.2,6.4 359.2,2.4 359.9,-13.7" fill="#e6e6e6" stroke="#000" stroke-width="1.5" stroke-linejoin="round"/>
<polyline points="-1.3,33.3 1.3,34.0 4.0,37.3 8.7,40.0 12.1,45.4 14.8,50.7 17.5,55.4 20.1,60.1 21.5,64.2 26.2,60.8 30.2,64.2 36.3,68.2 40.3,66.9 43.7,68.9" fill="none" stroke="#000" stroke-width="2.3" stroke-linejoin="round"/>
<polygon points="274.6,143.7 276.6,139.0 281.3,139.7 284.0,143.1 289.4,145.1 286.7,148.4 281.3,145.7 276.0,147.1" fill="#e6e6e6" stroke="#000" stroke-width="1.3"/>
<path d="M43.0,29.9 48.4,33.3 53.1,35.3M40.3,47.4 44.3,48.1 47.0,46.0M41.6,54.8 45.7,54.1M56.4,26.6 60.4,30.6 63.1,34.6 64.5,37.0M8.7,93.1 10.1,87.7M14.8,92.7 16.8,83.6M42.3,76.3 47.0,73.2M137.0,7.8 139.7,11.8 137.7,15.1M142.4,9.8 145.1,7.8 146.4,9.8 143.7,12.1 142.4,9.8M167.6,430.8 172.1,428.6 177.7,429.3 183.4,427.5 180.0,431.5 185.6,433.1 187.9,436.5M112.5,363.3 121.5,369.0 129.4,373.5 126.0,376.2 132.7,377.5M140.6,387.0 145.1,385.2 150.3,388.8 148.5,394.2 143.5,394.2 140.6,387.0M167.6,407.7 171.0,403.8 177.7,405.0 182.7,408.3 180.0,412.2 175.0,413.5 174.4,407.2M205.9,460.8 210.4,459.0 211.5,463.9 207.0,464.8 205.9,460.8M225.0,488.2 228.4,491.6 229.9,486.0M247.5,571.5 251.5,570.3 252.4,574.2 248.6,575.1 247.5,571.5M253.1,594.0 259.2,594.0 260.1,605.2 254.2,605.7 253.1,594.0M255.4,618.7 258.7,623.7 256.0,627.7 261.0,629.9 258.3,635.6 262.1,640.1 258.7,645.2 262.8,649.1M253.8,621.4 256.9,626.8 253.8,631.7 258.7,634.4 255.4,641.2 259.9,646.8M-1.1,600.7 3.4,605.2 4.9,609.7 1.8,613.1 -1.1,615.3M4.5,621.4 11.2,619.8 18.0,617.6M-1.1,647.9 3.4,651.3 6.3,658.1 6.7,664.8 2.2,667.7M88.9,345.3 92.2,343.8 92.7,346.5 89.5,347.6 88.9,345.3M192.4,420.3 195.3,418.9 199.1,421.2 198.4,425.7 195.3,423.0M241.9,465.7 244.1,466.8M243.4,469.1 247.5,470.2 246.4,468.4M253.1,112.8 257.2,108.8 260.5,110.8 257.8,112.8 259.8,115.5M357.2,90.0 360.6,88.7 363.3,92.7 361.9,96.7 359.5,94.0M378.0,122.9 383.4,121.6 382.1,126.9M349.2,186.7 352.5,182.0 356.6,189.4 351.9,189.4 349.2,186.7M312.9,219.6 316.3,217.6 318.9,220.0 316.0,222.3 312.9,219.6M289.4,231.0 292.8,229.7 293.4,233.0M355.2,161.2 359.2,159.2M341.8,201.5 346.5,196.1M300.1,92.7 302.2,96.0M311.6,96.7 314.9,98.1M329.7,13.1 332.4,7.8 335.7,5.1 338.4,3.1M331.0,11.1 335.1,8.4 337.8,5.7M332.4,13.1 336.4,9.8 339.1,7.1 340.4,3.7M327.0,11.1 329.7,9.8 331.7,5.7M297.5,34.6 300.8,33.3 302.5,34.3 300.1,35.6 297.5,34.6M293.8,21.9 295.1,20.5 296.1,22.9M306.9,52.8 309.6,50.1 310.6,53.4 313.6,54.8 316.3,55.1 315.6,58.8 317.6,60.8 314.3,61.2 312.9,58.8 310.9,58.1 308.9,59.5M304.2,58.8 306.9,58.1M339.1,29.3 341.1,31.3 339.8,33.3 342.5,34.6 340.4,37.3 343.8,37.3 345.8,40.0 347.8,42.7 350.5,43.4M338.4,36.0 341.8,39.3M346.5,34.6 348.5,34.3M360.9,46.7 361.6,45.4M357.9,64.8 360.6,62.2 360.9,60.5M337.1,16.8 338.4,17.5M333.4,19.5 334.4,19.8" fill="none" stroke="#000" stroke-width="1.3" stroke-linejoin="round" stroke-linecap="round"/>
<path d="M81.0,14.6 81.6,13.6 82.5,12.6 84.6,12.3 84.8,14.0 84.9,15.4 83.4,16.5 81.4,16.0ZM76.7,10.2 75.2,12.1 73.3,10.6 73.9,9.2 75.6,8.8ZM46.7,12.9 47.3,11.6 49.2,11.4 51.1,12.3 51.2,14.1 49.2,14.7 47.4,15.6 45.7,14.4ZM77.2,15.3 79.8,14.4 81.1,13.8 84.0,13.3 83.7,15.6 83.6,17.8 80.9,17.4 78.3,17.4ZM67.7,29.7 67.1,27.6 68.8,26.2 70.4,27.4 71.9,28.5 69.9,29.0ZM67.9,14.6 69.3,14.1 70.3,15.1 71.1,16.0 71.6,18.5 68.6,18.2 66.9,17.1 66.6,15.5ZM83.7,19.3 83.0,15.3 87.7,13.6 89.9,16.8 87.6,18.5ZM85.8,10.9 85.7,12.8 85.8,14.6 83.6,15.4 81.7,14.5 80.9,13.0 81.2,11.1 83.4,10.1ZM74.9,19.2 76.1,19.4 76.5,19.9 76.6,20.8 75.3,21.3 74.1,20.3ZM59.3,15.7 58.4,14.6 58.9,12.6 61.3,13.4 62.4,14.8 61.7,17.1ZM67.7,17.5 65.6,16.0 68.0,14.9 69.7,15.5 70.4,17.5ZM56.4,18.6 56.7,17.7 57.9,17.0 59.3,17.8 58.7,19.0 57.3,19.5ZM67.6,21.1 68.7,20.7 68.9,21.7 68.9,22.2 68.3,22.4 67.7,22.3 67.5,21.8ZM91.2,16.4 89.8,17.1 88.7,16.2 89.1,15.2 89.5,13.9 90.9,14.5 92.1,15.4ZM86.4,30.3 86.4,28.4 88.4,26.8 90.2,28.8 88.6,30.3ZM61.7,20.7 62.2,21.4 61.8,22.2 60.5,23.4 59.0,22.3 59.4,21.0 60.1,20.3 61.2,19.5ZM86.6,31.8 87.2,32.9 87.4,33.5 87.1,34.1 86.2,34.4 84.8,34.4 84.9,33.3 85.4,32.4ZM70.1,16.3 68.7,14.4 69.8,12.3 72.8,13.0 71.8,14.8ZM71.5,11.1 72.2,9.7 73.1,9.4 73.7,10.0 73.5,11.0ZM92.4,8.8 91.6,10.5 89.1,10.8 89.2,8.9 90.6,6.7ZM53.0,8.9 51.4,10.3 51.1,8.4 51.6,7.4 54.1,7.1ZM67.9,11.7 66.1,11.4 64.6,10.4 65.7,9.0 67.5,9.2 68.8,10.3ZM72.3,26.5 73.2,26.5 75.5,27.0 73.7,28.1 72.0,28.6 71.1,27.3ZM63.4,10.0 62.0,11.6 58.8,11.6 58.5,9.1 58.9,7.0 61.4,6.0 63.2,7.5 64.9,8.7ZM62.9,14.8 61.5,14.7 60.4,14.9 60.3,13.9 60.9,13.4 62.1,12.6 62.1,13.9ZM58.6,11.0 56.9,10.4 57.7,9.1 60.0,8.3 59.9,10.3ZM85.2,10.7 83.2,10.6 80.1,9.0 83.3,7.4 86.5,6.8 88.5,9.5ZM75.7,9.0 77.1,10.5 76.1,12.0 74.1,11.6 73.3,9.8ZM95.7,13.5 93.7,13.9 91.7,14.1 91.4,12.4 93.0,11.6 94.6,12.0ZM57.2,20.4 57.3,18.7 59.1,18.6 61.4,19.4 59.5,21.1ZM72.8,8.3 74.0,6.6 75.1,8.3 75.5,9.8 73.7,9.9 72.8,9.3ZM71.7,11.4 71.1,12.5 70.5,13.2 69.1,13.7 67.4,13.0 67.8,11.5 69.2,11.0 70.5,10.6ZM83.0,26.0 81.9,28.0 78.0,27.9 79.2,25.0 80.3,22.4 84.5,23.1ZM84.0,16.0 86.2,14.7 89.0,15.0 89.7,17.1 88.4,18.4 87.3,19.1 85.9,18.8 84.2,18.0ZM80.0,10.4 80.0,8.2 80.7,5.9 83.6,6.6 84.1,8.2 84.2,9.5 82.7,9.8ZM77.4,10.7 78.8,6.5 83.2,7.6 85.6,10.4 81.7,11.8ZM55.6,16.1 56.1,16.9 55.1,17.3 54.3,16.9 53.6,16.5 53.8,15.8 54.3,14.9 55.1,15.8ZM56.4,18.9 56.9,19.5 56.5,20.4 55.4,20.1 54.6,19.5 55.5,18.8ZM76.4,28.8 78.2,26.4 81.7,27.4 82.0,30.1 79.7,31.4 77.5,30.6ZM81.7,34.1 82.5,33.4 83.6,33.8 84.3,34.6 83.2,35.0 82.5,35.6 81.5,35.0ZM64.3,20.4 61.5,20.3 59.4,20.2 57.2,18.6 58.9,16.7 61.1,15.6 63.6,16.3 64.7,18.2ZM74.4,19.4 77.3,19.3 77.4,21.5 77.4,23.6 74.7,24.6 72.3,23.0 71.0,20.3ZM58.8,24.8 61.5,21.9 65.6,22.8 65.8,26.2 62.0,26.9ZM78.8,22.4 80.7,24.7 78.9,27.0 76.2,27.1 74.5,25.9 73.1,23.9 75.3,21.7ZM74.0,13.4 72.0,13.1 71.1,12.1 69.5,10.7 71.8,10.2 73.0,10.1 75.0,10.3 74.4,11.8ZM79.6,11.2 80.4,10.9 81.8,10.7 81.4,11.8 80.7,12.2 79.6,13.0 79.0,11.9ZM63.3,24.1 60.4,22.3 62.4,19.9 65.0,19.8 67.6,20.9 66.0,22.9ZM65.5,19.7 67.0,19.6 67.1,20.7 67.0,22.0 65.3,22.5 63.7,21.5 64.4,20.2ZM59.7,13.9 60.1,15.0 59.2,16.1 58.1,15.2 56.8,14.3 58.3,13.7ZM89.1,21.3 87.5,20.8 87.6,19.6 88.2,18.9 88.9,18.2 90.2,18.5 90.1,19.5 89.9,20.2ZM87.9,14.3 88.0,13.3 87.5,12.6 88.6,12.6 89.4,12.5 90.0,13.0 89.7,13.7 88.9,13.9ZM67.9,24.7 66.5,23.8 66.9,22.2 68.8,22.8 70.4,22.5 70.8,23.9 69.2,24.4ZM67.2,26.2 64.2,26.2 61.7,25.2 63.4,23.2 63.5,21.6 65.9,20.2 67.7,22.1 68.2,24.0ZM60.1,8.7 60.3,9.7 60.2,11.9 58.3,10.3 57.0,9.6 57.8,8.5 59.1,8.2ZM79.5,28.2 77.7,26.2 79.9,24.4 82.2,24.7 83.3,25.6 86.2,26.8 84.0,28.4 81.8,28.4ZM77.4,21.8 77.3,24.0 74.5,25.0 73.1,22.8 74.6,20.4ZM50.3,17.5 48.8,15.0 48.3,12.4 52.3,12.5 53.4,15.5ZM47.8,9.7 47.9,8.4 49.5,8.2 50.6,8.8 52.8,9.7 52.3,11.9 49.5,12.6 46.6,11.9ZM117.0,9.3 118.6,8.3 120.2,9.7 119.4,11.8 115.9,11.6ZM111.3,9.9 110.9,8.4 112.4,8.0 113.9,8.6 112.7,9.4ZM106.3,8.8 104.7,9.6 103.7,8.2 104.7,7.4 106.0,6.5 107.1,7.7ZM110.2,15.2 111.6,14.3 112.8,13.1 114.7,13.7 114.7,15.2 114.3,16.4 112.8,17.5 111.1,16.6ZM114.8,6.7 115.5,8.2 113.9,9.0 112.5,8.5 111.4,7.3 112.9,6.1ZM114.8,15.8 113.4,15.4 112.5,13.7 114.5,12.9 115.9,13.7 118.1,13.8 117.9,15.5 116.6,16.9ZM107.9,6.5 109.8,7.4 109.9,10.2 105.5,10.3 106.5,7.5ZM104.1,12.0 102.0,11.7 100.3,11.3 101.9,10.5 103.0,10.5ZM121.4,6.6 120.2,5.3 122.2,5.5 122.8,6.1 122.5,7.1ZM115.8,20.4 115.9,19.6 117.0,19.2 117.4,20.1 117.7,20.7 117.2,21.3 116.0,21.3ZM119.5,2.7 121.7,1.2 123.9,1.7 126.1,3.3 123.5,4.5 121.5,4.2ZM119.5,9.2 118.2,9.6 116.5,9.2 116.7,7.7 118.4,7.0 119.1,8.2ZM112.3,10.1 110.6,9.5 111.3,8.2 111.9,7.6 113.3,7.1 113.6,8.3 114.3,9.8ZM107.6,5.2 106.8,6.1 105.8,5.2 105.9,4.1 107.2,3.8 108.6,4.3ZM117.9,7.3 119.7,6.6 120.8,5.6 122.6,6.1 122.3,7.6 121.6,8.4 120.4,10.1 119.0,8.6ZM113.2,22.4 115.2,23.5 117.3,24.3 115.8,25.8 114.2,25.8 113.0,25.4 111.6,24.0ZM112.4,25.4 109.7,24.2 112.3,23.0 114.9,22.5 114.1,24.5ZM114.7,12.5 114.5,11.7 115.2,11.1 116.8,10.0 117.8,11.5 117.8,13.3 115.6,13.7ZM113.5,12.6 112.2,11.8 111.1,10.3 112.9,9.2 115.2,9.2 116.3,10.8 114.8,11.9ZM106.1,12.8 107.2,13.6 108.6,13.7 108.3,14.8 107.1,14.9 106.3,15.0 105.2,14.7 104.9,13.5ZM122.3,5.9 119.8,5.4 119.3,3.6 119.6,1.9 121.7,1.9 123.7,1.5 126.0,2.9 124.7,5.1ZM104.0,16.0 101.9,17.4 101.5,15.3 100.6,13.4 103.1,13.3 105.4,13.3 106.1,15.3ZM114.2,18.9 115.5,19.9 114.6,21.3 112.8,21.6 110.7,21.5 109.3,19.7 110.9,18.0 113.0,17.8ZM108.6,17.2 107.3,17.9 106.8,18.8 105.3,18.8 104.1,17.7 104.9,16.4 106.2,15.6 107.2,16.8ZM123.3,7.7 121.3,5.6 121.9,3.6 124.3,2.6 125.1,4.5 126.2,6.3ZM115.1,14.6 114.1,15.5 112.7,16.3 111.9,15.0 112.3,13.8 113.6,14.2Z" fill="#e6e6e6" stroke="#000" stroke-width="1.5" stroke-linejoin="round"/>
<path d="M134.9,80.5l1.2,-0.9 1.2,0.9 -1.2,0.9ZM250.3,18.0l1.2,-0.9 1.2,0.9 -1.2,0.9ZM263.2,234.4l1.2,-0.9 1.2,0.9 -1.2,0.9ZM103.4,658.1l1.2,-0.9 1.2,0.9 -1.2,0.9ZM313.8,219.4l1.2,-0.9 1.2,0.9 -1.2,0.9ZM43.8,74.2l1.2,-0.9 1.2,0.9 -1.2,0.9ZM114.3,31.9l1.2,-0.9 1.2,0.9 -1.2,0.9Z" fill="#000" stroke="#000" stroke-width="0.8"/>
<rect x="324" y="244.3" width="235.6" height="247" fill="none" stroke="#000" stroke-width="5.2"/>
<path d="M0.0,0v7M0.0,666.3v-7" stroke="#000" stroke-width="2"/>
<path d="M157.2,0v7M157.2,666.3v-7" stroke="#000" stroke-width="2"/>
<path d="M314.4,0v7M314.4,666.3v-7" stroke="#000" stroke-width="2"/>
<path d="M471.6,0v7M471.6,666.3v-7" stroke="#000" stroke-width="2"/>
<path d="M628.8,0v7M628.8,666.3v-7" stroke="#000" stroke-width="2"/>
<path d="M0,584.2h7M638.6,584.2h-7" stroke="#000" stroke-width="2"/>
<path d="M0,418.3h7M638.6,418.3h-7" stroke="#000" stroke-width="2"/>
<path d="M0,253.9h7M638.6,253.9h-7" stroke="#000" stroke-width="2"/>
<path d="M0,91.0h7M638.6,91.0h-7" stroke="#000" stroke-width="2"/>
</g>
<rect x="911.6" y="803.2" width="638.6" height="666.3" fill="none" stroke="#000" stroke-width="2.6"/>
<text transform="translate(937.2,1442.8) scale(0.9,1)" font-family="Noto Sans CJK SC, Liberation Sans, sans-serif" font-weight="bold" font-size="55" fill="#000">E</text>
<text x="922.4000000000001" y="789.6" font-family="Liberation Sans, Arial, sans-serif" font-weight="bold" font-size="43" fill="#000">Relative CumInt</text>
<rect x="1571.0" y="1402.87" width="41.2" height="67.13" fill="#ffffff"/>
<rect x="1571.0" y="1336.24" width="41.2" height="67.13" fill="#fff4d4"/>
<rect x="1571.0" y="1269.61" width="41.2" height="67.13" fill="#ffe270"/>
<rect x="1571.0" y="1202.98" width="41.2" height="67.13" fill="#ffcb33"/>
<rect x="1571.0" y="1136.35" width="41.2" height="67.13" fill="#ffab33"/>
<rect x="1571.0" y="1069.72" width="41.2" height="67.13" fill="#ff9933"/>
<rect x="1571.0" y="1003.09" width="41.2" height="67.13" fill="#ff7033"/>
<rect x="1571.0" y="936.46" width="41.2" height="67.13" fill="#ff5900"/>
<rect x="1571.0" y="869.83" width="41.2" height="67.13" fill="#e82a22"/>
<rect x="1571.0" y="803.20" width="41.2" height="67.13" fill="#c92116"/>
<line x1="1607.2" y1="1402.87" x2="1612.2" y2="1402.87" stroke="#000" stroke-width="1.2"/>
<line x1="1607.2" y1="1336.24" x2="1612.2" y2="1336.24" stroke="#000" stroke-width="1.2"/>
<line x1="1607.2" y1="1269.61" x2="1612.2" y2="1269.61" stroke="#000" stroke-width="1.2"/>
<line x1="1607.2" y1="1202.98" x2="1612.2" y2="1202.98" stroke="#000" stroke-width="1.2"/>
<line x1="1607.2" y1="1136.35" x2="1612.2" y2="1136.35" stroke="#000" stroke-width="1.2"/>
<line x1="1607.2" y1="1069.72" x2="1612.2" y2="1069.72" stroke="#000" stroke-width="1.2"/>
<line x1="1607.2" y1="1003.09" x2="1612.2" y2="1003.09" stroke="#000" stroke-width="1.2"/>
<line x1="1607.2" y1="936.46" x2="1612.2" y2="936.46" stroke="#000" stroke-width="1.2"/>
<line x1="1607.2" y1="869.83" x2="1612.2" y2="869.83" stroke="#000" stroke-width="1.2"/>
<rect x="1571.0" y="803.2" width="41.2" height="666.3" fill="none" stroke="#222" stroke-width="1.2"/>
<text transform="translate(1613.7,1480.6) scale(0.975,1)" font-family="Liberation Serif, Times New Roman, serif" font-weight="bold" font-size="47.3" fill="#000">0</text>
<text transform="translate(1616.7,1351.8) scale(0.975,1)" font-family="Liberation Serif, Times New Roman, serif" font-weight="bold" font-size="47.3" fill="#000">0.4</text>
<text transform="translate(1616.7,1218.6) scale(0.975,1)" font-family="Liberation Serif, Times New Roman, serif" font-weight="bold" font-size="47.3" fill="#000">0.8</text>
<text transform="translate(1616.7,1085.3) scale(0.975,1)" font-family="Liberation Serif, Times New Roman, serif" font-weight="bold" font-size="47.3" fill="#000">1.2</text>
<text transform="translate(1616.7,952.1) scale(0.975,1)" font-family="Liberation Serif, Times New Roman, serif" font-weight="bold" font-size="47.3" fill="#000">1.6</text>
<text transform="translate(1613.7,825.3) scale(0.975,1)" font-family="Liberation Serif, Times New Roman, serif" font-weight="bold" font-size="47.3" fill="#000">2</text>
<text x="925.8" y="1504.8" text-anchor="middle" font-family="Liberation Sans, Arial, sans-serif" font-weight="bold" font-size="35.6" fill="#000">106°E</text>
<text x="1083.0" y="1504.8" text-anchor="middle" font-family="Liberation Sans, Arial, sans-serif" font-weight="bold" font-size="35.6" fill="#000">108°E</text>
<text x="1240.2" y="1504.8" text-anchor="middle" font-family="Liberation Sans, Arial, sans-serif" font-weight="bold" font-size="35.6" fill="#000">110°E</text>
<text x="1397.4" y="1504.8" text-anchor="middle" font-family="Liberation Sans, Arial, sans-serif" font-weight="bold" font-size="35.6" fill="#000">112°E</text>
<text x="1554.6" y="1504.8" text-anchor="middle" font-family="Liberation Sans, Arial, sans-serif" font-weight="bold" font-size="35.6" fill="#000">114°E</text>
<clipPath id="cpF"><rect x="0" y="0" width="638.6" height="666.3"/></clipPath>
<g transform="translate(1717.1,803.2)" clip-path="url(#cpF)">
<clipPath id="cqFTL"><rect x="10.200000000000001" y="-0.6" width="310.4" height="336.2"/></clipPath>
<g clip-path="url(#cqFTL)">
<rect x="10.8" y="0" width="309.2" height="335" fill="#ff7033"/>
<polygon points="-2.2,200.2 10.1,200.2 27.0,201.4 45.0,200.2 58.5,196.9 69.7,189.0 76.5,180.0 85.5,171.0 94.5,157.5 103.5,148.5 112.5,141.7 126.0,139.5 110.2,135.0 101.2,128.2 94.5,121.5 101.2,112.5 112.5,103.5 121.5,90.0 135.0,78.7 146.2,67.5 157.5,60.7 166.5,55.1 175.5,58.5 182.2,65.2 202.5,64.1 216.0,67.5 229.5,74.2 232.9,85.5 234.0,96.7 229.5,108.0 225.0,119.2 247.5,121.5 326.2,121.5 326.2,337.5 -2.2,337.5" fill="#ff9933"/>
<polygon points="128.2,140.6 135.0,132.7 146.2,122.6 166.5,115.9 173.2,117.0 171.0,122.6 157.5,132.7 148.5,141.7 135.0,141.7" fill="#ff7033"/>
<polygon points="10.1,154.1 18.0,153.0 21.4,177.7 13.5,189.0 10.1,191.2" fill="#ff9933"/>
<polygon points="121.5,210.4 126.0,191.2 135.0,182.2 148.5,176.6 166.5,178.9 173.2,191.2 177.7,202.5 184.5,216.0 186.7,219.4 202.5,225.0 207.0,241.9 225.0,245.2 234.0,252.0 247.5,262.1 265.5,264.4 270.0,256.5 326.2,256.5 326.2,337.5 159.7,337.5 157.5,328.5 155.2,315.0 147.4,299.2 148.5,281.2 144.0,261.0 139.5,247.5 137.2,236.2 130.5,222.7" fill="#ffab33"/>
<polygon points="326.2,285.7 319.9,288.0 303.7,299.2 288.0,315.0 276.7,337.5 326.2,337.5" fill="#ff9933"/>
<polygon points="180.0,284.6 186.7,276.7 210.4,281.2 207.0,301.5 186.7,307.1 183.4,297.0" fill="#ffcb33"/>
<polygon points="86.6,245.2 92.2,238.5 94.5,258.7 88.9,266.6" fill="#ffab33"/>
<polygon points="48.4,231.7 58.5,232.9 58.5,245.2 65.2,254.2 67.5,263.2 54.0,265.5 45.0,263.2 47.2,247.5" fill="#ff7033"/>
<polygon points="47.2,262.1 50.6,255.4 55.1,263.2" fill="#ff5900"/>
<polygon points="175.5,-2.2 238.5,-2.2 238.5,18.0 245.2,27.0 265.5,31.5 270.0,29.2 270.0,58.5 288.0,58.5 288.0,81.0 265.5,81.0 263.2,60.7 258.7,49.5 243.0,49.5 229.5,42.7 218.2,31.5 202.5,22.5 198.0,11.2 180.0,9.0" fill="#ff5900"/>
<polygon points="238.5,19.1 254.2,2.2 267.7,2.2 265.5,30.4 254.2,31.5 245.2,27.0" fill="#e82a22"/>
<polygon points="67.5,39.4 88.9,39.4 88.9,49.5 68.6,48.4" fill="#ff5900"/>
</g>
<clipPath id="cqFTR"><rect x="319.4" y="-0.6" width="321.2" height="336.2"/></clipPath>
<g clip-path="url(#cqFTR)">
<rect x="320" y="0" width="320" height="335" fill="#ffab33"/>
<polygon points="646.2,2.2 639.9,4.5 619.2,13.5 601.2,20.2 578.7,29.2 556.2,38.2 536.0,45.0 518.0,54.0 495.5,60.7 477.5,67.5 459.5,72.0 441.5,77.6 434.7,90.0 425.7,101.2 416.7,114.7 410.0,126.0 403.2,139.5 394.2,155.2 385.2,166.5 383.0,177.7 374.0,191.2 362.7,202.5 344.7,216.0 326.7,227.2 320.0,231.7 317.8,232.9 317.8,-2.2 646.2,-2.2" fill="#ff9933"/>
<polygon points="491.0,-2.2 477.5,11.2 464.0,18.0 452.7,24.7 441.5,40.5 432.5,51.7 425.7,63.0 423.5,76.5 419.0,90.0 412.2,101.2 405.5,112.5 403.2,121.5 396.5,128.2 383.0,144.0 380.7,157.5 379.6,173.2 342.5,213.7 317.8,225.0 317.8,-2.2" fill="#ff7033"/>
<polygon points="361.6,56.2 365.0,38.2 374.0,31.5 381.9,54.0 385.2,58.5 401.0,29.2 413.4,29.2 406.6,42.7 403.2,56.2 394.2,59.6 361.6,60.7" fill="#ff5900"/>
<polygon points="575.4,78.7 578.7,60.7 596.7,55.1 608.0,45.0 612.5,40.5 626.0,36.0 630.5,45.0 635.0,51.7 635.0,60.7 619.2,61.9 608.0,68.6 599.0,72.0 590.0,77.6 581.0,81.0" fill="#ffcb33"/>
<polygon points="646.2,99.0 639.9,101.2 623.7,105.7 601.2,112.5 578.7,121.5 556.2,132.7 533.7,144.0 511.2,155.2 491.0,166.5 473.0,177.7 455.0,189.0 441.5,200.2 430.2,211.5 421.2,222.7 419.0,225.0 423.5,229.5 425.7,241.9 419.0,247.0 405.5,256.5 394.2,263.2 376.2,274.5 362.7,281.2 353.7,276.7 342.5,281.2 326.7,288.0 317.8,292.5 317.8,342.0 646.2,342.0" fill="#ff9933"/>
<polygon points="646.2,119.2 639.9,121.5 623.7,126.0 601.2,137.2 578.7,148.5 556.2,159.7 533.7,171.0 511.2,182.2 493.2,193.5 482.0,204.7 475.2,218.2 468.5,231.7 464.0,241.9 455.0,249.7 437.0,263.2 414.5,276.7 392.0,290.2 369.5,303.7 349.2,317.2 333.5,328.5 326.7,337.5 326.7,342.0 646.2,342.0" fill="#ff7033"/>
<polygon points="646.2,137.2 639.9,139.5 623.7,146.2 601.2,157.5 578.7,168.7 556.2,177.7 533.7,189.0 518.0,198.0 506.7,207.0 497.7,218.2 493.2,231.7 491.0,241.9 486.5,256.5 482.0,270.0 473.0,279.0 459.5,285.7 437.0,297.0 414.5,308.2 394.2,319.5 378.5,328.5 369.5,337.5 369.5,342.0 646.2,342.0" fill="#ff5900"/>
<polygon points="646.2,184.5 639.9,186.7 623.7,191.2 608.0,198.0 590.0,207.0 574.2,213.7 558.5,220.5 545.0,225.0 536.0,234.0 531.5,247.0 527.0,258.7 531.5,270.0 540.5,276.7 558.5,277.9 567.5,270.0 585.5,261.0 601.2,252.0 619.2,243.0 635.0,236.2 646.2,231.7" fill="#e82a22"/>
<polygon points="646.2,285.7 639.9,288.0 623.7,294.7 601.2,306.0 578.7,315.0 563.0,319.5 558.5,317.2 540.5,318.4 531.5,324.0 527.0,337.5 646.2,337.5" fill="#ff7033"/>
<polygon points="646.2,317.2 639.9,319.5 630.5,324.0 621.5,337.5 646.2,337.5" fill="#ff9933"/>
<polygon points="414.5,324.0 422.4,311.6 432.5,315.0 438.1,324.0 430.2,337.5 419.0,337.5" fill="#ff7033"/>
<polygon points="486.5,337.5 493.2,321.7 502.2,308.2 518.0,308.2 519.1,324.0 515.7,337.5" fill="#ff7033"/>
</g>
<clipPath id="cqFBL"><rect x="10.200000000000001" y="334.4" width="310.4" height="336.2"/></clipPath>
<g clip-path="url(#cqFBL)">
<rect x="10.8" y="335" width="309.2" height="335" fill="#ffab33"/>
<polygon points="261.0,332.8 256.5,357.5 255.4,380.0 263.2,402.5 272.2,420.5 273.4,436.2 283.5,452.0 288.0,470.0 294.7,492.5 297.0,515.0 303.7,537.5 299.2,560.0 299.2,582.5 301.5,605.0 297.0,618.5 312.7,620.7 326.2,617.4 326.2,332.8" fill="#ff9933"/>
<polygon points="326.2,355.2 319.9,357.5 312.7,373.2 310.5,391.2 313.9,413.7 319.9,429.5 326.2,429.5" fill="#ff7033"/>
<polygon points="126.0,332.8 166.5,332.8 165.4,348.5 171.0,357.5 173.2,366.5 157.5,366.5 146.2,364.2 146.2,348.5 126.0,344.0" fill="#ff9933"/>
<polygon points="203.6,429.5 216.0,431.7 219.4,445.2 209.2,452.0 203.6,443.0" fill="#ff9933"/>
<polygon points="244.1,506.0 252.0,503.7 250.9,510.5 245.2,511.6" fill="#ff9933"/>
<polygon points="263.2,616.2 272.2,623.0 277.9,650.0 279.0,663.5 265.5,663.5 263.2,638.7" fill="#ff9933"/>
<polygon points="223.9,405.9 226.1,395.7 229.0,407.0" fill="#ffcb33"/>
</g>
<clipPath id="cqFBR"><rect x="319.4" y="334.4" width="321.2" height="336.2"/></clipPath>
<g clip-path="url(#cqFBR)">
<rect x="320" y="335" width="320" height="335" fill="#ff9933"/>
<polygon points="326.7,332.8 601.2,332.8 590.0,348.5 581.0,364.2 576.5,386.7 567.5,402.5 563.0,425.0 569.7,447.5 576.5,463.2 579.9,481.2 582.1,510.5 576.5,533.0 567.5,551.0 563.0,569.0 547.2,587.0 531.5,600.5 518.0,614.0 506.7,629.7 495.5,643.2 477.5,654.5 459.5,661.2 441.5,665.7 410.0,668.0 387.5,670.0 365.0,665.7 361.6,650.0 360.5,627.5 357.1,605.0 353.7,587.0 342.5,571.2 333.5,553.2 329.0,533.0 324.5,515.0 320.0,497.0 317.8,492.5 317.8,341.7" fill="#ff7033"/>
<polygon points="353.7,332.8 342.5,357.5 335.7,380.0 336.9,409.2 335.7,429.5 349.2,443.0 353.7,456.5 365.0,467.7 383.0,481.2 398.7,492.5 412.2,503.7 419.0,519.5 423.5,533.0 423.5,551.0 441.5,563.4 455.0,562.2 482.0,553.2 497.7,537.5 505.6,524.0 507.9,510.5 500.0,494.7 486.5,483.5 473.0,479.0 461.7,470.0 468.5,456.5 477.5,438.5 484.2,425.0 489.9,402.5 477.5,401.4 464.0,402.5 457.2,409.2 443.7,420.5 430.2,419.4 426.9,407.0 439.2,395.7 455.0,386.7 447.1,377.7 448.2,366.5 464.0,353.0 477.5,341.7 482.0,332.8" fill="#ff5900"/>
<polygon points="416.7,332.8 430.2,332.8 422.4,345.1" fill="#ff7033"/>
<polygon points="390.9,377.7 396.5,364.2 398.7,348.5 403.2,341.7 405.5,357.5 406.6,363.1 421.2,365.4 414.5,375.5 403.2,386.7" fill="#e82a22"/>
<polygon points="458.4,366.5 470.7,356.4 464.0,368.7 460.6,371.0" fill="#ffab33"/>
<polygon points="519.1,366.5 529.2,364.2 541.6,365.4 522.5,371.0" fill="#ffab33"/>
<polygon points="608.0,479.0 610.2,467.7 619.2,459.9 635.0,463.2 646.2,467.7 635.0,473.4 619.2,476.7" fill="#ff7033"/>
<polygon points="646.2,607.2 639.9,609.5 623.7,618.5 608.0,632.0 590.0,643.2 576.5,654.5 572.0,663.5 578.7,672.5 646.2,672.5" fill="#ffab33"/>
<polygon points="317.8,598.2 324.5,602.7 329.0,627.5 331.2,650.0 330.1,672.5 317.8,672.5" fill="#ffab33"/>
</g>
<path d="M285.0,-0.3 266.3,19.0 266.3,20.4 285.0,20.4Z" fill="#ff5900" fill-rule="evenodd"/>
<path d="M68.9,19.9 48.7,40.6 48.9,40.6 48.9,61.0 67.6,41.9 67.6,40.5 68.8,39.3 89.6,39.3 89.6,40.6 108.2,40.6 108.2,20.3 108.4,20.1 108.2,20.1 108.2,19.9 108.0,20.1 88.5,20.1 88.5,19.9 88.3,20.1 68.9,20.1ZM266.2,59.5 266.4,59.5 266.4,59.7 266.6,59.5 286.1,59.5 286.1,80.9 284.8,82.1 283.5,82.1 264.9,101.3 284.8,101.3 284.8,101.6 304.9,80.8 304.7,80.8 304.7,60.7 304.9,60.5 304.7,60.5 304.7,40.5 304.9,40.3 304.7,40.3 304.7,40.1 304.5,40.3 285.0,40.3 285.0,20.3 285.3,20.1 285.0,20.1 285.0,-0.3 268.6,16.6 268.6,20.2 266.4,39.5 266.4,59.3Z" fill="#ff7033" fill-rule="evenodd"/>
<path d="M127.5,20.2 108.2,40.1 108.2,20.3 108.4,20.1 108.2,20.1 108.2,19.9 108.0,20.1 88.5,20.1 88.5,19.9 88.3,20.1 68.9,20.1 68.9,19.9 68.6,20.1 48.7,40.6 48.9,40.6 48.9,60.6 9.4,101.3 9.7,101.3 9.7,120.3 67.4,60.8 67.6,60.5 67.4,60.5 65.0,44.5 65.0,40.5 68.8,36.6 92.2,36.6 92.2,40.4 89.8,59.0 89.6,59.3 89.7,59.3 89.7,59.5 90.0,59.3 107.9,59.3 107.9,59.5 146.2,20.1 146.0,20.1 146.0,-0.1 127.5,-0.1ZM29.3,264.0 29.1,264.3 29.3,264.3 29.3,284.6 29.1,284.8 29.3,284.8 29.3,285.0 29.5,284.8 49.2,284.8 49.2,265.6 47.7,265.6 47.7,243.6 29.3,243.6ZM269.0,36.3 269.0,56.6 268.8,56.8 269.0,56.8 269.0,57.0 269.2,56.8 288.7,56.8 288.7,80.9 284.8,84.8 281.0,84.8 265.4,82.3 265.4,82.1 265.1,82.3 245.4,102.7 245.4,121.9 265.3,101.3 284.8,101.3 284.8,101.6 304.9,80.8 304.7,80.8 304.7,60.7 304.9,60.5 304.7,60.5 304.7,40.5 304.9,40.3 304.7,40.3 304.7,40.1 304.5,40.3 285.0,40.3 285.0,20.3 285.3,20.1 285.0,20.1 285.0,0.1 285.3,-0.1 285.0,-0.1 285.0,-0.3 284.8,-0.1 266.6,-0.1 270.9,14.3 270.9,20.2ZM343.7,60.6 323.8,81.1 324.1,81.1 324.1,101.1 323.8,101.3 324.1,101.3 324.1,101.6 324.3,101.3 343.7,101.3 343.7,101.6 363.6,81.1 383.0,81.1 383.0,101.1 382.8,101.3 383.0,101.3 383.0,121.4 363.1,141.9 363.4,141.9 363.4,162.5 381.8,143.4 381.8,141.9 401.6,121.3 401.4,121.3 401.4,62.3 401.6,62.1 401.4,62.1 401.4,61.9 401.2,62.1 382.0,62.0 363.6,64.6 363.6,64.4 345.3,80.8 343.8,82.3 342.5,82.3 342.5,81.0 344.0,79.4 359.9,60.5 359.7,60.5 362.2,41.6 362.1,40.5 382.0,20.1 381.8,20.1 381.8,-0.1 363.4,-0.1 363.4,20.2 343.5,40.6 343.7,40.6Z" fill="#ff9933" fill-rule="evenodd"/>
<path d="M68.9,19.9 48.7,40.6 48.9,40.6 48.9,60.6 9.4,101.3 9.7,101.3 9.7,117.2 64.4,60.8 64.6,60.5 64.3,60.5 62.3,47.2 62.3,40.5 68.8,33.9 94.8,33.9 94.8,40.4 92.8,55.9 92.6,56.2 92.8,56.2 92.7,56.4 93.0,56.2 107.9,56.2 107.9,56.4 143.2,20.1 143.0,20.1 143.0,-0.1 127.5,-0.1 127.5,20.2 108.2,40.1 108.2,20.3 108.4,20.1 108.2,20.1 108.2,19.9 108.0,20.1 88.5,20.1 88.5,19.9 88.3,20.1 68.9,20.1ZM9.7,204.6 9.7,223.2 9.4,223.4 9.7,223.4 9.7,223.7 9.9,223.4 29.3,223.4 29.3,243.7 29.1,243.9 29.3,243.9 29.3,264.1 29.1,264.3 29.3,264.3 29.3,284.6 29.1,284.8 29.3,284.8 29.3,285.0 29.5,284.8 48.9,284.8 48.9,305.1 48.7,305.3 48.9,305.3 48.9,305.5 49.2,305.3 68.6,305.3 68.6,325.6 68.4,325.8 68.6,325.8 68.6,326.1 68.8,325.8 88.2,325.8 88.2,346.2 88.0,346.4 88.2,346.4 88.2,346.6 88.5,346.4 107.9,346.4 107.9,346.6 126.3,327.4 106.4,327.4 106.4,307.1 106.6,306.9 106.4,306.9 106.4,306.7 106.2,306.9 86.8,306.9 86.8,286.6 87.0,286.4 86.8,286.4 86.8,286.2 86.5,286.4 67.1,286.4 67.1,266.1 67.4,265.8 67.1,265.9 67.1,265.7 66.9,265.9 49.1,268.8 44.7,268.8 44.7,243.7 47.5,224.7 47.5,204.8 47.7,204.6 47.5,204.6 47.5,204.4 47.2,204.6ZM206.5,123.0 188.1,141.9 188.3,141.9 188.3,203.0 206.2,203.0 206.2,221.6 207.9,221.6 207.9,223.4 225.8,223.4 225.8,242.0 266.9,242.0 266.9,262.7 285.0,243.9 302.8,243.9 324.3,221.6 326.1,221.6 344.2,202.7 324.3,202.7 324.3,202.5 285.0,243.4 285.0,223.4 285.3,223.1 285.0,223.1 285.0,222.9 284.8,223.1 265.4,223.1 265.4,222.9 265.2,223.1 245.8,223.1 245.8,222.9 245.5,223.1 226.1,223.1 226.1,202.9 226.3,202.7 226.1,202.7 226.1,202.5 225.9,202.7 206.5,202.7 206.5,182.6 206.7,182.3 206.5,182.3 206.5,162.2 206.7,162.0 206.5,162.0 206.5,141.9 225.8,141.9 225.8,142.2 265.3,101.3 284.8,101.3 284.8,101.6 304.9,80.8 304.7,80.8 304.7,60.7 304.9,60.5 304.7,60.5 304.7,40.5 304.9,40.3 304.7,40.3 304.7,40.1 304.5,40.3 285.0,40.3 285.0,20.3 285.3,20.1 285.0,20.1 285.0,0.1 285.3,-0.1 285.0,-0.1 285.0,-0.3 284.8,-0.1 269.6,-0.1 273.2,12.0 273.2,20.2 271.6,34.1 271.7,53.9 271.4,54.1 271.7,54.1 271.7,54.3 271.9,54.1 291.3,54.1 291.3,80.9 284.8,87.5 278.4,87.5 265.4,85.5 265.4,85.2 245.5,105.8 227.7,121.3 225.9,123.2 206.5,123.2ZM245.8,513.2 244.0,513.2 244.0,511.3 225.8,511.3 225.8,532.2 225.6,532.4 225.8,532.4 225.8,532.6 226.0,532.4 245.8,532.4ZM245.4,678.4 245.4,678.6 245.7,678.4 265.4,678.4 265.4,659.1 263.6,659.1 263.6,636.3 245.4,636.3 245.4,657.2 245.3,657.5 245.4,657.5 245.4,678.2 245.3,678.4ZM363.4,20.2 343.5,40.6 343.7,40.6 343.7,60.6 323.8,81.1 324.1,81.1 324.1,101.1 323.8,101.3 324.1,101.3 324.1,101.6 324.3,101.3 343.7,101.3 343.7,101.6 363.6,81.1 383.0,81.1 383.0,101.1 382.8,101.3 383.0,101.3 383.0,121.4 363.1,141.9 363.4,141.9 363.4,162.1 363.1,162.3 363.4,162.3 363.4,182.9 381.5,164.0 381.5,162.0 378.8,146.5 378.8,141.9 398.6,121.3 398.4,121.3 398.4,65.4 398.6,65.2 398.4,65.2 398.4,65.0 398.2,65.2 379.0,65.1 363.6,67.2 363.6,67.1 348.0,81.1 343.8,85.4 339.5,85.4 339.5,81.0 343.7,76.7 357.3,60.5 357.1,60.5 359.2,44.7 359.1,40.5 379.0,20.1 378.8,20.1 378.8,-0.1 363.4,-0.1Z" fill="#ffab33" fill-rule="evenodd"/>
<path d="M68.9,19.9 48.7,40.6 48.9,40.6 48.9,60.6 9.4,101.3 9.7,101.3 9.7,114.0 61.4,60.8 61.5,60.5 61.3,60.5 59.7,49.9 59.7,40.5 68.8,31.2 97.4,31.2 97.4,40.4 95.8,52.8 95.6,53.0 95.8,53.0 95.8,53.3 96.0,53.0 107.9,53.0 107.9,53.3 140.1,20.1 139.9,20.1 139.9,-0.1 127.5,-0.1 127.5,20.2 108.2,40.1 108.2,20.3 108.4,20.1 108.2,20.1 108.2,19.9 108.0,20.1 88.5,20.1 88.5,19.9 88.3,20.1 68.9,20.1ZM9.7,223.2 9.4,223.4 9.7,223.4 9.7,223.7 9.9,223.4 29.3,223.4 29.3,243.7 29.1,243.9 29.3,243.9 29.3,264.1 29.1,264.3 29.3,264.3 29.3,284.6 29.1,284.8 29.3,284.8 29.3,285.0 29.5,284.8 48.9,284.8 48.9,305.1 48.7,305.3 48.9,305.3 48.9,305.5 49.2,305.3 68.6,305.3 68.6,325.6 68.4,325.8 68.6,325.8 68.6,326.1 68.8,325.8 88.2,325.8 88.2,346.2 88.0,346.4 88.2,346.4 88.2,346.6 88.5,346.4 107.9,346.4 107.9,366.8 107.7,367.0 107.9,367.0 107.9,367.2 108.1,367.0 127.5,367.0 127.5,387.4 127.3,387.6 127.5,387.6 127.5,387.8 127.8,387.6 147.2,387.6 147.2,387.8 147.4,387.6 166.8,387.6 166.8,408.0 166.6,408.2 166.8,408.2 166.8,408.4 167.1,408.2 186.5,408.2 186.5,428.6 186.3,428.8 186.5,428.8 186.5,449.3 186.3,449.5 186.5,449.5 186.5,470.0 186.3,470.2 186.5,470.2 186.5,470.4 186.7,470.2 206.2,470.2 206.2,470.4 206.4,470.2 225.8,470.2 225.8,490.7 225.6,490.9 225.8,490.9 225.8,511.4 225.6,511.6 225.8,511.6 225.8,532.2 225.6,532.4 225.8,532.4 225.8,532.6 226.0,532.4 245.4,532.4 245.4,553.0 245.3,553.2 245.4,553.2 245.4,573.8 245.3,574.0 245.4,574.0 245.4,574.2 245.7,574.0 265.1,574.0 265.1,594.6 245.3,615.7 245.4,615.7 245.4,636.3 245.3,636.6 245.4,636.6 245.4,657.2 245.3,657.5 245.4,657.5 245.4,678.2 245.3,678.4 245.4,678.4 245.4,678.6 245.7,678.4 265.1,678.4 265.1,678.6 265.3,678.4 282.9,678.4 282.9,659.7 283.1,659.4 282.9,659.4 282.9,659.2 282.6,659.5 265.2,662.9 260.0,662.9 260.0,636.4 263.3,617.4 263.2,617.5 263.2,615.6 283.1,594.5 282.9,594.5 282.9,555.4 283.1,555.2 282.9,555.2 282.9,555.0 282.7,555.2 263.2,555.2 263.2,513.9 263.5,513.6 263.2,513.6 263.2,513.4 263.0,513.7 245.6,517.0 240.4,517.0 240.4,511.5 243.6,492.6 243.6,492.7 243.6,451.7 243.8,451.5 243.6,451.5 243.6,451.3 243.4,451.5 204.3,451.5 204.3,389.8 204.5,389.6 204.3,389.6 204.3,389.3 204.1,389.6 184.6,389.6 184.6,369.2 184.8,369.0 184.6,369.0 184.6,368.7 184.4,369.0 145.3,369.0 145.3,366.7 142.2,351.9 142.3,351.8 142.1,351.5 141.9,351.7 127.8,348.4 125.7,348.4 125.7,346.1 122.5,331.3 122.7,331.1 122.5,331.1 122.4,331.0 122.3,331.1 102.8,331.1 102.8,310.8 103.0,310.6 102.8,310.6 102.8,310.4 102.6,310.6 83.2,310.6 83.2,290.3 83.4,290.1 83.2,290.1 83.2,289.9 83.0,290.1 63.5,290.1 63.5,269.8 63.8,269.5 63.5,269.6 63.5,269.4 63.3,269.6 49.1,271.9 41.7,271.9 41.7,243.7 44.0,228.4 43.9,208.5 44.1,208.3 43.9,208.3 43.9,208.1 43.7,208.3 9.7,208.3ZM206.5,126.6 191.7,141.9 191.9,141.9 191.9,202.9 188.7,221.0 188.4,221.3 188.6,221.2 188.6,221.5 188.9,221.2 206.3,217.9 211.5,217.9 211.5,223.3 208.3,241.4 208.0,241.7 208.3,241.6 208.3,241.9 208.6,241.6 226.0,238.3 270.5,238.3 270.5,258.5 270.3,258.7 270.5,258.7 270.5,259.0 270.7,258.8 284.8,262.0 284.8,262.3 299.3,243.8 324.3,217.9 329.5,217.9 343.7,221.1 343.7,221.4 344.0,221.2 381.3,182.3 381.1,182.3 377.9,167.7 377.9,162.0 375.7,149.6 375.7,141.9 395.6,121.3 395.4,121.3 395.4,68.5 395.6,68.3 395.4,68.3 395.4,68.1 395.2,68.3 376.0,68.3 363.6,69.9 363.6,69.8 351.0,81.1 343.8,88.6 336.4,88.6 336.4,81.0 343.7,73.5 354.7,60.5 354.5,60.5 356.1,47.8 356.1,40.5 375.9,20.1 375.7,20.1 375.7,-0.1 363.4,-0.1 363.4,20.2 343.5,40.6 343.7,40.6 343.7,60.6 323.8,81.1 324.1,81.1 324.1,101.1 323.8,101.3 324.1,101.3 324.1,101.6 324.3,101.3 343.7,101.3 343.7,101.6 363.6,81.1 383.0,81.1 383.0,101.1 382.8,101.3 383.0,101.3 383.0,121.4 363.1,141.9 363.4,141.9 363.4,162.1 363.1,162.3 363.4,162.3 363.4,182.4 343.8,202.7 324.3,202.7 324.3,202.5 285.0,243.4 285.0,223.4 285.3,223.1 285.0,223.1 285.0,222.9 284.8,223.1 265.4,223.1 265.4,222.9 265.2,223.1 245.8,223.1 245.8,222.9 245.5,223.1 226.1,223.1 226.1,202.9 226.3,202.7 226.1,202.7 226.1,202.5 225.9,202.7 206.5,202.7 206.5,182.6 206.7,182.3 206.5,182.3 206.5,162.2 206.7,162.0 206.5,162.0 206.5,141.9 225.8,141.9 225.8,142.2 265.3,101.3 284.8,101.3 284.8,101.6 304.9,80.8 304.7,80.8 304.7,60.7 304.9,60.5 304.7,60.5 304.7,40.5 304.9,40.3 304.7,40.3 304.7,40.1 304.5,40.3 285.0,40.3 285.0,20.3 285.3,20.1 285.0,20.1 285.0,0.1 285.3,-0.1 285.0,-0.1 285.0,-0.3 284.8,-0.1 272.6,-0.1 275.5,9.6 275.5,20.2 274.2,31.4 274.3,51.2 274.1,51.4 274.3,51.4 274.3,51.6 274.5,51.4 293.9,51.4 293.9,80.9 284.8,90.2 275.7,90.2 265.4,88.6 265.4,88.3 265.1,88.5 245.5,108.9 230.9,121.6 225.9,126.9 206.5,126.9Z" fill="#ffcb33" fill-rule="evenodd"/>
<path d="M68.9,19.9 48.7,40.6 48.9,40.6 48.9,60.6 9.7,101.0 9.4,101.3 9.7,101.3 9.7,110.9 58.3,60.8 58.5,60.5 58.3,60.5 57.1,52.6 57.1,40.5 68.8,28.5 100.0,28.5 100.0,40.4 98.8,49.7 98.6,49.9 98.8,49.9 98.8,50.2 99.0,49.9 107.9,49.9 107.9,50.2 137.1,20.1 136.9,20.1 136.9,-0.1 127.5,-0.1 127.5,20.2 108.2,40.1 108.2,20.3 108.4,20.1 108.2,20.1 108.2,19.9 108.0,20.1 88.5,20.1 88.5,19.9 88.3,20.1 68.9,20.1ZM9.7,223.2 9.4,223.4 9.7,223.4 9.7,223.7 9.9,223.4 29.3,223.4 29.3,243.7 29.1,243.9 29.3,243.9 29.3,264.1 29.1,264.3 29.3,264.3 29.3,284.6 29.1,284.8 29.3,284.8 29.3,285.0 29.5,284.8 48.9,284.8 48.9,305.1 48.7,305.3 48.9,305.3 48.9,305.5 49.2,305.3 68.6,305.3 68.6,325.6 68.4,325.8 68.6,325.8 68.6,326.1 68.8,325.8 88.2,325.8 88.2,346.2 88.0,346.4 88.2,346.4 88.2,346.6 88.5,346.4 107.9,346.4 107.9,366.8 107.7,367.0 107.9,367.0 107.9,367.2 108.1,367.0 127.5,367.0 127.5,387.4 127.3,387.6 127.5,387.6 127.5,387.8 127.8,387.6 147.2,387.6 147.2,387.8 147.4,387.6 166.8,387.6 166.8,408.0 166.6,408.2 166.8,408.2 166.8,408.4 167.1,408.2 186.5,408.2 186.5,428.6 186.3,428.8 186.5,428.8 186.5,449.3 186.3,449.5 186.5,449.5 186.5,470.0 186.3,470.2 186.5,470.2 186.5,470.4 186.7,470.2 206.2,470.2 206.2,470.4 206.4,470.2 225.8,470.2 225.8,490.7 225.6,490.9 225.8,490.9 225.8,511.4 225.6,511.6 225.8,511.6 225.8,532.2 225.6,532.4 225.8,532.4 225.8,532.6 226.0,532.4 245.4,532.4 245.4,553.0 245.3,553.2 245.4,553.2 245.4,573.8 245.3,574.0 245.4,574.0 245.4,574.2 245.7,574.0 265.1,574.0 265.1,594.6 245.3,615.7 245.4,615.7 245.4,636.3 245.3,636.6 245.4,636.6 245.4,657.2 245.3,657.5 245.4,657.5 245.4,678.2 245.3,678.4 245.4,678.4 245.4,678.6 245.7,678.4 265.1,678.4 265.1,678.6 265.3,678.4 278.5,678.4 278.5,664.3 278.8,664.0 278.5,664.1 278.5,663.9 278.3,664.1 265.2,666.7 256.5,666.7 256.5,636.4 258.9,622.0 258.8,622.1 258.8,615.6 278.7,594.5 278.5,594.5 278.5,560.0 278.7,559.8 278.5,559.8 278.5,559.6 278.3,559.8 258.8,559.8 258.8,518.5 259.1,518.2 258.8,518.2 258.8,518.0 258.6,518.3 245.6,520.8 236.8,520.8 236.8,511.5 239.3,497.2 239.2,497.3 239.2,456.3 239.4,456.1 239.2,456.1 239.2,455.9 239.0,456.1 199.9,456.1 199.9,394.3 200.1,394.1 199.9,394.1 199.9,393.9 199.7,394.1 180.2,394.1 180.2,373.7 180.5,373.5 180.2,373.5 180.2,373.3 180.0,373.5 140.9,373.5 140.9,366.7 138.6,355.6 138.7,355.5 138.5,355.3 138.4,355.4 127.8,352.9 121.3,352.9 121.3,346.1 118.9,335.1 119.1,334.9 118.9,334.9 118.9,334.7 118.7,334.9 99.3,334.9 99.3,314.6 99.5,314.3 99.3,314.3 99.3,314.1 99.1,314.3 79.6,314.3 79.6,294.0 79.8,293.8 79.6,293.8 79.6,293.6 79.4,293.8 60.0,293.8 60.0,273.6 60.2,273.3 60.0,273.3 60.0,273.1 59.7,273.3 49.1,275.1 38.7,275.1 38.7,243.7 40.4,232.1 40.3,212.2 40.5,212.0 40.3,212.0 40.3,211.8 40.1,212.0 9.7,212.0ZM206.5,130.3 195.2,141.9 195.4,141.9 195.4,202.9 193.1,216.4 192.8,216.7 193.0,216.7 193.0,216.9 193.3,216.6 206.3,214.2 215.1,214.2 215.1,223.3 212.7,236.8 212.4,237.1 212.7,237.1 212.6,237.4 212.9,237.1 226.0,234.6 274.0,234.6 274.0,254.8 273.9,255.0 274.0,255.0 274.0,255.3 274.2,255.0 284.8,257.5 284.8,257.8 295.7,243.8 324.3,214.2 333.1,214.2 343.7,216.6 343.7,216.9 344.0,216.7 377.0,182.3 376.7,182.3 374.4,171.4 374.4,162.3 372.7,152.7 372.7,141.9 392.6,121.3 392.4,121.3 392.4,71.6 392.6,71.4 392.4,71.4 392.4,71.2 392.2,71.4 373.0,71.4 363.6,72.6 363.6,72.5 354.0,81.1 343.8,91.7 333.4,91.7 333.4,81.0 343.7,70.4 352.0,60.5 351.9,60.5 353.1,50.9 353.1,40.5 372.9,20.1 372.7,20.1 372.7,-0.1 363.4,-0.1 363.4,20.2 343.5,40.6 343.7,40.6 343.7,60.6 323.8,81.1 324.1,81.1 324.1,101.1 323.8,101.3 324.1,101.3 324.1,101.6 324.3,101.3 343.7,101.3 343.7,101.6 363.6,81.1 383.0,81.1 383.0,101.1 382.8,101.3 383.0,101.3 383.0,121.4 363.1,141.9 363.4,141.9 363.4,162.1 363.1,162.3 363.4,162.3 363.4,182.4 343.8,202.7 324.3,202.7 324.3,202.5 285.0,243.4 285.0,223.4 285.3,223.1 285.0,223.1 285.0,222.9 284.8,223.1 265.4,223.1 265.4,222.9 265.2,223.1 245.8,223.1 245.8,222.9 245.5,223.1 226.1,223.1 226.1,202.9 226.3,202.7 226.1,202.7 226.1,202.5 225.9,202.7 206.5,202.7 206.5,182.6 206.7,182.3 206.5,182.3 206.5,162.2 206.7,162.0 206.5,162.0 206.5,141.9 225.8,141.9 225.8,142.2 265.3,101.3 284.8,101.3 284.8,101.6 304.9,80.8 304.7,80.8 304.7,60.7 304.9,60.5 304.7,60.5 304.7,40.5 304.9,40.3 304.7,40.3 304.7,40.1 304.5,40.3 285.0,40.3 285.0,20.3 285.3,20.1 285.0,20.1 285.0,0.1 285.3,-0.1 285.0,-0.1 285.0,-0.3 284.8,-0.1 275.6,-0.1 277.8,7.2 277.8,20.2 276.8,28.8 276.9,48.5 276.7,48.7 276.9,48.7 276.9,48.9 277.1,48.7 296.5,48.7 296.5,80.9 284.8,92.9 273.1,92.9 265.4,91.7 265.4,91.5 265.1,91.7 245.5,112.0 234.5,121.6 225.9,130.6 206.5,130.6Z" fill="#ffe270" fill-rule="evenodd"/>
<path d="M68.9,19.9 48.7,40.6 48.9,40.6 48.9,60.6 9.7,101.0 9.4,101.3 9.7,101.3 9.7,107.8 55.3,60.8 55.5,60.5 55.3,60.5 54.5,55.3 54.5,40.5 68.8,25.8 102.7,25.8 102.7,40.4 101.9,46.6 101.6,46.8 101.8,46.8 101.8,47.1 102.1,46.8 107.9,46.8 107.9,47.0 134.1,20.1 133.9,20.1 133.9,-0.1 127.5,-0.1 127.5,20.2 108.2,40.1 108.2,20.3 108.4,20.1 108.2,20.1 108.2,19.9 108.0,20.1 88.5,20.1 88.5,19.9 88.3,20.1 68.9,20.1ZM9.7,223.2 9.4,223.4 9.7,223.4 9.7,223.7 9.9,223.4 29.3,223.4 29.3,243.7 29.1,243.9 29.3,243.9 29.3,264.1 29.1,264.3 29.3,264.3 29.3,284.6 29.1,284.8 29.3,284.8 29.3,285.0 29.5,284.8 48.9,284.8 48.9,305.1 48.7,305.3 48.9,305.3 48.9,305.5 49.2,305.3 68.6,305.3 68.6,325.6 68.4,325.8 68.6,325.8 68.6,326.1 68.8,325.8 88.2,325.8 88.2,346.2 88.0,346.4 88.2,346.4 88.2,346.6 88.5,346.4 107.9,346.4 107.9,366.8 107.7,367.0 107.9,367.0 107.9,367.2 108.1,367.0 127.5,367.0 127.5,387.4 127.3,387.6 127.5,387.6 127.5,387.8 127.8,387.6 147.2,387.6 147.2,387.8 147.4,387.6 166.8,387.6 166.8,408.0 166.6,408.2 166.8,408.2 166.8,408.4 167.1,408.2 186.5,408.2 186.5,428.6 186.3,428.8 186.5,428.8 186.5,449.3 186.3,449.5 186.5,449.5 186.5,470.0 186.3,470.2 186.5,470.2 186.5,470.4 186.7,470.2 206.2,470.2 206.2,470.4 206.4,470.2 225.8,470.2 225.8,490.7 225.6,490.9 225.8,490.9 225.8,511.4 225.6,511.6 225.8,511.6 225.8,532.2 225.6,532.4 225.8,532.4 225.8,532.6 226.0,532.4 245.4,532.4 245.4,553.0 245.3,553.2 245.4,553.2 245.4,573.8 245.3,574.0 245.4,574.0 245.4,574.2 245.7,574.0 265.1,574.0 265.1,594.6 245.3,615.7 245.4,615.7 245.4,636.3 245.3,636.6 245.4,636.6 245.4,657.2 245.3,657.5 245.4,657.5 245.4,678.2 245.3,678.4 245.4,678.4 245.4,678.6 245.7,678.4 265.1,678.4 265.1,678.6 265.3,678.4 274.1,678.4 274.1,669.0 274.4,668.7 274.1,668.7 274.1,668.5 273.9,668.8 265.2,670.5 252.9,670.5 252.9,636.4 254.6,626.7 254.5,626.7 254.5,615.6 274.3,594.5 274.1,594.5 274.1,564.6 274.3,564.4 274.1,564.4 274.1,564.2 273.9,564.4 254.5,564.4 254.5,523.1 254.8,522.8 254.5,522.8 254.5,522.6 254.3,522.9 245.6,524.5 233.2,524.5 233.2,511.5 234.9,501.8 234.8,501.9 234.8,460.9 235.0,460.7 234.8,460.7 234.8,460.5 234.6,460.7 195.5,460.7 195.5,398.9 195.7,398.7 195.5,398.7 195.5,398.5 195.3,398.7 175.9,398.7 175.9,378.3 176.1,378.1 175.9,378.1 175.9,377.9 175.7,378.1 136.6,378.1 136.6,367.0 135.0,359.4 135.1,359.2 134.9,359.0 134.8,359.2 127.5,357.5 116.9,357.5 117.0,346.4 115.4,338.8 115.5,338.6 115.3,338.6 115.3,338.5 115.1,338.6 95.7,338.6 95.7,318.3 95.9,318.1 95.7,318.1 95.7,317.9 95.5,318.1 76.0,318.1 76.0,297.8 76.2,297.6 76.0,297.6 76.0,297.3 75.8,297.6 56.4,297.6 56.4,277.3 56.7,277.0 56.4,277.0 56.4,276.8 56.2,277.1 49.1,278.2 35.6,278.2 35.6,243.7 36.8,235.9 36.7,215.9 36.9,215.7 36.7,215.7 36.7,215.5 36.5,215.7 9.7,215.7ZM206.5,134.0 198.8,141.9 199.0,141.9 199.0,202.9 197.4,211.9 197.1,212.2 197.4,212.1 197.3,212.4 197.6,212.1 206.3,210.5 218.7,210.5 218.7,223.3 217.1,232.3 216.8,232.6 217.0,232.6 217.0,232.8 217.3,232.5 226.0,230.9 277.6,230.9 277.6,251.1 277.5,251.3 277.6,251.3 277.6,251.5 277.8,251.3 284.8,252.9 284.8,253.3 292.2,243.8 324.3,210.5 336.7,210.5 343.7,212.1 343.7,212.3 344.0,212.1 372.6,182.3 372.4,182.3 370.8,175.1 370.8,162.3 369.7,155.9 369.7,141.9 389.5,121.3 389.3,121.3 389.3,74.8 389.6,74.5 389.3,74.5 389.3,74.3 389.1,74.5 370.0,74.5 363.6,75.3 363.6,75.2 357.1,81.1 343.8,94.8 330.4,94.8 330.4,81.0 343.7,67.3 349.4,60.5 349.3,60.5 350.1,54.0 350.0,40.5 369.9,20.1 369.7,20.1 369.7,-0.1 363.4,-0.1 363.4,20.2 343.5,40.6 343.7,40.6 343.7,60.6 323.8,81.1 324.1,81.1 324.1,101.1 323.8,101.3 324.1,101.3 324.1,101.6 324.3,101.3 343.7,101.3 343.7,101.6 363.6,81.1 383.0,81.1 383.0,101.1 382.8,101.3 383.0,101.3 383.0,121.4 363.1,141.9 363.4,141.9 363.4,162.1 363.1,162.3 363.4,162.3 363.4,182.4 343.8,202.7 324.3,202.7 324.3,202.5 285.0,243.4 285.0,223.4 285.3,223.1 285.0,223.1 285.0,222.9 284.8,223.1 265.4,223.1 265.4,222.9 265.2,223.1 245.8,223.1 245.8,222.9 245.5,223.1 226.1,223.1 226.1,202.9 226.3,202.7 226.1,202.7 226.1,202.5 225.9,202.7 206.5,202.7 206.5,182.6 206.7,182.3 206.5,182.3 206.5,162.2 206.7,162.0 206.5,162.0 206.5,141.9 225.8,141.9 225.8,142.2 265.3,101.3 284.8,101.3 284.8,101.6 304.9,80.8 304.7,80.8 304.7,60.7 304.9,60.5 304.7,60.5 304.7,40.5 304.9,40.3 304.7,40.3 304.7,40.1 304.5,40.3 285.0,40.3 285.0,20.3 285.3,20.1 285.0,20.1 285.0,0.1 285.3,-0.1 285.0,-0.1 285.0,-0.3 284.8,-0.1 278.7,-0.1 280.1,4.8 280.1,20.2 279.5,26.1 279.5,45.8 279.3,46.0 279.5,46.0 279.5,46.2 279.7,46.0 299.2,46.0 299.2,80.9 284.8,95.6 270.5,95.6 265.4,94.8 265.4,94.6 265.1,94.8 245.5,115.1 238.1,121.6 225.9,134.3 206.5,134.3Z" fill="#fff4d4" fill-rule="evenodd"/>
<path d="M9.7,60.5 9.4,60.8 9.7,60.8 9.7,80.9 9.4,81.1 9.7,81.1 9.7,101.1 9.4,101.3 9.7,101.3 9.7,104.7 52.3,60.8 52.5,60.5 52.3,60.5 51.9,58.0 51.9,40.5 68.8,23.1 105.3,23.1 105.3,40.4 104.9,43.5 104.7,43.7 104.9,43.7 104.8,44.0 105.1,43.7 107.9,43.7 107.9,43.9 131.1,20.1 130.9,20.1 130.9,-0.1 127.8,-0.1 127.8,-0.3 127.6,-0.1 108.2,-0.1 108.2,-0.3 108.0,-0.1 88.5,-0.1 88.5,-0.3 88.3,-0.1 68.9,-0.1 68.9,-0.3 68.7,-0.1 49.2,-0.1 49.2,-0.3 49.0,-0.1 29.6,-0.1 29.6,-0.3 29.4,-0.1 9.7,-0.1 9.7,20.2 9.4,20.4 9.7,20.4 9.7,40.4 9.4,40.6 9.7,40.6ZM9.7,223.2 9.4,223.4 9.7,223.4 9.7,243.7 9.4,243.9 9.7,243.9 9.7,264.1 9.4,264.3 9.7,264.3 9.7,284.6 9.4,284.8 9.7,284.8 9.7,305.1 9.4,305.3 9.7,305.3 9.7,325.6 9.4,325.8 9.7,325.8 9.7,346.2 9.4,346.4 9.7,346.4 9.7,366.8 9.4,367.0 9.7,367.0 9.7,387.4 9.4,387.6 9.7,387.6 9.7,408.0 9.4,408.2 9.7,408.2 9.7,428.6 9.5,428.8 9.7,428.8 9.7,449.3 9.5,449.5 9.7,449.5 9.7,470.0 9.5,470.2 9.7,470.2 9.7,490.7 9.5,490.9 9.7,490.9 9.7,511.4 9.5,511.6 9.7,511.6 9.7,532.2 9.5,532.4 9.7,532.4 9.7,553.0 9.5,553.2 9.7,553.2 9.7,573.8 9.5,574.0 9.7,574.0 9.7,594.6 9.5,594.8 9.7,594.8 9.7,615.5 9.5,615.7 9.7,615.7 9.7,636.3 9.5,636.6 9.7,636.6 9.7,657.2 9.5,657.5 9.7,657.5 9.7,678.2 9.5,678.4 9.7,678.4 9.7,678.6 9.9,678.4 29.3,678.4 29.3,678.6 29.5,678.4 48.9,678.4 48.9,678.6 49.2,678.4 68.6,678.4 68.6,678.6 68.8,678.4 88.2,678.4 88.2,678.6 88.5,678.4 107.9,678.4 107.9,678.6 108.1,678.4 127.5,678.4 127.5,678.6 127.8,678.4 147.2,678.4 147.2,678.6 147.4,678.4 166.8,678.4 166.8,678.6 167.1,678.4 186.5,678.4 186.5,678.6 186.7,678.4 206.2,678.4 206.2,678.6 206.4,678.4 225.8,678.4 225.8,678.6 226.0,678.4 245.4,678.4 245.4,678.6 245.7,678.4 265.1,678.4 265.1,678.6 265.3,678.4 269.8,678.4 269.8,673.6 270.0,673.3 269.8,673.4 269.8,673.2 269.5,673.4 265.2,674.3 249.3,674.3 249.3,636.4 250.2,631.3 250.1,631.4 250.1,615.6 270.0,594.5 269.8,594.5 269.8,569.3 270.0,569.1 269.8,569.1 269.8,568.8 269.6,569.1 250.1,569.1 250.1,527.7 250.4,527.4 250.1,527.5 250.1,527.3 249.9,527.5 245.6,528.3 229.7,528.3 229.7,511.5 230.5,506.4 230.5,506.5 230.5,465.5 230.7,465.3 230.5,465.3 230.5,465.1 230.3,465.3 191.2,465.3 191.2,403.5 191.4,403.3 191.2,403.3 191.2,403.1 191.0,403.3 171.5,403.3 171.5,382.9 171.7,382.7 171.5,382.7 171.5,382.5 171.3,382.7 132.2,382.7 132.3,367.0 131.4,363.1 131.6,363.0 131.4,362.8 131.2,362.9 127.5,362.1 112.6,362.1 112.6,346.4 111.8,342.6 112.0,342.4 111.7,342.4 111.7,342.2 111.6,342.4 92.1,342.4 92.1,322.0 92.3,321.8 92.1,321.8 92.1,321.6 91.9,321.8 72.5,321.8 72.5,301.5 72.7,301.3 72.5,301.3 72.5,301.1 72.3,301.3 52.8,301.3 52.8,281.0 53.1,280.7 52.8,280.8 52.8,280.6 52.6,280.8 49.1,281.4 32.6,281.4 32.6,243.7 33.2,239.6 33.2,219.6 33.4,219.4 33.2,219.4 33.2,219.2 33.0,219.4 9.7,219.4ZM202.6,141.9 202.6,202.9 201.8,207.3 201.5,207.7 201.7,207.6 201.7,207.9 202.0,207.6 206.3,206.7 222.2,206.7 222.2,223.3 221.4,227.8 221.1,228.1 221.4,228.0 221.4,228.3 221.7,228.0 226.0,227.2 281.2,227.2 281.2,247.4 281.0,247.5 281.2,247.6 281.2,247.8 281.4,247.6 284.8,248.4 284.8,248.7 288.6,243.8 324.3,206.7 340.3,206.7 343.7,207.5 343.7,207.8 368.1,182.6 368.2,182.3 368.0,182.3 367.2,178.8 367.3,162.3 366.7,159.0 366.7,141.9 386.5,121.3 386.3,121.3 386.3,77.9 386.5,77.7 386.3,77.7 386.3,77.4 386.1,77.7 366.9,77.6 363.6,78.0 363.6,77.9 360.1,81.1 343.8,97.9 327.4,97.9 327.4,81.0 343.7,64.2 346.8,60.5 346.6,60.5 347.1,57.1 347.0,40.5 366.9,20.1 366.7,20.1 366.7,-0.1 363.6,-0.1 363.6,-0.3 363.4,-0.1 344.0,-0.1 344.0,-0.3 343.8,-0.1 324.3,-0.1 324.3,-0.3 324.1,-0.1 304.7,-0.1 304.7,-0.3 304.5,-0.1 285.0,-0.1 285.0,-0.3 284.8,-0.1 281.7,-0.1 282.4,2.5 282.4,20.2 282.1,23.4 282.1,43.1 281.9,43.3 282.1,43.3 282.1,43.5 282.3,43.3 301.8,43.3 301.8,80.9 284.8,98.3 267.9,98.3 265.4,97.9 265.4,97.7 265.1,97.9 245.5,118.2 241.6,121.6 225.9,138.0 206.5,138.0 206.5,137.7 206.2,138.0 202.4,141.9Z" fill="#ffffff" fill-rule="evenodd"/>
<line x1="157.2" y1="0" x2="157.2" y2="666.3" stroke="#000" stroke-opacity="0.09" stroke-width="1"/>
<line x1="314.4" y1="0" x2="314.4" y2="666.3" stroke="#000" stroke-opacity="0.09" stroke-width="1"/>
<line x1="471.6" y1="0" x2="471.6" y2="666.3" stroke="#000" stroke-opacity="0.09" stroke-width="1"/>
<line x1="628.8" y1="0" x2="628.8" y2="666.3" stroke="#000" stroke-opacity="0.09" stroke-width="1"/>
<line x1="0" y1="584.2" x2="638.6" y2="584.2" stroke="#000" stroke-opacity="0.09" stroke-width="1"/>
<line x1="0" y1="418.3" x2="638.6" y2="418.3" stroke="#000" stroke-opacity="0.09" stroke-width="1"/>
<line x1="0" y1="253.9" x2="638.6" y2="253.9" stroke="#000" stroke-opacity="0.09" stroke-width="1"/>
<line x1="0" y1="91.0" x2="638.6" y2="91.0" stroke="#000" stroke-opacity="0.09" stroke-width="1"/>
<polygon points="-13.4,-13.7 106.8,-13.7 106.8,1.7 106.4,9.1 102.1,10.4 97.4,11.5 92.7,15.1 87.3,15.5 83.9,19.8 79.2,21.9 75.9,24.5 70.5,26.6 65.8,28.6 60.4,29.9 59.1,31.9 62.5,34.0 58.4,35.3 53.1,37.3 49.7,40.7 47.0,43.4 46.3,48.1 47.0,53.4 46.3,58.8 45.7,64.2 43.7,68.9 40.3,71.6 36.3,73.2 31.6,74.2 28.2,76.9 23.5,82.3 18.8,87.7 14.8,92.7 9.4,93.4 5.4,94.4 1.3,91.7 -13.4,91.7" fill="#e6e6e6" stroke="#000" stroke-width="1.5" stroke-linejoin="round"/>
<polygon points="-9.0,221.6 1.8,222.7 7.9,229.5 13.5,234.0 19.1,240.3 24.7,244.1 28.8,243.0 33.7,245.2 37.1,249.7 40.0,253.8 41.6,258.7 38.7,267.7 37.1,275.6 40.5,282.4 43.9,288.0 47.2,294.3 50.6,299.2 55.8,304.2 60.7,309.4 67.5,314.5 74.2,318.3 79.2,322.2 83.2,326.2 87.7,335.0 93.4,340.8 99.0,346.2 108.0,355.0 117.0,363.1 126.0,369.0 135.0,375.5 144.0,383.4 149.6,387.4 155.2,390.1 157.5,396.0 162.0,399.1 167.6,400.5 173.2,402.5 173.7,408.3 175.5,412.6 181.1,418.9 186.7,425.0 191.2,433.1 195.7,440.7 201.4,449.5 207.0,457.6 213.3,463.0 219.4,467.7 221.6,472.5 225.0,475.6 227.7,479.2 229.5,483.5 227.2,488.2 227.7,492.5 231.3,504.0 235.1,513.9 238.9,519.7 241.9,526.2 241.2,535.5 243.0,544.2 245.7,552.3 248.6,560.0 250.9,567.0 253.1,573.5 255.4,579.3 256.5,584.7 256.9,592.8 258.7,600.5 256.9,609.7 256.0,618.5 257.8,627.7 258.7,636.5 259.2,643.4 261.0,650.0 263.7,659.2 266.6,667.5 267.7,677.2 -9.0,677.2" fill="#e6e6e6" stroke="#000" stroke-width="1.5" stroke-linejoin="round"/>
<polygon points="249.1,112.8 249.8,107.5 255.8,103.4 258.5,98.7 265.2,101.4 271.9,103.4 276.0,102.8 277.3,96.7 284.0,92.7 292.1,90.0 297.5,92.7 301.5,94.7 306.9,92.7 310.9,96.0 314.2,98.7 318.9,94.0 324.3,90.0 327.0,86.6 332.4,86.0 339.1,85.3 343.1,84.0 348.5,86.6 355.2,89.3 359.9,88.7 360.6,84.0 364.6,81.9 368.0,77.9 371.3,84.0 376.7,89.3 383.4,91.3 388.1,89.3 390.1,98.1 392.8,107.5 396.2,119.5 388.8,124.2 383.4,128.3 379.4,128.9 378.0,133.0 372.7,138.4 368.6,142.4 366.0,149.1 363.3,155.8 360.6,161.2 359.9,167.9 357.9,173.3 355.2,180.0 355.9,188.0 351.2,192.1 345.8,196.1 340.4,198.8 333.7,202.8 328.3,206.9 323.0,212.2 318.9,217.6 314.9,219.6 308.2,221.6 300.1,221.0 296.1,223.0 294.1,228.3 292.1,233.7 286.7,237.1 282.0,239.8 279.3,235.7 274.6,235.7 270.6,231.0 262.5,229.0 254.5,228.3 247.8,227.0 243.7,223.6 235.7,221.6 229.0,218.3 222.2,214.9 215.5,211.6 210.8,208.2 211.5,200.1 212.2,192.1 208.8,185.4 206.8,178.6 207.5,170.6 205.4,163.9 207.5,157.2 206.8,150.4 210.1,142.4 216.9,139.7 224.9,134.3 233.0,128.9 241.0,122.9 247.8,118.2 251.8,114.2" fill="#e6e6e6" stroke="#000" stroke-width="1.5" stroke-linejoin="round"/>
<polygon points="290.1,-13.7 290.1,1.7 291.1,6.4 289.4,11.1 288.4,15.8 290.7,21.2 294.4,21.9 295.8,24.5 295.1,28.6 296.8,33.3 294.4,37.3 295.8,39.3 299.5,40.7 301.5,45.4 300.8,48.7 304.8,50.7 308.9,52.8 308.2,56.8 306.2,58.8 306.5,62.2 309.6,63.5 310.2,67.5 308.5,70.9 308.9,72.6 312.9,68.9 317.6,66.9 321.6,68.9 325.0,71.9 328.4,71.6 332.4,68.9 337.1,70.9 341.8,68.2 346.5,65.9 350.5,62.2 353.9,58.8 355.9,55.4 356.6,52.1 354.5,48.1 352.9,43.4 351.2,40.0 347.8,37.3 344.5,34.6 345.5,29.9 344.5,25.2 340.4,22.5 335.7,21.9 331.0,22.5 328.4,22.9 328.0,19.2 328.4,13.1 331.0,11.8 333.7,13.1 337.8,11.5 342.5,10.4 347.2,10.1 351.2,11.5 353.9,15.1 356.6,17.5 359.2,19.8 363.3,20.5 365.3,16.2 362.3,14.1 359.9,17.2 357.2,15.8 356.6,11.8 357.2,6.4 359.2,2.4 359.9,-13.7" fill="#e6e6e6" stroke="#000" stroke-width="1.5" stroke-linejoin="round"/>
<polyline points="-1.3,33.3 1.3,34.0 4.0,37.3 8.7,40.0 12.1,45.4 14.8,50.7 17.5,55.4 20.1,60.1 21.5,64.2 26.2,60.8 30.2,64.2 36.3,68.2 40.3,66.9 43.7,68.9" fill="none" stroke="#000" stroke-width="2.3" stroke-linejoin="round"/>
<polygon points="274.6,143.7 276.6,139.0 281.3,139.7 284.0,143.1 289.4,145.1 286.7,148.4 281.3,145.7 276.0,147.1" fill="#e6e6e6" stroke="#000" stroke-width="1.3"/>
<path d="M43.0,29.9 48.4,33.3 53.1,35.3M40.3,47.4 44.3,48.1 47.0,46.0M41.6,54.8 45.7,54.1M56.4,26.6 60.4,30.6 63.1,34.6 64.5,37.0M8.7,93.1 10.1,87.7M14.8,92.7 16.8,83.6M42.3,76.3 47.0,73.2M137.0,7.8 139.7,11.8 137.7,15.1M142.4,9.8 145.1,7.8 146.4,9.8 143.7,12.1 142.4,9.8M167.6,430.8 172.1,428.6 177.7,429.3 183.4,427.5 180.0,431.5 185.6,433.1 187.9,436.5M112.5,363.3 121.5,369.0 129.4,373.5 126.0,376.2 132.7,377.5M140.6,387.0 145.1,385.2 150.3,388.8 148.5,394.2 143.5,394.2 140.6,387.0M167.6,407.7 171.0,403.8 177.7,405.0 182.7,408.3 180.0,412.2 175.0,413.5 174.4,407.2M205.9,460.8 210.4,459.0 211.5,463.9 207.0,464.8 205.9,460.8M225.0,488.2 228.4,491.6 229.9,486.0M247.5,571.5 251.5,570.3 252.4,574.2 248.6,575.1 247.5,571.5M253.1,594.0 259.2,594.0 260.1,605.2 254.2,605.7 253.1,594.0M255.4,618.7 258.7,623.7 256.0,627.7 261.0,629.9 258.3,635.6 262.1,640.1 258.7,645.2 262.8,649.1M253.8,621.4 256.9,626.8 253.8,631.7 258.7,634.4 255.4,641.2 259.9,646.8M-1.1,600.7 3.4,605.2 4.9,609.7 1.8,613.1 -1.1,615.3M4.5,621.4 11.2,619.8 18.0,617.6M-1.1,647.9 3.4,651.3 6.3,658.1 6.7,664.8 2.2,667.7M88.9,345.3 92.2,343.8 92.7,346.5 89.5,347.6 88.9,345.3M192.4,420.3 195.3,418.9 199.1,421.2 198.4,425.7 195.3,423.0M241.9,465.7 244.1,466.8M243.4,469.1 247.5,470.2 246.4,468.4M253.1,112.8 257.2,108.8 260.5,110.8 257.8,112.8 259.8,115.5M357.2,90.0 360.6,88.7 363.3,92.7 361.9,96.7 359.5,94.0M378.0,122.9 383.4,121.6 382.1,126.9M349.2,186.7 352.5,182.0 356.6,189.4 351.9,189.4 349.2,186.7M312.9,219.6 316.3,217.6 318.9,220.0 316.0,222.3 312.9,219.6M289.4,231.0 292.8,229.7 293.4,233.0M355.2,161.2 359.2,159.2M341.8,201.5 346.5,196.1M300.1,92.7 302.2,96.0M311.6,96.7 314.9,98.1M329.7,13.1 332.4,7.8 335.7,5.1 338.4,3.1M331.0,11.1 335.1,8.4 337.8,5.7M332.4,13.1 336.4,9.8 339.1,7.1 340.4,3.7M327.0,11.1 329.7,9.8 331.7,5.7M297.5,34.6 300.8,33.3 302.5,34.3 300.1,35.6 297.5,34.6M293.8,21.9 295.1,20.5 296.1,22.9M306.9,52.8 309.6,50.1 310.6,53.4 313.6,54.8 316.3,55.1 315.6,58.8 317.6,60.8 314.3,61.2 312.9,58.8 310.9,58.1 308.9,59.5M304.2,58.8 306.9,58.1M339.1,29.3 341.1,31.3 339.8,33.3 342.5,34.6 340.4,37.3 343.8,37.3 345.8,40.0 347.8,42.7 350.5,43.4M338.4,36.0 341.8,39.3M346.5,34.6 348.5,34.3M360.9,46.7 361.6,45.4M357.9,64.8 360.6,62.2 360.9,60.5M337.1,16.8 338.4,17.5M333.4,19.5 334.4,19.8" fill="none" stroke="#000" stroke-width="1.3" stroke-linejoin="round" stroke-linecap="round"/>
<path d="M81.0,14.6 81.6,13.6 82.5,12.6 84.6,12.3 84.8,14.0 84.9,15.4 83.4,16.5 81.4,16.0ZM76.7,10.2 75.2,12.1 73.3,10.6 73.9,9.2 75.6,8.8ZM46.7,12.9 47.3,11.6 49.2,11.4 51.1,12.3 51.2,14.1 49.2,14.7 47.4,15.6 45.7,14.4ZM77.2,15.3 79.8,14.4 81.1,13.8 84.0,13.3 83.7,15.6 83.6,17.8 80.9,17.4 78.3,17.4ZM67.7,29.7 67.1,27.6 68.8,26.2 70.4,27.4 71.9,28.5 69.9,29.0ZM67.9,14.6 69.3,14.1 70.3,15.1 71.1,16.0 71.6,18.5 68.6,18.2 66.9,17.1 66.6,15.5ZM83.7,19.3 83.0,15.3 87.7,13.6 89.9,16.8 87.6,18.5ZM85.8,10.9 85.7,12.8 85.8,14.6 83.6,15.4 81.7,14.5 80.9,13.0 81.2,11.1 83.4,10.1ZM74.9,19.2 76.1,19.4 76.5,19.9 76.6,20.8 75.3,21.3 74.1,20.3ZM59.3,15.7 58.4,14.6 58.9,12.6 61.3,13.4 62.4,14.8 61.7,17.1ZM67.7,17.5 65.6,16.0 68.0,14.9 69.7,15.5 70.4,17.5ZM56.4,18.6 56.7,17.7 57.9,17.0 59.3,17.8 58.7,19.0 57.3,19.5ZM67.6,21.1 68.7,20.7 68.9,21.7 68.9,22.2 68.3,22.4 67.7,22.3 67.5,21.8ZM91.2,16.4 89.8,17.1 88.7,16.2 89.1,15.2 89.5,13.9 90.9,14.5 92.1,15.4ZM86.4,30.3 86.4,28.4 88.4,26.8 90.2,28.8 88.6,30.3ZM61.7,20.7 62.2,21.4 61.8,22.2 60.5,23.4 59.0,22.3 59.4,21.0 60.1,20.3 61.2,19.5ZM86.6,31.8 87.2,32.9 87.4,33.5 87.1,34.1 86.2,34.4 84.8,34.4 84.9,33.3 85.4,32.4ZM70.1,16.3 68.7,14.4 69.8,12.3 72.8,13.0 71.8,14.8ZM71.5,11.1 72.2,9.7 73.1,9.4 73.7,10.0 73.5,11.0ZM92.4,8.8 91.6,10.5 89.1,10.8 89.2,8.9 90.6,6.7ZM53.0,8.9 51.4,10.3 51.1,8.4 51.6,7.4 54.1,7.1ZM67.9,11.7 66.1,11.4 64.6,10.4 65.7,9.0 67.5,9.2 68.8,10.3ZM72.3,26.5 73.2,26.5 75.5,27.0 73.7,28.1 72.0,28.6 71.1,27.3ZM63.4,10.0 62.0,11.6 58.8,11.6 58.5,9.1 58.9,7.0 61.4,6.0 63.2,7.5 64.9,8.7ZM62.9,14.8 61.5,14.7 60.4,14.9 60.3,13.9 60.9,13.4 62.1,12.6 62.1,13.9ZM58.6,11.0 56.9,10.4 57.7,9.1 60.0,8.3 59.9,10.3ZM85.2,10.7 83.2,10.6 80.1,9.0 83.3,7.4 86.5,6.8 88.5,9.5ZM75.7,9.0 77.1,10.5 76.1,12.0 74.1,11.6 73.3,9.8ZM95.7,13.5 93.7,13.9 91.7,14.1 91.4,12.4 93.0,11.6 94.6,12.0ZM57.2,20.4 57.3,18.7 59.1,18.6 61.4,19.4 59.5,21.1ZM72.8,8.3 74.0,6.6 75.1,8.3 75.5,9.8 73.7,9.9 72.8,9.3ZM71.7,11.4 71.1,12.5 70.5,13.2 69.1,13.7 67.4,13.0 67.8,11.5 69.2,11.0 70.5,10.6ZM83.0,26.0 81.9,28.0 78.0,27.9 79.2,25.0 80.3,22.4 84.5,23.1ZM84.0,16.0 86.2,14.7 89.0,15.0 89.7,17.1 88.4,18.4 87.3,19.1 85.9,18.8 84.2,18.0ZM80.0,10.4 80.0,8.2 80.7,5.9 83.6,6.6 84.1,8.2 84.2,9.5 82.7,9.8ZM77.4,10.7 78.8,6.5 83.2,7.6 85.6,10.4 81.7,11.8ZM55.6,16.1 56.1,16.9 55.1,17.3 54.3,16.9 53.6,16.5 53.8,15.8 54.3,14.9 55.1,15.8ZM56.4,18.9 56.9,19.5 56.5,20.4 55.4,20.1 54.6,19.5 55.5,18.8ZM76.4,28.8 78.2,26.4 81.7,27.4 82.0,30.1 79.7,31.4 77.5,30.6ZM81.7,34.1 82.5,33.4 83.6,33.8 84.3,34.6 83.2,35.0 82.5,35.6 81.5,35.0ZM64.3,20.4 61.5,20.3 59.4,20.2 57.2,18.6 58.9,16.7 61.1,15.6 63.6,16.3 64.7,18.2ZM74.4,19.4 77.3,19.3 77.4,21.5 77.4,23.6 74.7,24.6 72.3,23.0 71.0,20.3ZM58.8,24.8 61.5,21.9 65.6,22.8 65.8,26.2 62.0,26.9ZM78.8,22.4 80.7,24.7 78.9,27.0 76.2,27.1 74.5,25.9 73.1,23.9 75.3,21.7ZM74.0,13.4 72.0,13.1 71.1,12.1 69.5,10.7 71.8,10.2 73.0,10.1 75.0,10.3 74.4,11.8ZM79.6,11.2 80.4,10.9 81.8,10.7 81.4,11.8 80.7,12.2 79.6,13.0 79.0,11.9ZM63.3,24.1 60.4,22.3 62.4,19.9 65.0,19.8 67.6,20.9 66.0,22.9ZM65.5,19.7 67.0,19.6 67.1,20.7 67.0,22.0 65.3,22.5 63.7,21.5 64.4,20.2ZM59.7,13.9 60.1,15.0 59.2,16.1 58.1,15.2 56.8,14.3 58.3,13.7ZM89.1,21.3 87.5,20.8 87.6,19.6 88.2,18.9 88.9,18.2 90.2,18.5 90.1,19.5 89.9,20.2ZM87.9,14.3 88.0,13.3 87.5,12.6 88.6,12.6 89.4,12.5 90.0,13.0 89.7,13.7 88.9,13.9ZM67.9,24.7 66.5,23.8 66.9,22.2 68.8,22.8 70.4,22.5 70.8,23.9 69.2,24.4ZM67.2,26.2 64.2,26.2 61.7,25.2 63.4,23.2 63.5,21.6 65.9,20.2 67.7,22.1 68.2,24.0ZM60.1,8.7 60.3,9.7 60.2,11.9 58.3,10.3 57.0,9.6 57.8,8.5 59.1,8.2ZM79.5,28.2 77.7,26.2 79.9,24.4 82.2,24.7 83.3,25.6 86.2,26.8 84.0,28.4 81.8,28.4ZM77.4,21.8 77.3,24.0 74.5,25.0 73.1,22.8 74.6,20.4ZM50.3,17.5 48.8,15.0 48.3,12.4 52.3,12.5 53.4,15.5ZM47.8,9.7 47.9,8.4 49.5,8.2 50.6,8.8 52.8,9.7 52.3,11.9 49.5,12.6 46.6,11.9ZM117.0,9.3 118.6,8.3 120.2,9.7 119.4,11.8 115.9,11.6ZM111.3,9.9 110.9,8.4 112.4,8.0 113.9,8.6 112.7,9.4ZM106.3,8.8 104.7,9.6 103.7,8.2 104.7,7.4 106.0,6.5 107.1,7.7ZM110.2,15.2 111.6,14.3 112.8,13.1 114.7,13.7 114.7,15.2 114.3,16.4 112.8,17.5 111.1,16.6ZM114.8,6.7 115.5,8.2 113.9,9.0 112.5,8.5 111.4,7.3 112.9,6.1ZM114.8,15.8 113.4,15.4 112.5,13.7 114.5,12.9 115.9,13.7 118.1,13.8 117.9,15.5 116.6,16.9ZM107.9,6.5 109.8,7.4 109.9,10.2 105.5,10.3 106.5,7.5ZM104.1,12.0 102.0,11.7 100.3,11.3 101.9,10.5 103.0,10.5ZM121.4,6.6 120.2,5.3 122.2,5.5 122.8,6.1 122.5,7.1ZM115.8,20.4 115.9,19.6 117.0,19.2 117.4,20.1 117.7,20.7 117.2,21.3 116.0,21.3ZM119.5,2.7 121.7,1.2 123.9,1.7 126.1,3.3 123.5,4.5 121.5,4.2ZM119.5,9.2 118.2,9.6 116.5,9.2 116.7,7.7 118.4,7.0 119.1,8.2ZM112.3,10.1 110.6,9.5 111.3,8.2 111.9,7.6 113.3,7.1 113.6,8.3 114.3,9.8ZM107.6,5.2 106.8,6.1 105.8,5.2 105.9,4.1 107.2,3.8 108.6,4.3ZM117.9,7.3 119.7,6.6 120.8,5.6 122.6,6.1 122.3,7.6 121.6,8.4 120.4,10.1 119.0,8.6ZM113.2,22.4 115.2,23.5 117.3,24.3 115.8,25.8 114.2,25.8 113.0,25.4 111.6,24.0ZM112.4,25.4 109.7,24.2 112.3,23.0 114.9,22.5 114.1,24.5ZM114.7,12.5 114.5,11.7 115.2,11.1 116.8,10.0 117.8,11.5 117.8,13.3 115.6,13.7ZM113.5,12.6 112.2,11.8 111.1,10.3 112.9,9.2 115.2,9.2 116.3,10.8 114.8,11.9ZM106.1,12.8 107.2,13.6 108.6,13.7 108.3,14.8 107.1,14.9 106.3,15.0 105.2,14.7 104.9,13.5ZM122.3,5.9 119.8,5.4 119.3,3.6 119.6,1.9 121.7,1.9 123.7,1.5 126.0,2.9 124.7,5.1ZM104.0,16.0 101.9,17.4 101.5,15.3 100.6,13.4 103.1,13.3 105.4,13.3 106.1,15.3ZM114.2,18.9 115.5,19.9 114.6,21.3 112.8,21.6 110.7,21.5 109.3,19.7 110.9,18.0 113.0,17.8ZM108.6,17.2 107.3,17.9 106.8,18.8 105.3,18.8 104.1,17.7 104.9,16.4 106.2,15.6 107.2,16.8ZM123.3,7.7 121.3,5.6 121.9,3.6 124.3,2.6 125.1,4.5 126.2,6.3ZM115.1,14.6 114.1,15.5 112.7,16.3 111.9,15.0 112.3,13.8 113.6,14.2Z" fill="#e6e6e6" stroke="#000" stroke-width="1.5" stroke-linejoin="round"/>
<path d="M134.9,80.5l1.2,-0.9 1.2,0.9 -1.2,0.9ZM250.3,18.0l1.2,-0.9 1.2,0.9 -1.2,0.9ZM263.2,234.4l1.2,-0.9 1.2,0.9 -1.2,0.9ZM103.4,658.1l1.2,-0.9 1.2,0.9 -1.2,0.9ZM313.8,219.4l1.2,-0.9 1.2,0.9 -1.2,0.9ZM43.8,74.2l1.2,-0.9 1.2,0.9 -1.2,0.9ZM114.3,31.9l1.2,-0.9 1.2,0.9 -1.2,0.9Z" fill="#000" stroke="#000" stroke-width="0.8"/>
<rect x="324" y="244.3" width="235.6" height="247" fill="none" stroke="#000" stroke-width="5.2"/>
<path d="M0.0,0v7M0.0,666.3v-7" stroke="#000" stroke-width="2"/>
<path d="M157.2,0v7M157.2,666.3v-7" stroke="#000" stroke-width="2"/>
<path d="M314.4,0v7M314.4,666.3v-7" stroke="#000" stroke-width="2"/>
<path d="M471.6,0v7M471.6,666.3v-7" stroke="#000" stroke-width="2"/>
<path d="M628.8,0v7M628.8,666.3v-7" stroke="#000" stroke-width="2"/>
<path d="M0,584.2h7M638.6,584.2h-7" stroke="#000" stroke-width="2"/>
<path d="M0,418.3h7M638.6,418.3h-7" stroke="#000" stroke-width="2"/>
<path d="M0,253.9h7M638.6,253.9h-7" stroke="#000" stroke-width="2"/>
<path d="M0,91.0h7M638.6,91.0h-7" stroke="#000" stroke-width="2"/>
</g>
<rect x="1717.1" y="803.2" width="638.6" height="666.3" fill="none" stroke="#000" stroke-width="2.6"/>
<text transform="translate(1742.7,1442.8) scale(0.9,1)" font-family="Noto Sans CJK SC, Liberation Sans, sans-serif" font-weight="bold" font-size="55" fill="#000">F</text>
<text x="1727.5" y="788.0" font-family="Liberation Sans, Arial, sans-serif" font-weight="bold" font-size="43" fill="#000">Relative TotalCumInt</text>
<rect x="2376.9" y="1402.87" width="41.1" height="67.13" fill="#ffffff"/>
<rect x="2376.9" y="1336.24" width="41.1" height="67.13" fill="#fff4d4"/>
<rect x="2376.9" y="1269.61" width="41.1" height="67.13" fill="#ffe270"/>
<rect x="2376.9" y="1202.98" width="41.1" height="67.13" fill="#ffcb33"/>
<rect x="2376.9" y="1136.35" width="41.1" height="67.13" fill="#ffab33"/>
<rect x="2376.9" y="1069.72" width="41.1" height="67.13" fill="#ff9933"/>
<rect x="2376.9" y="1003.09" width="41.1" height="67.13" fill="#ff7033"/>
<rect x="2376.9" y="936.46" width="41.1" height="67.13" fill="#ff5900"/>
<rect x="2376.9" y="869.83" width="41.1" height="67.13" fill="#e82a22"/>
<rect x="2376.9" y="803.20" width="41.1" height="67.13" fill="#c92116"/>
<line x1="2413.0" y1="1402.87" x2="2418.0" y2="1402.87" stroke="#000" stroke-width="1.2"/>
<line x1="2413.0" y1="1336.24" x2="2418.0" y2="1336.24" stroke="#000" stroke-width="1.2"/>
<line x1="2413.0" y1="1269.61" x2="2418.0" y2="1269.61" stroke="#000" stroke-width="1.2"/>
<line x1="2413.0" y1="1202.98" x2="2418.0" y2="1202.98" stroke="#000" stroke-width="1.2"/>
<line x1="2413.0" y1="1136.35" x2="2418.0" y2="1136.35" stroke="#000" stroke-width="1.2"/>
<line x1="2413.0" y1="1069.72" x2="2418.0" y2="1069.72" stroke="#000" stroke-width="1.2"/>
<line x1="2413.0" y1="1003.09" x2="2418.0" y2="1003.09" stroke="#000" stroke-width="1.2"/>
<line x1="2413.0" y1="936.46" x2="2418.0" y2="936.46" stroke="#000" stroke-width="1.2"/>
<line x1="2413.0" y1="869.83" x2="2418.0" y2="869.83" stroke="#000" stroke-width="1.2"/>
<rect x="2376.9" y="803.2" width="41.1" height="666.3" fill="none" stroke="#222" stroke-width="1.2"/>
<text transform="translate(2417.3,1480.6) scale(0.975,1)" font-family="Liberation Serif, Times New Roman, serif" font-weight="bold" font-size="47.3" fill="#000">0</text>
<text transform="translate(2420.3,1351.8) scale(0.975,1)" font-family="Liberation Serif, Times New Roman, serif" font-weight="bold" font-size="47.3" fill="#000">0.4</text>
<text transform="translate(2420.3,1218.6) scale(0.975,1)" font-family="Liberation Serif, Times New Roman, serif" font-weight="bold" font-size="47.3" fill="#000">0.8</text>
<text transform="translate(2420.3,1085.3) scale(0.975,1)" font-family="Liberation Serif, Times New Roman, serif" font-weight="bold" font-size="47.3" fill="#000">1.2</text>
<text transform="translate(2420.3,952.1) scale(0.975,1)" font-family="Liberation Serif, Times New Roman, serif" font-weight="bold" font-size="47.3" fill="#000">1.6</text>
<text transform="translate(2417.3,825.3) scale(0.975,1)" font-family="Liberation Serif, Times New Roman, serif" font-weight="bold" font-size="47.3" fill="#000">2</text>
<text x="1732.4" y="1504.8" text-anchor="middle" font-family="Liberation Sans, Arial, sans-serif" font-weight="bold" font-size="35.6" fill="#000">106°E</text>
<text x="1889.6" y="1504.8" text-anchor="middle" font-family="Liberation Sans, Arial, sans-serif" font-weight="bold" font-size="35.6" fill="#000">108°E</text>
<text x="2046.8" y="1504.8" text-anchor="middle" font-family="Liberation Sans, Arial, sans-serif" font-weight="bold" font-size="35.6" fill="#000">110°E</text>
<text x="2204.0" y="1504.8" text-anchor="middle" font-family="Liberation Sans, Arial, sans-serif" font-weight="bold" font-size="35.6" fill="#000">112°E</text>
<text x="2361.2" y="1504.8" text-anchor="middle" font-family="Liberation Sans, Arial, sans-serif" font-weight="bold" font-size="35.6" fill="#000">114°E</text>
</svg>
</body></html>
